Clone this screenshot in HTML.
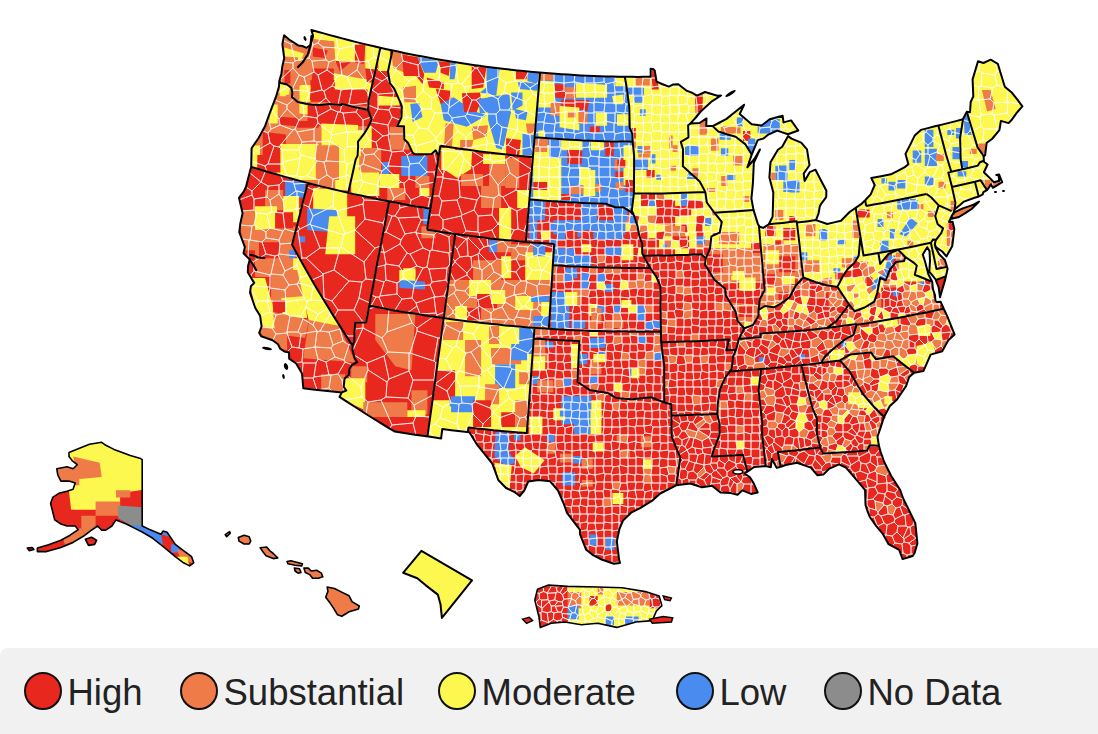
<!DOCTYPE html>
<html><head><meta charset="utf-8"><style>
html,body{margin:0;padding:0;background:#fff;width:1098px;height:734px;overflow:hidden}
svg{position:absolute;left:0;top:0}
.legend{position:absolute;left:0;top:648px;width:1110px;height:100px;background:#f1f1f1;border-radius:8px}
.it{position:absolute;top:24px;height:38px;font-family:"Liberation Sans",sans-serif;font-size:36.5px;color:#222;line-height:38px;white-space:nowrap}
.tx{position:relative;top:2px}
.dot{display:inline-block;width:34px;height:34px;border:2px solid #111;border-radius:50%;vertical-align:top;margin-right:5.5px}
</style></head><body>
<svg width="1098" height="734" viewBox="0 0 1098 734">
<defs><clipPath id="land"><path d="M284.1 35.3L282.4 44.3L284.2 58.2L282.3 66.5L281.4 73.9L279.3 81.1L279.0 86.5L276.0 96.7L269.2 114.6L264.9 126.6L258.6 138.0L251.6 148.3L251.2 166.9L249.8 172.0L246.1 186.5L243.9 191.3L239.0 197.8L242.6 213.2L240.3 223.6L239.3 232.1L244.9 247.1L243.5 253.3L249.8 259.6L248.1 265.7L247.8 272.2L251.5 278.6L254.2 282.9L250.9 286.3L250.0 292.6L255.3 308.0L260.1 315.8L261.6 326.5L259.1 332.8L261.2 336.2L272.6 340.3L278.0 344.3L280.2 348.7L284.4 351.5L289.0 352.4L289.2 358.6L296.2 363.5L302.0 373.5L302.7 381.2L303.3 388.2L312.9 389.4L322.6 390.4L332.2 391.4L341.8 392.4L339.5 396.9L347.2 401.9L355.1 407.0L362.9 412.0L370.8 417.0L378.8 421.9L386.8 426.8L394.9 431.6L404.1 433.1L413.4 434.5L422.6 435.8L431.9 437.1L441.1 438.4L442.3 429.0L451.3 430.2L460.4 431.3L469.4 432.3L476.8 444.3L484.1 453.4L492.3 463.7L498.3 480.0L506.0 488.0L514.1 491.8L519.7 496.0L524.3 490.5L528.3 481.4L538.5 479.9L550.1 481.3L558.0 490.5L564.0 504.3L567.0 512.8L573.5 521.4L580.0 529.9L579.9 534.0L586.2 549.8L593.1 555.1L601.7 559.5L613.8 563.8L620.0 562.9L619.1 559.8L616.8 541.2L619.5 528.8L623.0 520.6L631.6 512.3L640.1 508.2L651.9 500.9L660.2 493.5L676.2 485.3L690.1 483.5L702.0 487.2L712.0 485.8L720.7 492.6L730.8 493.1L737.6 494.8L742.4 490.3L751.1 493.9L757.7 492.4L753.7 483.3L749.9 477.3L744.7 473.5L747.4 471.6L754.2 467.0L765.7 466.1L770.8 467.3L771.8 458.8L776.7 467.9L780.7 466.9L785.6 465.0L797.0 462.8L810.8 467.6L817.5 475.3L823.3 474.6L829.3 468.6L835.7 465.8L838.9 464.3L846.0 467.6L858.0 481.7L865.1 490.2L865.5 504.8L867.0 509.8L869.7 516.7L876.3 526.2L882.6 533.6L888.6 544.2L899.2 549.8L902.6 559.1L912.7 556.0L914.8 552.5L917.4 543.3L915.3 523.2L907.3 506.7L903.4 499.0L900.2 490.0L891.1 475.7L884.2 462.0L880.7 452.0L878.9 445.8L877.5 436.7L880.9 426.6L884.0 417.0L885.5 414.2L889.9 406.0L897.0 399.5L906.0 386.1L909.2 377.0L914.2 372.8L923.4 371.1L930.6 354.6L942.2 351.2L948.3 340.2L954.6 334.5L947.0 315.6L943.7 308.7L940.7 301.8L937.2 302.1L935.4 300.8L935.0 295.4L933.0 289.3L932.2 281.9L930.8 279.0L928.3 274.1L924.8 260.7L922.8 254.6L927.2 247.2L929.5 251.0L930.0 260.7L929.3 271.7L935.4 279.1L938.6 287.1L940.0 297.2L945.3 279.1L947.6 268.8L944.9 260.0L939.2 254.3L935.5 247.6L934.8 244.4L936.2 247.4L942.3 251.5L946.4 256.4L952.3 245.9L954.3 229.1L952.6 221.8L949.0 222.0L951.4 216.6L953.5 212.9L954.7 209.3L960.3 204.7L963.9 201.6L974.6 197.7L978.1 196.8L982.8 194.3L983.4 192.1L987.0 190.1L989.1 187.3L990.8 184.2L992.9 187.8L1002.2 182.1L999.1 174.6L996.3 174.9L998.4 174.8L999.3 180.7L993.9 182.2L990.9 179.1L983.9 172.2L987.6 164.5L984.0 161.8L983.6 156.4L985.1 155.3L986.7 142.7L992.0 139.0L999.4 130.2L1000.9 120.9L1008.6 123.1L1011.3 120.3L1016.7 112.8L1022.4 106.3L1017.8 100.2L1011.4 92.2L1004.8 86.7L1001.3 75.2L997.8 63.8L990.7 59.7L983.4 63.0L978.0 61.3L972.6 79.4L973.3 96.4L970.7 102.0L970.0 112.3L966.8 111.8L962.9 119.2L956.0 121.1L949.0 122.9L942.0 124.6L934.9 126.3L927.9 128.1L920.9 129.9L914.7 135.6L909.9 145.4L905.5 153.9L908.4 164.2L904.8 167.1L897.8 170.8L890.9 174.3L881.1 176.2L871.3 178.0L874.7 185.0L870.7 194.4L865.2 200.3L861.1 204.2L849.6 212.0L841.0 220.8L834.1 222.4L827.2 224.0L816.0 220.1L818.6 213.3L819.8 206.3L821.5 203.3L826.2 197.2L826.4 190.7L820.9 180.3L815.5 169.7L809.7 172.2L804.6 180.9L803.7 173.5L809.5 165.2L807.0 149.4L801.2 142.7L791.6 138.6L788.0 136.2L782.2 146.7L777.9 149.8L770.5 162.3L769.4 177.4L773.3 192.4L773.0 204.5L772.6 216.7L768.8 224.3L763.1 227.9L759.1 226.5L757.7 223.4L753.5 209.9L751.4 198.6L752.9 183.3L753.8 162.9L759.9 149.5L754.7 158.5L747.4 167.3L751.7 154.6L757.7 140.1L763.5 138.5L767.8 134.9L777.2 130.6L787.9 134.3L798.3 130.5L791.1 120.4L783.5 122.4L782.6 115.7L776.1 117.5L769.7 119.3L761.6 125.5L751.7 124.3L739.7 114.0L744.1 104.7L736.3 111.1L726.5 118.9L719.7 122.5L712.7 126.1L706.2 125.9L706.5 118.4L699.6 123.0L690.5 123.4L695.8 117.5L700.7 111.5L712.2 101.1L721.1 95.5L717.3 95.7L710.8 93.8L705.0 92.0L697.0 95.6L691.8 92.6L686.7 90.7L682.8 87.7L678.3 84.3L673.3 84.4L668.9 86.6L662.0 84.0L656.6 81.6L654.7 70.4L653.1 69.0L650.6 68.8L650.7 76.8L644.3 76.8L637.9 76.9L631.6 76.8L625.2 76.8L618.8 76.7L612.5 76.5L606.1 76.4L599.8 76.2L593.4 75.9L587.1 75.7L580.7 75.4L574.3 75.0L568.0 74.6L561.6 74.2L555.3 73.8L548.9 73.3L542.6 72.8L536.3 72.3L529.9 71.7L523.6 71.1L517.3 70.4L510.9 69.7L504.6 69.0L498.3 68.3L492.0 67.5L485.7 66.7L479.4 65.8L473.1 64.9L466.8 64.0L460.5 63.0L454.2 62.0L447.9 61.0L441.6 60.0L435.4 58.9L429.1 57.7L422.8 56.6L416.6 55.4L410.3 54.2L404.1 52.9L397.9 51.6L391.7 50.3L385.4 48.9L379.2 47.5L373.0 46.1L366.8 44.6L360.6 43.1L354.5 41.6L348.3 40.0L342.1 38.4L336.0 36.8L329.8 35.1L323.7 33.4L317.6 31.7L311.4 29.9L313.1 35.9L310.5 45.0L306.5 47.8L302.4 46.0L298.2 45.4L289.1 39.5ZM951.6 218.8L958.9 217.0L965.3 213.1L971.6 209.0L979.1 201.6L973.5 204.6L969.4 206.1L962.7 208.4L954.8 212.1L951.9 215.4Z"/></clipPath><clipPath id="ak"><path d="M69.0 452.5L81.3 447.4L89.5 444.3L101.7 442.3L105.8 445.3L114.0 449.4L122.2 452.5L130.3 455.5L140.6 458.6L142.2 459.6L142.2 526.0L146.7 528.1L150.8 530.1L161.0 534.2L163.0 531.1L167.1 532.2L175.3 544.4L183.5 550.6L191.6 556.7L193.7 562.8L189.6 565.9L183.5 562.8L175.3 556.7L163.0 546.5L152.8 538.3L142.6 532.2L134.4 528.1L126.3 524.0L116.0 519.9L111.9 526.0L105.8 530.1L101.7 530.1L97.6 526.0L91.5 530.1L83.3 536.3L73.1 542.4L60.9 547.5L46.6 551.6L37.4 551.6L37.4 548.1L48.6 544.8L60.9 540.3L70.1 535.2L78.2 529.7L75.2 526.0L67.0 526.0L60.9 524.0L54.7 519.9L52.7 511.7L50.6 503.6L52.7 497.4L58.8 493.3L67.0 491.3L73.1 489.3L75.2 483.1L69.0 481.1L60.9 481.1L57.8 475.0L56.8 468.8L67.0 466.8L73.1 468.8L77.2 464.7L72.1 460.6L69.0 456.6ZM85.4 539.3L91.5 537.3L96.6 540.3L94.6 544.4L88.5 545.4ZM27.2 548.1L32.3 547.5L33.9 549.5L29.2 550.6Z"/></clipPath><clipPath id="pr"><path d="M537.5 589.2L548.5 585.1L567.6 586.4L597.7 587.0L622.2 587.8L646.8 591.9L659.1 596.0L661.9 605.6L656.4 611.0L652.3 620.6L635.9 622.0L616.8 627.4L597.7 623.3L581.3 624.7L564.9 622.0L551.2 623.3L540.3 627.4L538.9 616.5L534.8 600.1Z"/></clipPath></defs>
<path d="M284.1 35.3L282.4 44.3L284.2 58.2L282.3 66.5L281.4 73.9L279.3 81.1L279.0 86.5L276.0 96.7L269.2 114.6L264.9 126.6L258.6 138.0L251.6 148.3L251.2 166.9L249.8 172.0L246.1 186.5L243.9 191.3L239.0 197.8L242.6 213.2L240.3 223.6L239.3 232.1L244.9 247.1L243.5 253.3L249.8 259.6L248.1 265.7L247.8 272.2L251.5 278.6L254.2 282.9L250.9 286.3L250.0 292.6L255.3 308.0L260.1 315.8L261.6 326.5L259.1 332.8L261.2 336.2L272.6 340.3L278.0 344.3L280.2 348.7L284.4 351.5L289.0 352.4L289.2 358.6L296.2 363.5L302.0 373.5L302.7 381.2L303.3 388.2L312.9 389.4L322.6 390.4L332.2 391.4L341.8 392.4L339.5 396.9L347.2 401.9L355.1 407.0L362.9 412.0L370.8 417.0L378.8 421.9L386.8 426.8L394.9 431.6L404.1 433.1L413.4 434.5L422.6 435.8L431.9 437.1L441.1 438.4L442.3 429.0L451.3 430.2L460.4 431.3L469.4 432.3L476.8 444.3L484.1 453.4L492.3 463.7L498.3 480.0L506.0 488.0L514.1 491.8L519.7 496.0L524.3 490.5L528.3 481.4L538.5 479.9L550.1 481.3L558.0 490.5L564.0 504.3L567.0 512.8L573.5 521.4L580.0 529.9L579.9 534.0L586.2 549.8L593.1 555.1L601.7 559.5L613.8 563.8L620.0 562.9L619.1 559.8L616.8 541.2L619.5 528.8L623.0 520.6L631.6 512.3L640.1 508.2L651.9 500.9L660.2 493.5L676.2 485.3L690.1 483.5L702.0 487.2L712.0 485.8L720.7 492.6L730.8 493.1L737.6 494.8L742.4 490.3L751.1 493.9L757.7 492.4L753.7 483.3L749.9 477.3L744.7 473.5L747.4 471.6L754.2 467.0L765.7 466.1L770.8 467.3L771.8 458.8L776.7 467.9L780.7 466.9L785.6 465.0L797.0 462.8L810.8 467.6L817.5 475.3L823.3 474.6L829.3 468.6L835.7 465.8L838.9 464.3L846.0 467.6L858.0 481.7L865.1 490.2L865.5 504.8L867.0 509.8L869.7 516.7L876.3 526.2L882.6 533.6L888.6 544.2L899.2 549.8L902.6 559.1L912.7 556.0L914.8 552.5L917.4 543.3L915.3 523.2L907.3 506.7L903.4 499.0L900.2 490.0L891.1 475.7L884.2 462.0L880.7 452.0L878.9 445.8L877.5 436.7L880.9 426.6L884.0 417.0L885.5 414.2L889.9 406.0L897.0 399.5L906.0 386.1L909.2 377.0L914.2 372.8L923.4 371.1L930.6 354.6L942.2 351.2L948.3 340.2L954.6 334.5L947.0 315.6L943.7 308.7L940.7 301.8L937.2 302.1L935.4 300.8L935.0 295.4L933.0 289.3L932.2 281.9L930.8 279.0L928.3 274.1L924.8 260.7L922.8 254.6L927.2 247.2L929.5 251.0L930.0 260.7L929.3 271.7L935.4 279.1L938.6 287.1L940.0 297.2L945.3 279.1L947.6 268.8L944.9 260.0L939.2 254.3L935.5 247.6L934.8 244.4L936.2 247.4L942.3 251.5L946.4 256.4L952.3 245.9L954.3 229.1L952.6 221.8L949.0 222.0L951.4 216.6L953.5 212.9L954.7 209.3L960.3 204.7L963.9 201.6L974.6 197.7L978.1 196.8L982.8 194.3L983.4 192.1L987.0 190.1L989.1 187.3L990.8 184.2L992.9 187.8L1002.2 182.1L999.1 174.6L996.3 174.9L998.4 174.8L999.3 180.7L993.9 182.2L990.9 179.1L983.9 172.2L987.6 164.5L984.0 161.8L983.6 156.4L985.1 155.3L986.7 142.7L992.0 139.0L999.4 130.2L1000.9 120.9L1008.6 123.1L1011.3 120.3L1016.7 112.8L1022.4 106.3L1017.8 100.2L1011.4 92.2L1004.8 86.7L1001.3 75.2L997.8 63.8L990.7 59.7L983.4 63.0L978.0 61.3L972.6 79.4L973.3 96.4L970.7 102.0L970.0 112.3L966.8 111.8L962.9 119.2L956.0 121.1L949.0 122.9L942.0 124.6L934.9 126.3L927.9 128.1L920.9 129.9L914.7 135.6L909.9 145.4L905.5 153.9L908.4 164.2L904.8 167.1L897.8 170.8L890.9 174.3L881.1 176.2L871.3 178.0L874.7 185.0L870.7 194.4L865.2 200.3L861.1 204.2L849.6 212.0L841.0 220.8L834.1 222.4L827.2 224.0L816.0 220.1L818.6 213.3L819.8 206.3L821.5 203.3L826.2 197.2L826.4 190.7L820.9 180.3L815.5 169.7L809.7 172.2L804.6 180.9L803.7 173.5L809.5 165.2L807.0 149.4L801.2 142.7L791.6 138.6L788.0 136.2L782.2 146.7L777.9 149.8L770.5 162.3L769.4 177.4L773.3 192.4L773.0 204.5L772.6 216.7L768.8 224.3L763.1 227.9L759.1 226.5L757.7 223.4L753.5 209.9L751.4 198.6L752.9 183.3L753.8 162.9L759.9 149.5L754.7 158.5L747.4 167.3L751.7 154.6L757.7 140.1L763.5 138.5L767.8 134.9L777.2 130.6L787.9 134.3L798.3 130.5L791.1 120.4L783.5 122.4L782.6 115.7L776.1 117.5L769.7 119.3L761.6 125.5L751.7 124.3L739.7 114.0L744.1 104.7L736.3 111.1L726.5 118.9L719.7 122.5L712.7 126.1L706.2 125.9L706.5 118.4L699.6 123.0L690.5 123.4L695.8 117.5L700.7 111.5L712.2 101.1L721.1 95.5L717.3 95.7L710.8 93.8L705.0 92.0L697.0 95.6L691.8 92.6L686.7 90.7L682.8 87.7L678.3 84.3L673.3 84.4L668.9 86.6L662.0 84.0L656.6 81.6L654.7 70.4L653.1 69.0L650.6 68.8L650.7 76.8L644.3 76.8L637.9 76.9L631.6 76.8L625.2 76.8L618.8 76.7L612.5 76.5L606.1 76.4L599.8 76.2L593.4 75.9L587.1 75.7L580.7 75.4L574.3 75.0L568.0 74.6L561.6 74.2L555.3 73.8L548.9 73.3L542.6 72.8L536.3 72.3L529.9 71.7L523.6 71.1L517.3 70.4L510.9 69.7L504.6 69.0L498.3 68.3L492.0 67.5L485.7 66.7L479.4 65.8L473.1 64.9L466.8 64.0L460.5 63.0L454.2 62.0L447.9 61.0L441.6 60.0L435.4 58.9L429.1 57.7L422.8 56.6L416.6 55.4L410.3 54.2L404.1 52.9L397.9 51.6L391.7 50.3L385.4 48.9L379.2 47.5L373.0 46.1L366.8 44.6L360.6 43.1L354.5 41.6L348.3 40.0L342.1 38.4L336.0 36.8L329.8 35.1L323.7 33.4L317.6 31.7L311.4 29.9L313.1 35.9L310.5 45.0L306.5 47.8L302.4 46.0L298.2 45.4L289.1 39.5ZM951.6 218.8L958.9 217.0L965.3 213.1L971.6 209.0L979.1 201.6L973.5 204.6L969.4 206.1L962.7 208.4L954.8 212.1L951.9 215.4Z" fill="#e8281e"/>
<g clip-path="url(#land)">
<path d="M379.2 47.5L373.0 46.1L366.8 44.6L360.6 43.1L354.5 41.6L348.3 40.0L342.1 38.4L336.0 36.8L329.8 35.1L323.7 33.4L317.6 31.7L311.4 29.9L313.1 35.9L310.5 45.0L306.5 47.8L302.4 46.0L298.2 45.4L289.1 39.5L284.1 35.3L282.4 44.3L284.2 58.2L282.3 66.5L281.4 73.9L279.3 81.1L280.7 83.0L287.1 84.5L291.5 88.1L292.3 92.7L292.0 97.0L297.8 102.0L304.6 103.4L311.5 104.7L320.9 105.1L329.4 104.0L341.3 104.9L341.7 103.9L348.3 105.5L354.9 107.1L361.5 108.6L368.1 110.1L368.5 101.1L371.5 87.7L374.5 74.4L377.4 61.1L380.4 47.8L380.4 47.8Z" fill="#ef7b49"/><path d="M279.0 86.5L276.0 96.7L269.2 114.6L264.9 126.6L258.6 138.0L251.6 148.3L251.2 166.9L257.9 168.9L264.7 171.0L271.5 173.0L278.3 174.9L285.2 176.9L292.0 178.7L298.8 180.6L305.7 182.4L307.9 183.0L312.5 184.2L319.4 185.9L326.3 187.6L333.2 189.3L340.1 190.9L347.0 192.5L348.2 192.8L350.7 181.7L353.2 170.7L355.6 159.6L357.6 155.7L358.1 147.1L358.0 141.6L363.8 134.2L367.9 127.5L371.7 119.6L368.1 110.1L361.5 108.6L354.9 107.1L348.3 105.5L341.7 103.9L341.3 104.9L329.4 104.0L320.9 105.1L311.5 104.7L304.6 103.4L297.8 102.0L292.0 97.0L292.3 92.7L291.5 88.1L287.1 84.5L280.7 83.0L279.3 81.1Z" fill="#ef7b49"/><path d="M249.8 172.0L246.1 186.5L243.9 191.3L239.0 197.8L242.6 213.2L240.3 223.6L239.3 232.1L244.9 247.1L243.5 253.3L249.8 259.6L248.1 265.7L247.8 272.2L251.5 278.6L254.2 282.9L250.9 286.3L250.0 292.6L255.3 308.0L260.1 315.8L261.6 326.5L259.1 332.8L261.2 336.2L272.6 340.3L278.0 344.3L280.2 348.7L284.4 351.5L289.0 352.4L289.2 358.6L296.2 363.5L302.0 373.5L302.7 381.2L303.3 388.2L312.9 389.4L322.6 390.4L332.2 391.4L341.8 392.4L346.3 390.5L343.7 386.8L344.6 378.4L348.8 374.9L349.6 368.6L351.8 365.2L357.2 362.2L354.5 357.8L352.3 348.8L352.5 345.6L346.0 335.6L339.6 325.6L333.3 315.6L327.1 305.6L321.0 295.5L315.0 285.4L309.1 275.3L303.3 265.1L297.7 255.0L292.1 244.8L294.7 234.5L297.3 224.2L300.0 213.9L302.6 203.6L305.2 193.3L307.9 183.0L307.9 183.0L305.7 182.4L298.8 180.6L292.0 178.7L285.2 176.9L278.3 174.9L271.5 173.0L264.7 171.0L257.9 168.9L251.2 166.9Z" fill="#e8281e"/><path d="M347.0 192.5L340.1 190.9L333.2 189.3L326.3 187.6L319.4 185.9L312.5 184.2L307.9 183.0L307.9 183.0L305.2 193.3L302.6 203.6L300.0 213.9L297.3 224.2L294.7 234.5L292.1 244.8L297.7 255.0L303.3 265.1L309.1 275.3L315.0 285.4L321.0 295.5L327.1 305.6L333.3 315.6L339.6 325.6L346.0 335.6L352.5 345.6L354.2 341.6L354.5 332.0L355.2 322.4L366.1 322.4L368.4 310.3L369.2 305.7L370.7 298.2L373.0 286.2L375.2 274.1L377.5 262.0L379.9 249.9L382.2 237.7L384.5 225.6L386.8 213.5L389.1 201.4L389.1 201.4L388.6 201.3L381.6 199.9L374.7 198.5L367.7 197.1L360.8 195.6L353.9 194.1L348.2 192.8Z" fill="#e8281e"/><path d="M391.7 50.3L385.4 48.9L380.4 47.8L380.4 47.8L377.4 61.1L374.5 74.4L371.5 87.7L368.5 101.1L368.1 110.1L371.7 119.6L367.9 127.5L363.8 134.2L358.0 141.6L358.1 147.1L357.6 155.7L355.6 159.6L353.2 170.7L350.7 181.7L348.2 192.8L353.9 194.1L360.8 195.6L367.7 197.1L374.7 198.5L381.6 199.9L388.6 201.3L389.1 201.4L395.5 202.6L402.5 203.9L409.5 205.2L416.4 206.4L423.4 207.6L430.4 208.7L432.1 198.2L433.7 187.7L435.4 177.2L437.0 166.7L438.7 156.2L435.6 150.3L431.6 153.9L420.6 154.2L415.1 154.3L412.7 152.8L408.3 143.3L404.3 139.3L404.0 126.3L397.3 126.1L401.5 117.2L401.8 106.4L400.5 102.9L394.2 88.6L390.0 83.4L388.0 71.5L390.2 61.0L392.4 50.4L392.4 50.4Z" fill="#e8281e"/><path d="M536.3 72.3L529.9 71.7L523.6 71.1L517.3 70.4L510.9 69.7L504.6 69.0L498.3 68.3L492.0 67.5L485.7 66.7L479.4 65.8L473.1 64.9L466.8 64.0L460.5 63.0L454.2 62.0L447.9 61.0L441.6 60.0L435.4 58.9L429.1 57.7L422.8 56.6L416.6 55.4L410.3 54.2L404.1 52.9L397.9 51.6L392.4 50.4L392.4 50.4L390.2 61.0L388.0 71.5L390.0 83.4L394.2 88.6L400.5 102.9L401.8 106.4L401.5 117.2L397.3 126.1L404.0 126.3L404.3 139.3L408.3 143.3L412.7 152.8L415.1 154.3L420.6 154.2L431.6 153.9L435.6 150.3L438.7 156.2L440.4 145.7L446.9 146.7L453.5 147.7L460.1 148.7L466.7 149.6L473.3 150.5L479.9 151.4L486.5 152.2L493.2 153.0L499.8 153.8L506.4 154.5L513.0 155.2L519.7 155.9L526.3 156.5L532.9 157.1L533.8 146.5L534.6 137.2L534.7 135.9L535.6 125.3L536.5 114.8L537.4 104.2L538.3 93.7L539.1 83.1L540.0 72.6L540.0 72.6Z" fill="#fdf84f"/><path d="M438.7 156.2L437.0 166.7L435.4 177.2L433.7 187.7L432.1 198.2L430.4 208.7L428.7 219.2L427.1 229.7L434.1 230.8L441.1 231.9L448.2 233.0L455.2 233.9L462.2 234.9L469.3 235.8L476.3 236.7L483.4 237.6L490.5 238.4L497.5 239.2L504.6 239.9L511.7 240.6L518.7 241.3L525.8 241.9L526.7 231.3L527.6 220.7L528.5 210.1L529.4 199.5L530.3 188.9L531.2 178.3L532.0 167.7L532.9 157.1L526.3 156.5L519.7 155.9L513.0 155.2L506.4 154.5L499.8 153.8L493.2 153.0L486.5 152.2L479.9 151.4L473.3 150.5L466.7 149.6L460.1 148.7L453.5 147.7L446.9 146.7L440.4 145.7Z" fill="#e8281e"/><path d="M423.4 207.6L416.4 206.4L409.5 205.2L402.5 203.9L395.5 202.6L389.1 201.4L389.1 201.4L386.8 213.5L384.5 225.6L382.2 237.7L379.9 249.9L377.5 262.0L375.2 274.1L373.0 286.2L370.7 298.2L369.2 305.7L376.6 307.1L384.1 308.5L391.5 309.9L398.9 311.2L406.4 312.4L413.8 313.6L421.3 314.8L428.8 316.0L436.2 317.1L443.7 318.1L444.4 313.1L445.9 301.8L447.5 290.5L449.0 279.2L450.6 267.9L452.1 256.6L453.7 245.3L455.2 233.9L448.2 233.0L441.1 231.9L434.1 230.8L427.1 229.7L428.7 219.2L430.4 208.7Z" fill="#e8281e"/><path d="M339.5 396.9L347.2 401.9L355.1 407.0L362.9 412.0L370.8 417.0L378.8 421.9L386.8 426.8L394.9 431.6L404.1 433.1L413.4 434.5L422.6 435.8L427.5 436.5L429.0 425.4L430.6 414.2L432.1 403.0L433.6 391.8L435.2 380.6L436.7 369.4L438.2 358.2L439.8 346.9L441.3 335.6L442.8 324.4L443.7 318.1L436.2 317.1L428.8 316.0L421.3 314.8L413.8 313.6L406.4 312.4L398.9 311.2L391.5 309.9L384.1 308.5L376.6 307.1L369.2 305.7L368.4 310.3L366.1 322.4L355.2 322.4L354.5 332.0L354.2 341.6L352.5 345.6L352.3 348.8L354.5 357.8L357.2 362.2L351.8 365.2L349.6 368.6L348.8 374.9L344.6 378.4L343.7 386.8L346.3 390.5L341.8 392.4Z" fill="#e8281e"/><path d="M453.7 245.3L452.1 256.6L450.6 267.9L449.0 279.2L447.5 290.5L445.9 301.8L444.4 313.1L443.7 318.1L451.4 319.2L459.1 320.2L466.8 321.2L474.6 322.1L482.3 323.0L490.0 323.8L497.8 324.6L505.5 325.4L513.3 326.1L521.0 326.7L528.8 327.4L534.5 327.8L536.5 328.0L544.3 328.5L548.8 328.8L549.5 318.2L550.2 307.6L550.8 297.0L551.5 286.4L552.2 275.8L552.8 265.2L553.5 254.6L554.2 244.0L547.1 243.5L540.0 243.0L532.9 242.5L525.8 241.9L518.7 241.3L511.7 240.6L504.6 239.9L497.5 239.2L490.5 238.4L483.4 237.6L476.3 236.7L469.3 235.8L462.2 234.9L455.2 233.9Z" fill="#e8281e"/><path d="M431.9 437.1L441.1 438.4L442.3 429.0L451.3 430.2L460.4 431.3L467.8 432.1L468.5 427.5L476.8 428.5L485.1 429.3L493.5 430.2L501.8 430.9L510.1 431.7L518.5 432.4L526.8 433.0L527.6 422.5L528.4 412.1L529.1 401.6L529.9 391.1L530.7 380.5L531.4 370.0L532.2 359.5L533.0 348.9L533.7 338.4L534.5 327.8L534.5 327.8L528.8 327.4L521.0 326.7L513.3 326.1L505.5 325.4L497.8 324.6L490.0 323.8L482.3 323.0L474.6 322.1L466.8 321.2L459.1 320.2L451.4 319.2L443.7 318.1L442.8 324.4L441.3 335.6L439.8 346.9L438.2 358.2L436.7 369.4L435.2 380.6L433.6 391.8L432.1 403.0L430.6 414.2L429.0 425.4L427.5 436.5Z" fill="#fdf84f"/><path d="M618.8 76.7L612.5 76.5L606.1 76.4L599.8 76.2L593.4 75.9L587.1 75.7L580.7 75.4L574.3 75.0L568.0 74.6L561.6 74.2L555.3 73.8L548.9 73.3L542.6 72.8L540.0 72.6L540.0 72.6L539.1 83.1L538.3 93.7L537.4 104.2L536.5 114.8L535.6 125.3L534.7 135.9L534.6 137.2L541.6 137.8L548.6 138.3L555.6 138.8L562.6 139.3L569.6 139.7L576.6 140.1L583.6 140.4L590.6 140.7L597.7 141.0L604.7 141.2L611.7 141.4L618.7 141.5L625.7 141.6L632.7 141.7L632.3 134.0L629.7 127.6L629.5 117.0L629.2 106.4L627.8 95.8L626.3 85.2L624.8 76.8L624.8 76.8Z" fill="#4a8bf0"/><path d="M533.8 146.5L532.9 157.1L532.0 167.7L531.2 178.3L530.3 188.9L529.4 199.5L537.0 200.1L544.6 200.7L552.2 201.2L559.9 201.7L567.5 202.2L575.1 202.6L582.8 202.9L590.4 203.2L598.0 203.5L605.7 203.7L615.2 207.2L623.5 207.3L630.4 211.6L633.8 215.0L631.8 210.6L633.9 193.5L634.0 180.8L634.1 168.0L634.1 155.3L632.7 141.7L625.7 141.6L618.7 141.5L611.7 141.4L604.7 141.2L597.7 141.0L590.6 140.7L583.6 140.4L576.6 140.1L569.6 139.7L562.6 139.3L555.6 138.8L548.6 138.3L541.6 137.8L534.6 137.2Z" fill="#4a8bf0"/><path d="M532.9 242.5L540.0 243.0L547.1 243.5L554.2 244.0L553.5 254.6L552.8 265.2L560.9 265.7L569.0 266.2L577.1 266.6L585.3 266.9L593.4 267.2L601.5 267.5L609.6 267.7L617.7 267.8L625.8 268.0L634.0 268.0L642.1 268.0L650.2 268.0L643.4 255.7L642.2 253.1L642.2 243.6L639.4 236.1L637.3 225.5L633.8 215.0L630.4 211.6L623.5 207.3L615.2 207.2L605.7 203.7L598.0 203.5L590.4 203.2L582.8 202.9L575.1 202.6L567.5 202.2L559.9 201.7L552.2 201.2L544.6 200.7L537.0 200.1L529.4 199.5L528.5 210.1L527.6 220.7L526.7 231.3L525.8 241.9Z" fill="#e8281e"/><path d="M533 207L534 215L541 215L541 214L542 208L542 207L534 206ZM542 207L542 201L537 200L534 200L533 200L534 206ZM550 244L554 244L554 248L557 248L557 247L557 240L550 239ZM558 263L557 263L553 263L553 265L558 266ZM550 231L557 231L558 224L550 223ZM566 240L567 239L566 232L558 232L557 240ZM566 216L566 222L574 224L574 216L573 215L566 215ZM573 257L575 255L574 247L574 247L566 248L566 255ZM574 224L582 223L581 216L574 216L574 224ZM574 216L581 216L582 216L581 208L575 208L573 215ZM582 216L589 215L590 208L582 207L581 208ZM582 267L585 267L589 267L590 263L581 263L581 263ZM582 239L590 240L589 232L582 231L582 232ZM599 231L606 232L605 224L598 223L598 223ZM606 255L613 256L614 255L614 247L613 247L606 247L605 248L605 255ZM599 216L598 223L605 224L606 223L607 216L606 216ZM605 207L613 208L614 207L606 204L605 204ZM614 231L615 232L622 231L622 223L622 223L615 223L613 224ZM613 208L614 215L622 215L622 215L623 207L620 207L615 207L614 207ZM613 216L615 223L622 223L622 215L614 215ZM614 255L621 256L622 255L623 248L622 247L614 247ZM615 232L615 239L622 240L623 239L622 232L622 231ZM630 215L634 216L634 215L630 212L630 211ZM631 224L636 224L637 224L634 216L630 215L630 216L629 223ZM636 224L638 231L638 231L637 225L637 224Z" fill="#4a8bf0"/><path d="M541 231L542 240L550 239L550 231L542 231ZM542 208L549 208L550 207L551 201L545 201L542 201L542 207ZM582 223L582 224L590 223L590 216L589 215L582 216L581 216ZM591 208L597 208L598 204L590 203L590 203ZM622 231L622 232L629 231L631 224L629 223L622 223ZM638 256L643 256L643 256L642 253L642 248L639 248L638 256Z" fill="#fdf84f"/><path d="M558 255L557 248L554 248L553 255L553 255ZM566 232L567 239L574 240L574 231L573 230L566 231ZM598 263L605 262L606 255L605 255L597 255ZM622 223L622 223L629 223L630 216L622 215L622 215ZM629 231L630 232L638 231L636 224L631 224Z" fill="#ef7b49"/><path d="M552.2 275.8L551.5 286.4L550.8 297.0L550.2 307.6L549.5 318.2L548.8 328.8L552.1 329.0L559.8 329.5L567.6 329.9L575.4 330.3L583.1 330.6L590.9 330.9L598.7 331.1L606.5 331.3L614.2 331.5L622.0 331.6L629.8 331.7L637.6 331.7L645.4 331.7L653.1 331.7L660.9 331.6L660.9 328.4L660.7 314.6L660.5 300.8L660.3 287.0L660.6 287.0L656.1 276.4L650.2 268.0L642.1 268.0L634.0 268.0L625.8 268.0L617.7 267.8L609.6 267.7L601.5 267.5L593.4 267.2L585.3 266.9L577.1 266.6L569.0 266.2L560.9 265.7L552.8 265.2Z" fill="#e8281e"/><path d="M549 328L550 321L549 321L549 329ZM556 274L556 274L557 266L553 266L552 274ZM556 282L556 282L564 282L564 282L564 274L556 274L556 274ZM573 329L565 328L564 330L568 330L573 330L573 329ZM581 329L573 329L573 330L575 330L581 330ZM574 305L580 306L581 305L581 296L573 297L573 305ZM573 297L573 297L581 296L581 296L581 289L572 289ZM588 330L581 329L581 329L581 330L583 331L588 331ZM581 289L581 296L588 297L590 290L588 289L581 289ZM590 274L597 274L597 274L597 267L593 267L590 267L589 273ZM589 329L597 330L597 330L597 321L589 321ZM604 273L605 274L613 273L612 268L610 268L605 268ZM614 274L620 274L621 273L621 268L618 268L612 268L613 273ZM613 314L613 321L613 321L622 321L620 313L620 313L614 313ZM628 281L628 289L629 289L637 288L636 281L629 281ZM636 281L637 288L638 289L644 288L645 282L644 280L637 280ZM637 273L637 280L644 280L645 274L644 273ZM644 305L646 313L653 313L653 313L653 305L653 305L645 305ZM645 289L653 289L653 282L652 281L645 282L644 288Z" fill="#ef7b49"/><path d="M564 282L573 281L572 274L565 273L564 274ZM581 273L581 281L581 281L588 281L590 274L589 273L581 272ZM581 289L588 289L590 282L588 281L581 281ZM596 305L596 312L598 314L604 313L605 313L605 306L605 306L597 305ZM597 274L597 282L604 282L606 280L605 274L604 273L597 274ZM614 313L620 313L621 306L621 305L613 305ZM644 330L637 330L636 332L638 332L644 332ZM637 313L637 314L645 313L646 313L644 305L637 305ZM637 321L645 321L645 313L637 314L637 321ZM654 328L652 321L645 322L645 329L652 330ZM654 328L660 329L661 325L661 321L653 320L652 321Z" fill="#4a8bf0"/><path d="M597 282L597 289L604 290L606 289L604 282L597 282ZM621 281L620 289L621 290L628 289L628 281L621 280ZM637 305L637 305L629 305L628 306L629 313L637 313ZM653 282L658 282L656 276L654 273L654 273L652 274L652 281Z" fill="#fdf84f"/><path d="M660.9 331.6L653.1 331.7L645.4 331.7L637.6 331.7L629.8 331.7L622.0 331.6L614.2 331.5L606.5 331.3L598.7 331.1L590.9 330.9L583.1 330.6L575.4 330.3L567.6 329.9L559.8 329.5L552.1 329.0L548.8 328.8L544.3 328.5L536.5 328.0L534.5 327.8L534.5 327.8L533.7 338.4L541.3 338.9L548.9 339.4L556.5 339.9L564.1 340.3L571.7 340.7L579.3 341.0L578.7 354.7L578.1 368.4L577.6 382.0L589.8 390.1L598.4 391.4L607.1 392.7L616.4 398.1L624.3 398.8L632.2 399.3L641.7 398.3L651.1 397.2L664.2 402.5L664.2 390.2L664.2 377.8L664.2 365.4L662.6 353.8L661.1 342.2Z" fill="#e8281e"/><path d="M535 336L541 336L541 328L537 328L534 328L534 335ZM541 336L542 336L549 335L549 329L549 329L544 329L541 328ZM582 360L581 352L579 352L579 355L578 360ZM574 341L579 341L579 344L581 343L582 336L581 335L574 336ZM599 384L598 383L590 384L590 390L597 391ZM591 367L598 368L598 368L598 359L597 358L591 360ZM613 343L614 345L622 343L622 336L621 336L614 336ZM621 398L624 399L629 399L629 399L630 392L622 391L621 392ZM621 360L621 360L629 360L630 359L629 353L622 352ZM638 375L645 375L646 368L646 368L638 367L637 368ZM638 336L638 332L638 332L630 332L630 335ZM638 367L646 368L646 360L645 359L638 360ZM646 360L654 360L654 353L653 351L646 352L645 359ZM654 336L654 344L654 345L661 344L661 342L661 336L655 335ZM653 351L654 353L661 352L662 352L662 348L661 344L654 345ZM662 399L661 400L661 401L664 403L664 400ZM661 336L661 332L654 332L655 335ZM662 392L662 399L664 400L664 392Z" fill="#ef7b49"/><path d="M590 384L598 383L598 376L590 376L589 384ZM597 358L598 359L606 360L606 352L599 351L598 353ZM630 377L637 376L638 375L637 368L629 368L630 377ZM638 343L645 344L646 343L646 336L645 336L638 336ZM654 361L662 360L662 360L661 352L654 353L654 360Z" fill="#4a8bf0"/><path d="M590 336L597 336L598 331L591 331L590 331ZM614 383L614 391L621 392L622 391L622 384L621 383L614 383Z" fill="#fdf84f"/><path d="M469.4 432.3L476.8 444.3L484.1 453.4L492.3 463.7L498.3 480.0L506.0 488.0L514.1 491.8L519.7 496.0L524.3 490.5L528.3 481.4L538.5 479.9L550.1 481.3L558.0 490.5L564.0 504.3L567.0 512.8L573.5 521.4L580.0 529.9L579.9 534.0L586.2 549.8L593.1 555.1L601.7 559.5L613.8 563.8L620.0 562.9L619.1 559.8L616.8 541.2L619.5 528.8L623.0 520.6L631.6 512.3L640.1 508.2L651.9 500.9L660.2 493.5L676.2 485.3L678.2 472.3L680.3 457.6L676.0 447.3L671.8 436.9L671.6 426.2L671.4 415.5L671.2 404.3L664.2 402.5L651.1 397.2L641.7 398.3L632.2 399.3L624.3 398.8L616.4 398.1L607.1 392.7L598.4 391.4L589.8 390.1L577.6 382.0L578.1 368.4L578.7 354.7L579.3 341.0L571.7 340.7L564.1 340.3L556.5 339.9L548.9 339.4L541.3 338.9L533.7 338.4L533.0 348.9L532.2 359.5L531.4 370.0L530.7 380.5L529.9 391.1L529.1 401.6L528.4 412.1L527.6 422.5L526.8 433.0L518.5 432.4L510.1 431.7L501.8 430.9L493.5 430.2L485.1 429.3L476.8 428.5L468.5 427.5L467.8 432.1Z" fill="#e8281e"/><path d="M541 361L548 362L548 362L548 354L540 354L540 354ZM555 387L556 388L564 387L563 379L555 379ZM571 354L571 355L579 355L579 355L579 347L579 347L572 347ZM572 379L578 378L578 370L572 370L571 370L572 378ZM605 547L611 547L612 538L604 538L604 546ZM597 401L604 402L605 395L603 393L596 395ZM603 506L604 507L612 506L612 506L611 499L611 498L604 498L603 499ZM611 547L611 547L617 546L617 541L617 539L612 538L612 538ZM612 482L613 489L619 490L621 483L620 482L612 482ZM613 410L619 411L619 410L620 402L620 402L612 403ZM628 402L636 402L637 402L636 399L632 399L628 399ZM644 474L651 475L652 466L652 466L644 466L643 466ZM643 482L644 483L651 483L652 483L651 475L651 475L644 474L644 475ZM669 474L675 474L676 467L668 466L667 467ZM676 459L677 466L679 466L680 458L676 459Z" fill="#ef7b49"/><path d="M695.8 117.5L700.7 111.5L712.2 101.1L721.1 95.5L717.3 95.7L710.8 93.8L705.0 92.0L697.0 95.6L691.8 92.6L686.7 90.7L682.8 87.7L678.3 84.3L673.3 84.4L668.9 86.6L662.0 84.0L656.6 81.6L654.7 70.4L653.1 69.0L650.6 68.8L650.7 76.8L644.3 76.8L637.9 76.9L631.6 76.8L625.2 76.8L624.8 76.8L624.8 76.8L626.3 85.2L627.8 95.8L629.2 106.4L629.5 117.0L629.7 127.6L632.3 134.0L632.7 141.7L634.1 155.3L634.1 168.0L634.0 180.8L633.9 193.5L641.1 193.6L648.2 193.5L655.4 193.5L662.5 193.4L669.7 193.2L676.8 193.0L683.9 192.8L691.1 192.5L698.2 192.2L705.3 191.9L699.7 181.5L689.8 172.4L682.9 166.2L683.0 149.2L680.8 141.9L688.5 137.3L688.1 125.2L690.6 123.3Z" fill="#fdf84f"/><path d="M631.8 210.6L633.8 215.0L637.3 225.5L639.4 236.1L642.2 243.6L642.2 253.1L643.4 255.7L650.6 255.7L657.8 255.6L665.1 255.5L672.3 255.3L679.5 255.1L686.7 254.9L693.9 254.6L701.2 254.3L705.8 258.3L709.9 249.2L711.4 236.3L719.7 232.7L721.8 221.9L714.3 212.7L714.3 212.7L706.8 202.5L705.3 191.9L698.2 192.2L691.1 192.5L683.9 192.8L676.8 193.0L669.7 193.2L662.5 193.4L655.4 193.5L648.2 193.5L641.1 193.6L633.9 193.5Z" fill="#fdf84f"/><path d="M638 224L640 216L634 215L637 224ZM633 208L632 208L632 211L632 212ZM647 247L647 240L641 239L642 244L642 248ZM640 233L640 239L641 239L647 240L648 240L648 232L648 231ZM655 224L656 224L664 224L664 224L663 216L657 216ZM656 232L656 239L663 240L665 232L664 231ZM672 240L679 241L680 239L679 232L672 232L672 233L672 240ZM672 216L680 217L680 216L680 209L672 208ZM681 209L687 208L688 200L687 199L680 200ZM680 232L687 233L688 232L687 224L681 224ZM687 208L688 209L695 209L695 200L688 200ZM696 232L703 232L703 224L696 223L696 223L695 232ZM688 255L694 255L696 255L696 248L689 248ZM695 209L696 209L704 208L703 201L703 201L695 200L695 200ZM696 240L703 240L704 239L704 232L703 232L696 232L696 239ZM696 223L703 224L704 223L705 217L703 215L696 216ZM703 248L704 256L705 256L707 256L710 249L710 247L704 247ZM719 232L712 233L712 236L720 233L720 233ZM720 224L721 224L722 222L720 220Z" fill="#e8281e"/><path d="M639 232L640 233L648 231L647 225L640 225ZM647 217L648 223L655 224L657 216L656 215L648 215ZM656 199L664 200L665 199L664 193L663 193L656 193ZM664 248L671 248L672 240L672 240L664 240L664 248ZM664 207L665 208L672 208L673 200L673 199L665 199L664 200ZM664 224L672 224L671 216L664 216L663 216ZM696 248L703 248L704 247L703 240L696 240ZM704 247L710 247L711 240L704 239L703 240ZM712 216L717 216L714 213L714 213L711 208L711 209L712 216Z" fill="#ef7b49"/><path d="M650.2 268.0L656.1 276.4L660.6 287.0L660.3 287.0L660.5 300.8L660.7 314.6L660.9 328.4L660.9 331.6L661.1 342.2L669.6 342.0L678.1 341.8L686.6 341.6L695.1 341.3L703.5 340.9L712.0 340.5L720.5 340.1L729.0 339.6L726.3 350.3L736.1 349.7L738.9 338.9L744.2 328.3L737.6 320.9L735.5 311.5L725.6 295.1L725.2 288.8L714.4 279.8L704.9 264.4L705.8 258.3L701.2 254.3L693.9 254.6L686.7 254.9L679.5 255.1L672.3 255.3L665.1 255.5L657.8 255.6L650.6 255.7L643.4 255.7Z" fill="#e8281e"/><path d="M667 333L667 326L667 326L661 325L661 328L661 332L661 334ZM667 319L667 312L661 311L661 315L661 318ZM667 326L676 327L676 319L668 319L667 326ZM676 278L684 278L683 271L682 270L676 271ZM684 295L692 294L692 294L691 287L684 287L683 294ZM684 311L692 310L692 309L691 303L684 302L683 310ZM676 293L683 294L684 287L683 286L676 286ZM683 318L684 319L691 318L692 318L692 310L684 311ZM691 341L695 341L699 341L699 334L699 334L692 334L691 335ZM716 311L722 311L723 310L723 303L715 302L715 310ZM723 310L731 311L732 310L731 303L730 303L723 302L723 303ZM732 310L735 310L731 303Z" fill="#ef7b49"/><path d="M726.3 350.3L729.0 339.6L720.5 340.1L712.0 340.5L703.5 340.9L695.1 341.3L686.6 341.6L678.1 341.8L669.6 342.0L661.1 342.2L662.6 353.8L664.2 365.4L664.2 377.8L664.2 390.2L664.2 402.5L671.2 404.3L671.4 415.5L682.9 415.2L694.3 414.8L705.8 414.4L717.1 413.8L717.2 413.8L717.2 413.8L717.8 403.7L720.2 388.8L725.1 377.9L730.0 371.3L731.6 369.1L733.1 356.3L736.1 349.7Z" fill="#e8281e"/><path d="M668 387L669 380L664 380L664 388ZM669 363L669 364L676 363L677 356L670 355L668 356ZM677 347L678 347L685 347L685 342L678 342L677 342ZM684 356L686 363L692 363L693 356L693 355L685 355ZM708 411L702 412L702 412L701 415L706 414L709 414ZM694 405L701 404L701 404L701 396L693 395L692 396L693 404ZM701 364L701 364L708 363L709 355L709 355L700 356ZM717 380L716 387L718 388L721 388L725 379ZM725 363L725 370L730 371L732 369L732 363L725 363Z" fill="#ef7b49"/><path d="M690.1 483.5L702.0 487.2L712.0 485.8L720.7 492.6L730.8 493.1L737.6 494.8L742.4 490.3L751.1 493.9L757.7 492.4L753.7 483.3L749.9 477.3L744.7 473.5L747.4 471.6L742.9 454.7L732.6 455.4L722.2 456.0L711.8 456.5L712.9 452.3L719.4 435.2L719.7 424.6L717.2 414.2L717.1 413.8L705.8 414.4L694.3 414.8L682.9 415.2L671.4 415.5L671.6 426.2L671.8 436.9L676.0 447.3L680.3 457.6L678.2 472.3L676.2 485.3Z" fill="#e8281e"/><path d="M690 437L694 438L695 438L697 432L687 429L685 431L689 437ZM697 432L695 438L702 441L709 437L709 437L698 430ZM698 477L699 478L706 472L704 467L697 474ZM695 425L698 429L698 429L706 422L704 419ZM703 417L704 419L706 422L710 424L713 422L709 414L704 415ZM737 484L737 493L739 493L742 490L742 490L744 484L741 482L741 482Z" fill="#ef7b49"/><path d="M706.2 125.9L706.5 118.4L699.6 123.0L690.5 123.4L690.6 123.3L688.1 125.2L688.5 137.3L680.8 141.9L683.0 149.2L682.9 166.2L689.8 172.4L699.7 181.5L705.3 191.9L706.8 202.5L714.3 212.7L714.3 212.7L714.4 212.7L724.3 212.1L734.1 211.5L743.9 210.7L753.5 209.9L751.4 198.6L752.9 183.3L753.8 162.9L759.9 149.5L754.7 158.5L747.4 167.3L751.7 154.6L745.5 144.4L735.7 136.7L726.9 134.2L718.3 131.5L712.7 126.1Z" fill="#fdf84f"/><path d="M757.7 223.4L753.5 209.9L753.5 209.9L743.9 210.7L734.1 211.5L724.3 212.1L714.4 212.7L714.3 212.7L721.8 221.9L719.7 232.7L711.4 236.3L709.9 249.2L705.8 258.3L704.9 264.4L714.4 279.8L725.2 288.8L725.6 295.1L735.5 311.5L737.6 320.9L744.2 328.3L753.0 325.1L758.3 316.2L758.6 309.8L759.9 299.0L764.6 290.1L763.4 276.3L762.3 263.5L761.1 250.8L760.0 238.0L759.0 226.1Z" fill="#fdf84f"/><path d="M818.6 213.3L819.8 206.3L821.5 203.3L826.2 197.2L826.4 190.7L820.9 180.3L815.5 169.7L809.7 172.2L804.6 180.9L803.7 173.5L809.5 165.2L807.0 149.4L801.2 142.7L791.6 138.6L788.0 136.2L782.2 146.7L777.9 149.8L770.5 162.3L769.4 177.4L773.3 192.4L773.0 204.5L772.6 216.7L768.8 224.3L775.8 223.6L782.8 222.9L789.8 222.1L796.7 221.3L796.9 222.6L806.4 221.4L816.0 220.1Z" fill="#fdf84f"/><path d="M757.7 140.1L763.5 138.5L767.8 134.9L777.2 130.6L787.9 134.3L798.3 130.5L791.1 120.4L783.5 122.4L782.6 115.7L776.1 117.5L769.7 119.3L761.6 125.5L751.7 124.3L739.7 114.0L744.1 104.7L736.3 111.1L726.5 118.9L719.7 122.5L712.7 126.1L718.3 131.5L726.9 134.2L735.7 136.7L745.5 144.4L751.7 154.6Z" fill="#fdf84f"/><path d="M763.1 227.9L759.1 226.5L759.0 226.1L760.0 238.0L761.1 250.8L762.3 263.5L763.4 276.3L764.6 290.1L759.9 299.0L758.6 309.8L765.0 306.0L774.1 307.3L781.2 303.4L789.5 297.2L795.7 285.8L803.3 277.5L802.0 266.5L800.7 255.5L799.5 244.5L798.2 233.5L796.9 222.6L796.7 221.3L789.8 222.1L782.8 222.9L775.8 223.6L768.8 224.3Z" fill="#fdf84f"/><path d="M849.6 212.0L841.0 220.8L834.1 222.4L827.2 224.0L816.0 220.1L806.4 221.4L796.9 222.6L798.2 233.5L799.5 244.5L800.7 255.5L802.0 266.5L803.3 277.5L816.0 282.3L826.8 285.2L837.4 286.9L842.7 276.5L847.5 269.3L854.6 262.8L858.7 255.7L860.4 236.3L858.0 222.0L855.7 207.8Z" fill="#fdf84f"/><path d="M738.9 338.9L749.7 338.1L760.5 337.2L760.2 333.4L768.1 333.0L775.9 332.6L783.8 332.1L791.6 331.5L800.4 330.7L809.1 329.9L817.9 329.0L826.6 328.0L836.2 321.4L842.6 313.0L849.0 304.5L837.4 286.9L826.8 285.2L816.0 282.3L803.3 277.5L795.7 285.8L789.5 297.2L781.2 303.4L774.1 307.3L765.0 306.0L758.6 309.8L758.3 316.2L753.0 325.1L744.2 328.3Z" fill="#e8281e"/><path d="M743 334L741 335L739 339L746 338ZM746 330L747 329L747 327L744 328ZM747 329L754 325L754 324L753 325L747 327ZM761 321L759 326L767 327L768 325L767 321L767 320L763 319ZM768 313L768 313L774 312L775 311L774 307L768 306L766 307ZM772 325L774 333L776 333L779 332L780 331L780 329L775 324ZM793 326L789 326L787 332L792 332L795 331ZM789 310L789 318L793 318L795 311L790 309L789 309ZM788 326L789 326L793 326L795 324L795 320L793 318L789 318L788 319ZM790 309L795 311L795 311L798 304L794 301L794 301ZM796 290L801 289L801 286L798 284L796 286L795 288ZM793 293L796 290L795 288L792 292ZM801 286L802 285L802 279L798 284ZM795 320L795 324L802 327L804 321L799 318ZM801 286L801 289L801 289L809 290L809 289L810 285L808 281L802 285ZM802 327L803 328L811 325L811 325L805 320L804 321ZM799 318L804 321L805 320L808 316L808 315L802 312L800 313ZM801 296L809 297L809 290L801 289L801 296ZM809 281L810 280L808 279ZM808 316L816 321L817 320L817 314L814 311L809 314L808 315ZM811 325L811 330L817 329L819 325L816 322L811 325ZM816 321L816 322L819 325L823 326L824 326L826 318L825 318L817 320ZM816 298L825 298L825 292L823 290L816 293ZM823 326L819 325L817 329L818 329L823 328ZM823 290L825 292L831 291L830 286L827 285L827 285L823 287ZM824 326L828 327L832 324L828 318L826 318ZM830 317L834 317L838 313L836 310L830 313ZM836 321L836 321L841 315L841 314L838 313L834 317Z" fill="#ef7b49"/><path d="M760 313L763 319L767 320L768 313L768 313L760 313ZM760 313L768 313L766 307L765 306L760 309ZM779 332L784 332L785 332L780 331ZM780 311L783 314L789 310L789 309L784 305ZM784 305L789 309L790 309L794 301L788 300L784 305ZM795 311L800 313L802 312L804 305L803 305L798 304ZM808 315L809 314L806 305L804 305L802 312ZM804 305L806 305L806 305L809 297L809 297L801 296L803 305ZM836 298L838 299L843 300L843 299L843 296L842 294L838 290L836 292Z" fill="#fdf84f"/><path d="M733.1 356.3L731.6 369.1L730.0 371.3L736.6 370.9L744.5 370.3L752.5 369.7L760.5 369.1L761.1 369.0L768.4 368.4L776.4 367.7L784.4 366.9L792.3 366.1L800.3 365.3L801.4 365.1L808.2 364.4L816.1 363.4L821.1 362.8L825.3 355.9L832.2 349.7L844.8 339.4L853.5 334.9L856.5 324.8L856.8 323.9L849.2 325.0L841.7 326.0L834.2 327.0L826.6 328.0L817.9 329.0L809.1 329.9L800.4 330.7L791.6 331.5L783.8 332.1L775.9 332.6L768.1 333.0L760.2 333.4L760.5 337.2L749.7 338.1L738.9 338.9L736.1 349.7Z" fill="#e8281e"/><path d="M739 342L740 342L739 339L739 339L738 342ZM736 356L737 355L737 351L736 351L733 356L733 356ZM737 351L739 343L739 342L738 342L736 350L736 351ZM746 351L749 348L745 340L740 342L739 342L739 343ZM744 355L745 364L748 366L753 366L755 363L754 358L745 354ZM745 340L752 342L755 338L754 338L750 338L746 338ZM746 338L739 339L740 342L745 340L745 340ZM766 366L763 362L755 363L753 366L754 370L760 369L761 369L765 369ZM763 335L762 339L771 341L772 340L773 335L768 333ZM771 341L768 348L769 350L777 344L772 340ZM783 357L789 353L790 349L788 349L781 348L778 355L779 356ZM811 363L805 365L808 364L811 364ZM809 349L810 358L818 355L819 353L819 352L816 348L811 347ZM818 335L821 330L820 329L818 329L810 330ZM811 340L811 347L816 348L823 341L818 337ZM818 355L820 362L822 362L825 356L819 353ZM828 354L832 350L833 349L833 348L828 349ZM823 341L826 349L828 349L833 348L834 347L833 340L833 340L828 339ZM828 332L831 330L831 327L827 328L824 328L823 330ZM834 347L835 347L842 341L840 339L833 340Z" fill="#ef7b49"/><path d="M754.2 467.0L765.7 466.1L764.5 455.5L763.3 445.0L762.1 434.4L762.2 421.8L761.0 411.3L759.8 400.9L758.6 390.4L759.9 379.7L761.1 369.0L761.1 369.0L760.5 369.1L752.5 369.7L744.5 370.3L736.6 370.9L730.0 371.3L725.1 377.9L720.2 388.8L717.8 403.7L717.2 413.8L717.2 414.2L719.7 424.6L719.4 435.2L712.9 452.3L711.8 456.5L722.2 456.0L732.6 455.4L742.9 454.7L747.4 471.6Z" fill="#e8281e"/><path d="M720 418L720 409L720 408L718 408L717 414L717 414L718 417ZM720 409L728 409L728 409L727 401L720 401L720 408ZM736 434L744 433L744 432L744 426L736 425L736 433ZM744 401L744 401L752 401L752 394L752 393L745 393ZM736 393L737 394L744 393L743 386L743 386L736 386ZM760 424L762 424L762 422L762 417L759 417Z" fill="#ef7b49"/><path d="M737 449L743 449L744 448L744 441L736 441ZM751 385L751 385L759 385L760 380L760 377L760 377L752 377L751 378Z" fill="#fdf84f"/><path d="M770.8 467.3L771.8 458.8L776.7 467.9L780.7 466.9L777.8 452.0L786.3 451.2L794.8 450.4L803.3 449.5L811.8 448.6L820.2 447.6L816.9 433.3L816.9 418.5L812.5 408.4L809.7 397.6L806.9 386.8L804.1 376.0L801.4 365.1L801.4 365.1L800.3 365.3L792.3 366.1L784.4 366.9L776.4 367.7L768.4 368.4L761.1 369.0L761.1 369.0L759.9 379.7L758.6 390.4L759.8 400.9L761.0 411.3L762.2 421.8L762.1 434.4L763.3 445.0L764.5 455.5L765.7 466.1Z" fill="#e8281e"/><path d="M760 391L759 397L760 399L764 399L767 396L764 390ZM764 390L767 396L774 395L775 391L773 389L765 387ZM764 399L767 405L774 406L775 403L776 398L774 395L767 396ZM769 429L775 429L777 427L778 424L775 421L768 421L767 426ZM777 468L781 467L779 460L776 462ZM778 424L781 423L784 414L783 413L776 412L775 421ZM783 452L786 451L791 451L792 445L784 445L782 448L783 451ZM791 451L795 450L799 450L799 450L793 445L792 445ZM799 383L800 390L806 390L806 385L806 382L801 381ZM799 437L804 438L806 438L809 431L804 428L799 432ZM799 413L805 413L808 406L806 404L798 406ZM808 406L812 405L810 398L809 397L808 396L805 398L806 404ZM806 390L806 390L808 390L807 387L806 385ZM812 443L819 444L818 436L817 436L811 440Z" fill="#ef7b49"/><path d="M796 421L796 428L799 432L804 428L804 423L796 420L796 421ZM797 404L798 406L806 404L805 398L799 397ZM799 413L796 420L804 423L808 421L805 414L805 413L799 413ZM814 418L817 419L817 418L814 412L813 413Z" fill="#fdf84f"/><path d="M877.5 436.7L880.9 426.6L884.0 417.0L873.7 406.5L863.9 395.2L857.7 385.5L849.2 370.8L839.9 360.4L832.0 361.4L824.1 362.4L821.1 362.8L816.1 363.4L808.2 364.4L801.4 365.1L801.4 365.1L804.1 376.0L806.9 386.8L809.7 397.6L812.5 408.4L816.9 418.5L816.9 433.3L820.2 447.6L823.2 453.6L832.0 453.1L840.8 452.5L849.5 451.9L858.3 451.2L867.1 450.5L869.7 445.3L878.9 445.7Z" fill="#e8281e"/><path d="M809 393L809 390L808 388L807 388L808 393ZM809 366L809 366L809 364L808 364L801 365L801 365L802 366ZM809 396L810 398L811 401L816 400L816 399L815 398L810 395ZM813 410L820 407L819 402L817 401L813 409L813 410ZM809 383L813 383L818 380L813 375L810 375ZM813 383L819 388L822 380L818 380ZM818 367L821 366L821 363L821 363L816 363L816 363ZM813 410L818 415L822 415L824 410L820 407ZM823 446L828 447L829 445L827 437L823 438L820 443ZM822 392L824 394L831 394L831 391L828 388L822 391ZM822 380L828 382L829 381L830 374L827 372L822 376ZM827 437L829 445L836 443L836 441L832 436L828 436ZM830 374L834 373L834 367L830 366L827 368L827 372ZM828 436L832 436L836 432L834 428L829 427L827 431ZM829 427L834 428L837 423L831 420L827 424ZM833 415L838 415L838 415L839 409L836 406L829 409ZM827 452L828 453L832 453L836 453L836 452L836 451L828 449ZM836 453L841 453L844 452L846 450L836 452ZM829 381L834 382L835 381L837 375L834 373L830 374ZM836 406L839 409L845 409L845 404L842 401L836 404L836 406ZM831 417L831 420L837 423L838 423L838 415L833 415ZM838 415L842 416L848 410L845 409L839 409ZM845 409L848 410L849 411L851 409L854 403L849 401L845 404ZM842 446L845 448L851 443L851 441L845 439ZM845 394L848 396L851 395L854 387L852 385L851 385L844 388ZM849 413L853 416L857 417L858 415L860 410L859 410L851 409L849 411ZM854 403L851 409L859 410L858 405L855 403ZM851 395L856 398L861 396L859 389L856 387L854 387ZM859 423L860 423L864 423L865 416L858 415L857 417ZM859 389L860 388L858 386L857 385L856 387ZM866 431L870 431L872 430L869 422L864 423L866 431ZM864 450L867 450L870 445L872 445L872 445L872 445L864 445ZM870 431L872 437L878 437L877 437L878 435L877 428L872 430ZM877 428L877 428L878 435L880 428ZM877 428L880 428L881 427L882 424L880 421L876 424ZM880 417L882 416L882 415L876 409L875 410L878 416Z" fill="#ef7b49"/><path d="M824 410L827 409L827 402L824 400L819 402L820 407ZM834 367L834 373L837 375L843 374L843 369L842 368L835 367ZM836 452L846 450L846 450L845 448L842 446L838 445L836 451ZM838 415L838 423L843 424L844 423L844 419L842 416L838 415ZM844 419L849 413L849 411L848 410L842 416ZM867 414L869 415L874 409L872 406L870 406L865 411ZM871 439L872 445L872 445L876 446L877 446L878 445L878 443L878 437L872 437ZM878 445L879 445L878 443Z" fill="#fdf84f"/><path d="M785.6 465.0L797.0 462.8L810.8 467.6L817.5 475.3L823.3 474.6L829.3 468.6L835.7 465.8L838.9 464.3L846.0 467.6L858.0 481.7L865.1 490.2L865.5 504.8L867.0 509.8L869.7 516.7L876.3 526.2L882.6 533.6L888.6 544.2L899.2 549.8L902.6 559.1L912.7 556.0L914.8 552.5L917.4 543.3L915.3 523.2L907.3 506.7L903.4 499.0L900.2 490.0L891.1 475.7L884.2 462.0L880.7 452.0L878.9 445.8L878.9 445.7L869.7 445.3L867.1 450.5L858.3 451.2L849.5 451.9L840.8 452.5L832.0 453.1L823.2 453.6L820.2 447.6L811.8 448.6L803.3 449.5L794.8 450.4L786.3 451.2L777.8 452.0L780.7 466.9Z" fill="#e8281e"/><path d="M783 463L787 456L778 453L780 463ZM826 463L830 462L832 457L831 453L821 456ZM831 453L832 457L841 457L843 454L843 452L841 453L832 453L831 453ZM877 473L886 476L889 472L886 465L878 466L877 467L875 471ZM876 510L878 512L884 505L883 503L875 501ZM887 506L888 514L893 515L896 508L892 504ZM903 500L904 500L903 499L903 498L903 499Z" fill="#ef7b49"/><path d="M885.5 414.2L889.9 406.0L897.0 399.5L906.0 386.1L909.2 377.0L914.2 372.8L903.6 364.6L893.1 356.3L884.5 357.8L875.9 359.2L873.0 355.4L871.1 352.5L860.6 353.6L850.1 354.6L839.9 360.4L849.2 370.8L857.7 385.5L863.9 395.2L873.7 406.5L884.0 417.0Z" fill="#e8281e"/><path d="M849 358L848 356L848 356L840 360L842 363ZM842 363L847 369L851 359L849 358ZM856 370L857 370L856 361L855 360L851 359L847 369L849 371L849 371ZM856 370L858 378L863 380L863 379L865 369L857 370ZM855 380L858 386L859 387L863 384L864 382L863 380L858 378L855 380ZM857 370L865 369L865 369L863 361L856 361ZM862 354L860 354L858 354L855 360L856 361L863 361L864 360ZM873 405L874 403L872 399L866 398L873 406ZM863 380L864 382L869 384L874 379L870 376L863 379ZM865 369L863 379L870 376L871 369L865 369ZM864 395L864 396L866 398L872 399L876 392L876 392L871 390L867 392ZM872 399L874 403L880 400L881 399L876 392ZM878 370L880 368L880 360L872 361L872 368ZM876 392L881 399L888 396L888 392L878 390L876 392ZM880 368L886 368L888 360L887 359L881 359L880 360ZM881 399L880 400L884 408L885 408L891 401L888 396ZM889 370L897 367L897 367L896 363L896 362L888 360L886 368ZM888 360L896 362L895 358L893 356L888 357L887 359ZM888 384L889 391L895 390L895 390L899 383L889 383ZM891 377L889 383L899 383L899 383L898 376ZM897 367L899 375L908 369L905 366L897 367ZM908 369L909 370L910 369L905 366L905 366ZM904 377L907 382L909 377L912 375L910 373Z" fill="#ef7b49"/><path d="M849 358L851 359L855 360L858 354L850 355L850 355L848 356ZM862 354L864 353L861 354L860 354ZM871 353L870 358L872 361L880 360L881 359L881 358L876 359L873 355L871 353ZM878 390L888 392L889 391L888 384L880 381L879 383ZM879 409L884 408L880 400L874 403L873 405ZM879 379L880 381L888 384L889 383L891 377L888 374L880 377ZM887 411L887 411L890 406L894 402L891 401L885 408ZM904 385L902 392L906 386L907 384Z" fill="#fdf84f"/><path d="M923.4 371.1L930.6 354.6L942.2 351.2L948.3 340.2L954.6 334.5L947.0 315.6L943.7 308.7L935.1 310.6L926.4 312.4L917.8 314.1L909.1 315.8L900.4 317.4L891.7 319.0L883.0 320.5L874.3 322.0L865.6 323.4L856.9 324.8L856.5 324.8L853.5 334.9L844.8 339.4L832.2 349.7L825.3 355.9L821.1 362.8L824.1 362.4L832.0 361.4L839.9 360.4L850.1 354.6L860.6 353.6L871.1 352.5L873.0 355.4L875.9 359.2L884.5 357.8L893.1 356.3L903.6 364.6L914.2 372.8Z" fill="#e8281e"/><path d="M828 357L824 359L821 363L824 362L830 362ZM830 362L832 361L837 361L840 355L839 355L831 354L830 355L828 357ZM831 354L839 355L839 350L836 347L834 348ZM840 355L843 356L845 354L844 346L839 350L839 355ZM845 342L852 342L854 335L853 335L845 339L844 340L844 341ZM850 355L860 354L861 352L860 350L860 350L856 348L850 352L849 353ZM856 326L853 335L853 335L854 335L860 333L861 328L861 328L859 325L857 325L857 325ZM856 348L860 350L864 341L862 338L853 343ZM860 354L861 354L864 353L861 352ZM864 353L869 353L869 349L868 348L860 350L861 352ZM869 349L875 347L874 343L870 342L868 348ZM872 328L878 326L879 324L877 321L874 322L870 323L870 327ZM882 357L875 355L874 356L876 359L883 358ZM875 355L876 348L875 347L869 349L869 353L871 353L873 355L874 356ZM874 343L875 347L876 348L884 348L885 342L877 340ZM877 340L885 342L887 340L886 335L884 333L880 333L877 336ZM882 357L886 349L884 348L876 348L875 355ZM886 349L890 350L895 347L892 341L887 340L885 342L884 348ZM886 335L895 332L894 328L891 325L887 326L884 333ZM891 325L894 328L900 324L900 318L893 319ZM891 357L893 356L894 357L899 355L899 348L895 347L890 350ZM887 340L892 341L894 339L896 332L895 332L886 335ZM895 347L899 348L901 347L903 341L894 339L892 341ZM903 341L901 347L906 350L909 348L909 340L908 339L904 340ZM904 340L899 333L896 332L894 339L903 341ZM899 348L899 355L903 359L906 358L908 355L906 350L901 347ZM909 367L907 367L909 369ZM899 333L904 340L908 339L909 335L908 331L901 332ZM901 332L908 331L909 326L902 325ZM908 331L909 335L919 334L918 328L915 324L911 324L909 326ZM907 317L911 324L915 324L918 319L916 315L909 316L908 316ZM918 319L925 318L925 313L918 314L916 315ZM919 334L919 334L926 334L924 326L918 328ZM917 354L924 357L928 350L925 345L917 351ZM924 326L926 334L927 334L931 332L931 327L926 324ZM928 350L934 351L936 349L931 342L928 342L925 345L925 345ZM926 324L931 327L934 325L934 320L932 319L926 318ZM926 362L927 362L929 358L926 359ZM932 319L934 320L938 320L941 315L937 310L935 311L935 311ZM936 349L941 346L942 341L942 340L935 339L931 342ZM943 348L944 349L948 340L942 341L941 346ZM938 320L943 326L946 324L948 317L947 316L941 315ZM941 315L947 316L947 316L944 309L943 309L937 310Z" fill="#ef7b49"/><path d="M830 355L831 354L834 348L832 350L828 353ZM844 344L850 352L856 348L853 343L852 342L845 342ZM861 328L861 328L869 335L872 333L872 328L870 327ZM879 324L885 324L885 320L883 321L877 321ZM885 324L887 326L891 325L893 319L893 319L892 319L885 320ZM894 357L901 363L903 359L899 355ZM909 367L911 365L906 358L903 359L901 363L904 365L907 367ZM906 358L911 365L915 364L917 354L908 355ZM935 339L942 340L941 333L941 332L932 333ZM946 324L949 326L951 325L948 317Z" fill="#fdf84f"/><path d="M940.7 301.8L937.2 302.1L935.4 300.8L935.0 295.4L933.0 289.3L932.2 281.9L932.2 281.8L931.6 281.6L923.6 278.3L914.8 274.7L916.8 265.6L914.0 262.9L905.1 256.7L904.2 261.0L896.0 262.1L889.9 269.7L885.8 280.2L880.1 278.0L877.3 292.5L874.3 301.6L864.6 307.5L854.5 311.2L849.0 304.5L842.6 313.0L836.2 321.4L826.6 328.0L834.2 327.0L841.7 326.0L849.2 325.0L856.8 323.9L856.5 324.8L856.9 324.8L865.6 323.4L874.3 322.0L883.0 320.5L891.7 319.0L900.4 317.4L909.1 315.8L917.8 314.1L926.4 312.4L935.1 310.6L943.7 308.7Z" fill="#ef7b49"/><path d="M835 325L838 327L841 326L843 319L842 319L838 319L836 321L834 323ZM841 315L838 319L842 319ZM848 314L849 310L848 308L846 308L843 313L842 313ZM849 310L854 311L849 305L849 305L848 308ZM853 319L854 321L862 316L862 314L861 312L856 312ZM856 312L861 312L861 309L855 311ZM870 309L869 312L871 315L875 316L877 307L876 306L870 308ZM871 322L873 322L875 317L875 316L871 315L868 319ZM876 300L881 298L881 293L878 291L877 292L875 299ZM882 320L884 318L882 310L877 317ZM891 273L893 272L892 268L890 270L889 272ZM884 299L884 308L890 306L890 299L889 298ZM890 319L892 319L892 319L890 318ZM890 313L891 312L893 308L890 306L884 308L883 309ZM890 318L892 319L898 318L899 314L891 312L890 313L890 318ZM891 273L890 278L891 280L896 281L898 280L896 272L893 272ZM896 307L893 308L891 312L899 314L900 313L897 307ZM897 307L904 306L902 300L898 301L897 302L896 307ZM897 262L901 262L902 261L897 262ZM893 272L896 272L898 270L895 264L895 264L892 268ZM900 313L904 313L906 307L904 306L897 307ZM896 291L902 293L905 291L903 285L897 288ZM903 279L904 283L910 286L912 279L909 277L904 279ZM904 313L905 314L910 313L911 311L909 306L906 307ZM910 286L917 284L917 283L916 279L912 279L910 286ZM905 316L909 316L911 315L910 313L905 314ZM909 277L912 279L916 279L918 277L918 276L915 275L916 270L915 270L909 270ZM917 312L917 314L918 314L926 312L927 312L924 309L917 312ZM916 307L917 312L924 309L924 307L923 305L920 304ZM918 277L921 277L918 276ZM925 293L931 290L930 285L925 284L924 285L922 291ZM925 284L930 285L931 284L931 281L924 278ZM939 304L939 304L942 304L941 302L939 302ZM940 310L944 309L942 304L939 304Z" fill="#e8281e"/><path d="M846 319L847 325L849 325L854 324L854 324L854 321L853 319L848 317ZM861 312L862 314L869 312L870 309L866 307L865 307L861 309ZM862 314L862 316L864 319L868 319L871 315L869 312ZM882 284L883 284L883 279L880 278L879 285ZM873 322L873 322L874 322L882 321L882 320L877 317L875 317ZM875 317L877 317L882 310L882 309L877 307L875 316ZM881 293L884 290L882 284L879 285L878 291ZM884 318L890 318L890 313L883 309L882 309L882 310ZM882 321L883 321L890 319L890 318L890 318L884 318L882 320ZM889 285L889 285L896 284L896 281L891 280ZM891 292L889 298L890 299L897 302L898 301L896 291L891 292ZM890 306L893 308L896 307L897 302L890 299ZM896 281L896 284L897 288L903 285L904 283L903 279L898 280ZM895 264L897 262L897 262L896 262L895 264ZM905 314L904 313L900 313L899 314L898 318L900 317L905 316ZM896 272L898 280L903 279L904 279L901 270L898 270ZM901 270L904 279L909 277L909 270L908 269L902 269ZM902 269L908 269L909 262L904 261L902 261L901 262ZM909 262L910 262L910 260L905 257L904 261L904 261ZM911 291L916 292L917 291L917 284L910 286L910 291ZM920 304L923 305L925 297L918 299ZM925 293L926 297L931 300L932 299L933 291L931 290ZM931 284L932 283L932 282L932 282L932 282L931 281Z" fill="#fdf84f"/><path d="M849.0 304.5L854.5 311.2L864.6 307.5L874.3 301.6L877.3 292.5L880.1 278.0L885.8 280.2L889.9 269.7L896.0 262.1L904.2 261.0L905.1 256.7L898.1 249.8L888.5 253.8L880.2 263.9L878.4 253.0L870.9 254.3L863.5 255.6L860.4 236.3L858.7 255.7L854.6 262.8L847.5 269.3L842.7 276.5L837.4 286.9Z" fill="#fdf84f"/><path d="M843 276L845 278L852 277L852 270L847 270L843 276ZM853 269L859 268L861 263L856 260L855 263L852 266ZM852 270L852 277L854 278L863 276L862 271L859 268L853 269ZM885 261L890 261L893 258L892 252L889 254L884 259ZM890 261L893 266L896 262L901 261L901 258L893 258ZM901 257L905 259L905 257L902 254Z" fill="#e8281e"/><path d="M848 303L849 305L853 309L855 306L852 301L849 301ZM847 292L851 292L856 285L855 284L846 286ZM860 248L859 247L859 251ZM859 297L859 293L853 293L854 299ZM859 268L862 271L868 266L866 262L864 262L861 263ZM863 276L865 277L869 276L869 276L868 266L868 266L862 271ZM869 295L877 288L876 284L875 284L867 288L866 290ZM869 276L876 271L874 266L868 266ZM877 272L879 274L886 278L887 276L887 276L883 269ZM887 276L890 270L890 270L884 268L883 269Z" fill="#ef7b49"/><path d="M947.6 268.8L947.0 266.7L936.5 269.1L933.7 255.9L930.9 242.7L923.4 244.3L915.9 245.9L908.4 247.4L900.9 248.9L893.4 250.3L885.9 251.7L878.4 253.0L880.2 263.9L888.5 253.8L898.1 249.8L905.1 256.7L914.0 262.9L916.8 265.6L914.8 274.7L923.6 278.3L931.6 281.6L932.0 281.4L930.8 279.0L928.3 274.1L924.8 260.7L922.8 254.6L927.2 247.2L929.5 251.0L930.0 260.7L929.3 271.7L935.4 279.1L935.8 280.0L946.0 276.1Z" fill="#fdf84f"/><path d="M944.9 260.0L939.2 254.3L935.5 247.6L934.8 244.4L935.5 241.0L936.0 239.8L933.0 239.6L930.9 242.7L933.7 255.9L936.5 269.1L947.0 266.7Z" fill="#fdf84f"/><path d="M861.1 204.2L855.7 207.8L858.0 222.0L860.4 236.3L863.5 255.6L870.9 254.3L878.4 253.0L885.9 251.7L893.4 250.3L900.9 248.9L908.4 247.4L915.9 245.9L923.4 244.3L930.9 242.7L933.0 239.6L936.0 239.8L941.2 233.2L943.1 228.4L937.7 224.2L935.2 216.0L938.7 205.4L931.1 197.3L926.6 194.0L919.1 195.6L911.6 197.2L904.0 198.8L896.5 200.3L888.9 201.8L881.4 203.2L873.8 204.6L866.2 206.0L865.2 200.3Z" fill="#fdf84f"/><path d="M936.2 247.4L942.3 251.5L946.4 256.4L952.3 245.9L954.3 229.1L952.6 221.8L949.0 222.0L951.4 216.6L953.5 212.9L953.8 212.1L951.6 211.1L950.0 210.4L938.7 205.4L935.2 216.0L937.7 224.2L943.1 228.4L941.2 233.2L936.0 239.8L935.5 241.0L934.8 244.4Z" fill="#fdf84f"/><path d="M934.9 126.3L927.9 128.1L920.9 129.9L914.7 135.6L909.9 145.4L905.5 153.9L908.4 164.2L904.8 167.1L897.8 170.8L890.9 174.3L881.1 176.2L871.3 178.0L874.7 185.0L870.7 194.4L865.2 200.3L866.2 206.0L873.8 204.6L881.4 203.2L888.9 201.8L896.5 200.3L904.0 198.8L911.6 197.2L919.1 195.6L926.6 194.0L931.1 197.3L938.7 205.4L950.0 210.4L951.6 211.1L953.8 212.1L954.7 209.3L955.4 202.6L952.0 187.0L948.3 172.6L951.3 171.8L946.0 154.5L942.2 140.1L938.4 125.7L938.4 125.5Z" fill="#fdf84f"/><path d="M960.3 204.7L963.9 201.6L974.6 197.7L978.1 196.8L978.7 196.5L978.6 196.0L974.9 181.8L967.3 183.6L959.6 185.3L952.0 187.0L955.4 202.6L954.7 209.3Z" fill="#fdf84f"/><path d="M982.8 194.3L983.4 192.1L987.0 190.1L980.6 180.3L974.9 181.8L978.6 196.0L978.7 196.5Z" fill="#fdf84f"/><path d="M989.1 187.3L990.8 184.2L992.9 187.8L1002.2 182.1L999.1 174.6L996.3 174.9L998.4 174.8L999.3 180.7L993.9 182.2L990.9 179.1L983.9 172.2L987.6 164.5L984.0 161.8L983.9 160.7L983.8 160.8L979.9 162.3L977.9 165.6L969.1 167.8L962.3 169.3L960.2 169.8L951.3 171.8L948.3 172.6L952.0 187.0L959.6 185.3L967.3 183.6L974.9 181.8L980.6 180.3L987.0 190.1Z" fill="#fdf84f"/><path d="M962.9 119.2L956.0 121.1L949.0 122.9L942.0 124.6L938.4 125.5L938.4 125.7L942.2 140.1L946.0 154.5L951.3 171.8L960.2 169.8L962.3 169.3L960.7 159.6L960.4 148.7L960.1 137.8L963.0 119.5L963.1 119.0Z" fill="#fdf84f"/><path d="M963.1 119.0L963.0 119.5L960.1 137.8L960.4 148.7L960.7 159.6L962.3 169.3L969.1 167.8L977.9 165.6L979.9 162.3L983.8 160.8L983.9 160.7L983.6 156.4L983.9 156.2L977.6 147.4L974.0 135.6L970.4 123.7L966.8 111.8Z" fill="#fdf84f"/><path d="M985.1 155.3L986.7 142.7L992.0 139.0L999.4 130.2L1000.9 120.9L1008.6 123.1L1011.3 120.3L1016.7 112.8L1022.4 106.3L1017.8 100.2L1011.4 92.2L1004.8 86.7L1001.3 75.2L997.8 63.8L990.7 59.7L983.4 63.0L978.0 61.3L972.6 79.4L973.3 96.4L970.7 102.0L970.0 112.3L966.8 111.8L970.4 123.7L974.0 135.6L977.6 147.4L983.9 156.2Z" fill="#fdf84f"/>
<path d="M302.4 46.0L298.2 45.4L289.1 39.5L288.0 38.6L283.9 36.7L283.3 39.3L284.4 47.5L294.9 51.2L304.7 52.7L304.0 46.7Z" fill="#ef7b49"/><path d="M284.4 58.0L300.9 61.0L303.9 53.5L284.4 47.5Z" fill="#fdf84f"/><path d="M284.2 58.2L283.5 61.1L284.4 68.4L297.9 68.4L297.9 57.2L284.0 56.5Z" fill="#ef7b49"/><path d="M329.8 35.1L323.7 33.4L320.5 32.5L312.9 31.0L313.7 39.2L333.9 41.5L335.1 36.5Z" fill="#fdf84f"/><path d="M314.4 46.0L330.9 47.5L333.9 41.5L313.7 39.2Z" fill="#ef7b49"/><path d="M291.9 87.9L315.9 87.9L318.9 69.9L288.9 68.4Z" fill="#ef7b49"/><path d="M326.4 74.4L339.9 72.9L338.4 47.5L323.4 46.0Z" fill="#ef7b49"/><path d="M335.4 62.5L339.9 62.5L351.9 61.7L357.8 62.5L359.3 43.0L333.9 36.2Z" fill="#fdf84f"/><path d="M350.4 77.4L365.3 77.4L365.3 65.4L350.4 65.4Z" fill="#ef7b49"/><path d="M377.4 61.1L378.9 54.2L379.6 48.2L365.3 45.2L365.3 68.4L375.5 69.7Z" fill="#fdf84f"/><path d="M371.5 87.7L373.2 80.3L354.9 77.4L333.9 72.9L333.9 89.4L354.9 95.4L369.5 96.6Z" fill="#fdf84f"/><path d="M300.9 99.9L309.9 99.9L311.4 84.9L300.9 84.9Z" fill="#fdf84f"/><path d="M287.1 84.5L286.3 84.3L279.9 83.4L279.9 93.9L288.9 95.4L290.1 86.9Z" fill="#fdf84f"/><path d="M297.8 102.0L292.0 97.0L292.1 94.4L278.4 95.4L279.9 108.9L300.9 105.9L300.5 102.6Z" fill="#ef7b49"/><path d="M299.4 113.4L311.4 114.9L312.9 105.9L299.4 102.9Z" fill="#fdf84f"/><path d="M391.7 54.0L393.0 67.8L404.5 72.7L407.8 53.9L392.2 51.5Z" fill="#ef7b49"/><path d="M403.7 76.0L416.0 76.0L422.5 84.2L424.2 74.3L417.6 57.1L402.0 54.7Z" fill="#e8281e"/><path d="M424.2 72.7L435.7 72.7L438.9 60.4L417.6 57.1Z" fill="#4a8bf0"/><path d="M440.6 72.7L448.8 76.0L450.4 62.0L438.9 61.2Z" fill="#e8281e"/><path d="M449.6 79.3L454.5 79.3L457.0 62.9L450.4 62.0Z" fill="#4a8bf0"/><path d="M471.7 89.1L483.2 87.5L486.5 67.0L471.7 65.3Z" fill="#e8281e"/><path d="M486.5 87.5L479.9 92.4L496.3 95.7L499.6 68.6L486.5 67.0Z" fill="#4a8bf0"/><path d="M516.0 79.3L526.6 79.3L527.5 71.9L516.0 71.1Z" fill="#e8281e"/><path d="M527.5 80.9L537.3 84.2L538.9 72.7L527.5 71.9Z" fill="#4a8bf0"/><path d="M519.3 89.1L537.3 90.7L538.9 84.2L517.6 80.9Z" fill="#4a8bf0"/><path d="M429.1 87.5L443.9 89.1L443.9 82.5L426.6 77.6Z" fill="#e8281e"/><path d="M440.6 103.9L452.0 103.9L450.4 90.7L435.7 89.1Z" fill="#e8281e"/><path d="M463.5 112.0L476.6 112.0L481.6 100.6L479.9 92.4L461.9 93.2Z" fill="#e8281e"/><path d="M404.5 102.2L416.0 102.2L416.0 85.8L402.9 87.5Z" fill="#ef7b49"/><path d="M412.7 121.9L422.5 117.0L419.3 103.0L410.2 103.9Z" fill="#4a8bf0"/><path d="M443.9 120.2L466.8 126.8L486.5 115.3L476.6 112.0L463.5 112.0L463.5 103.9L453.7 97.3L440.6 103.9Z" fill="#4a8bf0"/><path d="M479.9 113.7L489.8 112.0L489.8 97.3L478.3 98.9Z" fill="#4a8bf0"/><path d="M488.1 120.2L496.3 148.1L502.9 149.8L507.8 126.8L511.1 112.0L509.4 94.0L488.1 97.3Z" fill="#4a8bf0"/><path d="M512.7 110.4L522.5 105.5L522.5 92.4L511.1 92.4Z" fill="#4a8bf0"/><path d="M516.0 118.6L525.8 120.2L527.5 112.0L514.3 108.8Z" fill="#4a8bf0"/><path d="M506.4 154.5L513.0 155.2L514.1 155.3L519.3 155.3L520.9 139.9L506.1 138.3L506.1 154.5Z" fill="#e8281e"/><path d="M522.5 155.3L532.4 155.3L534.0 135.0L522.5 133.4Z" fill="#4a8bf0"/><path d="M527.5 133.4L534.0 133.4L535.7 123.5L525.8 123.5Z" fill="#ef7b49"/><path d="M446.9 146.7L449.1 147.1L452.0 146.5L453.7 123.5L445.5 123.5L444.0 146.3Z" fill="#ef7b49"/><path d="M473.4 139.9L486.5 136.6L488.1 125.2L471.7 126.8Z" fill="#ef7b49"/><path d="M460.2 148.1L471.7 148.1L473.4 139.9L460.2 139.9Z" fill="#ef7b49"/><path d="M388.5 49.6L380.2 48.4L378.3 57.2L378.3 71.1L388.0 71.1L390.2 61.0L389.8 49.8Z" fill="#fdf84f"/><path d="M398.0 97.2L378.3 95.7L378.3 105.5L399.6 105.5L399.6 100.8Z" fill="#fdf84f"/><path d="M408.3 143.3L404.3 139.3L404.0 126.8L389.8 126.8L389.8 149.8L409.4 149.8L409.1 145.1Z" fill="#ef7b49"/><path d="M539.1 83.1L538.3 93.4L538.3 107.6L554.7 107.6L554.7 81.4L539.4 80.6Z" fill="#fdf84f"/><path d="M540.7 80.6L553.0 80.6L553.0 74.0L540.7 73.2Z" fill="#ef7b49"/><path d="M625.0 78.1L615.3 78.1L615.3 86.3L625.2 86.3L625.2 78.9Z" fill="#fdf84f"/><path d="M555.5 97.8L565.3 98.6L565.3 84.7L554.7 83.9Z" fill="#e8281e"/><path d="M565.3 98.6L576.8 98.6L576.8 87.1L565.3 87.1Z" fill="#ef7b49"/><path d="M576.0 97.8L607.1 97.8L607.1 84.7L576.0 83.0Z" fill="#fdf84f"/><path d="M613.7 104.3L623.5 104.3L623.5 94.5L612.0 96.1Z" fill="#fdf84f"/><path d="M561.2 106.0L587.5 110.9L589.1 100.2L561.2 99.4Z" fill="#e8281e"/><path d="M550.6 115.8L560.4 115.8L560.4 101.9L550.6 101.9Z" fill="#ef7b49"/><path d="M559.6 127.3L579.3 130.6L579.3 107.6L559.6 106.0Z" fill="#fdf84f"/><path d="M567.8 117.5L576.0 117.5L576.0 111.7L567.8 111.7Z" fill="#ef7b49"/><path d="M578.4 124.0L587.5 124.0L587.5 111.7L578.4 111.7Z" fill="#ef7b49"/><path d="M595.7 125.7L607.1 125.7L607.1 112.5L595.7 112.5Z" fill="#fdf84f"/><path d="M617.0 125.7L628.4 125.7L628.4 114.2L617.0 114.2Z" fill="#fdf84f"/><path d="M589.9 132.2L599.8 132.2L599.8 126.5L589.9 126.5Z" fill="#e8281e"/><path d="M538.3 137.1L544.8 137.1L544.8 130.6L538.3 130.6Z" fill="#fdf84f"/><path d="M536.6 151.9L548.1 151.9L548.1 138.8L536.6 138.8Z" fill="#ef7b49"/><path d="M535.0 185.3L558.0 185.3L559.6 163.4L549.8 151.9L535.0 151.9Z" fill="#fdf84f"/><path d="M561.2 150.2L582.5 150.2L582.5 140.4L561.2 140.4Z" fill="#fdf84f"/><path d="M569.4 163.4L581.7 163.4L582.5 151.1L567.8 150.2Z" fill="#e8281e"/><path d="M590.7 150.2L603.9 150.2L603.9 141.2L590.7 141.2Z" fill="#fdf84f"/><path d="M605.5 155.2L613.7 155.2L613.7 142.9L605.5 142.9Z" fill="#e8281e"/><path d="M614.5 169.9L620.2 169.9L620.2 159.3L614.5 159.3Z" fill="#ef7b49"/><path d="M621.1 166.6L629.3 166.6L629.3 158.4L621.1 158.4Z" fill="#e8281e"/><path d="M615.3 178.1L623.5 178.1L623.5 171.6L615.3 171.6Z" fill="#e8281e"/><path d="M633.1 145.3L623.5 145.3L623.5 185.3L633.4 185.3L633.4 147.8Z" fill="#fdf84f"/><path d="M579.3 185.3L590.7 185.3L590.7 168.3L579.3 166.6Z" fill="#fdf84f"/><path d="M656.6 81.6L654.7 70.4L653.2 69.1L650.6 69.1L650.6 69.7L651.4 89.6L658.8 89.6L657.9 82.2Z" fill="#e8281e"/><path d="M635.8 85.5L649.8 85.5L649.8 78.1L635.8 78.1Z" fill="#ef7b49"/><path d="M627.6 94.5L644.0 94.5L644.0 87.1L627.6 87.1Z" fill="#4a8bf0"/><path d="M635.0 102.7L642.4 102.7L643.2 94.5L633.4 94.5Z" fill="#4a8bf0"/><path d="M639.9 115.8L645.7 115.8L645.7 109.3L639.9 109.3Z" fill="#4a8bf0"/><path d="M700.7 111.5L702.4 109.9L703.0 94.5L700.1 94.2L697.0 95.6L694.9 94.4L695.7 114.2L698.0 114.8Z" fill="#e8281e"/><path d="M706.3 123.1L706.3 120.7L703.0 120.7L699.6 123.0L698.9 123.1L698.9 134.7L706.3 134.7L706.3 125.9L706.2 125.9Z" fill="#ef7b49"/><path d="M632.3 134.0L632.6 138.8L635.8 138.8L635.8 128.1L631.7 128.1L631.7 132.7Z" fill="#e8281e"/><path d="M632.7 141.7L633.4 148.6L635.8 148.6L635.8 140.4L632.7 140.4Z" fill="#ef7b49"/><path d="M637.5 152.7L643.2 152.7L643.2 146.1L637.5 146.1Z" fill="#4a8bf0"/><path d="M644.0 153.5L650.6 153.5L650.6 146.1L644.0 146.1Z" fill="#ef7b49"/><path d="M638.3 157.6L649.8 157.6L649.8 153.5L638.3 153.5Z" fill="#ef7b49"/><path d="M635.0 169.9L648.1 169.9L648.1 158.4L635.0 158.4Z" fill="#4a8bf0"/><path d="M650.6 163.4L655.5 163.4L655.5 154.3L650.6 154.3Z" fill="#4a8bf0"/><path d="M646.5 178.1L654.7 178.1L654.7 169.9L646.5 169.9Z" fill="#e8281e"/><path d="M656.3 179.8L661.2 179.8L661.2 174.8L656.3 174.8Z" fill="#4a8bf0"/><path d="M669.4 148.6L672.7 148.6L672.7 135.5L669.4 135.5Z" fill="#ef7b49"/><path d="M672.7 151.9L677.6 151.9L677.6 145.3L672.7 145.3Z" fill="#ef7b49"/><path d="M670.2 170.7L676.0 170.7L676.0 165.8L670.2 165.8Z" fill="#ef7b49"/><path d="M685.0 155.2L698.9 155.2L698.9 147.0L685.0 147.0Z" fill="#4a8bf0"/><path d="M711.2 150.2L715.0 150.2L715.0 140.4L711.2 140.4Z" fill="#ef7b49"/><path d="M696.0 178.1L698.9 178.1L698.9 168.3L692.4 168.3L692.4 174.7Z" fill="#ef7b49"/><path d="M690.7 173.2L687.5 173.2L687.5 178.1L694.0 178.1L694.0 176.3Z" fill="#4a8bf0"/><path d="M445.0 170.1L457.1 178.1L471.1 169.1L472.1 151.0L443.0 149.0Z" fill="#fdf84f"/><path d="M483.1 164.0L505.2 164.0L505.2 155.0L483.1 154.0Z" fill="#fdf84f"/><path d="M489.1 186.1L505.2 186.1L505.2 164.0L489.1 164.0Z" fill="#ef7b49"/><path d="M505.2 188.1L519.2 188.1L519.2 158.0L505.2 158.0Z" fill="#ef7b49"/><path d="M461.1 186.1L483.1 186.1L483.1 174.1L461.1 174.1Z" fill="#ef7b49"/><path d="M481.1 208.1L501.2 208.1L501.2 186.1L481.1 186.1Z" fill="#ef7b49"/><path d="M529.2 201.5L529.2 190.1L517.2 190.1L517.2 208.1L528.6 208.1Z" fill="#fdf84f"/><path d="M504.6 239.9L507.7 240.2L511.2 240.2L511.2 208.1L499.1 208.1L499.1 239.3Z" fill="#fdf84f"/><path d="M544.6 200.7L537.2 200.1L529.3 200.1L529.2 201.5L529.2 220.2L545.2 220.2L545.2 200.7Z" fill="#4a8bf0"/><path d="M529.2 240.2L537.2 240.2L537.2 220.2L529.2 220.2Z" fill="#4a8bf0"/><path d="M575.1 202.6L567.5 202.2L566.7 202.1L545.2 202.1L545.2 220.2L581.3 220.2L581.3 202.9Z" fill="#e8281e"/><path d="M597.3 222.2L611.4 222.2L611.4 206.1L597.3 206.1Z" fill="#e8281e"/><path d="M553.3 234.2L609.4 240.2L625.4 234.2L625.4 220.2L553.3 220.2Z" fill="#4a8bf0"/><path d="M581.3 224.2L597.3 224.2L597.3 204.1L581.3 204.1Z" fill="#4a8bf0"/><path d="M553.5 254.6L553.3 258.4L553.3 264.2L565.3 264.2L565.3 248.2L553.9 248.2Z" fill="#4a8bf0"/><path d="M569.0 266.2L570.6 266.3L591.3 266.3L591.3 255.2L565.3 255.2L565.3 266.0Z" fill="#4a8bf0"/><path d="M565.3 248.2L577.3 248.2L577.3 230.2L565.3 230.2Z" fill="#e8281e"/><path d="M581.3 242.2L593.3 242.2L593.3 230.2L581.3 230.2Z" fill="#e8281e"/><path d="M623.5 207.3L615.2 207.2L613.4 206.5L613.4 218.2L627.4 220.2L627.4 209.7Z" fill="#4a8bf0"/><path d="M581.3 252.2L591.3 252.2L591.3 244.2L581.3 244.2Z" fill="#fdf84f"/><path d="M621.4 260.2L633.4 260.2L633.4 244.2L621.4 244.2Z" fill="#fdf84f"/><path d="M533.2 153.7L533.2 199.8L537.0 200.1L537.2 200.1L561.3 200.1L561.3 146.0L534.0 144.1L533.8 146.5Z" fill="#fdf84f"/><path d="M535.2 152.0L547.2 152.0L547.2 140.0L535.2 140.0Z" fill="#ef7b49"/><path d="M549.2 158.0L561.3 158.0L561.3 140.0L549.2 140.0Z" fill="#4a8bf0"/><path d="M533.2 190.1L547.2 190.1L547.2 182.1L533.2 182.1Z" fill="#e8281e"/><path d="M567.3 164.0L581.3 164.0L581.3 150.0L567.3 150.0Z" fill="#e8281e"/><path d="M576.6 140.1L575.6 140.0L561.3 140.0L561.3 148.0L581.3 148.0L581.3 140.3Z" fill="#fdf84f"/><path d="M583.3 196.1L595.3 196.1L595.3 170.1L583.3 170.1Z" fill="#fdf84f"/><path d="M569.3 194.1L583.3 194.1L583.3 186.1L569.3 186.1Z" fill="#ef7b49"/><path d="M561.3 200.1L571.3 200.1L571.3 194.1L561.3 194.1Z" fill="#e8281e"/><path d="M595.3 192.1L601.4 192.1L601.4 184.1L595.3 184.1Z" fill="#ef7b49"/><path d="M605.4 156.0L613.4 156.0L613.4 142.0L605.4 142.0Z" fill="#e8281e"/><path d="M617.4 168.1L625.4 168.1L625.4 160.0L617.4 160.0Z" fill="#e8281e"/><path d="M625.4 192.1L633.4 192.1L633.4 180.1L625.4 180.1Z" fill="#e8281e"/><path d="M615.4 190.1L623.4 190.1L623.4 182.1L615.4 182.1Z" fill="#ef7b49"/><path d="M489.1 252.2L497.1 252.2L497.1 240.2L489.1 240.2Z" fill="#4a8bf0"/><path d="M507.7 240.2L497.1 240.2L497.1 252.2L511.2 252.2L511.2 240.5Z" fill="#ef7b49"/><path d="M511.2 260.2L533.2 260.2L533.2 244.2L511.2 244.2Z" fill="#ef7b49"/><path d="M501.2 278.3L511.2 278.3L511.2 256.2L501.2 256.2Z" fill="#fdf84f"/><path d="M551.5 286.4L552.2 275.8L552.8 265.2L553.3 258.4L553.3 252.2L525.2 252.2L525.2 287.1L551.4 287.1Z" fill="#fdf84f"/><path d="M533.2 256.2L545.2 256.2L545.2 244.2L533.2 244.2Z" fill="#4a8bf0"/><path d="M473.1 287.1L501.2 287.1L501.2 260.2L473.1 260.2Z" fill="#ef7b49"/><path d="M565.3 278.3L577.3 278.3L577.3 268.3L565.3 268.3Z" fill="#4a8bf0"/><path d="M263.1 148.0L325.2 148.0L325.2 130.0L263.1 130.0Z" fill="#ef7b49"/><path d="M251.6 148.3L251.2 166.1L257.0 166.1L257.0 148.0L251.8 148.0Z" fill="#fdf84f"/><path d="M278.3 174.9L285.2 176.9L292.0 178.7L297.0 180.1L319.2 180.1L319.2 144.0L277.1 144.0L277.1 174.6Z" fill="#fdf84f"/><path d="M319.4 185.9L320.1 186.1L339.2 186.1L339.2 146.0L315.2 146.0L315.2 184.9Z" fill="#ef7b49"/><path d="M336.7 190.1L348.8 190.1L350.7 181.7L353.2 170.7L355.6 159.6L357.6 155.7L358.1 147.1L358.0 141.6L362.7 135.5L363.3 130.0L335.2 130.0L335.2 189.8Z" fill="#fdf84f"/><path d="M357.6 155.7L355.6 159.6L353.2 170.7L351.2 179.4L351.2 193.5L353.9 194.1L360.8 195.6L363.3 196.1L379.3 196.1L379.3 154.0L357.7 154.0Z" fill="#fdf84f"/><path d="M359.2 170.1L375.3 170.1L375.3 154.0L359.2 154.0Z" fill="#ef7b49"/><path d="M382.3 174.1L389.3 174.1L389.3 162.1L382.3 162.1Z" fill="#4a8bf0"/><path d="M401.3 176.1L427.4 176.1L427.4 156.1L401.3 156.1Z" fill="#4a8bf0"/><path d="M379.3 188.1L399.3 188.1L399.3 174.1L379.3 174.1Z" fill="#fdf84f"/><path d="M387.3 200.1L405.3 200.1L405.3 188.1L387.3 188.1Z" fill="#ef7b49"/><path d="M408.3 143.3L411.4 150.0L437.4 150.0L437.4 130.0L407.3 130.0L407.3 142.4Z" fill="#fdf84f"/><path d="M415.4 188.1L429.4 188.1L429.4 176.1L415.4 176.1Z" fill="#ef7b49"/><path d="M419.4 196.1L429.4 196.1L429.4 188.1L419.4 188.1Z" fill="#fdf84f"/><path d="M305.1 193.6L305.1 182.3L304.1 182.0L285.1 180.1L285.1 196.1L304.0 198.0Z" fill="#4a8bf0"/><path d="M299.1 217.2L299.1 196.1L283.1 196.1L283.1 222.2L297.9 222.2Z" fill="#fdf84f"/><path d="M265.1 210.2L283.1 210.2L283.1 190.1L265.1 190.1Z" fill="#ef7b49"/><path d="M255.0 230.2L277.1 230.2L277.1 206.2L255.0 206.2Z" fill="#fdf84f"/><path d="M242.6 213.2L240.3 223.3L241.9 239.2L244.9 247.1L244.2 250.2L255.0 250.2L255.0 210.2L241.9 210.2Z" fill="#ef7b49"/><path d="M292.1 244.8L294.7 234.5L295.1 232.9L295.1 226.2L255.0 230.2L255.0 277.1L295.1 277.1L295.1 250.3Z" fill="#ef7b49"/><path d="M275.1 228.2L293.1 228.2L293.1 212.2L275.1 212.2Z" fill="#e8281e"/><path d="M259.0 258.3L279.1 258.3L279.1 242.2L259.0 242.2Z" fill="#e8281e"/><path d="M295.1 250.2L289.1 250.2L289.1 258.3L295.1 258.3L295.1 250.3Z" fill="#4a8bf0"/><path d="M303.3 265.1L299.5 258.3L293.1 258.3L293.1 277.1L307.1 277.1L307.1 271.8Z" fill="#fdf84f"/><path d="M340.1 190.9L333.2 189.3L333.2 189.3L313.2 188.1L313.2 220.2L347.2 220.2L347.2 192.6L347.0 192.5Z" fill="#fdf84f"/><path d="M307.1 230.2L337.2 232.2L337.2 210.2L307.1 208.2Z" fill="#4a8bf0"/><path d="M325.2 254.2L355.2 254.2L355.2 216.2L329.2 216.2Z" fill="#fdf84f"/><path d="M299.1 242.2L305.1 242.2L305.1 236.2L299.1 236.2Z" fill="#4a8bf0"/><path d="M428.7 219.2L429.4 215.1L429.4 208.6L427.0 208.2L423.4 208.2L423.4 224.2L428.0 224.2Z" fill="#4a8bf0"/><path d="M403.3 277.1L415.4 277.1L415.4 268.3L403.3 268.3Z" fill="#fdf84f"/><path d="M434.1 230.8L427.1 229.7L427.6 226.2L421.4 226.2L421.4 238.2L435.4 238.2L435.4 231.0Z" fill="#ef7b49"/><path d="M441.4 170.1L455.0 170.1L455.0 148.0L441.4 148.0Z" fill="#fdf84f"/><path d="M271.1 306.1L303.1 306.1L303.1 270.0L271.1 270.0Z" fill="#ef7b49"/><path d="M251.5 278.6L254.2 282.9L250.9 286.3L250.8 287.3L253.9 303.9L255.3 308.0L260.1 315.8L261.6 326.5L261.0 328.0L261.1 328.1L279.1 330.1L271.1 300.1L265.1 278.0L251.2 278.0Z" fill="#fdf84f"/><path d="M283.1 318.1L307.1 318.1L305.1 296.1L281.1 298.1Z" fill="#fdf84f"/><path d="M327.1 305.6L321.0 295.5L315.0 285.4L309.1 275.3L306.1 270.0L297.1 270.0L303.1 296.1L309.1 322.1L339.2 326.1L332.4 314.3Z" fill="#fdf84f"/><path d="M273.1 312.1L285.1 312.1L285.1 300.1L273.1 300.1Z" fill="#e8281e"/><path d="M275.1 334.1L305.1 338.1L309.1 320.1L273.1 312.1Z" fill="#ef7b49"/><path d="M303.1 358.2L355.2 362.2L339.2 326.1L309.1 320.1Z" fill="#ef7b49"/><path d="M261.6 326.5L260.2 330.0L262.2 336.6L272.6 340.3L278.0 344.3L280.2 348.7L280.5 349.0L287.1 350.2L287.1 330.1L261.6 326.5Z" fill="#ef7b49"/><path d="M351.2 382.2L367.3 382.2L367.3 366.2L351.2 366.2Z" fill="#ef7b49"/><path d="M322.6 390.4L332.2 391.4L340.3 392.2L342.2 392.2L345.2 390.9L345.2 389.0L343.7 386.8L344.6 378.4L345.2 377.9L345.2 374.2L321.2 374.2L321.2 390.3Z" fill="#ef7b49"/><path d="M375.3 340.1L395.3 366.2L411.4 370.2L415.4 314.1L375.3 314.1Z" fill="#ef7b49"/><path d="M347.2 401.9L347.3 402.0L365.3 410.3L365.3 378.2L344.8 378.2L344.6 378.4L343.7 386.8L346.3 390.5L341.8 392.4L339.5 396.9Z" fill="#fdf84f"/><path d="M370.8 417.0L371.0 417.1L407.3 417.1L407.3 402.3L363.3 402.3L363.3 412.2Z" fill="#ef7b49"/><path d="M411.4 414.3L427.4 414.3L427.4 390.2L411.4 390.2Z" fill="#ef7b49"/><path d="M407.3 417.1L425.4 417.1L425.4 410.3L407.3 410.3Z" fill="#fdf84f"/><path d="M399.3 282.0L415.4 282.0L415.4 270.0L399.3 270.0Z" fill="#fdf84f"/><path d="M399.3 288.0L433.4 290.0L433.4 282.0L399.3 280.0Z" fill="#4a8bf0"/><path d="M441.4 370.2L455.0 370.2L455.0 338.1L441.4 338.1Z" fill="#fdf84f"/><path d="M449.4 406.3L455.0 406.3L455.0 394.2L449.4 394.2Z" fill="#4a8bf0"/><path d="M433.4 417.1L449.4 417.1L449.4 398.3L433.4 398.3Z" fill="#fdf84f"/><path d="M469.1 296.0L491.1 296.0L491.1 280.0L469.1 280.0Z" fill="#fdf84f"/><path d="M477.1 308.1L497.1 308.1L497.1 294.0L477.1 294.0Z" fill="#e8281e"/><path d="M491.1 304.0L505.2 304.0L505.2 290.0L491.1 290.0Z" fill="#fdf84f"/><path d="M515.2 310.1L533.2 310.1L533.2 296.0L515.2 296.0Z" fill="#fdf84f"/><path d="M531.2 302.0L549.2 302.0L549.2 296.0L531.2 296.0Z" fill="#4a8bf0"/><path d="M550.2 307.6L550.5 302.0L541.2 302.0L541.2 316.1L549.6 316.1Z" fill="#fdf84f"/><path d="M549.2 322.0L549.2 316.1L533.2 316.1L533.2 326.1L549.0 326.1Z" fill="#4a8bf0"/><path d="M465.1 320.1L481.1 320.1L481.1 308.1L465.1 308.1Z" fill="#e8281e"/><path d="M458.3 320.1L467.1 320.1L467.1 306.1L455.1 306.1L455.1 319.7Z" fill="#fdf84f"/><path d="M447.0 306.1L465.1 308.1L467.1 302.0L447.0 300.0Z" fill="#4a8bf0"/><path d="M428.8 316.0L436.2 317.1L443.4 318.1L443.7 318.1L444.4 313.1L444.5 312.3L447.0 280.0L425.0 280.0L425.0 315.4Z" fill="#e8281e"/><path d="M443.0 323.0L443.0 340.1L463.1 340.1L463.1 322.1L443.2 322.1Z" fill="#ef7b49"/><path d="M435.2 380.6L433.6 391.8L433.5 392.6L433.0 400.2L455.1 400.2L455.1 370.2L436.6 370.2Z" fill="#e8281e"/><path d="M465.1 376.2L481.1 376.2L481.1 340.1L465.1 340.1Z" fill="#ef7b49"/><path d="M489.1 344.1L499.1 344.1L499.1 326.1L489.1 326.1Z" fill="#ef7b49"/><path d="M491.1 364.2L521.2 364.2L521.2 348.1L491.1 348.1Z" fill="#ef7b49"/><path d="M533.0 348.9L533.2 345.6L533.2 328.1L519.2 328.1L519.2 354.1L532.6 354.1Z" fill="#4a8bf0"/><path d="M511.2 360.2L527.2 360.2L527.2 344.1L511.2 344.1Z" fill="#4a8bf0"/><path d="M495.1 388.2L515.2 388.2L515.2 364.2L495.1 364.2Z" fill="#4a8bf0"/><path d="M519.2 384.2L529.2 384.2L529.2 372.2L519.2 372.2Z" fill="#ef7b49"/><path d="M485.1 404.2L499.1 404.2L499.1 384.2L485.1 384.2Z" fill="#ef7b49"/><path d="M451.1 412.3L475.1 412.3L475.1 396.2L451.1 396.2Z" fill="#4a8bf0"/><path d="M473.1 427.1L491.1 427.1L491.1 400.2L473.1 400.2Z" fill="#e8281e"/><path d="M501.2 427.1L515.2 427.1L515.2 412.3L501.2 412.3Z" fill="#e8281e"/><path d="M527.6 422.5L528.4 412.1L529.1 401.6L529.2 400.5L529.2 400.2L515.2 400.2L515.2 427.1L527.3 427.1Z" fill="#ef7b49"/><path d="M533.2 345.6L533.2 356.2L545.2 356.2L545.2 340.1L533.6 340.1Z" fill="#ef7b49"/><path d="M533.2 370.2L545.2 370.2L545.2 356.2L533.2 356.2Z" fill="#fdf84f"/><path d="M531.2 384.2L539.2 384.2L539.2 376.2L531.2 376.2Z" fill="#4a8bf0"/><path d="M545.2 348.1L553.3 348.1L553.3 342.1L545.2 342.1Z" fill="#4a8bf0"/><path d="M578.7 354.7L579.2 344.1L571.3 344.1L571.3 368.2L578.2 368.2Z" fill="#fdf84f"/><path d="M563.3 386.2L571.3 386.2L571.3 378.2L563.3 378.2Z" fill="#4a8bf0"/><path d="M561.3 424.3L591.3 424.3L591.3 396.2L561.3 396.2Z" fill="#4a8bf0"/><path d="M553.3 420.3L565.3 420.3L565.3 408.3L553.3 408.3Z" fill="#fdf84f"/><path d="M591.3 420.3L601.4 420.3L601.4 400.2L591.3 400.2Z" fill="#fdf84f"/><path d="M579.3 364.2L587.3 364.2L587.3 354.1L579.3 354.1Z" fill="#4a8bf0"/><path d="M589.3 348.1L605.4 348.1L605.4 338.1L589.3 338.1Z" fill="#4a8bf0"/><path d="M593.3 362.2L605.4 362.2L605.4 354.1L593.3 354.1Z" fill="#fdf84f"/><path d="M631.4 378.2L639.4 378.2L639.4 368.2L631.4 368.2Z" fill="#fdf84f"/><path d="M589.3 374.2L601.4 374.2L601.4 364.2L589.3 364.2Z" fill="#ef7b49"/><path d="M551.3 328.1L569.3 328.1L569.3 292.0L551.3 292.0Z" fill="#4a8bf0"/><path d="M565.3 306.1L577.3 306.1L577.3 292.0L565.3 292.0Z" fill="#fdf84f"/><path d="M571.3 328.1L585.3 328.1L585.3 320.1L571.3 320.1Z" fill="#4a8bf0"/><path d="M589.3 316.1L597.3 316.1L597.3 304.0L589.3 304.0Z" fill="#fdf84f"/><path d="M605.4 292.0L613.4 292.0L613.4 284.0L605.4 284.0Z" fill="#4a8bf0"/><path d="M621.4 308.1L631.4 308.1L631.4 300.0L621.4 300.0Z" fill="#fdf84f"/><path d="M591.3 324.1L601.4 324.1L601.4 308.1L591.3 308.1Z" fill="#ef7b49"/><path d="M605.4 328.1L623.4 328.1L623.4 320.1L605.4 320.1Z" fill="#ef7b49"/><path d="M537.2 392.2L553.3 392.2L553.3 380.2L537.2 380.2Z" fill="#ef7b49"/><path d="M447.5 290.5L445.9 301.8L445.0 308.3L445.0 318.1L470.6 321.6L474.6 322.1L482.3 323.0L490.0 323.8L497.8 324.6L505.5 325.4L513.3 326.1L521.0 326.7L523.4 326.9L548.9 328.0L549.5 318.2L550.2 307.6L550.8 297.0L551.3 290.2L551.3 280.0L448.9 280.0Z" fill="#ef7b49"/><path d="M469.1 296.0L491.1 296.0L491.1 280.0L469.1 280.0Z" fill="#fdf84f"/><path d="M477.1 308.1L497.1 308.1L497.1 294.0L477.1 294.0Z" fill="#e8281e"/><path d="M491.1 304.0L505.2 304.0L505.2 290.0L491.1 290.0Z" fill="#fdf84f"/><path d="M515.2 310.1L533.2 310.1L533.2 296.0L515.2 296.0Z" fill="#fdf84f"/><path d="M531.2 302.0L549.2 302.0L549.2 296.0L531.2 296.0Z" fill="#4a8bf0"/><path d="M550.2 307.6L550.5 302.0L541.2 302.0L541.2 316.1L549.6 316.1Z" fill="#fdf84f"/><path d="M549.2 322.0L549.2 316.1L533.2 316.1L533.2 326.1L549.0 326.1Z" fill="#4a8bf0"/><path d="M465.1 320.1L481.1 320.1L481.1 308.1L465.1 308.1Z" fill="#e8281e"/><path d="M458.3 320.1L467.1 320.1L467.1 306.1L455.1 306.1L455.1 319.7Z" fill="#fdf84f"/><path d="M494.3 457.0L508.6 451.5L509.6 433.0L495.4 431.9Z" fill="#4a8bf0"/><path d="M505.3 465.7L516.2 462.5L508.6 451.5L494.3 457.0Z" fill="#4a8bf0"/><path d="M498.3 480.0L502.7 484.5L509.6 488.7L511.8 465.7L494.3 462.5L498.2 479.6Z" fill="#fdf84f"/><path d="M520.6 466.8L533.7 473.4L544.6 460.3L524.9 447.2L515.1 455.9Z" fill="#fdf84f"/><path d="M514.0 440.6L520.6 440.6L520.6 434.0L514.0 434.0Z" fill="#4a8bf0"/><path d="M562.1 485.4L575.2 485.4L575.2 472.3L562.1 472.3Z" fill="#4a8bf0"/><path d="M573.0 463.6L581.8 463.6L581.8 455.9L573.0 455.9Z" fill="#4a8bf0"/><path d="M546.8 441.7L554.5 441.7L554.5 434.0L546.8 434.0Z" fill="#4a8bf0"/><path d="M559.9 416.6L594.9 416.6L594.9 410.0L559.9 410.0Z" fill="#4a8bf0"/><path d="M574.1 434.0L590.5 434.0L590.5 416.6L574.1 416.6Z" fill="#4a8bf0"/><path d="M590.5 434.0L601.4 434.0L601.4 410.0L590.5 410.0Z" fill="#fdf84f"/><path d="M529.3 434.0L542.4 434.0L542.4 416.6L529.3 416.6Z" fill="#fdf84f"/><path d="M592.7 451.5L603.6 451.5L603.6 442.8L592.7 442.8Z" fill="#fdf84f"/><path d="M643.0 469.0L651.7 469.0L651.7 459.2L643.0 459.2Z" fill="#fdf84f"/><path d="M612.4 504.0L623.3 504.0L623.3 493.1L612.4 493.1Z" fill="#fdf84f"/><path d="M589.4 545.5L597.1 545.5L597.1 534.6L589.4 534.6Z" fill="#4a8bf0"/><path d="M605.8 549.9L614.6 549.9L614.6 536.8L605.8 536.8Z" fill="#4a8bf0"/><path d="M559.9 462.5L573.0 462.5L573.0 453.7L559.9 453.7Z" fill="#ef7b49"/><path d="M581.8 469.0L592.7 469.0L592.7 458.1L581.8 458.1Z" fill="#ef7b49"/><path d="M546.8 453.7L555.5 453.7L555.5 442.8L546.8 442.8Z" fill="#ef7b49"/><path d="M581.8 486.5L592.7 486.5L592.7 479.9L581.8 479.9Z" fill="#ef7b49"/><path d="M616.7 442.8L627.7 442.8L627.7 434.0L616.7 434.0Z" fill="#ef7b49"/><path d="M640.8 447.2L651.7 447.2L651.7 436.2L640.8 436.2Z" fill="#ef7b49"/><path d="M621.1 458.1L629.9 458.1L629.9 449.3L621.1 449.3Z" fill="#ef7b49"/><path d="M641.0 206.1L655.0 206.1L655.0 194.1L641.0 194.1Z" fill="#e8281e"/><path d="M657.0 224.1L675.1 226.1L675.1 200.1L656.0 200.1Z" fill="#e8281e"/><path d="M675.1 216.1L691.1 216.1L691.1 206.1L675.1 206.1Z" fill="#e8281e"/><path d="M642.2 243.6L642.2 248.2L659.0 248.2L659.0 238.2L640.2 238.2Z" fill="#e8281e"/><path d="M679.1 248.2L689.1 248.2L689.1 236.2L679.1 236.2Z" fill="#e8281e"/><path d="M643.4 255.7L650.6 255.7L657.8 255.6L665.1 255.5L672.3 255.3L675.1 255.2L675.1 249.2L643.0 249.2L643.0 254.9Z" fill="#e8281e"/><path d="M693.9 254.6L701.2 254.3L703.3 256.2L706.8 256.2L709.9 249.2L709.9 249.2L691.1 249.2L691.1 254.7Z" fill="#e8281e"/><path d="M665.1 236.2L685.1 236.2L685.1 226.1L665.1 226.1Z" fill="#ef7b49"/><path d="M649.0 206.1L655.0 206.1L655.0 200.1L649.0 200.1Z" fill="#4a8bf0"/><path d="M681.1 206.1L687.1 206.1L687.1 194.1L681.1 194.1Z" fill="#4a8bf0"/><path d="M705.1 226.1L711.2 226.1L711.2 218.1L705.1 218.1Z" fill="#4a8bf0"/><path d="M697.1 244.2L705.1 244.2L705.1 236.2L697.1 236.2Z" fill="#4a8bf0"/><path d="M663.1 248.2L667.1 248.2L667.1 244.2L663.1 244.2Z" fill="#4a8bf0"/><path d="M719.7 232.7L719.2 232.9L719.2 244.2L739.2 244.2L739.2 232.1L719.8 232.1Z" fill="#ef7b49"/><path d="M761.1 250.8L760.4 242.2L751.2 242.2L751.2 252.2L761.3 252.2L761.3 252.0Z" fill="#e8281e"/><path d="M709.9 249.2L707.1 255.3L707.1 268.0L714.4 279.8L725.2 288.8L725.6 295.1L732.8 307.1L758.9 307.1L759.9 299.0L763.3 292.6L763.3 274.7L762.3 263.5L761.1 250.8L760.9 248.2L710.0 248.2Z" fill="#ef7b49"/><path d="M731.2 280.2L743.2 280.2L743.2 268.2L731.2 268.2Z" fill="#fdf84f"/><path d="M707.1 255.3L707.1 268.0L709.7 272.2L725.2 272.2L725.2 254.2L707.7 254.2Z" fill="#e8281e"/><path d="M725.2 288.8L725.6 295.1L732.8 307.1L758.9 307.1L759.9 299.0L763.3 292.6L763.3 280.2L723.2 284.2L723.2 287.1Z" fill="#e8281e"/><path d="M765.3 226.5L765.3 236.2L775.3 236.2L775.3 226.1L765.9 226.1Z" fill="#e8281e"/><path d="M783.3 240.2L795.3 240.2L795.3 228.1L783.3 228.1Z" fill="#e8281e"/><path d="M775.3 246.2L783.3 246.2L783.3 240.2L775.3 240.2Z" fill="#e8281e"/><path d="M763.4 276.3L764.1 284.2L797.1 284.2L803.3 277.5L802.0 266.5L800.7 255.5L799.5 244.5L799.4 244.2L763.3 244.2L763.3 274.7Z" fill="#ef7b49"/><path d="M765.3 264.2L779.3 264.2L779.3 250.2L765.3 250.2Z" fill="#fdf84f"/><path d="M779.3 272.2L795.3 272.2L795.3 256.2L779.3 256.2Z" fill="#e8281e"/><path d="M819.4 240.2L827.4 240.2L827.4 230.1L819.4 230.1Z" fill="#4a8bf0"/><path d="M837.4 244.2L845.4 244.2L845.4 240.2L837.4 240.2Z" fill="#4a8bf0"/><path d="M801.3 260.2L807.3 260.2L807.3 252.2L801.3 252.2Z" fill="#4a8bf0"/><path d="M833.4 272.2L839.4 272.2L839.4 268.2L833.4 268.2Z" fill="#4a8bf0"/><path d="M805.3 236.2L815.4 236.2L815.4 224.1L805.3 224.1Z" fill="#ef7b49"/><path d="M803.3 272.2L819.4 272.2L819.4 260.2L803.3 260.2Z" fill="#ef7b49"/><path d="M826.8 285.2L827.4 285.3L827.4 280.2L819.4 280.2L819.4 283.2Z" fill="#ef7b49"/><path d="M842.7 276.5L843.4 275.4L843.4 272.2L835.4 272.2L835.4 280.2L840.8 280.2Z" fill="#e8281e"/><path d="M775.3 180.0L787.3 180.0L787.3 166.0L775.3 166.0Z" fill="#4a8bf0"/><path d="M783.3 192.1L799.3 192.1L799.3 180.0L783.3 180.0Z" fill="#4a8bf0"/><path d="M789.3 170.0L795.3 170.0L795.3 160.0L789.3 160.0Z" fill="#4a8bf0"/><path d="M771.3 180.0L775.3 180.0L775.3 172.0L771.3 172.0Z" fill="#ef7b49"/><path d="M789.8 222.1L795.3 221.4L795.3 216.1L789.3 216.1L789.3 222.1L789.5 222.1Z" fill="#e8281e"/><path d="M775.3 220.1L783.3 220.1L783.3 210.1L775.3 210.1Z" fill="#ef7b49"/><path d="M721.2 186.1L727.2 186.1L727.2 176.0L721.2 176.0Z" fill="#ef7b49"/><path d="M727.2 180.0L735.2 180.0L735.2 175.0L727.2 175.0Z" fill="#4a8bf0"/><path d="M743.2 202.1L749.2 202.1L749.2 196.1L743.2 196.1Z" fill="#ef7b49"/><path d="M691.6 174.0L687.1 174.0L687.1 179.0L695.1 179.0L695.1 177.3Z" fill="#4a8bf0"/><path d="M707.1 192.1L715.2 192.1L715.2 188.1L707.1 188.1Z" fill="#ef7b49"/><path d="M987.1 111.6L995.7 109.0L990.5 90.0L981.9 90.0Z" fill="#ef7b49"/><path d="M985.4 153.5L985.4 143.6L978.4 143.6L978.4 148.6L982.4 154.0L985.3 154.0Z" fill="#ef7b49"/><path d="M969.8 154.0L976.7 154.0L976.7 148.8L969.8 148.8Z" fill="#ef7b49"/><path d="M967.3 113.6L965.7 113.9L963.9 117.5L964.6 135.0L971.5 135.0L970.0 122.5Z" fill="#4a8bf0"/><path d="M947.3 135.0L954.2 135.0L954.2 129.8L947.3 129.8Z" fill="#4a8bf0"/><path d="M960.1 137.8L961.1 131.3L961.1 128.1L955.9 128.1L955.9 138.5L960.1 138.5Z" fill="#4a8bf0"/><path d="M960.4 148.7L960.4 147.1L952.5 147.1L952.5 159.2L960.7 159.2Z" fill="#4a8bf0"/><path d="M962.3 169.3L968.0 168.0L968.0 160.9L961.1 160.9L961.1 162.3Z" fill="#4a8bf0"/><path d="M957.7 176.5L966.3 176.5L966.3 171.3L957.7 171.3Z" fill="#4a8bf0"/><path d="M990.5 184.6L990.5 180.0L981.9 180.0L981.9 182.3L986.0 188.6L988.1 188.6L989.1 187.3Z" fill="#ef7b49"/><path d="M992.9 187.8L1002.2 182.1L1000.2 177.2L998.8 177.6L999.3 180.7L993.9 182.2L991.5 179.7L990.5 180.0L991.3 185.0Z" fill="#ef7b49"/><path d="M924.8 147.1L933.4 147.1L933.4 129.8L924.8 129.8Z" fill="#4a8bf0"/><path d="M924.8 166.1L936.9 166.1L936.9 148.8L924.8 148.8Z" fill="#4a8bf0"/><path d="M912.7 162.7L921.3 162.7L921.3 150.6L912.7 150.6Z" fill="#4a8bf0"/><path d="M924.8 185.2L933.4 185.2L933.4 176.5L924.8 176.5Z" fill="#4a8bf0"/><path d="M881.5 183.4L886.7 183.4L886.7 178.3L881.5 178.3Z" fill="#4a8bf0"/><path d="M888.5 190.4L895.4 190.4L895.4 181.7L888.5 181.7Z" fill="#4a8bf0"/><path d="M897.1 188.6L905.8 188.6L905.8 180.0L897.1 180.0Z" fill="#4a8bf0"/><path d="M898.0 200.0L898.0 209.4L916.1 209.4L916.1 199.0L903.0 199.0Z" fill="#4a8bf0"/><path d="M936.0 160.9L943.8 160.9L943.8 154.0L936.0 154.0Z" fill="#ef7b49"/><path d="M938.6 188.6L945.6 188.6L945.6 181.7L938.6 181.7Z" fill="#ef7b49"/><path d="M917.9 209.4L923.1 209.4L923.1 204.2L917.9 204.2Z" fill="#ef7b49"/><path d="M928.3 217.0L933.4 217.0L933.4 211.1L928.3 211.1Z" fill="#ef7b49"/><path d="M859.0 217.0L869.4 217.0L869.4 209.4L859.0 209.4Z" fill="#e8281e"/><path d="M951.6 211.1L953.8 212.1L954.7 209.3L955.4 202.6L955.0 200.7L950.7 200.7L950.7 210.8Z" fill="#ef7b49"/><path d="M897.2 200.2L897.2 208.7L917.6 208.7L917.6 200.0L898.1 200.0Z" fill="#4a8bf0"/><path d="M877.6 227.0L883.4 227.0L883.4 218.9L877.6 218.9Z" fill="#4a8bf0"/><path d="M889.9 238.6L895.0 238.6L895.0 229.1L889.9 229.1Z" fill="#4a8bf0"/><path d="M885.9 251.7L888.5 251.2L888.5 240.8L880.5 240.8L880.5 252.5L881.6 252.5Z" fill="#4a8bf0"/><path d="M899.4 234.2L906.0 236.4L917.6 223.3L910.3 217.5Z" fill="#4a8bf0"/><path d="M857.9 217.5L869.5 217.5L869.5 210.2L857.9 210.2Z" fill="#e8281e"/><path d="M887.0 218.2L892.9 218.2L892.9 211.7L887.0 211.7Z" fill="#ef7b49"/><path d="M919.1 208.7L923.5 208.7L923.5 204.4L919.1 204.4Z" fill="#ef7b49"/><path d="M927.8 216.0L935.1 216.0L935.1 210.9L927.8 210.9Z" fill="#ef7b49"/><path d="M913.3 246.4L913.3 240.8L907.4 240.8L907.4 246.6L912.1 246.6Z" fill="#ef7b49"/><path d="M820.0 240.8L825.8 240.8L825.8 229.1L820.0 229.1Z" fill="#4a8bf0"/><path d="M838.9 243.7L844.8 243.7L844.8 239.3L838.9 239.3Z" fill="#4a8bf0"/><path d="M857.9 257.1L857.9 255.4L853.5 255.4L853.5 261.2L855.6 261.2Z" fill="#4a8bf0"/><path d="M834.6 272.9L840.4 272.9L840.4 268.5L834.6 268.5Z" fill="#4a8bf0"/><path d="M858.0 222.0L857.8 220.4L852.1 220.4L852.1 237.9L859.3 237.9L859.3 230.1Z" fill="#ef7b49"/><path d="M854.6 262.8L857.2 258.3L841.9 258.3L841.9 267.0L848.4 268.5Z" fill="#ef7b49"/><path d="M880.1 278.0L884.9 279.9L895.8 255.4L888.5 255.4L884.1 272.9L871.0 283.1L872.5 290.3L878.6 285.7Z" fill="#4a8bf0"/><path d="M860.8 268.5L868.1 268.5L868.1 261.2L860.8 261.2Z" fill="#ef7b49"/><path d="M863.7 283.1L871.0 283.1L871.0 275.8L863.7 275.8Z" fill="#ef7b49"/><path d="M866.6 286.0L872.5 286.0L872.5 277.2L866.6 277.2Z" fill="#e8281e"/><path d="M824.3 284.5L831.7 284.5L831.7 277.2L822.9 278.7L822.9 284.2Z" fill="#ef7b49"/><path d="M839.7 290.3L828.7 290.3L828.7 307.0L843.3 307.0L843.3 295.9Z" fill="#ef7b49"/><path d="M904.2 261.0L904.5 259.5L904.5 256.2L900.8 252.5L895.8 252.5L895.8 261.2L902.7 261.2Z" fill="#ef7b49"/><path d="M943.2 258.3L938.0 258.3L938.0 268.5L939.1 268.5L946.8 266.8L946.8 266.0L944.9 260.0Z" fill="#ef7b49"/><path d="M952.3 245.9L954.1 231.2L954.1 227.9L953.0 223.3L946.8 223.3L946.8 246.6L951.9 246.6Z" fill="#ef7b49"/><path d="M953.0 223.3L948.2 223.3L948.2 230.6L954.1 230.6L954.1 227.9Z" fill="#e8281e"/><path d="M923.6 278.3L914.8 274.7L916.8 265.6L914.0 262.9L907.3 258.3L904.8 258.3L904.2 261.0L898.7 261.8L898.7 281.6L924.9 281.6L924.6 278.7Z" fill="#fdf84f"/><path d="M881.2 307.0L901.6 307.0L901.6 287.4L881.2 287.4Z" fill="#e8281e"/><path d="M892.9 296.2L898.7 296.2L898.7 290.3L892.9 290.3Z" fill="#4a8bf0"/><path d="M920.5 286.0L924.9 286.0L924.9 281.6L920.5 281.6Z" fill="#4a8bf0"/><path d="M269.5 113.8L269.5 123.6L277.7 123.6L277.7 104.5L273.0 104.5Z" fill="#fdf84f"/><path d="M285.2 84.1L279.7 84.1L279.7 96.3L285.9 96.3L285.9 84.2Z" fill="#fdf84f"/><path d="M279.0 126.3L298.1 127.7L298.1 118.1L279.0 116.8Z" fill="#e8281e"/><path d="M298.1 129.0L318.5 129.0L318.5 120.9L298.1 120.9Z" fill="#e8281e"/><path d="M370.3 122.6L370.3 115.9L368.1 110.1L361.5 108.6L354.9 107.1L352.4 106.5L320.9 105.1L320.9 105.1L311.5 104.7L311.1 104.7L307.6 104.5L307.6 126.3L368.5 126.3Z" fill="#e8281e"/><path d="M358.0 141.6L358.0 141.5L358.0 124.9L321.3 123.6L321.3 145.4L358.0 145.4L358.0 143.2Z" fill="#fdf84f"/><path d="M265.4 125.1L265.4 142.6L296.7 144.0L296.7 126.3L266.0 123.6Z" fill="#ef7b49"/><path d="M289.9 148.1L321.3 148.1L321.3 127.7L289.9 127.7Z" fill="#ef7b49"/><path d="M262.7 156.3L285.9 156.3L285.9 134.5L262.7 131.7Z" fill="#e8281e"/><path d="M251.6 148.3L251.2 166.9L252.1 167.2L260.0 167.2L260.0 145.4L253.6 145.4Z" fill="#fdf84f"/><path d="M257.9 168.9L264.7 171.0L270.3 172.6L281.8 172.6L281.8 154.9L257.3 154.9L257.3 168.7Z" fill="#e8281e"/><path d="M285.2 176.9L292.0 178.7L296.5 180.0L318.5 180.0L318.5 144.0L280.4 144.0L280.4 175.5Z" fill="#fdf84f"/><path d="M315.8 180.0L340.3 180.0L340.3 145.4L315.8 145.4Z" fill="#ef7b49"/><path d="M353.2 170.7L355.6 159.6L357.6 155.7L358.0 148.9L358.0 143.2L358.0 141.6L358.0 141.5L358.0 139.9L339.0 139.9L339.0 180.0L351.1 180.0Z" fill="#fdf84f"/><path d="M310.4 101.8L337.6 101.8L337.6 80.0L310.4 80.0Z" fill="#e8281e"/><path d="M299.5 101.8L310.4 101.8L310.4 85.4L299.5 85.4Z" fill="#fdf84f"/><path d="M334.9 89.5L367.6 89.5L367.6 80.0L334.9 80.0Z" fill="#fdf84f"/><path d="M341.7 103.9L344.4 104.5L367.6 104.5L367.6 89.5L337.6 89.5L337.6 104.5L341.5 104.5Z" fill="#e8281e"/><path d="M371.7 119.6L371.7 119.7L371.7 148.1L385.0 148.1L385.0 107.2L371.7 107.2L371.7 119.5Z" fill="#e8281e"/><path d="M367.9 127.5L363.8 134.2L358.0 141.5L358.0 143.2L358.1 147.1L358.0 148.9L358.0 156.3L371.7 156.3L371.7 126.3L368.5 126.3Z" fill="#fdf84f"/><path d="M360.8 172.6L381.2 172.6L381.2 148.1L360.8 148.1Z" fill="#ef7b49"/><path d="M312.9 56.5L324.9 58.0L327.9 50.5L312.9 47.5Z" fill="#e8281e"/><path d="M339.9 71.4L351.9 61.0L335.4 61.0Z" fill="#e8281e"/><path d="M354.9 62.5L363.8 64.0L365.3 45.2L354.9 44.5Z" fill="#e8281e"/><path d="M374.5 74.4L375.5 69.6L365.3 68.4L366.8 81.9L372.6 82.8Z" fill="#e8281e"/><path d="M309.9 99.9L332.4 102.9L333.9 68.4L312.9 68.4Z" fill="#e8281e"/><path d="M338.7 104.7L341.4 104.8L341.7 103.9L346.4 105.0L366.8 105.9L366.8 95.4L332.4 89.4L332.4 104.2Z" fill="#e8281e"/><path d="M284.4 83.4L290.4 83.4L290.4 69.9L284.4 69.9Z" fill="#e8281e"/><path d="M930.6 354.6L935.5 353.2L932.4 342.1L916.4 346.1L916.4 364.2L924.9 367.6Z" fill="#fdf84f"/><path d="M937.4 358.2L937.4 363.2L943.4 363.2L943.4 358.2Z" fill="#4a8bf0"/><path d="M759.0 362.2L765.1 362.2L765.1 357.2L759.0 357.2Z" fill="#4a8bf0"/><path d="M799.1 359.2L805.1 359.2L805.1 354.1L799.1 354.1Z" fill="#4a8bf0"/><path d="M841.2 342.3L841.2 347.1L846.2 347.1L846.2 342.1L841.5 342.1Z" fill="#4a8bf0"/><path d="M891.7 319.0L883.0 320.5L881.8 320.7L884.3 328.1L898.3 326.1L897.0 318.0Z" fill="#fdf84f"/><path d="M918.4 336.1L930.4 336.1L930.4 324.1L916.4 326.1Z" fill="#fdf84f"/><path d="M864.0 395.3L856.2 396.2L858.2 408.3L872.3 408.3L872.3 404.8Z" fill="#fdf84f"/><path d="M892.3 403.8L892.3 396.2L884.3 396.2L884.3 404.2L891.8 404.2Z" fill="#fdf84f"/><path d="M830.2 351.5L830.2 360.2L840.3 360.2L844.2 357.9L844.2 350.1L831.7 350.1Z" fill="#fdf84f"/><path d="M848.2 404.2L860.2 404.2L860.2 392.2L848.2 392.2Z" fill="#fdf84f"/><path d="M706.4 121.3L702.2 121.3L699.6 123.0L698.9 123.1L698.9 133.6L707.5 133.6L707.5 125.9L706.2 125.9Z" fill="#ef7b49"/><path d="M736.9 126.2L743.0 126.2L743.0 117.6L736.9 117.6Z" fill="#4a8bf0"/><path d="M725.0 133.6L740.6 133.6L740.6 127.5L720.9 126.2L720.9 132.4Z" fill="#ef7b49"/><path d="M743.0 140.9L750.4 140.9L750.4 131.1L743.0 131.1Z" fill="#e8281e"/><path d="M726.9 134.2L725.0 133.6L719.7 133.6L719.7 139.7L730.8 139.7L730.8 135.3Z" fill="#4a8bf0"/><path d="M777.2 130.6L779.8 131.5L779.8 118.9L771.2 118.9L769.7 119.3L761.6 125.5L757.7 125.0L757.7 133.6L770.6 133.6Z" fill="#4a8bf0"/><path d="M750.9 153.2L752.3 153.2L755.3 145.9L755.3 138.5L747.9 138.5L747.9 148.4Z" fill="#4a8bf0"/><path d="M711.1 150.8L718.5 150.8L718.5 138.5L711.1 138.5Z" fill="#ef7b49"/><path d="M686.6 155.7L698.9 155.7L698.9 145.8L686.6 145.8Z" fill="#4a8bf0"/><path d="M720.9 155.7L728.3 155.7L728.3 148.3L720.9 148.3Z" fill="#4a8bf0"/><path d="M733.2 165.5L743.0 165.5L743.0 155.7L733.2 155.7Z" fill="#ef7b49"/><path d="M777.4 177.7L787.2 177.7L787.2 165.5L777.4 165.5Z" fill="#4a8bf0"/><path d="M789.6 192.5L799.4 192.5L799.4 182.6L789.6 182.6Z" fill="#4a8bf0"/><path d="M763.4 276.3L764.6 290.1L760.2 298.4L758.9 308.7L761.9 307.8L765.0 306.0L767.2 306.3L781.8 302.1L792.8 291.1L795.7 285.8L803.3 277.5L803.1 275.7L762.9 271.1Z" fill="#ef7b49"/><path d="M764.1 284.1L775.2 284.1L775.2 274.3L763.8 274.3L763.8 280.5Z" fill="#e8281e"/><path d="M788.4 298.0L788.4 292.3L778.5 292.3L778.5 300.5L785.1 300.5Z" fill="#e8281e"/><path d="M798.2 283.1L798.2 279.2L788.4 279.2L788.4 285.7L795.8 285.7Z" fill="#e8281e"/><path d="M781.8 284.1L794.9 284.1L794.9 275.9L781.8 275.9Z" fill="#fdf84f"/><path d="M767.0 295.6L775.2 295.6L775.2 287.4L767.0 287.4Z" fill="#fdf84f"/><path d="M739.2 290.7L755.6 290.7L755.6 277.5L739.2 277.5Z" fill="#fdf84f"/><path d="M761.1 250.8L761.0 249.7L722.8 251.3L722.8 275.9L762.1 275.9L762.1 262.0Z" fill="#ef7b49"/><path d="M732.6 279.2L744.1 279.2L744.1 271.0L732.6 271.0Z" fill="#fdf84f"/><path d="M760.5 243.1L752.3 243.1L752.3 253.0L760.5 253.0L760.5 243.4Z" fill="#e8281e"/><path d="M735.5 311.5L736.7 316.6L741.5 325.2L744.2 328.3L752.6 325.3L753.1 325.0L758.3 316.2L758.6 309.8L759.1 305.1L729.9 302.3Z" fill="#ef7b49"/><path d="M739.2 316.9L752.3 316.9L752.3 307.0L739.2 307.0Z" fill="#e8281e"/><path d="M744.2 328.3L750.7 326.0L750.7 321.8L744.1 321.8L744.1 328.2Z" fill="#fdf84f"/>
<path d="M951.6 218.8L958.9 217.0L965.3 213.1L971.6 209.0L979.1 201.6L973.5 204.6L969.4 206.1L962.7 208.4L954.8 212.1L951.9 215.4Z" fill="#ef7b49"/>
<path d="M280 80L280 80L279 81L281 83L282 83ZM282 83L287 85L292 88L292 90L292 90L299 75L293 68L280 80ZM292 95L292 97L295 100ZM284 41L284 38L283 42ZM283 42L282 44L284 58L283 62L293 63L295 61L291 44L284 41ZM280 80L293 68L293 63L283 62L282 66L281 74L280 80ZM293 63L293 68L299 75L304 77L314 72L312 61L309 58L295 61ZM284 41L291 44L294 43L289 40L284 35L284 38ZM295 100L298 102L305 103L306 104L309 93L308 91L292 90L292 90L292 93L292 95ZM309 93L322 90L318 75L314 72L304 77L308 91ZM292 90L308 91L304 77L299 75ZM295 61L309 58L313 45L311 45L311 45L306 48L302 46L298 45L294 43L291 44ZM309 93L306 104L311 105L317 105L326 98L324 91L322 90ZM313 45L313 45L312 41L311 45ZM309 58L312 61L326 60L323 47L318 43L313 45L313 45ZM313 45L318 43L323 33L318 32L311 30L313 36L312 41ZM322 90L324 91L332 86L337 77L327 70L318 75ZM326 98L317 105L321 105L329 104L331 104ZM314 72L318 75L327 70L329 62L326 60L312 61ZM329 62L337 59L339 49L338 48L323 47L326 60ZM323 47L338 48L336 37L330 35L324 33L323 33L318 43ZM331 104L336 104L338 105L341 90L332 86L324 91L326 98ZM329 62L327 70L337 77L342 75L340 62L337 59ZM338 48L339 49L353 46L354 44L354 41L348 40L342 38L336 37L336 37ZM352 105L349 104L347 105L348 105L352 106ZM349 104L352 89L352 88L341 90L338 105L339 105L341 105L342 104L347 105ZM332 86L341 90L352 88L347 77L342 75L337 77ZM340 62L359 61L353 46L339 49L337 59ZM352 89L364 88L367 83L357 70L347 77L352 88ZM354 44L361 43L361 43L354 42L354 41ZM342 75L347 77L357 70L359 62L359 61L340 62ZM359 62L368 61L374 57L373 46L373 46L367 45L361 43L354 44L353 46L359 61ZM352 106L355 107L362 109L367 110L368 104L368 103L352 105ZM349 104L352 105L368 103L369 101L369 100L368 93L364 88L352 89ZM357 70L367 83L373 78L368 61L359 62ZM367 110L368 110L368 104ZM368 93L370 93L371 88L374 78L373 78L367 83L364 88ZM373 78L374 78L374 74L377 61L378 58L374 57L368 61ZM368 93L369 100L370 93ZM378 58L380 48L380 48L379 48L373 46L374 57ZM270 143L268 133L263 131L259 138L252 148L251 154ZM251 161L265 166L268 164L274 146L270 143L251 154L251 161ZM265 166L251 161L251 167L258 169L265 171L267 172ZM288 176L287 175L282 176L285 177L288 178ZM268 133L271 129L268 118L265 127L263 131ZM279 119L287 109L287 105L275 100L271 109ZM271 129L280 125L279 119L271 109L269 115L268 118ZM265 166L267 172L272 173L278 175L282 176L287 175L283 164L268 164ZM268 133L270 143L274 146L279 147L293 130L280 125L271 129ZM289 86L287 85L281 83L279 81L279 87L277 93ZM282 150L279 147L274 146L268 164L283 164L283 162ZM283 162L300 158L301 155L299 150L282 150ZM283 164L287 175L288 176L297 176L300 158L283 162ZM280 125L293 130L295 129L299 120L287 109L279 119ZM287 105L294 99L292 97L292 93L292 88L289 86L277 93L276 97L275 100ZM282 150L299 150L302 142L297 132L295 129L293 130L279 147ZM300 177L297 176L288 176L288 178L292 179L299 181L301 181ZM287 109L299 120L304 116L303 103L298 102L294 99L287 105ZM295 129L297 132L314 129L318 123L317 118L304 116L299 120ZM300 158L297 176L300 177L307 176L317 161L315 159L301 155ZM301 155L315 159L317 142L314 141L302 142L299 150ZM300 177L301 181L306 182L308 183L313 184L318 186L319 180L307 176ZM317 118L318 116L315 105L311 105L305 103L303 103L304 116ZM302 142L314 141L314 129L297 132ZM317 142L330 141L332 135L331 133L318 123L314 129L314 141ZM318 116L331 109L329 104L321 105L315 105ZM317 161L324 162L326 161L330 141L330 141L317 142L315 159ZM307 176L319 180L327 175L324 162L317 161ZM318 186L319 186L326 188L332 189L333 179L327 175L319 180ZM332 189L333 189L340 191L347 193L348 193L346 176L333 179ZM317 118L318 123L331 133L338 112L331 109L318 116ZM327 175L333 179L346 176L346 175L347 164L345 162L326 161L324 162ZM331 109L338 112L340 112L342 104L342 104L341 105L329 104L329 104ZM330 141L344 150L347 147L348 132L347 132L332 135L330 141ZM332 135L347 132L343 113L340 112L338 112L331 133ZM344 150L345 162L347 164L355 161L356 160L358 156L358 147L358 146L347 147ZM326 161L345 162L344 150L330 141ZM343 113L356 112L358 108L355 107L348 105L342 104L340 112ZM346 176L348 193L348 193L351 182L352 177L346 175ZM348 132L363 132L363 120L356 112L343 113L347 132ZM363 132L363 133L365 133L368 127L372 120L371 117L363 120ZM347 147L358 146L358 142L364 134L363 133L363 132L348 132ZM347 164L346 175L352 177L353 171L355 161ZM356 112L363 120L371 117L368 110L362 109L358 108ZM364 134L364 134L365 133L363 133ZM243 239L240 234L242 240ZM252 191L261 182L261 182L250 173L246 186L246 187ZM252 195L252 191L246 187L244 191L239 198L239 200ZM251 275L254 271L253 262L248 257L250 260L248 266L248 272L250 275ZM243 239L249 240L250 240L252 226L240 225L239 232L240 234ZM249 240L243 239L242 240L245 247L244 253L248 257ZM254 210L254 199L252 195L239 200L242 211ZM251 289L252 286L252 285L251 286L250 290ZM251 275L250 275L251 279L251 279ZM248 257L248 257L253 262L266 254L262 242L250 240L249 240ZM256 304L258 301L251 289L250 290L250 293L254 304ZM251 279L254 283L252 285L252 286L270 287L270 275L254 271L251 275ZM256 304L254 304L255 308ZM252 195L254 199L267 197L268 186L261 182L252 191ZM252 226L254 225L257 213L254 210L242 211L243 213L240 224L240 225ZM251 289L258 301L267 301L267 301L270 288L270 287L252 286ZM252 226L250 240L262 242L266 238L266 232L254 225ZM256 304L255 308L255 308L260 316L260 316L270 312L267 301L258 301ZM276 334L272 328L261 327L259 333L261 336L273 340L273 340ZM257 213L267 214L272 212L270 200L267 197L254 199L254 210ZM261 182L265 172L265 171L265 171L258 169L251 167L250 172L250 173ZM254 225L266 232L270 228L267 214L257 213ZM270 312L276 315L286 313L286 302L286 301L267 301L267 301ZM254 271L270 275L271 274L275 256L266 254L253 262ZM272 328L276 315L270 312L260 316L262 327L261 327ZM267 301L286 301L285 290L270 288ZM266 254L275 256L278 255L279 254L280 244L279 240L266 238L262 242ZM268 186L279 185L283 181L281 176L278 175L272 173L266 171L265 172L261 182L261 182ZM267 197L270 200L279 194L279 185L268 186ZM292 347L287 333L276 334L273 340L278 344L280 349L284 352L287 352ZM266 238L279 240L283 231L270 228L266 232ZM270 228L283 231L285 229L283 213L272 212L267 214ZM270 288L285 290L289 285L283 275L271 274L270 275L270 287ZM279 194L283 200L296 191L294 184L293 182L283 181L279 185ZM272 328L276 334L287 333L287 332L290 316L286 313L276 315ZM272 212L283 213L285 211L283 200L279 194L270 200ZM302 362L303 349L299 348L292 347L287 352L289 352L289 359L295 363ZM271 274L283 275L285 271L278 255L275 256ZM278 255L285 271L297 265L298 259L297 256L279 254ZM289 285L297 284L298 283L301 277L297 265L285 271L283 275ZM303 363L302 362L295 363L296 363L302 373L302 377ZM286 301L286 302L305 299L297 284L289 285L285 290ZM283 181L293 182L294 179L292 179L285 177L281 176ZM280 244L293 243L295 234L295 232L285 229L283 231L279 240ZM285 211L296 209L297 209L297 191L296 191L283 200ZM290 316L301 316L306 307L307 301L305 299L286 302L286 313ZM297 256L297 254L292 245L293 243L280 244L279 254ZM287 333L292 347L299 348L301 334L298 332L287 332ZM285 229L295 232L297 224L299 217L296 209L285 211L283 213ZM297 265L301 277L309 275L303 265L300 259L298 259ZM297 191L305 193L308 183L294 184L296 191ZM303 363L316 363L318 359L315 347L303 349L302 362ZM298 259L300 259L298 255L297 254L297 256ZM294 184L308 183L308 183L308 183L306 182L299 181L294 179L293 182ZM299 217L300 214L301 208L297 209L296 209ZM299 348L303 349L315 347L315 347L317 332L317 331L301 334ZM287 332L298 332L303 319L301 316L290 316ZM298 332L301 334L317 331L313 325L303 319ZM303 319L313 325L318 314L306 307L301 316ZM305 299L307 301L311 300L313 287L298 283L297 284ZM317 390L313 378L302 378L303 381L303 388L313 389L317 390ZM297 209L301 208L303 204L305 193L305 193L297 191ZM314 377L316 363L303 363L302 377L302 378L313 378ZM313 378L317 390L329 388L331 375L329 375L314 377ZM317 331L317 332L320 331L330 314L329 309L329 308L318 314L313 325ZM298 283L313 287L315 286L315 285L309 275L309 275L301 277ZM306 307L318 314L329 308L327 306L324 301L311 300L307 301ZM329 388L317 390L317 390L323 390L332 391L333 392ZM316 363L314 377L329 375L326 362L318 359ZM318 359L326 362L335 357L331 348L315 347L315 347ZM311 300L324 301L321 296L315 286L313 287ZM330 314L337 321L333 316L329 309ZM315 347L331 348L333 345L329 332L320 331L317 332ZM320 331L329 332L340 329L341 327L340 326L337 321L330 314ZM329 375L331 375L338 374L345 362L344 360L335 357L326 362ZM331 348L335 357L344 360L349 345L343 341L333 345ZM333 392L342 392L344 392L342 380L338 374L331 375L329 388ZM333 345L343 341L340 329L329 332ZM345 362L353 365L357 362L355 358L352 349L352 346L351 344L351 344L349 345L344 360ZM338 374L342 380L344 379L345 378L349 375L350 369L352 365L353 365L345 362ZM340 329L343 341L349 345L351 344L351 344L346 336L341 327ZM344 392L346 391L344 387L344 379L342 380ZM298 231L300 229L297 225L295 232ZM323 275L323 274L306 258L302 258L300 259L303 265L309 275L312 280ZM295 232L295 234L292 245L298 255L300 259L302 258L298 231ZM309 207L314 190L307 187L305 193L303 204L302 204ZM302 258L306 258L320 248L311 225L310 224L300 229L298 231ZM324 298L323 275L312 280L315 285L321 296L323 298ZM300 229L310 224L313 216L309 207L302 204L300 214L297 224L297 225ZM313 216L333 206L334 190L333 189L326 188L322 186L314 190L309 207ZM314 190L322 186L319 186L313 184L308 183L308 183L307 187ZM311 225L344 235L345 234L337 211L333 206L313 216L310 224ZM306 258L323 274L334 270L340 248L320 248ZM338 310L332 301L324 298L323 298L327 306L333 316L334 317ZM323 275L324 298L332 301L349 281L334 270L323 274ZM348 336L343 332L346 336L347 337ZM349 281L362 282L366 279L364 262L341 247L340 248L334 270ZM320 248L340 248L341 247L344 235L311 225ZM348 336L347 337L352 346L354 342L354 336ZM333 206L337 211L363 204L364 200L362 196L361 196L354 194L348 193L347 193L340 191L334 190ZM344 235L341 247L364 262L375 248L355 230L345 234ZM338 310L354 310L359 298L362 282L349 281L332 301ZM334 317L340 326L343 332L348 336L354 336L355 332L355 322L363 322L354 310L338 310ZM359 298L370 303L371 298L373 286L374 280L366 279L362 282ZM363 322L366 322L368 310L369 306L370 303L359 298L354 310ZM363 204L365 219L383 223L386 216L387 214L389 202L387 201L386 201L364 200ZM345 234L355 230L365 219L363 204L337 211ZM355 230L375 248L381 246L382 238L384 226L383 223L365 219ZM366 279L374 280L375 274L378 262L380 250L381 246L375 248L364 262ZM383 223L384 226L384 226L386 216ZM364 200L386 201L382 200L375 199L368 197L362 196ZM389 202L389 201L389 201L389 201L387 201ZM362 180L360 166L354 166L353 171L351 182L351 182ZM349 193L354 194L357 195L363 182L362 180L351 182L348 192ZM360 166L363 164L365 155L362 151L358 149L358 156L356 160L354 166ZM381 51L385 49L380 48L380 48L380 50ZM362 180L363 182L377 185L382 171L363 164L360 166ZM372 90L382 81L374 77L371 88L371 90ZM362 151L369 140L365 131L364 134L358 142L358 147L358 149ZM371 122L378 109L378 109L368 105L368 110L372 120L370 123ZM378 109L378 94L372 90L371 90L369 101L368 105ZM380 57L381 51L380 50L378 58ZM365 155L374 154L378 149L376 142L369 140L362 151ZM357 195L361 196L364 196L376 194L378 186L377 185L363 182ZM369 140L376 142L383 136L369 125L368 127L365 131ZM376 194L364 196L368 197L375 199L378 199ZM377 185L378 186L390 188L401 182L386 168L382 171ZM382 171L386 168L386 168L374 154L365 155L363 164ZM376 194L378 199L382 200L389 201L389 201L392 202L394 198L390 188L378 186ZM370 123L369 125L383 136L388 135L389 134L388 125L371 122ZM382 81L387 78L387 78L376 67L374 74L374 77ZM371 122L388 125L392 117L389 110L378 109ZM374 154L386 168L388 166L392 152L391 151L378 149ZM378 149L391 151L388 135L383 136L376 142ZM372 90L378 94L394 93L394 92L387 78L382 81ZM378 109L389 110L391 107L394 93L378 94L378 109ZM378 58L377 61L376 67L387 78L389 76L388 72L390 63L380 57ZM387 78L394 92L396 92L394 89L390 83L389 76L387 78ZM386 168L401 182L404 183L409 179L409 167L388 166L386 168ZM389 134L404 134L404 126L397 126L400 120L392 117L388 125ZM391 151L392 152L403 151L406 141L404 139L404 134L389 134L388 135ZM380 57L390 63L390 61L392 50L392 50L392 50L385 49L385 49L381 51ZM394 198L405 192L404 183L401 182L390 188ZM394 93L391 107L402 108L402 106L401 103L396 92L394 92ZM405 192L411 200L422 195L420 185L415 181L409 179L404 183ZM392 202L396 203L402 204L409 205L410 205L411 200L405 192L394 198ZM392 117L400 120L401 117L402 108L391 107L389 110ZM392 152L388 166L409 167L410 164L407 155L403 151ZM403 151L407 155L412 152L408 143L406 141ZM410 164L419 163L426 154L421 154L415 154L413 153L412 152L407 155ZM411 200L410 205L416 206L423 208L428 208L430 198L422 195ZM409 167L409 179L415 181L427 172L419 163L410 164ZM427 172L434 172L437 170L437 167L437 166L434 153L433 153L432 154L426 154L419 163ZM434 153L434 153L434 151L433 153ZM420 185L435 182L435 180L434 172L427 172L415 181ZM422 195L430 198L432 197L434 188L435 182L420 185ZM430 198L428 208L430 209L432 198L432 197ZM434 172L435 180L435 177L437 170ZM437 166L439 156L437 152L434 153L434 153ZM434 153L437 152L436 150L434 151ZM396 70L396 68L389 65L388 72L389 80ZM402 99L403 98L402 91L390 81L390 83L394 89L399 100ZM407 118L401 117L397 126L402 126ZM396 68L403 61L401 52L398 52L392 50L392 50L390 61L389 65ZM407 118L407 117L402 99L399 100L401 103L402 106L401 117L401 117ZM389 80L390 81L402 91L409 81L396 70ZM415 144L413 135L404 135L404 139L408 143L409 145ZM413 135L419 128L414 119L407 117L407 118L402 126L404 126L404 135ZM409 81L419 76L418 65L403 61L396 68L396 70ZM402 99L407 117L414 119L422 109L415 99L403 98ZM415 144L416 146L436 140L436 138L428 129L419 128L413 135ZM416 146L415 144L409 145L413 153L415 154L417 154ZM403 98L415 99L423 91L424 81L419 76L409 81L402 91ZM403 61L418 65L421 62L421 56L417 55L410 54L404 53L401 52ZM418 65L419 76L424 81L439 80L440 68L437 61L421 62ZM419 128L428 129L435 113L431 109L422 109L414 119ZM415 99L422 109L431 109L432 98L423 91ZM417 154L421 154L432 154L434 152L438 143L436 140L416 146ZM435 113L448 113L449 108L449 106L438 95L432 98L431 109ZM432 98L438 95L442 83L439 80L424 81L423 91ZM436 138L452 120L452 118L448 113L435 113L428 129ZM421 62L437 61L437 59L435 59L429 58L423 57L421 56ZM438 95L449 106L452 84L442 83ZM437 61L440 68L456 65L457 62L454 62L448 61L442 60L437 59ZM445 145L438 143L434 152L436 150L439 156L440 146L446 147ZM449 108L467 95L464 87L462 84L458 83L452 84L449 106ZM436 140L438 143L445 145L458 131L452 120L436 138ZM442 83L452 84L458 83L456 65L440 68L439 80ZM448 113L452 118L465 116L467 114L472 100L467 95L449 108ZM452 120L458 131L466 137L474 130L465 116L452 118ZM446 147L447 147L454 148L460 149L461 149L466 147L466 137L458 131L445 145ZM458 83L462 84L475 68L471 65L467 64L460 63L457 62L456 65ZM461 149L467 150L468 150L467 148L466 147ZM466 137L466 147L467 148L487 144L488 143L485 135L477 130L474 130ZM475 68L477 68L480 66L479 66L473 65L471 65ZM464 87L486 83L486 82L477 68L475 68L462 84ZM467 95L472 100L476 100L487 93L486 83L464 87ZM465 116L474 130L477 130L482 117L467 114ZM482 117L487 114L476 100L472 100L467 114ZM467 148L468 150L473 151L480 151L486 152L487 144ZM485 135L497 123L496 114L487 114L482 117L477 130ZM486 83L487 93L498 99L504 92L506 83L498 77L486 82ZM477 68L486 82L498 77L498 68L492 67L486 67L480 66ZM486 152L487 152L493 153L500 154L502 154L503 147L499 145L488 143L487 144ZM488 143L499 145L502 127L497 123L485 135ZM487 114L496 114L500 110L498 99L487 93L476 100ZM502 127L517 130L518 115L509 110L500 110L496 114L497 123ZM503 147L508 145L517 131L517 130L502 127L499 145ZM498 77L506 83L515 81L513 70L513 70L511 70L505 69L498 68L498 68ZM503 147L502 154L506 155L513 155L516 156L517 150L508 145ZM504 92L516 98L517 98L521 82L515 81L506 83ZM500 110L509 110L516 98L504 92L498 99ZM508 145L517 150L531 147L530 135L517 131ZM509 110L518 115L526 111L526 102L517 98L516 98ZM528 73L529 72L530 72L527 71ZM521 82L523 82L528 73L527 71L524 71L517 70L513 70L513 70L515 81ZM518 115L517 130L517 131L530 135L534 132L536 123L536 116L526 111ZM517 98L526 102L533 94L530 88L523 82L521 82ZM516 156L520 156L526 156L533 157L533 153L532 149L531 147L517 150ZM532 149L534 149L534 146L535 137L535 136L535 132L534 132L530 135L531 147ZM526 102L526 111L536 116L536 115L537 104L538 96L533 94ZM534 132L535 132L536 125L536 123ZM528 73L523 82L530 88L539 82L540 73L540 73L537 72L529 72ZM533 94L538 96L538 94L539 83L539 82L530 88ZM529 72L537 72L536 72L530 72L530 72ZM532 149L533 153L534 149ZM443 177L443 175L437 166L437 167L435 177ZM432 215L430 213L429 217ZM432 215L439 215L442 201L439 196L432 196L432 198L430 209L430 213ZM439 196L443 178L443 177L435 177L435 177L434 188L432 196ZM443 228L443 220L439 215L432 215L429 217L429 219L427 230L434 231L440 232ZM440 232L441 232L448 233L455 234L455 234L443 228ZM443 177L443 178L458 180L464 159L461 152L461 152L444 172L443 175ZM443 175L444 172L443 151L440 150L439 156L437 166ZM439 215L443 220L461 216L462 215L457 200L442 201ZM443 151L461 152L461 152L463 149L460 149L454 148L447 147L440 146L440 150ZM439 196L442 201L457 200L460 197L459 181L458 180L443 178ZM444 172L461 152L443 151ZM479 233L478 232L466 231L462 235L462 235L469 236L476 237L480 237ZM455 234L462 235L466 231L461 216L443 220L443 228ZM457 200L462 215L474 210L477 200L460 197ZM461 152L464 159L473 167L485 159L470 150L467 150L463 149ZM462 215L461 216L466 231L478 232L478 216L474 210ZM459 181L475 180L475 180L473 167L464 159L458 180ZM475 180L490 174L493 162L491 160L485 159L473 167ZM460 197L477 200L480 196L475 180L459 181ZM474 210L478 216L492 215L494 198L480 196L477 200ZM475 180L480 196L494 198L499 195L498 185L490 174L475 180ZM485 159L491 160L490 153L487 152L480 151L473 151L470 150ZM479 233L492 230L498 224L492 215L478 216L478 232ZM491 160L493 162L506 160L511 156L511 155L506 155L500 154L493 153L490 153ZM492 230L479 233L480 237L483 238L490 238L496 239ZM492 215L498 224L498 224L509 207L503 197L499 195L494 198ZM496 239L498 239L505 240L509 240L514 230L498 224L498 224L492 230ZM506 160L510 173L517 178L529 173L531 171L531 169L511 156ZM490 174L498 185L510 173L506 160L493 162ZM498 185L499 195L503 197L516 190L517 178L510 173ZM498 224L514 230L518 229L517 211L509 207ZM509 240L512 241L519 241L526 242L527 233L524 231L518 229L514 230ZM517 211L529 205L529 202L529 199L530 197L527 195L516 190L503 197L509 207ZM517 211L518 229L524 231L527 223L528 221L528 210L529 205L529 205ZM527 195L529 173L517 178L516 190ZM511 156L531 169L532 169L532 168L532 165L532 157L526 156L520 156L513 155L511 155ZM527 195L530 197L530 189L531 178L532 172L531 171L529 173ZM527 233L527 231L527 223L524 231ZM531 169L531 171L532 172L532 169ZM532 165L533 157L532 157ZM379 297L376 297L371 306L377 307L384 309ZM384 252L381 242L380 250L379 252ZM376 297L379 297L380 296L384 282L374 279L373 286L371 295ZM385 265L386 264L384 253L384 252L379 252L378 262L377 267ZM376 297L371 295L371 298L369 306L371 306ZM384 282L386 280L385 265L377 267L375 274L374 279ZM386 232L392 216L387 214L384 226L383 233ZM380 296L397 294L397 283L386 280L384 282ZM384 253L400 244L401 240L386 232L383 233L382 238L381 242L384 252ZM379 297L384 309L384 309L392 310L393 310L395 310L402 299L397 294L380 296ZM392 216L395 216L400 208L399 203L396 203L389 201L389 201L387 214L387 214ZM385 265L386 280L397 283L404 278L403 272L399 266L386 264ZM386 264L399 266L407 253L400 244L384 253ZM386 232L401 240L405 234L398 218L395 216L392 216ZM397 294L402 299L412 298L414 286L414 285L404 278L397 283ZM420 314L417 306L407 313L414 314L420 315ZM396 311L399 311L406 312L407 313L417 306L416 303L412 298L402 299L395 310ZM395 216L398 218L419 217L417 206L416 206L410 205L400 208ZM400 244L407 253L410 254L423 248L416 233L416 232L405 234L401 240ZM400 208L410 205L409 205L402 204L399 203ZM403 272L417 266L410 254L407 253L399 266ZM405 234L416 232L421 220L419 217L398 218ZM414 285L423 268L417 266L403 272L404 278ZM423 248L430 251L432 250L434 235L416 233ZM416 233L434 235L437 232L437 231L434 231L427 230L429 220L421 220L416 232ZM412 298L416 303L434 297L435 297L430 285L414 286ZM437 315L436 313L420 314L420 315L421 315L429 316L436 317L437 317ZM417 306L420 314L436 313L434 297L416 303ZM421 220L429 220L429 219L430 209L423 208L417 206L419 217ZM414 285L414 286L430 285L432 282L429 269L427 267L423 268ZM417 266L423 268L427 267L430 251L423 248L410 254ZM429 269L447 268L450 264L449 253L432 250L430 251L427 267ZM432 282L446 280L447 268L429 269ZM434 235L432 250L449 253L450 252L449 237L437 232ZM435 297L444 296L448 286L448 283L446 280L432 282L430 285ZM437 315L437 317L444 318L444 313L445 312ZM448 283L449 279L451 268L451 264L450 264L447 268L446 280ZM434 297L436 313L437 315L445 312L446 302L446 298L444 296L435 297ZM449 237L452 234L448 233L441 232L437 231L437 232ZM450 252L449 253L450 264L451 264L452 257L453 251ZM446 298L447 291L448 286L444 296ZM450 252L453 251L454 245L455 234L452 234L449 237ZM368 402L362 397L344 400L347 402L355 407L363 412L366 414ZM362 397L361 387L348 376L345 378L344 387L346 391L342 392L339 397L344 400ZM363 328L363 328L363 322L355 322L355 329ZM363 328L355 329L355 332L354 342L352 346L352 349L353 350ZM375 307L369 306L369 309ZM353 350L354 355L367 363L384 356L388 352L382 338L363 328L363 328ZM361 387L368 370L367 363L354 355L355 358L357 362L352 365L350 369L349 375L348 376ZM368 402L381 400L386 397L387 382L368 370L361 387L362 397ZM392 425L381 400L368 402L366 414L371 417L379 422L387 427L390 428ZM368 370L387 382L389 379L384 356L367 363ZM363 328L382 338L387 332L389 309L384 309L377 307L375 307L369 309L368 310L366 322L363 322ZM413 423L392 425L390 428L395 432L404 433L413 434L416 435ZM392 425L413 423L416 416L414 405L408 398L386 397L381 400ZM389 379L409 371L409 353L388 352L384 356ZM387 382L386 397L408 398L413 380L409 371L389 379ZM382 338L388 352L409 353L410 353L417 331L417 328L412 323L387 332ZM412 323L408 313L406 312L399 311L392 310L389 309L387 332ZM412 323L417 328L433 317L429 316L421 315L414 314L408 313ZM414 405L433 395L434 392L435 382L434 380L413 380L408 398ZM413 380L434 380L436 363L434 361L410 353L409 353L409 371ZM416 435L423 436L428 437L429 425L430 417L416 416L413 423ZM436 363L434 380L435 382L435 381L437 369L438 362ZM434 361L438 338L417 331L410 353ZM416 416L430 417L431 414L432 403L433 395L414 405ZM417 331L438 338L441 338L441 336L443 324L444 318L436 317L433 317L417 328ZM434 361L436 363L438 362L438 358L440 347L441 338L438 338ZM454 285L455 281L450 272L449 279L448 285ZM455 247L454 242L454 245L453 247ZM454 293L456 290L454 285L448 285L447 291L446 298ZM455 262L455 261L452 258L451 267ZM453 313L453 311L446 302L446 302L444 313L444 318L446 318ZM451 267L451 268L450 272L455 281L467 275L467 273L455 262ZM446 298L446 302L453 311L461 305L454 293ZM455 261L460 257L457 249L455 247L453 247L452 257L452 258ZM460 319L453 313L446 318L451 319L459 320L460 320ZM455 247L457 249L466 239L455 235L454 242ZM453 311L453 313L460 319L466 319L469 315L469 313L462 305L461 305ZM456 290L465 291L473 282L467 275L455 281L454 285ZM454 293L461 305L462 305L470 297L465 291L456 290ZM455 262L467 273L472 267L471 257L468 256L460 257L455 261ZM457 249L460 257L468 256L467 239L466 239ZM466 319L460 319L460 320L467 321L467 321ZM467 321L475 322L479 323L480 321L469 315L466 319ZM466 239L467 239L468 238L469 236L469 236L462 235L455 234L455 235ZM469 313L478 307L479 306L478 300L476 298L470 297L462 305ZM467 239L468 256L471 257L478 254L479 253L480 250L468 238ZM473 282L478 283L482 281L482 270L480 269L472 267L467 273L467 275ZM469 315L480 321L480 321L478 307L469 313ZM470 297L476 298L478 283L473 282L465 291ZM472 267L480 269L478 254L471 257ZM468 238L480 250L484 247L478 237L476 237L470 236L469 236ZM478 307L480 321L491 319L491 313L479 306ZM478 283L476 298L478 300L490 295L492 292L489 286L484 282L482 281ZM480 321L479 323L482 323L490 324L492 324L491 319L491 319L480 321ZM484 247L488 246L487 238L483 238L478 237ZM479 253L490 264L491 264L497 259L490 246L488 246L484 247L480 250ZM482 270L490 264L479 253L478 254L480 269ZM479 306L491 313L494 310L490 295L478 300ZM482 281L484 282L494 272L491 264L490 264L482 270ZM491 319L507 320L509 319L502 307L494 310L491 313L491 319ZM494 310L502 307L505 302L506 298L500 293L492 292L490 295ZM494 272L502 276L503 276L508 271L505 261L504 260L497 259L491 264ZM489 286L502 276L494 272L484 282ZM488 246L490 246L503 241L503 240L498 239L490 238L487 238ZM503 241L508 247L515 248L518 246L519 241L512 241L505 240L503 240ZM489 286L492 292L500 293L505 282L503 276L502 276ZM492 324L498 325L503 325L507 320L491 319ZM506 298L514 295L515 286L505 282L500 293ZM502 307L509 319L514 320L516 317L519 310L505 302ZM497 259L504 260L508 247L503 241L490 246ZM505 282L515 286L521 281L516 272L508 271L503 276ZM503 325L506 325L513 326L516 326L514 320L509 319L507 320ZM506 298L505 302L519 310L522 307L515 295L514 295ZM505 261L516 259L519 254L515 248L508 247L504 260ZM514 320L516 326L521 327L524 327L528 327L531 322L530 319L516 317ZM516 317L530 319L531 310L525 306L522 307L519 310ZM505 261L508 271L516 272L520 267L516 259ZM522 307L525 306L530 298L525 293L515 295ZM514 295L515 295L525 293L527 282L526 281L521 281L515 286ZM519 254L526 256L528 247L518 246L515 248ZM516 272L521 281L526 281L532 270L528 265L520 267ZM516 259L520 267L528 265L528 258L526 256L519 254ZM528 258L537 255L538 254L538 248L531 244L528 247L526 256ZM518 246L528 247L531 244L530 242L526 242L519 241L519 241ZM528 265L532 270L541 270L537 255L528 258ZM525 293L530 298L538 296L538 296L537 286L527 282ZM531 322L541 322L544 317L537 309L531 310L530 319ZM531 310L537 309L539 305L538 296L530 298L525 306ZM537 286L539 284L542 270L541 270L532 270L526 281L527 282ZM538 296L539 305L550 305L551 297L551 295L538 296ZM528 327L528 327L529 327L535 328L537 328L541 328L542 325L541 322L531 322ZM531 244L538 248L542 245L542 243L540 243L533 242L530 242ZM542 325L541 328L544 329L549 329L549 328ZM541 270L542 270L543 270L551 258L551 257L538 254L537 255ZM537 286L538 296L551 295L551 287L551 287L550 285L539 284ZM542 325L549 328L549 318L550 316L549 315L544 317L541 322ZM537 309L544 317L549 315L550 314L550 308L550 305L539 305ZM542 245L553 248L553 248L553 244L547 244L542 243ZM538 254L551 257L553 248L542 245L538 248ZM553 248L553 248L551 257L551 258L553 259L553 255L554 248ZM539 284L550 285L551 274L543 270L542 270ZM551 287L551 287L551 286L552 276L552 273L551 274L550 285ZM543 270L551 274L552 273L553 265L553 259L551 258ZM553 248L554 248L554 244L553 244ZM430 432L430 427L429 426L428 435ZM446 359L453 348L441 341L440 347L438 358ZM435 384L452 371L452 371L437 370L435 381L435 384ZM446 325L444 320L443 320L443 324L441 336L441 340ZM430 432L435 438L441 438L442 429L444 429L435 424L430 427ZM452 371L446 359L438 358L438 358L437 369L437 370ZM430 427L435 424L440 418L443 407L432 401L432 403L431 414L429 425L429 426ZM443 407L451 403L447 391L435 384L435 384L434 392L432 401ZM428 435L428 437L432 437L435 438L430 432ZM435 424L444 429L451 430L457 431L459 429L457 424L440 418ZM435 384L447 391L456 379L457 373L452 371ZM452 371L457 373L459 371L466 353L456 346L453 348L446 359L452 371ZM441 340L441 341L453 348L456 346L460 332L446 325ZM464 431L459 429L457 431L460 431L464 432ZM451 403L459 404L462 403L460 386L456 379L447 391ZM440 418L457 424L459 404L451 403L443 407ZM460 332L462 331L466 321L459 320L451 319L445 318L444 320L446 325ZM457 424L459 429L464 431L466 430L473 414L472 404L462 403L459 404ZM460 386L479 386L479 376L459 371L457 373L456 379ZM462 331L473 334L481 323L475 322L467 321L466 321ZM456 346L466 353L471 352L479 346L473 334L462 331L460 332ZM464 431L464 432L468 432L468 430L466 430ZM466 430L468 430L468 428L477 428L482 429L483 424L473 414ZM479 387L498 390L503 388L487 370L483 372L479 376L479 386ZM479 386L460 386L462 403L472 404L475 402L479 387ZM479 376L483 372L471 352L466 353L459 371ZM471 352L483 372L487 370L492 366L491 359L480 346L479 346ZM479 346L480 346L493 337L490 326L484 323L482 323L481 323L473 334ZM473 414L483 424L494 413L493 412L490 408L475 402L472 404ZM490 408L498 390L479 387L475 402ZM502 430L499 418L494 413L483 424L482 429L485 429L493 430L501 431ZM501 431L502 431L507 431L502 430ZM480 346L491 359L502 345L497 338L493 337ZM499 418L513 413L514 402L509 398L493 412L494 413ZM493 412L509 398L507 391L504 388L503 388L498 390L490 408ZM491 359L492 366L510 367L511 349L502 345ZM490 326L493 324L490 324L484 323ZM497 338L513 326L506 325L498 325L493 324L490 326L493 337ZM487 370L503 388L504 388L512 369L510 367L492 366ZM512 369L528 372L528 371L528 353L514 347L511 349L510 367ZM511 349L514 347L518 341L513 326L513 326L497 338L502 345ZM507 391L525 387L529 378L528 372L512 369L504 388ZM499 418L502 430L507 431L510 432L510 432L516 430L520 418L513 413ZM510 432L518 432L519 432L516 430ZM514 402L526 400L525 387L507 391L509 398ZM525 417L520 418L516 430L519 432L527 433L528 423L528 422ZM513 413L520 418L525 417L528 414L527 400L526 400L514 402ZM518 341L534 338L534 334L531 328L529 327L521 327L513 326L513 326ZM525 387L526 400L527 400L529 400L530 391L531 381L531 380L529 378ZM525 417L528 422L528 414L528 414ZM528 353L532 348L533 345L534 338L534 338L518 341L514 347ZM528 371L528 372L529 378L531 380L531 370ZM528 371L531 370L531 370L532 359L533 349L533 349L532 348L528 353ZM527 400L528 414L528 414L528 412L529 402L529 400ZM534 334L535 328L535 328L531 328ZM545 133L543 132L535 133L535 137L542 138L544 138ZM535 133L543 132L544 123L544 122L536 122L536 125L535 132ZM535 133L535 132L535 136L535 137L535 137ZM544 112L545 104L545 104L537 103L537 104L537 113ZM544 82L544 73L540 73L539 82ZM545 104L544 93L543 92L538 93L538 94L537 103ZM543 92L545 83L544 82L539 82L539 83L538 93ZM537 113L536 115L536 122L544 122L546 113L544 112ZM544 82L545 83L553 83L554 82L554 74L549 73L544 73L544 73ZM544 73L544 73L543 73L540 73L540 73L540 73ZM544 123L555 124L556 123L554 114L546 113L544 122ZM544 93L554 93L555 92L553 83L545 83L543 92ZM545 133L554 133L554 132L555 124L544 123L543 132ZM546 113L554 114L556 113L554 102L545 104L544 112ZM554 133L545 133L544 138L549 138L554 139ZM553 83L555 92L564 91L564 83L564 83L554 82ZM545 104L554 102L555 102L554 93L544 93L545 104ZM554 93L555 102L564 103L566 93L564 91L555 92ZM554 133L554 139L556 139L563 139L564 139L563 133L554 132ZM555 124L554 132L563 133L565 132L565 123L565 122L556 123ZM554 114L556 123L565 122L565 112L565 112L556 113ZM556 113L565 112L564 103L564 103L555 102L554 102ZM564 83L564 74L562 74L555 74L554 74L554 82ZM565 123L574 123L575 122L575 112L565 112L565 122ZM564 83L574 82L575 75L574 75L568 75L564 74L564 83ZM563 133L564 139L570 140L574 140L575 134L574 133L565 132ZM565 112L575 112L575 112L575 103L564 103L565 112ZM575 82L584 84L585 83L585 76L581 75L575 75L574 82ZM574 82L564 83L564 91L566 93L574 93L575 82ZM575 134L584 132L584 123L575 122L574 123L574 133ZM575 112L584 111L585 102L585 102L575 102L575 103ZM565 132L574 133L574 123L565 123ZM564 103L575 103L575 102L574 93L574 93L566 93L564 103ZM575 102L585 102L585 93L584 92L574 93ZM574 93L574 93L584 92L584 84L575 82ZM584 132L584 132L575 134L574 140L577 140L584 140L585 140ZM584 123L584 123L585 113L584 111L575 112L575 112L575 122ZM584 84L584 92L585 93L595 92L595 83L594 83L585 83ZM585 113L594 113L594 112L594 103L585 102L584 111ZM585 140L591 141L594 141L594 133L584 132ZM584 132L594 133L595 133L595 123L594 123L584 123L584 123L584 132ZM584 123L594 123L594 113L585 113ZM594 133L594 141L598 141L605 141L603 133L595 133ZM594 113L594 123L595 123L604 122L605 121L605 113L604 112L594 112ZM585 83L594 83L594 76L593 76L587 76L585 76ZM595 83L604 82L604 76L600 76L594 76L594 83ZM585 102L594 103L594 102L596 92L595 92L585 93L585 102ZM594 112L604 112L605 103L594 102L594 103ZM596 92L604 93L605 93L606 84L604 82L595 83L595 92ZM595 133L603 133L605 132L604 122L595 123ZM605 103L605 103L604 93L596 92L594 102ZM604 82L606 84L614 82L615 81L615 77L612 77L606 76L604 76ZM605 113L615 113L616 112L616 103L615 103L605 103L605 103L604 112ZM605 141L605 141L612 141L614 141L615 134L614 132L605 132L603 133ZM605 132L614 132L614 123L605 121L604 122ZM604 93L605 103L615 103L615 93L605 93ZM605 93L615 93L615 92L614 82L606 84ZM614 132L615 134L624 132L624 123L615 123L614 123ZM605 121L614 123L615 123L615 113L605 113ZM615 81L624 83L625 83L625 79L625 77L625 77L619 77L615 77ZM614 82L615 92L624 92L624 83L615 81ZM615 123L624 123L625 122L624 113L616 112L615 113ZM615 93L615 103L616 103L624 102L625 93L624 92L615 92ZM625 93L627 93L626 85L626 83L625 83L624 83L624 92ZM624 132L615 134L614 141L619 141L625 142L624 132ZM624 132L632 133L630 128L630 122L625 122L624 123L624 132ZM624 113L625 112L626 104L624 102L616 103L616 112ZM625 122L630 122L629 117L629 113L625 112L624 113ZM626 104L629 104L628 96L627 93L625 93L624 102ZM624 132L625 142L626 142L633 142L632 134L632 133ZM625 112L629 113L629 106L629 104L626 104ZM625 83L626 83L625 79ZM539 166L539 166L540 158L533 156L533 157L532 167ZM539 177L539 166L532 167L532 168L531 177ZM538 188L539 177L539 177L531 177L531 178L530 187ZM538 146L539 138L535 137L534 146L534 147ZM529 199L537 200L539 200L540 197L539 197L530 198L529 199ZM539 197L539 189L538 188L530 187L530 189L530 198ZM540 158L540 158L540 147L538 146L534 147L533 156ZM539 189L548 188L549 187L549 177L539 177L538 188ZM540 197L548 198L550 196L548 188L539 189L539 197ZM539 177L539 177L549 177L549 177L549 168L549 168L539 166L539 166ZM548 198L540 197L539 200L545 201L548 201ZM540 158L539 166L549 168L550 157L540 158ZM540 147L550 147L550 147L550 138L549 138L542 138L539 138L538 146ZM540 158L550 157L550 157L550 147L540 147ZM548 188L550 196L559 197L559 188L549 187ZM549 187L559 188L560 187L559 177L549 177L549 177ZM548 201L552 201L559 202L559 197L559 197L550 196L548 198ZM550 157L549 168L549 168L559 167L560 166L558 158L550 157ZM559 197L570 196L570 187L570 187L560 187L559 188L559 197ZM550 147L550 157L558 158L559 157L561 148L560 147L550 147ZM549 168L549 177L559 177L559 177L559 167ZM550 147L560 147L560 139L556 139L550 138ZM559 177L560 187L570 187L568 177L559 177ZM559 177L568 177L568 177L570 168L569 167L560 166L559 167ZM561 148L568 148L570 147L569 140L563 139L560 139L560 147ZM559 157L570 157L568 148L561 148ZM569 167L570 157L570 157L559 157L558 158L560 166ZM559 202L560 202L567 202L570 202L571 197L570 196L559 197ZM570 202L575 203L580 203L579 198L571 197ZM570 187L579 186L580 178L580 177L568 177L568 177L570 187ZM568 148L570 157L570 157L579 157L579 157L580 148L580 147L570 147ZM570 168L579 168L579 157L570 157L569 167ZM571 197L579 198L580 197L580 187L579 186L570 187L570 196ZM580 147L580 140L577 140L570 140L569 140L570 147ZM579 168L570 168L568 177L580 177L580 168ZM580 168L588 168L589 166L588 158L579 157L579 157L579 168ZM580 148L589 147L589 147L590 141L584 140L580 140L580 147ZM579 198L580 203L583 203L589 203L590 197L589 196L580 197ZM580 178L590 178L590 177L588 168L580 168L580 177ZM580 187L590 188L590 178L580 178L579 186ZM599 198L590 197L589 203L590 203L598 204L599 204ZM580 197L589 196L590 188L590 188L580 187ZM579 157L588 158L591 156L589 147L580 148ZM590 178L590 188L590 188L599 187L600 186L599 177L590 177ZM589 166L599 166L599 157L599 157L591 156L588 158ZM589 147L599 147L599 141L598 141L591 141L590 141ZM588 168L590 177L599 177L599 177L599 167L599 166L589 166ZM599 157L600 149L599 147L589 147L589 147L591 156ZM590 197L599 198L600 197L599 187L590 188L589 196ZM599 147L600 149L610 147L609 141L605 141L599 141ZM599 166L599 167L610 167L610 167L610 158L599 157ZM609 198L608 197L600 197L599 198L599 204L606 204L609 205ZM599 187L600 197L608 197L610 188L609 187L600 186ZM600 186L609 187L611 177L610 177L599 177L599 177ZM609 198L618 198L619 197L618 189L610 188L608 197ZM599 157L610 158L610 157L611 148L610 147L600 149L599 157ZM599 177L610 177L610 167L599 167ZM610 188L618 189L620 187L619 178L619 178L611 177L609 187ZM611 177L619 178L619 167L610 167L610 167L610 177ZM609 205L615 207L620 207L618 198L609 198ZM611 148L619 148L619 142L619 141L612 141L609 141L610 147ZM619 197L629 196L629 188L620 187L618 189ZM610 167L619 167L619 167L620 158L610 157L610 158ZM618 198L620 207L620 207L629 208L629 207L629 197L629 196L619 197ZM619 178L628 177L629 168L629 167L619 167L619 167L619 178ZM620 158L621 157L620 148L619 148L611 148L610 157ZM619 148L620 148L629 146L629 142L626 142L619 142ZM619 167L629 167L629 158L621 157L620 158ZM620 148L621 157L629 158L630 157L629 147L629 146ZM619 178L620 187L629 188L630 187L628 178L628 177ZM620 207L624 207L629 211L629 208L620 207ZM629 207L629 208L629 211L630 212L634 215L632 211L632 207ZM630 157L629 158L629 167L629 168L634 168L634 157ZM629 168L628 177L628 178L634 178L634 168L634 168ZM630 187L629 188L629 196L629 197L634 197L634 194L634 187ZM629 197L629 207L632 207L634 197ZM629 146L629 147L633 147L633 142L629 142ZM629 147L630 157L634 157L634 155L633 147ZM628 178L630 187L634 187L634 181L634 178ZM533 207L534 206L533 200L529 200L529 208ZM533 223L534 223L533 215L528 215L528 221L527 224ZM533 240L527 239L526 240L526 242L533 242L533 242ZM526 240L527 239L526 235L526 240ZM533 215L534 215L533 207L529 208L528 210L528 215ZM533 207L534 215L541 215L541 214L542 208L542 207L534 206ZM534 232L535 231L533 223L527 224L527 231L527 232ZM533 240L534 239L534 232L527 232L526 235L527 239ZM533 223L535 231L541 231L542 231L542 223L541 223L534 223ZM534 239L542 240L542 240L541 231L535 231L534 232ZM533 242L540 243L542 243L542 240L534 239L533 240ZM533 215L534 223L541 223L541 215L534 215ZM533 200L534 200L529 199L529 200ZM542 243L547 244L550 244L550 239L550 239L542 240L542 240ZM542 207L542 201L537 200L534 200L533 200L534 206ZM541 223L542 223L549 222L550 216L550 216L541 214L541 215ZM541 231L542 240L550 239L550 231L542 231ZM541 214L550 216L549 208L542 208ZM542 208L549 208L550 207L551 201L545 201L542 201L542 207ZM542 231L550 231L550 231L550 223L549 222L542 223ZM550 239L557 240L557 240L558 232L557 231L550 231L550 231L550 239ZM549 208L550 216L550 216L557 215L558 208L550 207ZM550 223L558 224L558 224L558 215L557 215L550 216L549 222ZM558 255L557 248L554 248L553 255L553 255ZM557 263L559 256L558 255L553 255L553 263ZM550 244L554 244L554 248L557 248L557 247L557 240L550 239ZM558 232L566 232L566 231L565 224L558 224L558 224L557 231ZM558 263L557 263L553 263L553 265L558 266ZM558 208L559 207L557 202L552 201L551 201L550 207ZM557 240L557 247L566 247L566 240L557 240ZM550 231L557 231L558 224L550 223ZM559 207L566 207L566 202L560 202L557 202ZM558 224L565 224L566 222L566 216L558 215ZM558 255L559 256L566 255L566 255L566 248L566 247L557 247L557 248ZM558 208L557 215L558 215L566 216L566 215L566 207L566 207L559 207ZM559 256L557 263L558 263L565 264L566 255ZM566 240L567 239L566 232L558 232L557 240ZM566 248L574 247L574 240L574 240L567 239L566 240L566 247ZM558 266L561 266L566 266L566 264L565 264L558 263ZM566 264L574 263L573 257L566 255L566 255L565 264ZM566 207L574 207L575 203L567 202L566 202L566 207ZM566 216L566 222L574 224L574 216L573 215L566 215ZM575 264L574 263L566 264L566 266L569 266L575 266ZM565 224L566 231L573 230L574 224L574 224L566 222ZM573 257L575 255L574 247L574 247L566 248L566 255ZM566 232L567 239L574 240L574 231L573 230L566 231ZM566 215L573 215L575 208L574 207L566 207ZM573 257L574 263L575 264L581 263L581 263L582 255L575 255ZM574 224L582 223L581 216L574 216L574 224ZM574 216L581 216L582 216L581 208L575 208L573 215ZM575 208L581 208L582 207L582 203L575 203L575 203L574 207ZM574 247L582 247L581 239L574 240L574 247ZM574 240L581 239L582 239L582 232L574 231L574 240ZM574 231L582 232L582 231L582 224L582 223L574 224L573 230ZM582 216L589 215L590 208L582 207L581 208ZM574 247L575 255L582 255L582 255L582 247L582 247ZM582 223L582 224L590 223L590 216L589 215L582 216L581 216ZM581 239L582 247L582 247L590 246L590 240L590 240L582 239ZM575 264L575 266L577 267L582 267L581 263ZM582 267L585 267L589 267L590 263L581 263L581 263ZM581 263L590 263L590 263L590 256L589 255L582 255L582 255ZM590 263L589 267L593 267L598 267L597 264L590 263ZM582 239L590 240L589 232L582 231L582 232ZM590 208L591 208L590 203L583 203L582 203L582 207ZM582 255L589 255L590 247L590 246L582 247ZM589 255L590 256L597 255L597 248L590 247ZM582 224L582 231L589 232L590 231L591 224L590 223ZM590 208L589 215L590 216L598 215L598 208L597 208L591 208ZM590 240L597 239L598 232L590 231L589 232L590 240ZM590 223L591 224L598 223L598 223L599 216L598 215L590 216ZM590 231L598 232L599 231L598 223L591 224ZM590 247L597 248L597 248L598 240L597 239L590 240L590 246ZM590 256L590 263L597 264L598 263L597 255L597 255ZM598 208L605 207L605 207L605 204L598 204L598 204L597 208ZM591 208L597 208L598 204L590 203L590 203ZM597 264L598 267L601 267L606 268L606 264L605 262L598 263ZM598 263L605 262L606 255L605 255L597 255ZM598 240L605 240L606 239L606 232L606 232L599 231L598 232L597 239ZM597 255L597 255L605 255L605 248L597 248L597 248ZM599 231L606 232L605 224L598 223L598 223ZM597 248L605 248L606 247L605 240L598 240ZM598 215L599 216L606 216L605 207L598 208ZM605 262L606 264L613 264L613 256L606 255ZM605 207L606 216L607 216L613 216L614 215L613 208L605 207ZM606 255L613 256L614 255L614 247L613 247L606 247L605 248L605 255ZM606 232L614 231L613 224L606 223L605 224L606 232ZM599 216L598 223L605 224L606 223L607 216L606 216ZM606 247L613 247L614 240L606 239L605 240ZM614 264L613 264L606 264L606 268L610 268L613 268ZM606 239L614 240L615 239L615 232L614 231L606 232ZM606 223L613 224L615 223L613 216L607 216ZM605 207L613 208L614 207L606 204L605 204ZM613 264L614 264L621 263L621 256L614 255L613 256ZM621 264L621 263L614 264L613 268L618 268L622 268ZM614 231L615 232L622 231L622 223L622 223L615 223L613 224ZM614 247L622 247L622 240L615 239L614 240L613 247ZM613 208L614 215L622 215L622 215L623 207L620 207L615 207L614 207ZM613 216L615 223L622 223L622 215L614 215ZM614 255L621 256L622 255L623 248L622 247L614 247ZM621 264L629 263L630 263L629 256L622 255L621 256L621 263ZM615 232L615 239L622 240L623 239L622 232L622 231ZM622 223L622 223L629 223L630 216L622 215L622 215ZM623 248L630 247L630 240L623 239L622 240L622 247ZM629 263L621 264L622 268L626 268L629 268ZM622 255L629 256L631 255L630 248L630 247L623 248ZM622 231L622 232L629 231L631 224L629 223L622 223ZM623 207L622 215L630 216L630 215L630 211L624 207L623 207ZM629 263L629 268L634 268L637 268L637 263L630 263ZM630 240L631 239L630 232L629 231L622 232L623 239ZM630 215L634 216L634 215L630 212L630 211ZM631 224L636 224L637 224L634 216L630 215L630 216L629 223ZM630 248L637 247L637 240L631 239L630 240L630 247ZM629 231L630 232L638 231L636 224L631 224ZM630 263L637 263L638 262L638 256L638 256L631 255L629 256ZM636 224L638 231L638 231L637 225L637 224ZM631 239L637 240L638 239L639 232L638 231L638 231L630 232ZM630 248L631 255L638 256L639 248L637 247ZM638 262L646 264L646 261L643 256L638 256ZM637 247L639 248L642 248L642 244L641 239L638 239L637 240ZM637 268L642 268L645 268L646 264L646 264L638 262L637 263ZM638 239L641 239L639 236L639 232ZM645 268L650 268L648 264L646 264ZM638 256L643 256L643 256L642 253L642 248L639 248L638 256ZM646 264L646 264L648 264L646 261ZM556 282L556 274L552 274L552 276L552 282ZM550 321L556 321L557 313L557 313L550 313L549 318L549 321ZM556 297L557 290L556 289L551 289L551 297L551 298ZM556 289L556 282L556 282L552 282L551 286L551 289ZM549 328L550 321L549 321L549 329ZM556 274L556 274L557 266L553 266L552 274ZM556 282L556 282L564 282L564 282L564 274L556 274L556 274ZM557 266L558 266L553 265L553 266ZM557 322L556 321L550 321L549 328L552 329L557 329ZM557 313L557 306L557 306L550 306L550 308L550 313ZM557 306L565 305L565 305L565 298L556 298L557 306ZM557 322L564 321L564 321L564 314L557 313L556 321ZM557 306L556 298L556 297L551 298L550 306ZM557 290L564 290L565 289L564 282L556 282L556 289ZM557 266L556 274L564 274L565 273L564 266L561 266L558 266ZM556 298L565 298L565 297L564 290L557 290L556 297ZM573 329L565 328L564 330L568 330L573 330L573 329ZM573 329L581 329L581 329L581 321L581 321L573 321L573 329ZM564 282L573 281L572 274L565 273L564 274ZM557 313L564 314L566 312L565 305L557 306L557 313ZM557 329L560 329L564 330L565 328L564 321L557 322ZM565 298L565 305L573 305L573 297L573 297L565 297ZM564 290L565 297L573 297L572 289L572 289L565 289ZM564 282L565 289L572 289L573 281L573 281L564 282ZM564 321L573 320L573 314L572 313L566 312L564 314ZM565 305L566 312L572 313L574 305L573 305L565 305ZM564 321L565 328L573 329L573 321L573 320L564 321ZM581 329L573 329L573 330L575 330L581 330ZM565 273L572 274L572 273L572 266L569 266L564 266ZM572 274L573 281L573 281L581 281L581 273L572 273ZM574 305L580 306L581 305L581 296L573 297L573 305ZM572 289L581 289L581 289L581 281L581 281L573 281L572 289ZM572 313L573 314L581 313L581 312L580 306L574 305ZM581 273L581 281L581 281L588 281L590 274L589 273L581 272ZM581 272L581 267L577 267L572 266L572 273L581 273ZM573 297L573 297L581 296L581 296L581 289L572 289ZM580 306L581 312L589 313L589 305L581 305ZM573 320L573 321L581 321L581 313L573 314ZM581 321L581 321L589 321L589 313L589 313L581 312L581 313ZM581 305L589 305L589 304L589 298L588 297L581 296L581 296ZM588 330L581 329L581 329L581 330L583 331L588 331ZM621 330L621 329L613 330L613 331L614 331L621 332ZM588 331L591 331L597 331L597 330L589 329L588 330ZM581 329L588 330L589 329L589 321L589 321L581 321ZM581 289L588 289L590 282L588 281L581 281ZM581 272L589 273L590 267L585 267L581 267ZM581 289L581 296L588 297L590 290L588 289L581 289ZM589 298L597 297L596 290L590 290L588 297ZM589 313L596 312L596 305L589 304L589 305L589 313ZM588 281L590 282L597 282L597 282L597 274L590 274ZM590 290L596 290L597 289L597 282L590 282L588 289ZM589 313L589 321L589 321L597 321L597 321L598 314L596 312ZM590 274L597 274L597 274L597 267L593 267L590 267L589 273ZM596 290L597 297L597 298L605 297L605 297L604 290L597 289ZM596 305L596 312L598 314L604 313L605 313L605 306L605 306L597 305ZM597 305L597 298L597 297L589 298L589 304L596 305ZM604 329L597 330L597 330L597 331L599 331L604 331ZM597 321L597 330L604 329L604 329L604 322L597 321ZM589 329L597 330L597 330L597 321L589 321ZM597 282L597 289L604 290L606 289L604 282L597 282ZM598 314L597 321L604 322L605 321L604 313ZM613 330L613 329L604 329L604 329L604 331L606 331L613 331ZM605 306L605 297L597 298L597 305ZM597 274L597 282L604 282L606 280L605 274L604 273L597 274ZM604 273L605 268L601 267L597 267L597 274ZM605 297L605 306L605 306L612 305L613 297L613 297L605 297ZM605 321L613 321L613 314L605 313L604 313ZM604 322L604 329L613 329L613 321L613 321L605 321ZM604 282L606 289L612 289L612 288L612 281L612 281L606 280ZM604 273L605 274L613 273L612 268L610 268L605 268ZM604 290L605 297L613 297L612 289L606 289ZM613 314L614 313L613 305L612 305L605 306L605 313ZM606 280L612 281L614 274L613 273L605 274ZM613 297L620 297L621 290L620 289L612 288L612 289L613 297ZM613 330L621 329L622 321L622 321L613 321L613 329ZM612 305L613 305L621 305L620 297L620 297L613 297ZM614 313L620 313L621 306L621 305L613 305ZM612 281L621 281L621 280L620 274L614 274L612 281ZM614 274L620 274L621 273L621 268L618 268L612 268L613 273ZM620 297L629 298L630 297L629 289L628 289L621 290L620 297ZM613 314L613 321L613 321L622 321L620 313L620 313L614 313ZM621 281L620 289L621 290L628 289L628 281L621 280ZM612 288L620 289L621 281L612 281ZM620 313L620 313L629 313L629 313L628 306L621 306ZM622 321L628 321L628 321L629 313L620 313L622 321ZM621 330L629 329L628 321L622 321L621 329ZM621 273L629 273L629 268L626 268L621 268ZM629 313L628 321L637 321L637 314L637 313L629 313ZM621 306L628 306L629 305L629 298L620 297L621 305ZM629 329L629 329L636 329L637 321L637 321L628 321L628 321ZM620 274L621 280L628 281L629 281L629 273L629 273L621 273ZM621 332L622 332L629 332L629 329L629 329L621 330ZM629 298L629 305L637 305L636 297L630 297ZM629 273L637 273L637 268L634 268L629 268L629 273ZM628 281L628 289L629 289L637 288L636 281L629 281ZM637 330L636 329L629 329L629 332L630 332L636 332ZM644 330L637 330L636 332L638 332L644 332ZM637 305L637 305L629 305L628 306L629 313L637 313ZM637 313L637 314L645 313L646 313L644 305L637 305ZM629 281L636 281L637 280L637 273L637 273L629 273ZM630 297L636 297L637 296L638 289L637 288L629 289ZM637 330L644 330L645 329L645 322L645 321L637 321L636 329ZM636 281L637 288L638 289L644 288L645 282L644 280L637 280ZM637 305L644 305L645 305L645 298L645 297L637 296L636 297L637 305ZM637 321L645 321L645 313L637 314L637 321ZM637 273L644 273L644 268L642 268L637 268L637 273ZM645 313L645 321L645 322L652 321L653 320L653 313L646 313ZM637 273L637 280L644 280L645 274L644 273ZM645 297L645 289L644 288L638 289L637 296ZM644 280L645 282L652 281L652 274L645 274ZM645 274L652 274L654 273L653 273L650 268L644 268L644 273ZM644 330L644 332L645 332L652 332L652 330L645 329ZM645 298L652 297L653 290L653 289L645 289L645 297ZM644 305L646 313L653 313L653 313L653 305L653 305L645 305ZM645 289L653 289L653 282L652 281L645 282L644 288ZM660 329L654 328L652 330L652 332L653 332L661 332L661 329ZM654 328L652 321L645 322L645 329L652 330ZM645 305L653 305L653 298L652 297L645 298ZM653 298L660 298L660 290L653 290L652 297ZM653 282L658 282L656 276L654 273L654 273L652 274L652 281ZM653 305L653 305L661 305L660 301L660 298L660 298L653 298ZM654 328L660 329L661 325L661 321L653 320L652 321ZM653 290L660 290L660 290L660 287L661 287L658 282L653 282L653 289ZM653 313L653 320L661 321L661 315L661 313L653 313ZM653 313L661 313L661 305L653 305ZM660 298L660 290L660 290L660 298ZM535 336L534 335L534 338L535 338ZM535 336L541 336L541 328L537 328L534 328L534 335ZM542 336L541 336L535 336L535 338L541 339L542 339ZM541 336L542 336L549 335L549 329L549 329L544 329L541 328ZM542 339L549 339L550 340L550 336L549 335L542 336ZM549 335L550 336L557 335L558 329L552 329L549 329ZM550 340L557 340L559 340L558 336L557 335L550 336ZM567 336L565 335L558 336L559 340L564 340L566 340ZM557 335L558 336L565 335L566 330L560 329L558 329ZM565 335L567 336L573 336L573 330L568 330L566 330ZM574 336L573 336L567 336L566 340L572 341L574 341ZM582 376L582 376L581 369L578 368L578 368L578 376ZM582 384L582 384L582 376L578 376L578 382L581 384ZM582 360L581 352L579 352L579 355L578 360ZM574 341L579 341L579 344L581 343L582 336L581 335L574 336ZM581 352L582 351L582 344L581 343L579 344L579 352ZM573 336L574 336L581 335L581 331L575 330L573 330ZM582 344L590 344L589 337L582 336L581 343ZM582 336L589 337L590 336L590 331L583 331L581 331L581 335ZM581 369L583 367L582 360L582 360L578 360L578 368ZM582 384L582 385L590 390L590 390L590 384L589 384L582 384ZM582 360L582 360L589 359L589 352L582 351L581 352ZM582 376L590 376L590 368L583 367L581 369ZM582 376L582 384L589 384L590 376L590 376L582 376ZM589 352L590 351L590 344L590 344L582 344L582 351ZM589 352L589 359L591 360L597 358L598 353L590 351ZM583 367L590 368L591 367L591 360L589 359L582 360ZM590 344L590 344L598 344L598 336L597 336L590 336L589 337ZM590 376L598 376L598 376L598 368L591 367L590 368L590 376ZM599 384L598 383L590 384L590 390L597 391ZM590 384L598 383L598 376L590 376L589 384ZM591 367L598 368L598 368L598 359L597 358L591 360ZM590 336L597 336L598 331L591 331L590 331ZM598 353L599 351L598 344L598 344L590 344L590 351ZM597 358L598 359L606 360L606 352L599 351L598 353ZM597 336L598 336L605 336L606 335L605 331L599 331L598 331ZM599 384L605 384L606 383L606 376L598 376L598 376L598 383ZM606 392L605 384L599 384L597 391L598 391L603 392ZM598 344L605 343L605 336L598 336L598 344ZM605 336L605 343L607 344L613 343L614 336L613 335L606 335ZM605 384L606 392L606 392L613 392L614 391L614 383L606 383ZM599 351L606 352L606 351L607 344L605 343L598 344ZM598 368L598 376L606 376L607 375L606 368L605 367L598 368ZM598 368L605 367L606 360L606 360L598 359ZM605 367L606 368L613 367L613 361L606 360ZM606 360L613 361L614 360L613 352L606 351L606 352L606 360ZM606 335L613 335L613 331L606 331L605 331ZM606 376L606 383L614 383L614 383L614 375L607 375ZM607 344L606 351L613 352L615 351L614 345L613 343ZM614 336L621 336L621 332L614 331L613 331L613 335ZM614 397L616 398L621 398L621 392L614 391L613 392ZM613 392L606 392L606 393L607 393L614 397ZM614 368L613 367L606 368L607 375L614 375L614 375ZM614 375L622 375L623 369L622 368L614 368ZM614 375L614 383L621 383L622 375L622 375L614 375ZM614 368L622 368L621 360L621 360L614 360L613 361L613 367ZM614 383L614 391L621 392L622 391L622 384L621 383L614 383ZM613 352L614 360L621 360L622 352L622 352L615 351ZM613 343L614 345L622 343L622 336L621 336L614 336ZM621 398L624 399L629 399L629 399L630 392L622 391L621 392ZM622 375L630 377L629 368L629 368L623 369L622 375ZM622 384L630 383L630 377L630 377L622 375L621 383ZM621 336L622 336L630 336L630 335L630 332L630 332L622 332L621 332ZM622 352L623 344L622 343L614 345L615 351ZM623 369L629 368L629 360L621 360L622 368ZM621 360L621 360L629 360L630 359L629 353L622 352ZM629 399L629 399L632 399L638 399L638 393L637 392L630 392L630 392ZM629 368L629 368L637 368L638 367L638 360L637 360L630 359L629 360ZM622 391L630 392L630 392L631 384L630 383L622 384ZM622 352L629 353L630 352L630 344L623 344L622 352ZM623 344L630 344L631 344L630 336L622 336L622 343ZM630 344L630 352L637 352L638 351L637 344L631 344ZM630 377L637 376L638 375L637 368L629 368L630 377ZM630 392L637 392L638 384L631 384ZM631 384L638 384L639 384L637 376L630 377L630 383ZM629 353L630 359L637 360L637 352L630 352ZM631 344L637 344L638 343L638 336L638 336L630 335L630 336ZM638 375L645 375L646 368L646 368L638 367L637 368ZM638 336L638 332L638 332L630 332L630 335ZM637 352L637 360L638 360L645 359L646 352L645 351L638 351ZM638 351L645 351L645 344L638 343L637 344ZM646 392L638 393L638 399L642 398L646 398ZM639 384L645 384L646 383L646 376L645 375L638 375L637 376ZM637 392L638 393L646 392L646 392L645 384L639 384L638 384ZM638 336L645 336L646 332L645 332L638 332L638 336ZM638 343L645 344L646 343L646 336L645 336L638 336ZM638 367L646 368L646 360L645 359L638 360ZM646 392L646 398L651 397L653 398L654 392L653 392L646 392ZM645 384L646 392L653 392L653 384L646 383ZM646 360L654 360L654 353L653 351L646 352L645 359ZM645 344L645 351L646 352L653 351L654 345L654 344L646 343ZM646 368L646 368L653 368L654 367L654 361L654 360L646 360ZM646 376L654 375L653 368L646 368L645 375ZM661 400L658 400L661 401ZM653 384L654 384L654 375L654 375L646 376L646 383ZM646 336L654 336L655 335L654 332L653 332L646 332L645 336ZM654 384L661 384L661 376L654 375ZM654 336L654 344L654 345L661 344L661 342L661 336L655 335ZM646 343L654 344L654 336L646 336ZM653 351L654 353L661 352L662 352L662 348L661 344L654 345ZM654 361L662 360L662 360L661 352L654 353L654 360ZM653 392L654 392L661 392L662 384L661 384L654 384L653 384ZM654 375L661 376L662 375L662 368L662 368L654 367L653 368L654 375ZM654 392L653 398L658 400L661 400L662 399L662 392L661 392ZM662 399L661 400L661 401L664 403L664 400ZM661 336L661 332L654 332L655 335ZM662 368L664 368L664 365L663 360L662 360L662 360L662 368ZM662 384L664 384L664 378L664 375L662 375L661 376L661 384ZM662 384L661 392L662 392L664 392L664 390L664 384ZM662 360L654 361L654 367L662 368ZM662 360L663 360L663 354L662 352L662 352L661 352ZM662 368L662 375L664 375L664 368ZM662 392L662 399L664 400L664 392ZM476 442L474 435L471 434L475 442ZM469 432L469 432L471 434L474 435L476 433L476 428L468 428L468 430ZM476 442L483 442L484 435L476 433L474 435L476 442ZM483 451L484 450L484 443L483 442L476 442L476 443L477 444L482 451ZM476 433L484 435L484 434L485 429L477 428L476 428ZM483 442L484 443L491 442L491 436L484 434L484 435ZM484 450L492 450L493 443L491 442L484 443ZM484 434L491 436L492 435L492 430L485 429L485 429ZM492 459L491 458L488 458L492 464L492 464ZM483 452L484 453L488 458L491 458L492 450L492 450L484 450L483 451ZM493 443L499 442L500 435L492 435L491 436L491 442ZM492 450L500 451L501 451L500 443L499 442L493 443L492 450ZM492 464L493 466L500 466L500 466L501 458L500 458L492 459ZM491 458L492 459L500 458L500 451L492 450ZM501 474L501 474L500 466L493 466L496 474ZM492 435L500 435L500 434L500 431L493 430L492 430ZM499 442L500 443L508 443L509 442L508 435L500 434L500 435ZM501 474L496 474L498 480L500 482ZM501 458L508 458L509 458L508 451L507 450L501 451L500 451L500 458ZM501 451L507 450L508 443L500 443ZM500 466L508 466L508 465L508 458L501 458ZM500 434L508 435L508 435L508 431L502 431L500 431ZM509 483L501 483L506 488L509 489ZM500 482L501 483L509 483L509 482L508 475L508 474L501 474L501 474ZM507 450L508 451L516 450L515 443L509 442L508 443ZM500 466L501 474L508 474L508 466L500 466ZM517 491L516 490L510 490L514 492L516 494ZM508 475L514 474L515 467L515 466L508 465L508 466L508 474ZM508 458L508 465L515 466L516 458L516 458L509 458ZM509 483L509 489L510 490L516 490L516 482L509 482ZM509 482L516 482L516 482L516 475L514 474L508 475ZM508 435L509 442L515 443L516 443L517 435L516 434L508 435ZM508 435L516 434L516 432L510 432L508 431ZM509 458L516 458L516 450L516 450L508 451ZM516 458L516 458L523 458L524 451L516 450ZM514 474L516 475L524 474L523 467L515 467ZM515 467L523 467L524 465L523 459L523 458L516 458L515 466ZM516 490L517 491L523 490L523 483L523 483L516 482L516 482ZM516 434L517 435L523 434L523 433L518 432L516 432ZM516 482L523 483L524 474L524 474L516 475ZM516 450L524 451L525 450L524 443L524 443L516 443L515 443L516 450ZM523 483L523 483L528 483L528 481L532 481L532 475L532 475L524 474ZM524 443L532 442L532 442L531 434L524 435L524 443ZM524 491L523 490L517 491L516 494L520 496L524 491ZM532 410L533 403L532 402L529 403L529 410ZM523 458L523 459L532 458L531 451L525 450L524 451ZM517 435L516 443L524 443L524 435L523 434ZM531 426L532 418L528 418L528 423L527 426ZM524 474L532 475L532 466L531 466L524 465L523 467L524 474ZM523 490L524 491L524 490L528 483L523 483ZM523 434L524 435L531 434L532 434L532 427L531 426L527 426L527 433L523 433ZM532 402L531 395L530 395L529 402L529 403ZM532 387L532 386L532 379L532 378L531 378L531 381L530 387ZM532 378L531 373L531 378ZM532 370L532 366L531 370L531 371ZM531 395L532 394L532 387L530 387L530 391L530 395ZM524 465L531 466L532 458L532 458L523 459ZM531 426L532 427L540 426L539 418L532 418L532 418ZM532 394L540 395L541 394L540 387L532 386L532 387ZM532 418L532 418L532 410L532 410L529 410L528 412L528 418ZM525 450L531 451L533 449L532 442L524 443ZM532 378L532 379L539 378L540 370L540 370L532 370L531 371L531 373ZM532 370L540 370L539 362L532 362L532 366ZM532 458L532 458L539 458L539 450L533 449L531 451ZM531 434L532 442L540 442L540 442L541 435L540 434L532 434ZM532 442L533 449L539 450L539 450L540 442L532 442ZM532 475L539 474L540 467L540 466L532 466L532 475ZM532 466L540 466L540 458L539 458L532 458L531 466ZM533 403L540 402L540 402L540 395L532 394L531 395L532 402ZM532 410L540 410L540 410L540 402L533 403L532 410ZM541 475L539 474L532 475L532 481L538 480L540 480ZM540 346L540 339L535 338L534 339L533 346ZM539 362L541 361L540 354L533 354L533 354L532 359L532 362ZM532 434L540 434L541 427L540 426L532 427ZM532 418L539 418L539 418L540 410L532 410ZM532 379L532 386L540 387L541 386L541 380L539 378ZM540 354L540 354L541 346L540 346L533 346L533 349L533 353L533 354ZM540 458L547 458L547 450L539 450L539 450L539 458ZM540 426L541 427L548 426L548 426L548 419L547 418L539 418L539 418ZM540 410L539 418L547 418L547 411L547 411L540 410ZM540 466L540 467L548 466L548 466L548 459L547 458L540 458ZM540 410L547 411L548 403L548 403L540 402L540 402ZM540 370L546 370L548 369L548 362L541 361L539 362L540 370ZM541 435L548 435L549 434L548 426L541 427L540 434ZM540 442L539 450L547 450L547 450L548 444L548 443L540 442ZM541 380L548 378L546 370L540 370L539 378ZM540 395L540 402L548 403L548 394L547 394L541 394ZM541 361L548 362L548 362L548 354L540 354L540 354ZM546 370L548 378L548 378L555 378L556 370L548 369ZM540 387L541 394L547 394L548 387L548 387L541 386ZM540 346L541 346L548 346L548 339L541 339L540 339ZM548 443L548 435L541 435L540 442ZM539 474L541 475L548 475L549 474L548 466L540 467ZM548 426L549 434L556 435L556 435L557 427L556 426L548 426ZM548 419L556 418L556 417L555 411L547 411L547 418ZM555 483L551 482L555 488ZM548 444L556 442L556 435L549 434L548 435L548 443ZM541 386L548 387L548 378L548 378L541 380ZM548 475L541 475L540 480L549 481ZM547 458L548 459L556 457L555 451L547 450L547 450ZM548 354L549 353L548 346L548 346L541 346L540 354ZM549 481L550 481L551 482L555 483L556 482L556 474L549 474L548 475ZM548 362L548 369L556 370L556 370L557 362L556 361L548 362ZM548 403L555 403L555 395L548 394L548 403ZM548 466L549 474L556 474L557 474L557 467L556 466L548 466ZM548 394L555 395L556 394L556 388L555 387L548 387L547 394ZM547 411L555 411L556 410L555 403L555 403L548 403L547 411ZM548 387L555 387L555 379L555 378L548 378L548 387ZM547 450L555 451L557 450L556 443L556 442L548 444ZM548 362L556 361L556 354L556 354L549 353L548 354ZM555 403L563 402L563 395L556 394L555 395L555 403ZM548 426L556 426L556 418L548 419ZM556 354L556 346L548 346L549 353ZM548 346L556 346L557 345L556 340L549 339L548 339L548 346ZM564 490L564 490L564 482L556 482L555 483L555 488L558 490ZM555 411L556 417L564 419L564 418L564 410L563 410L556 410ZM548 466L556 466L557 459L556 457L548 459ZM555 387L556 388L564 387L563 379L555 379ZM556 354L564 354L563 346L563 346L557 345L556 346L556 354ZM556 435L556 442L556 443L564 442L564 435L556 435ZM556 426L557 427L563 426L564 419L556 417L556 418ZM564 499L563 499L561 498L564 504ZM563 499L564 490L558 490L558 490L561 498ZM556 361L557 362L563 362L565 354L564 354L556 354ZM557 459L564 458L564 458L564 451L557 450L555 451L556 457ZM556 482L564 482L564 482L564 474L557 474L556 474ZM555 379L563 379L564 378L563 371L556 370L556 370L555 378ZM555 403L556 410L563 410L564 402L563 402ZM556 394L563 395L564 394L564 387L564 387L556 388ZM563 346L564 340L557 340L556 340L557 345ZM556 466L557 467L564 466L564 466L564 458L557 459ZM564 451L565 450L565 443L564 442L556 443L557 450ZM556 435L564 435L565 434L565 428L563 426L557 427ZM564 387L571 386L572 385L572 379L572 378L564 378L563 379L564 387ZM563 410L564 410L571 410L571 402L564 402ZM564 402L571 402L572 402L572 396L564 394L563 395L563 402ZM556 370L563 371L565 370L564 363L563 362L557 362ZM564 474L564 474L564 466L557 467L557 474ZM564 490L563 499L564 499L571 498L571 491L564 490ZM565 354L571 354L572 347L571 346L563 346L564 354ZM563 346L563 346L571 346L571 341L564 340L564 340ZM564 458L564 466L572 466L572 458L564 458ZM564 458L572 458L572 458L572 451L572 451L565 450L564 451ZM564 418L570 418L571 418L572 411L571 410L564 410ZM564 419L563 426L565 428L572 426L570 418L564 418ZM564 482L564 490L571 491L572 490L572 482L572 481L564 482ZM563 362L564 363L572 362L571 355L571 354L565 354ZM571 507L572 506L573 499L571 498L564 499L564 504L564 504L565 506ZM564 466L564 474L571 474L572 467L572 466L564 466ZM572 514L571 507L565 506L567 513L568 514ZM572 396L573 395L571 386L564 387L564 394ZM564 474L564 482L572 481L572 475L571 474L564 474ZM564 378L572 378L571 370L565 370L563 371ZM564 435L564 442L565 443L572 442L572 435L565 434ZM571 402L571 410L572 411L579 410L580 403L572 402ZM573 514L572 514L568 514L572 519ZM572 426L573 427L579 426L580 419L579 419L571 418L570 418ZM571 354L571 355L579 355L579 355L579 347L579 347L572 347ZM572 347L579 347L579 341L572 341L571 341L571 346ZM572 435L572 435L573 427L572 426L565 428L565 434ZM565 370L571 370L572 370L572 362L572 362L564 363ZM572 379L578 378L578 370L572 370L571 370L572 378ZM565 450L572 451L572 442L572 442L565 443ZM572 396L572 402L580 403L581 402L580 395L580 394L573 395ZM572 467L579 467L580 459L572 458L572 458L572 466ZM572 362L572 362L578 362L579 355L571 355ZM580 523L579 522L574 522L580 530ZM573 499L581 498L579 491L579 491L572 490L571 491L571 498ZM572 442L580 443L580 443L580 435L572 435L572 435L572 442ZM571 474L572 475L580 474L580 467L579 467L572 467ZM572 451L580 450L580 443L572 442L572 451ZM572 482L579 482L580 474L580 474L572 475L572 481ZM572 514L573 514L580 514L579 506L572 506L571 507ZM571 386L573 395L580 394L580 387L580 387L572 385ZM579 419L580 411L579 410L572 411L571 418ZM572 458L580 459L581 458L581 450L580 450L572 451ZM572 435L580 435L580 434L580 426L579 426L573 427ZM572 385L580 387L580 384L578 382L578 378L572 379ZM579 522L580 514L580 514L573 514L572 519L573 521L574 522ZM572 370L578 370L578 368L578 362L572 362ZM572 490L579 491L581 484L579 482L572 482ZM588 538L588 531L587 530L580 531L580 531L580 534L582 539ZM580 514L587 514L587 507L580 505L579 506L580 514ZM580 474L587 475L589 474L587 467L580 467L580 474ZM580 523L587 522L588 514L587 514L580 514L579 522ZM572 506L579 506L580 505L581 498L581 498L573 499ZM580 530L580 530L580 531L580 531L587 530L588 523L587 522L580 523ZM581 498L588 498L589 491L588 490L579 491L581 498ZM579 410L580 411L588 411L588 410L587 403L581 402L580 403ZM580 434L587 434L588 427L580 426ZM580 467L587 467L588 466L587 459L581 458L580 459L579 467ZM580 435L580 443L587 442L588 435L587 434L580 434ZM579 491L579 491L588 490L587 483L581 484ZM580 419L588 419L588 411L580 411L579 419ZM580 450L581 450L588 450L588 450L588 443L587 442L580 443L580 443ZM580 395L588 395L588 389L584 386L580 387L580 394ZM581 484L587 483L587 483L587 475L580 474L579 482ZM588 546L585 546L586 550L588 551ZM580 387L580 387L584 386L580 384ZM580 426L588 427L589 426L588 419L588 419L580 419L579 426ZM588 443L596 442L596 442L595 435L588 435L587 442ZM580 505L587 507L588 506L588 499L588 498L581 498ZM581 402L587 403L588 402L588 395L588 395L580 395ZM587 403L588 410L595 410L596 409L596 402L588 402ZM582 539L585 546L588 546L589 545L589 539L588 538ZM588 506L596 506L595 499L588 499ZM587 507L587 514L588 514L595 514L596 507L596 506L588 506ZM587 467L589 474L595 475L595 466L588 466ZM588 395L588 395L596 394L595 391L590 390L588 389ZM581 458L587 459L588 458L588 450L581 450ZM588 411L588 419L588 419L596 418L595 410L588 410ZM588 546L588 551L592 554L595 555L596 554L596 547L589 545ZM588 499L595 499L596 499L595 491L595 490L589 491L588 498ZM587 459L588 466L595 466L595 466L595 458L588 458ZM588 523L595 523L595 523L596 514L595 514L588 514L587 522ZM595 555L592 554L593 555L595 556ZM589 491L595 490L596 483L587 483L587 483L588 490ZM587 483L596 483L596 482L595 475L595 475L589 474L587 475ZM588 458L595 458L596 458L595 451L588 450L588 450ZM595 475L604 473L603 466L595 466L595 466L595 475ZM595 556L602 559L604 560L604 556L603 555L596 554L595 555ZM588 427L587 434L588 435L595 435L596 435L595 427L589 426ZM588 395L588 402L596 402L597 401L596 395L596 394ZM588 450L595 451L596 450L596 442L588 443ZM596 458L603 458L604 450L604 450L596 450L595 451ZM588 538L589 539L597 538L597 538L596 531L596 530L588 531ZM588 531L596 530L595 523L588 523L587 530ZM596 506L596 507L603 506L603 499L596 499L595 499ZM595 427L596 435L603 434L604 427L597 426ZM597 426L597 419L596 418L588 419L589 426L595 427ZM596 554L603 555L605 547L604 546L597 546L596 547ZM596 530L596 531L603 530L604 523L595 523L595 523ZM589 545L596 547L597 546L597 538L589 539ZM596 514L604 515L604 515L604 507L603 506L596 507L595 514ZM595 458L595 466L603 466L604 466L604 459L603 458L596 458ZM596 442L596 450L604 450L604 442L596 442ZM596 394L596 395L603 393L603 392L598 391L595 391ZM595 410L596 418L597 419L603 417L604 410L604 410L596 409ZM595 523L604 523L604 522L604 515L596 514ZM596 402L596 409L604 410L605 402L604 402L597 401ZM597 546L604 546L604 538L604 538L597 538L597 538ZM595 435L596 442L604 442L604 442L604 435L603 434L596 435ZM595 490L595 491L603 491L604 489L604 482L596 482L596 483ZM597 426L604 427L604 427L604 418L603 417L597 419ZM596 499L603 499L604 498L603 491L595 491ZM605 547L611 547L612 538L604 538L604 546ZM596 531L597 538L604 538L604 530L603 530ZM597 401L604 402L605 395L603 393L596 395ZM603 466L604 473L605 474L611 474L613 467L612 466L604 466ZM596 482L604 482L604 482L605 474L604 473L595 475ZM603 458L604 459L612 458L612 457L612 451L604 450ZM604 498L611 498L611 490L604 489L603 491ZM604 450L612 451L612 451L611 442L604 442L604 442L604 450ZM603 506L604 507L612 506L612 506L611 499L611 498L604 498L603 499ZM604 418L611 418L612 411L604 410L603 417ZM604 515L604 522L612 523L612 514L604 515ZM603 393L605 395L609 394L607 393L603 392ZM603 555L604 556L612 554L611 547L611 547L605 547ZM604 530L612 530L612 523L612 523L604 522L604 523L603 530ZM604 515L612 514L612 513L612 506L604 507ZM604 427L603 434L604 435L611 434L612 427L604 427ZM604 427L612 427L612 427L612 419L611 418L604 418ZM604 482L604 489L611 490L613 489L612 482L604 482ZM604 538L612 538L612 538L612 531L612 530L604 530L604 538ZM604 410L604 410L612 411L613 410L612 403L611 403L605 402ZM612 506L612 513L619 515L620 514L620 506L612 506ZM604 442L611 442L612 441L613 435L611 434L604 435ZM604 402L605 402L611 403L612 396L609 394L605 395ZM612 554L612 555L618 555L617 546L611 547ZM612 427L611 434L613 435L620 434L620 427L612 427ZM604 556L604 560L611 563L612 563L612 555L612 554ZM612 514L612 523L612 523L619 522L619 515L612 513ZM604 466L612 466L612 458L604 459ZM611 547L611 547L617 546L617 541L617 539L612 538L612 538ZM611 474L612 475L620 474L619 466L613 467ZM604 482L612 482L612 482L612 475L611 474L605 474ZM612 451L612 457L620 459L620 458L620 451L619 449L612 451ZM611 490L611 498L611 499L619 497L620 491L619 490L613 489ZM612 419L619 418L620 418L619 411L613 410L612 411L611 418ZM612 530L612 531L619 530L619 529L619 523L619 522L612 523ZM612 466L613 467L619 466L620 465L620 459L612 457L612 458ZM612 403L620 402L620 398L616 398L612 396L611 403ZM611 442L612 451L619 449L620 442L612 441ZM612 563L619 562L619 560L619 560L618 555L612 555ZM612 538L617 539L619 530L612 531ZM612 482L613 489L619 490L621 483L620 482L612 482ZM620 427L620 427L619 418L612 419L612 427ZM613 410L619 411L619 410L620 402L620 402L612 403ZM619 562L612 563L611 563L614 564L620 563L620 563ZM612 441L620 442L620 442L620 435L620 434L613 435ZM612 506L620 506L620 505L621 499L619 497L611 499ZM612 482L620 482L620 475L620 474L612 475ZM619 449L620 451L628 450L628 450L628 443L627 443L620 442L620 442ZM619 466L620 474L620 475L627 474L628 474L628 467L620 465ZM620 402L620 402L627 403L628 402L628 399L624 399L620 398ZM620 427L628 426L628 426L628 419L627 418L620 418L619 418ZM619 410L628 410L628 410L627 403L620 402ZM619 411L620 418L627 418L628 410L619 410ZM621 483L627 483L627 482L627 474L620 475L620 482ZM619 522L619 523L622 523L623 521L628 516L628 515L627 514L620 514L619 515ZM620 514L627 514L628 507L628 507L620 505L620 506ZM620 427L620 434L620 435L628 435L628 435L628 426L620 427ZM619 523L619 529L620 529L622 523ZM620 491L628 491L627 483L621 483L619 490ZM620 459L620 465L628 467L628 466L628 458L627 458L620 458ZM619 497L621 499L627 498L628 491L628 491L620 491ZM620 458L627 458L628 450L620 451ZM620 442L627 443L628 435L620 435ZM628 507L628 498L627 498L621 499L620 505ZM628 507L628 507L635 506L636 499L628 498ZM628 498L636 499L637 499L635 490L635 490L628 491L627 498ZM627 474L627 482L635 482L635 475L628 474ZM627 483L628 491L628 491L635 490L636 482L635 482L627 482ZM628 410L627 418L628 419L636 418L636 411L635 410L628 410ZM627 458L628 458L636 458L636 457L635 451L628 450L628 450ZM628 426L628 435L636 435L635 427L628 426ZM627 443L628 443L636 441L636 435L636 435L628 435L628 435ZM628 410L635 410L636 402L628 402L627 403ZM628 450L635 451L635 450L636 442L636 441L628 443ZM627 514L628 515L629 515L632 512L636 510L635 507L635 506L628 507ZM628 467L628 474L635 475L636 474L636 466L636 466L628 466ZM628 466L636 466L636 458L628 458ZM635 490L643 490L644 483L643 482L636 482L635 490ZM635 482L636 482L643 482L644 475L636 474L635 475ZM636 442L643 443L645 442L643 435L636 435L636 441ZM628 426L635 427L636 426L637 418L636 418L628 419ZM636 499L635 506L635 507L643 507L644 506L644 506L644 499L644 499L637 499ZM628 402L636 402L637 402L636 399L632 399L628 399ZM636 411L643 410L643 402L643 402L637 402L636 402L635 410ZM635 450L643 450L643 443L636 442ZM636 466L636 466L643 466L644 466L644 458L644 458L636 457L636 458ZM637 402L643 402L644 398L642 398L636 399ZM636 510L640 508L643 507L635 507ZM636 435L643 435L645 433L644 426L636 426L635 427L636 435ZM636 418L637 418L644 418L645 411L643 410L636 411ZM635 451L636 457L644 458L644 451L643 450L635 450ZM636 466L636 474L644 475L644 474L643 466ZM644 474L651 475L652 466L652 466L644 466L643 466ZM635 490L637 499L644 499L645 492L643 490ZM643 482L644 483L651 483L652 483L651 475L651 475L644 474L644 475ZM643 450L644 451L652 450L652 450L652 443L651 442L645 442L643 443ZM645 492L652 490L651 483L644 483L643 490ZM644 499L652 499L653 491L652 490L645 492L644 499ZM643 410L645 411L652 411L651 403L643 402ZM636 426L644 426L644 426L644 418L644 418L637 418ZM643 402L651 403L652 402L651 397L651 397L644 398L643 402ZM644 418L652 419L652 419L652 411L652 411L645 411L644 418ZM644 458L651 458L652 450L644 451L644 458ZM644 426L645 433L652 434L653 427L651 425L644 426ZM645 442L651 442L652 435L652 434L645 433L643 435ZM644 506L644 506L652 501L652 501L652 499L652 499L644 499ZM644 466L652 466L652 459L651 458L644 458ZM644 426L651 425L652 419L644 418ZM651 475L660 475L660 474L660 468L659 466L652 466L651 475ZM651 403L652 411L652 411L659 410L660 402L659 402L652 402ZM652 419L651 425L653 427L660 427L659 419L652 419ZM652 466L659 466L660 458L660 458L652 459L652 466ZM652 450L651 458L652 459L660 458L659 451L652 450ZM652 443L660 442L660 435L652 435L651 442ZM652 402L659 402L659 400L651 397ZM652 435L660 435L660 434L660 427L660 427L653 427L652 434ZM652 501L654 499L652 499ZM652 499L652 499L654 499L660 494L660 491L659 491L653 491ZM652 490L653 491L659 491L660 483L660 483L652 483L651 483ZM652 483L660 483L660 475L651 475ZM652 419L659 419L660 419L660 410L659 410L652 411ZM652 450L659 451L660 451L661 443L660 442L652 443ZM660 402L663 402L659 400L659 402ZM660 442L661 443L668 443L668 442L668 435L668 435L660 434L660 435ZM659 451L660 458L660 458L668 459L669 451L668 450L660 451ZM659 491L660 491L666 490L667 490L667 483L660 483ZM660 419L667 419L668 418L667 411L660 410ZM660 427L668 426L667 419L660 419L659 419L660 427ZM660 410L667 411L668 410L668 403L664 403L663 402L660 402L659 410ZM668 418L671 418L671 415L671 410L668 410L667 411ZM660 483L667 483L668 482L667 476L660 474L660 475L660 483ZM668 435L668 427L668 426L660 427L660 434ZM660 494L660 494L666 490L660 491ZM660 468L667 467L668 466L668 459L668 459L660 458L659 466ZM660 474L667 476L669 474L667 467L660 468ZM660 451L668 450L668 443L661 443ZM668 450L669 451L675 451L677 450L676 448L676 447L674 443L668 442L668 443ZM667 419L668 426L668 427L672 426L672 426L671 418L668 418ZM668 435L672 435L672 426L668 427L668 435ZM667 483L667 490L676 486L676 483L675 483L668 482ZM668 459L668 459L676 459L676 459L675 451L669 451ZM668 410L671 410L671 404L668 403ZM667 476L668 482L675 483L676 475L675 474L669 474ZM669 474L675 474L676 467L668 466L667 467ZM675 483L676 483L677 483L678 475L676 475ZM668 466L676 467L677 466L676 459L668 459ZM676 486L676 485L677 483L676 483ZM675 474L676 475L678 475L678 472L679 466L677 466L676 467ZM676 459L677 466L679 466L680 458L676 459ZM674 443L672 437L672 435L668 435L668 442ZM675 451L676 459L680 458L680 458L677 450L677 450ZM633 141L634 141L633 132L631 132L632 134L633 141ZM633 132L633 132L634 123L634 122L630 122L630 128L631 132ZM634 149L633 141L633 141L633 142L633 149ZM633 95L633 87L626 87L628 96L628 96ZM634 122L635 114L633 112L629 113L629 117L630 122ZM633 112L634 106L633 104L629 104L629 106L629 113ZM625 79L626 78L626 77L625 77L625 77L625 77L625 79ZM643 186L634 185L634 194L641 194L642 194ZM625 79L625 79L626 85L626 87L633 87L634 87L634 78L634 77L626 78ZM633 149L634 155L634 159L642 159L643 151L643 150L634 149ZM642 176L642 168L634 168L634 177ZM633 104L634 96L633 95L628 96L629 104ZM626 78L634 77L634 77L632 77L626 77ZM634 77L634 78L642 77L642 77L638 77L634 77ZM642 168L643 168L642 159L642 159L634 159L634 168L634 168ZM634 149L643 150L643 142L642 141L634 141L633 141ZM633 104L634 106L643 105L643 104L643 97L642 96L634 96ZM634 96L642 96L642 87L634 87L633 87L633 95ZM633 132L634 141L642 141L644 132L644 132L633 132ZM643 186L643 186L643 177L642 176L634 177L634 181L634 185ZM643 78L651 78L651 70L651 70L651 77L644 77L642 77L642 77ZM642 77L634 78L634 87L642 87L642 87L643 78ZM635 114L642 114L643 114L643 105L634 106L633 112ZM643 168L652 168L652 167L651 159L642 159ZM634 123L643 123L644 123L642 114L635 114L634 122ZM643 151L651 150L651 142L643 142L643 150ZM652 186L643 186L643 186L642 194L648 194L652 193ZM642 87L642 96L643 97L652 94L651 88L642 87ZM643 123L644 132L644 132L651 133L653 131L652 123L651 122L644 123ZM643 142L651 142L652 141L651 133L644 132L642 141ZM643 114L652 113L652 105L643 104L643 105ZM633 132L644 132L643 123L634 123ZM642 114L644 123L651 122L652 114L652 113L643 114ZM651 88L652 87L651 78L651 78L643 78L642 87ZM652 114L661 115L661 114L662 106L661 105L652 105L652 105L652 113ZM642 159L651 159L651 159L652 151L651 150L643 151L642 159ZM643 104L652 105L652 105L653 95L652 94L643 97ZM652 87L660 86L661 84L657 82L656 78L651 78ZM651 78L651 78L656 78L655 70L653 69L652 69L651 70ZM642 168L642 176L643 177L651 177L652 168L643 168ZM652 151L660 150L661 149L660 141L652 141L651 142L651 150ZM652 168L651 177L652 178L661 177L661 169L660 168L652 167ZM643 177L643 186L652 186L652 186L652 178L651 177ZM652 186L652 193L655 193L661 193L661 186L661 186L652 186ZM651 159L661 159L661 159L660 150L652 151ZM652 141L660 141L661 141L662 132L661 131L653 131L651 133ZM651 88L652 94L653 95L661 95L661 87L660 86L652 87ZM652 123L660 122L661 115L652 114L651 122ZM651 159L652 167L660 168L661 159L651 159ZM661 149L669 150L671 149L670 141L661 141L660 141ZM661 131L661 123L660 122L652 123L653 131ZM661 159L669 159L670 159L669 150L661 149L660 150ZM661 169L670 168L670 167L669 159L661 159L661 159L660 168ZM652 186L661 186L662 178L661 177L652 178ZM661 193L663 193L670 193L670 193L670 187L661 186ZM662 106L670 105L670 105L669 96L662 96L661 105ZM662 178L670 177L670 168L661 169L661 177ZM662 132L669 132L670 123L661 123L661 131ZM661 123L670 123L670 123L669 115L661 114L661 115L660 122ZM652 105L661 105L662 96L661 95L653 95ZM661 87L670 87L670 86L669 87L662 84L661 84L660 86ZM670 168L670 177L670 177L678 177L679 168L670 167ZM661 95L662 96L669 96L670 95L670 87L670 87L661 87ZM661 141L670 141L671 140L669 132L669 132L662 132ZM670 141L671 149L679 150L680 141L678 140L671 140ZM662 106L661 114L669 115L670 114L670 105ZM669 96L670 105L678 105L678 96L670 95ZM662 178L661 186L661 186L670 187L670 186L670 177L670 177ZM670 186L678 187L678 178L678 177L670 177ZM670 187L670 193L677 193L678 193L679 187L678 187L670 186ZM670 123L677 123L679 114L670 114L669 115ZM669 132L669 132L679 132L678 123L677 123L670 123L670 123ZM670 87L670 87L679 87L679 85L678 84L673 84L670 86ZM670 105L670 114L679 114L679 113L679 105L678 105L670 105ZM671 140L678 140L679 132L679 132L669 132ZM679 132L679 132L687 132L688 123L678 123ZM669 150L670 159L679 158L680 150L679 150L671 149ZM678 96L679 95L679 87L679 87L670 87L670 95ZM677 123L678 123L688 123L688 123L686 114L679 113L679 114ZM678 187L679 187L687 186L687 186L686 178L678 178ZM669 159L670 167L679 168L679 168L680 159L679 158L670 159ZM678 178L686 178L688 176L687 170L686 169L679 168L679 168L678 177ZM679 87L682 87L679 85L679 87ZM678 105L679 105L687 104L688 96L687 96L679 95L678 96ZM680 159L683 159L683 150L680 150L679 158ZM687 186L696 185L696 178L695 177L688 176L686 178ZM678 193L684 193L688 193L687 186L679 187ZM679 95L687 96L688 91L687 91L683 88L682 87L679 87ZM679 150L680 150L683 150L683 149L681 142L682 141L680 141ZM679 132L678 140L680 141L682 141L688 137L688 133L687 132ZM679 105L679 113L686 114L688 113L689 106L687 104ZM687 186L688 193L691 193L696 192L696 186L696 185L687 186ZM688 123L687 132L688 133L688 133L688 125L691 123L691 123L688 123ZM688 123L691 123L696 117L697 116L697 114L688 113L686 114ZM679 168L686 169L683 166L683 159L680 159ZM688 96L696 97L697 96L697 96L697 96L692 93L688 91L687 96ZM688 176L695 177L690 172L687 170ZM689 106L697 105L697 105L696 97L688 96L687 104ZM688 113L697 114L697 113L697 105L689 106ZM696 186L702 186L700 182L696 178L696 185ZM696 192L698 192L705 192L705 192L702 186L696 186ZM697 105L705 104L706 104L707 96L706 96L697 96L696 97ZM697 116L699 113L697 113L697 114ZM697 96L706 96L706 92L705 92L697 96ZM697 105L697 113L699 113L701 112L706 107L705 104L697 105ZM706 96L707 96L715 95L715 95L711 94L706 92ZM706 107L709 104L706 104L705 104ZM707 96L706 104L709 104L712 101L715 99L715 96L715 95ZM715 99L720 96L715 96ZM715 96L720 96L721 95L717 96L715 95L715 95ZM638 224L640 216L634 215L637 224ZM633 208L632 208L632 211L632 212ZM633 208L640 207L640 200L640 200L633 200L632 208ZM639 232L640 225L638 224L637 224L637 225L639 232ZM640 216L641 216L640 207L640 207L633 208L632 212L634 215L634 215ZM640 200L639 194L634 194L633 200ZM639 232L639 236L640 239L640 233L639 232ZM643 256L647 256L648 248L647 247L642 248L642 253L643 256ZM647 247L647 240L641 239L642 244L642 248ZM639 232L640 233L648 231L647 225L640 225ZM640 207L648 208L648 207L649 200L648 199L640 200L640 207ZM640 200L640 200L648 199L648 194L641 194L639 194ZM640 225L647 225L648 223L647 217L641 216L640 216L638 224ZM647 256L651 256L656 256L656 248L648 248ZM640 233L640 239L641 239L647 240L648 240L648 232L648 231ZM648 231L648 232L655 232L656 224L655 224L648 223L647 225ZM641 216L647 217L648 215L648 208L640 207ZM648 215L656 215L656 208L648 207L648 208ZM647 217L648 223L655 224L657 216L656 215L648 215ZM648 248L656 248L656 248L656 240L648 240L647 240L647 247ZM648 199L649 200L655 200L656 199L656 193L655 193L648 194L648 194ZM648 232L648 240L656 240L656 239L656 232L655 232ZM664 255L664 248L664 248L656 248L656 248L656 256L658 256L664 255ZM656 232L664 231L664 224L656 224L655 232ZM656 240L656 248L664 248L664 240L663 240L656 239ZM655 224L656 224L664 224L664 224L663 216L657 216ZM655 200L656 208L664 207L664 200L656 199ZM648 207L656 208L656 208L655 200L649 200ZM657 216L663 216L664 216L665 208L664 207L656 208L656 208L656 215ZM656 232L656 239L663 240L665 232L664 231ZM656 199L664 200L665 199L664 193L663 193L656 193ZM664 231L665 232L672 233L672 232L672 224L672 224L664 224L664 224ZM664 248L671 248L672 240L672 240L664 240L664 248ZM664 216L671 216L672 216L672 208L672 208L665 208ZM664 207L665 208L672 208L673 200L673 199L665 199L664 200ZM663 240L664 240L672 240L672 233L665 232ZM672 240L679 241L680 239L679 232L672 232L672 233L672 240ZM664 255L668 255L672 255L672 249L671 248L664 248ZM680 248L672 249L672 255L672 255L679 255L681 255ZM671 248L672 249L680 248L680 248L679 241L672 240ZM664 224L672 224L671 216L664 216L663 216ZM672 224L672 224L680 223L680 217L672 216L671 216ZM672 216L680 217L680 216L680 209L672 208ZM672 208L680 209L681 209L680 200L680 200L673 200L672 208ZM665 199L673 199L672 193L670 193L664 193ZM673 200L680 200L680 193L677 193L672 193L673 199ZM672 232L679 232L680 232L681 224L680 223L672 224ZM705 256L705 257L706 258L707 256ZM681 209L687 208L688 200L687 199L680 200ZM679 241L680 248L687 246L688 241L687 239L680 239ZM680 200L687 199L688 193L684 193L680 193L680 200ZM680 232L687 233L688 232L687 224L681 224ZM681 224L687 224L688 223L688 216L688 216L680 216L680 217L680 223ZM679 232L680 239L687 239L687 233L680 232ZM688 241L696 239L696 232L695 232L688 232L687 233L687 239ZM680 248L681 255L687 255L688 255L689 248L687 246L680 248ZM687 208L688 209L695 209L695 200L688 200ZM687 246L689 248L696 248L696 248L696 240L696 239L688 241ZM680 209L680 216L688 216L688 209L687 208L681 209ZM688 232L695 232L696 223L688 223L687 224ZM688 200L695 200L695 200L695 192L691 193L688 193L687 199ZM688 216L688 223L696 223L696 223L696 216L696 215ZM696 215L696 209L695 209L688 209L688 216L688 216ZM696 232L703 232L703 224L696 223L696 223L695 232ZM688 255L694 255L696 255L696 248L689 248ZM695 209L696 209L704 208L703 201L703 201L695 200L695 200ZM696 248L703 248L704 247L703 240L696 240ZM696 240L703 240L704 239L704 232L703 232L696 232L696 239ZM696 215L696 216L703 215L704 208L704 208L696 209ZM705 256L704 256L703 256L705 257ZM695 200L703 201L703 192L698 192L695 192ZM704 208L711 209L711 208L707 202L706 200L703 201L704 208ZM696 248L696 255L701 254L703 256L704 256L703 248L696 248ZM696 223L703 224L704 223L705 217L703 215L696 216ZM703 232L704 232L711 231L711 225L704 223L703 224ZM703 215L705 217L712 216L711 209L704 208ZM703 201L706 200L705 192L703 192L703 201ZM704 247L710 247L711 240L704 239L703 240ZM703 248L704 256L705 256L707 256L710 249L710 247L704 247ZM705 217L704 223L711 225L713 224L712 216L712 216ZM704 239L711 240L711 236L712 236L712 233L711 231L704 232ZM712 216L717 216L714 213L714 213L711 208L711 209L712 216ZM712 233L719 232L719 224L713 224L711 225L711 231ZM719 232L712 233L712 236L720 233L720 233ZM713 224L719 224L720 224L720 220L717 216L712 216ZM720 224L721 224L722 222L720 220ZM720 233L721 224L720 224L719 224L719 232ZM652 264L651 263L647 263L650 268L652 270ZM651 263L652 256L651 256L644 256L644 256L647 263ZM660 278L660 278L659 271L652 271L656 276L657 279ZM652 264L659 262L658 256L658 256L652 256L651 263ZM659 271L660 270L660 263L659 262L652 264L652 270L652 271ZM662 342L668 342L668 334L667 333L661 334L661 342ZM661 286L660 278L657 279L660 286ZM667 333L667 326L667 326L661 325L661 328L661 332L661 334ZM667 293L667 287L661 286L660 286L661 287L660 287L660 295ZM660 270L668 270L668 263L666 262L660 263ZM660 278L668 278L668 277L668 270L668 270L660 270L659 271ZM659 262L660 263L666 262L667 255L665 255L658 256L658 256ZM661 303L661 311L667 312L668 311L668 303L667 302L661 302ZM667 319L667 312L661 311L661 315L661 318ZM667 326L676 327L676 319L668 319L667 326ZM667 326L668 319L667 319L661 318L661 325ZM661 302L667 302L668 294L667 293L660 295L660 300ZM660 278L661 286L667 287L667 287L668 278L660 278ZM667 319L668 319L676 319L676 318L674 311L668 311L667 312ZM667 333L668 334L675 334L676 327L676 327L667 326ZM668 270L676 270L675 262L668 263L668 270ZM666 262L668 263L675 262L676 261L675 255L675 255L672 255L667 255ZM667 287L667 293L668 294L675 295L676 293L676 286L675 285L667 287ZM668 303L675 302L675 295L668 294L667 302ZM668 278L667 287L675 285L675 279L668 277ZM675 279L676 278L676 271L676 270L668 270L668 277ZM668 303L668 311L674 311L676 309L675 302L675 302ZM676 271L682 270L683 263L683 262L676 261L675 262L676 270ZM668 342L670 342L670 342L675 342L676 335L675 334L668 334ZM675 295L675 302L675 302L683 302L684 295L683 294L676 293ZM675 279L675 285L676 286L683 286L684 278L684 278L676 278ZM675 342L678 342L683 342L683 342L683 335L676 335L675 342ZM675 334L676 335L683 335L683 335L684 327L676 327ZM674 311L676 318L683 318L684 311L683 310L676 309ZM676 278L684 278L683 271L682 270L676 271ZM676 261L683 262L684 255L679 255L675 255L675 255ZM683 310L684 302L683 302L675 302L676 309ZM676 319L676 327L676 327L684 327L684 327L684 319L683 318L676 318ZM683 342L687 342L691 341L691 335L683 335L683 335L683 342ZM684 295L692 294L692 294L691 287L684 287L683 294ZM684 302L691 303L693 302L692 294L684 295L683 302ZM684 311L692 310L692 309L691 303L684 302L683 310ZM676 293L683 294L684 287L683 286L676 286ZM682 270L683 271L691 270L690 263L683 263ZM684 287L691 287L691 287L691 279L691 278L684 278L683 286ZM684 278L691 278L692 271L691 270L683 271L684 278ZM683 263L690 263L692 262L691 255L687 255L684 255L683 262ZM683 335L691 335L692 334L691 327L684 327L684 327ZM683 318L684 319L691 318L692 318L692 310L684 311ZM692 271L699 271L700 270L699 262L692 262L690 263L691 270ZM691 279L700 279L700 278L699 271L692 271L691 278ZM692 334L699 334L700 327L699 326L692 325L691 327ZM691 341L695 341L699 341L699 334L699 334L692 334L691 335ZM692 325L691 318L684 319L684 327L691 327ZM691 287L692 294L699 294L700 293L700 287L699 286L691 287ZM691 318L692 325L699 326L700 319L699 318L692 318ZM692 318L699 318L700 311L699 310L692 309L692 310ZM691 287L699 286L700 279L691 279ZM691 303L692 309L699 310L700 302L693 302ZM699 326L700 327L707 327L708 326L707 319L700 319ZM692 294L693 302L700 302L700 302L699 294L692 294ZM700 278L707 278L707 278L707 270L707 270L700 270L699 271ZM692 262L699 262L699 262L700 255L700 254L694 255L691 255ZM699 334L707 334L708 334L707 327L700 327L699 334ZM699 262L700 270L707 270L707 268L705 264L705 262L699 262ZM699 286L700 287L707 287L708 286L707 278L700 278L700 279ZM700 302L707 302L707 295L700 293L699 294ZM700 311L707 310L707 302L707 302L700 302L700 302L699 310ZM700 319L707 319L708 319L708 311L707 310L700 311L699 318ZM700 255L702 255L701 254L700 254ZM699 341L704 341L707 341L707 334L699 334ZM707 295L707 302L707 302L715 302L715 295L714 293L708 294ZM708 294L707 287L700 287L700 293L707 295ZM699 262L705 262L706 258L702 255L700 255ZM708 326L715 326L716 326L716 319L716 319L708 319L707 319ZM707 341L712 341L715 340L715 334L715 334L708 334L707 334ZM707 278L708 286L715 286L715 281L714 280L713 278L707 278ZM707 278L713 278L708 270L707 270ZM707 287L708 294L714 293L715 287L715 286L708 286ZM708 334L715 334L715 326L708 326L707 327ZM707 310L708 311L715 310L715 302L715 302L707 302ZM714 293L715 295L723 294L723 287L715 287ZM716 319L723 318L722 311L716 311L716 319ZM708 319L716 319L716 311L715 310L708 311ZM715 326L715 334L715 334L723 334L724 327L723 326L716 326ZM715 302L723 303L723 302L724 294L723 294L715 295L715 302ZM715 286L715 287L723 287L723 287L715 281ZM716 311L722 311L723 310L723 303L715 302L715 310ZM715 340L721 340L724 340L724 335L723 334L715 334ZM723 318L724 319L731 318L731 318L731 311L723 310L722 311ZM716 326L723 326L724 319L723 318L716 319ZM723 294L724 294L725 294L725 289L723 287L723 287ZM724 340L729 340L728 343L731 342L732 341L731 335L724 335ZM724 335L731 335L732 334L730 327L724 327L723 334ZM724 327L730 327L731 326L731 318L724 319L723 326ZM723 310L731 311L732 310L731 303L730 303L723 302L723 303ZM730 303L726 295L725 294L724 294L723 302ZM731 318L731 326L739 326L739 322L738 321L737 319L731 318ZM727 350L732 350L731 342L728 343L726 350ZM731 335L732 341L738 342L739 339L739 338L739 333L732 334ZM731 311L731 318L737 319L736 312L735 310L732 310ZM730 327L732 334L739 333L739 333L739 327L739 326L731 326ZM732 310L735 310L731 303ZM731 342L732 350L736 350L738 342L732 341ZM739 326L739 327L742 326L739 322ZM739 333L739 338L741 334L739 333ZM739 333L741 334L744 328L742 326L739 327ZM670 395L668 388L668 387L664 388L664 390L664 396ZM669 363L668 356L663 355L664 363ZM669 372L669 364L669 363L664 363L664 365L664 372ZM668 387L669 380L664 380L664 388ZM668 403L669 403L670 395L670 395L664 396L664 403L667 403ZM669 348L669 348L669 342L662 342L661 344L662 348ZM668 356L670 355L669 348L662 348L663 354L663 355ZM669 380L670 379L670 373L669 372L664 372L664 378L664 380ZM678 412L677 411L671 412L671 415L678 415ZM669 363L669 364L676 363L677 356L670 355L668 356ZM668 387L668 388L677 387L677 381L670 379L669 380ZM670 395L670 395L677 395L678 387L677 387L668 388ZM668 403L668 404L671 404L671 412L677 411L677 404L677 404L669 403ZM669 348L677 347L677 342L670 342L669 342ZM669 372L670 373L677 372L678 371L678 365L676 363L669 364ZM669 348L670 355L677 356L678 355L678 347L677 347L669 348ZM677 404L685 404L685 396L677 396L677 404ZM677 347L678 347L685 347L685 342L678 342L677 342ZM678 387L685 387L685 387L685 380L685 379L677 380L677 381L677 387ZM669 403L677 404L677 396L677 395L670 395ZM670 379L677 381L677 380L677 372L670 373ZM677 356L676 363L678 365L686 364L686 363L684 356L678 355ZM678 412L684 412L686 411L685 404L685 404L677 404L677 411ZM677 396L685 396L686 395L685 387L678 387L677 395ZM677 372L677 380L685 379L685 373L678 371ZM684 356L685 355L686 348L685 347L678 347L678 355ZM685 373L686 372L686 364L678 365L678 371ZM685 387L693 387L693 380L685 380ZM684 412L685 415L693 415L693 412L686 411ZM684 412L678 412L678 415L683 415L685 415ZM686 348L693 348L693 347L693 341L687 342L685 342L685 347ZM685 404L685 404L693 404L692 396L686 395L685 396ZM685 387L686 395L692 396L693 395L694 387L693 387L685 387ZM685 380L693 380L694 380L693 372L686 372L685 373L685 379ZM684 356L686 363L692 363L693 356L693 355L685 355ZM708 411L702 412L702 412L701 415L706 414L709 414ZM693 415L694 415L701 415L702 412L693 411L693 412ZM685 404L686 411L693 412L693 411L694 405L693 404ZM686 372L693 372L693 372L693 364L692 363L686 363L686 364ZM693 348L693 355L693 356L700 356L701 348L693 347ZM693 380L693 387L694 387L701 387L702 387L701 380L700 379L694 380ZM694 405L701 404L701 404L701 396L693 395L692 396L693 404ZM685 355L693 355L693 348L686 348ZM693 372L694 380L700 379L701 372L693 372ZM693 364L701 364L700 356L700 356L693 356L692 363ZM693 372L701 372L702 371L701 364L701 364L693 364ZM700 356L709 355L708 348L702 347L701 348L700 356ZM693 347L701 348L702 347L701 341L695 341L693 341ZM693 395L701 396L702 396L701 387L694 387ZM693 411L702 412L702 412L701 404L694 405ZM701 372L700 379L701 380L709 378L709 373L702 371ZM701 364L701 364L708 363L709 355L709 355L700 356ZM701 404L710 403L708 396L702 396L701 396ZM701 387L702 396L708 396L710 395L710 388L709 387L702 387ZM701 404L702 412L708 411L709 411L710 403L710 403L701 404ZM702 371L709 373L709 372L709 364L708 363L701 364ZM702 347L708 348L709 347L709 341L704 341L701 341ZM702 387L709 387L709 379L709 378L701 380ZM709 387L710 388L716 387L717 380L717 379L709 379ZM709 347L716 347L718 340L712 341L709 341ZM708 348L709 355L709 355L716 355L717 347L716 347L709 347ZM709 373L709 378L709 379L717 379L717 371L709 372ZM708 396L710 403L710 403L717 403L717 396L717 396L710 395ZM709 364L716 364L717 363L716 356L716 355L709 355L708 363ZM716 355L716 356L725 355L725 349L717 347ZM709 364L709 372L717 371L717 371L716 364ZM710 395L717 396L718 388L716 387L710 388ZM708 411L709 414L717 414L717 414L717 414L717 412L717 412L709 411ZM717 412L718 404L718 403L717 403L717 412ZM716 364L717 371L724 372L725 370L725 363L717 363ZM717 371L717 379L717 380L725 379L725 379L724 372L717 371ZM709 411L717 412L717 403L717 403L710 403ZM717 403L718 403L719 396L717 396L717 403ZM717 396L719 396L720 389L721 388L718 388L717 396ZM717 380L716 387L718 388L721 388L725 379ZM717 347L725 349L726 347L725 340L719 340L718 340L716 347ZM724 372L725 379L725 378L730 371L730 371L725 370ZM725 340L725 340L721 340L719 340ZM717 363L725 363L725 363L726 355L725 355L716 356ZM725 355L726 355L733 355L734 350L726 350L727 347L726 347L725 349ZM725 363L732 363L733 356L734 355L733 355L726 355ZM725 340L726 347L727 347L729 340L725 340ZM725 363L725 370L730 371L732 369L732 363L725 363ZM733 355L734 355L736 350L734 350ZM679 478L680 470L679 470L678 472L677 478ZM680 470L681 469L680 464L679 464L679 470ZM674 438L672 437L673 441ZM672 419L672 419L674 415L671 415L671 419ZM680 464L683 460L679 456L680 458L679 464ZM674 438L675 437L672 429L672 429L672 437L672 437ZM672 429L679 426L680 424L672 419L672 419L671 420L672 426L672 429ZM674 438L673 441L675 445L680 446L682 445L682 440L678 437L675 437ZM680 446L675 445L676 447L678 452ZM672 419L680 424L681 422L679 415L674 415ZM680 470L679 478L682 480L687 478L688 472L685 469L681 469ZM682 480L679 478L677 478L676 485L682 485ZM675 437L678 437L682 431L679 426L672 429ZM681 422L688 421L687 415L683 415L679 415ZM679 426L682 431L685 431L687 429L690 422L688 421L681 422L680 424ZM680 446L678 452L679 455L687 450L687 450L685 447L682 445ZM682 440L689 437L685 431L682 431L678 437ZM681 469L685 469L689 461L689 460L683 460L680 464ZM687 429L697 432L698 430L698 429L695 425L693 422L690 422ZM682 480L682 485L689 484L689 480L687 478ZM682 445L685 447L690 437L689 437L682 440ZM683 460L689 460L689 454L687 450L679 455L679 456ZM688 472L693 471L695 463L689 461L685 469ZM690 437L694 438L695 438L697 432L687 429L685 431L689 437ZM689 461L695 463L696 463L698 455L696 454L689 454L689 460ZM687 450L692 447L694 438L690 437L685 447ZM687 450L689 454L696 454L695 448L692 447L687 450ZM696 483L696 480L689 480L689 484L690 483L695 485ZM687 478L689 480L696 480L698 477L697 474L693 471L688 472ZM690 422L693 422L697 415L697 415L694 415L687 415L688 421ZM697 474L704 467L704 465L704 465L696 463L695 463L693 471ZM695 448L702 449L703 448L702 441L695 438L694 438L692 447ZM696 483L695 485L702 487ZM697 415L703 417L704 415L704 414L697 415ZM698 455L703 453L702 449L695 448L696 454ZM696 463L704 465L705 454L703 453L698 455ZM696 483L702 487L702 487L705 487L707 486L704 480L699 478L698 477L696 480ZM697 432L695 438L702 441L709 437L709 437L698 430ZM698 477L699 478L706 472L704 467L697 474ZM704 419L703 417L697 415L693 422L695 425ZM695 425L698 429L698 429L706 422L704 419ZM704 415L709 414L709 414L706 414L704 414ZM698 429L710 429L710 424L706 422ZM702 449L703 453L705 454L712 455L712 454L712 447L703 448ZM703 417L704 419L706 422L710 424L713 422L709 414L704 415ZM704 465L710 464L711 463L712 455L705 454L704 465ZM709 486L707 486L705 487L709 486ZM704 467L706 472L710 474L711 474L714 471L710 464L704 465ZM703 448L712 447L713 446L709 438L709 437L702 441ZM698 430L709 437L711 432L710 429L698 429L698 429ZM710 429L711 432L719 432L720 425L717 421L713 422L710 424ZM704 480L710 474L706 472L699 478ZM707 486L709 486L711 484L712 477L711 474L710 474L704 480ZM711 484L720 483L721 480L712 477ZM712 477L721 480L723 478L716 470L714 471L711 474ZM709 438L718 439L719 435L719 432L711 432L709 437L709 437ZM711 463L717 463L719 460L719 456L718 456L712 457L712 454L712 454L712 455ZM714 471L716 470L718 468L717 463L711 463L710 464ZM709 414L713 422L717 421L718 420L717 414L717 414L709 414ZM709 486L709 486L712 486L720 492L720 491L721 486L720 483L711 484ZM712 447L712 454L712 454L713 452L716 445L713 446ZM713 446L716 445L718 439L709 438ZM716 470L723 478L727 476L727 472L724 468L718 468ZM720 491L720 492L721 493L724 493ZM721 486L728 485L730 478L727 476L723 478L721 480L720 483ZM720 425L720 425L719 420L718 420L717 421ZM718 420L719 420L717 414L717 414ZM717 463L718 468L724 468L725 464L719 460ZM725 464L729 460L728 456L722 456L719 456L719 456L719 460ZM724 468L727 472L736 466L736 464L735 463L729 460L725 464ZM735 494L730 492L729 493L731 493L735 494ZM727 476L730 478L730 478L736 476L739 472L736 466L727 472ZM720 491L724 493L729 493L730 492L730 489L728 485L721 486ZM730 489L734 482L730 478L730 478L728 485ZM729 460L735 463L736 455L733 455L728 456ZM737 493L735 494L735 494L738 495L739 493ZM730 492L735 494L737 493L737 484L734 482L730 489ZM736 466L739 472L741 472L747 470L747 469L743 464L740 463L736 464ZM734 482L737 484L741 482L736 476L730 478ZM736 464L740 463L743 456L743 455L736 455L735 463ZM741 482L741 482L743 477L741 472L739 472L736 476ZM737 484L737 493L739 493L742 490L742 490L744 484L741 482L741 482ZM741 482L744 484L751 484L752 484L752 481L750 477L749 476L743 477ZM740 463L743 464L745 463L743 456ZM741 472L743 477L749 476L745 473L747 472L747 470ZM742 490L750 493L751 493L751 484L744 484ZM747 469L745 463L743 464ZM751 493L752 494L752 494L758 492L754 485L752 484L751 484ZM752 484L754 485L754 483L752 481ZM689 145L690 137L690 137L688 137L688 137L681 142L682 146ZM689 163L689 156L683 155L683 164ZM689 156L690 155L690 145L689 145L682 146L683 149L683 155ZM690 137L690 128L690 128L688 128L688 137ZM690 172L690 164L689 163L683 164L683 166L690 172ZM690 128L690 124L688 125L688 128ZM689 156L689 163L690 164L699 163L699 155L690 155ZM690 145L699 146L699 146L699 137L690 137L689 145ZM690 128L699 128L699 128L699 123L691 123L691 123L690 124L690 128ZM690 137L699 137L699 137L699 128L690 128L690 137ZM699 172L707 173L708 172L708 164L708 163L699 163ZM699 163L699 163L690 164L690 172L690 172L699 172L699 172ZM690 155L699 155L699 154L699 146L690 145ZM708 191L709 190L707 182L700 183L705 191ZM690 172L698 180L699 172L690 172ZM699 146L699 154L708 154L709 153L708 146L707 145L699 146ZM698 180L700 182L700 183L707 182L708 182L707 173L699 172L699 172ZM699 146L707 145L708 137L708 137L699 137L699 137ZM699 128L699 137L708 137L708 128L707 128L699 128ZM699 128L707 128L707 126L706 126L706 119L706 119L700 123L699 123ZM708 199L708 191L705 191L705 192L706 199ZM708 128L714 128L713 126L707 126L707 128ZM708 146L717 145L716 137L708 137L707 145ZM707 173L708 182L716 180L717 173L708 172ZM699 163L708 163L708 154L699 154L699 155L699 163ZM706 199L707 202L709 205L709 200L708 199ZM707 182L709 190L716 190L717 190L718 182L716 180L708 182ZM708 154L708 163L708 164L715 163L717 155L717 155L709 153ZM708 137L716 137L718 136L717 130L714 128L708 128L708 137ZM718 209L717 208L711 208L714 213L714 213L714 213L717 213ZM708 199L709 200L717 200L717 199L716 190L709 190L708 191ZM709 153L717 155L717 145L717 145L708 146ZM708 172L717 173L718 173L716 164L715 163L708 164ZM717 145L717 145L726 146L726 146L726 137L726 137L718 136L716 137ZM717 208L717 200L709 200L709 205L711 208ZM726 210L725 208L718 209L717 213L724 212L726 212ZM718 209L725 208L726 199L717 199L717 200L717 208ZM716 190L717 199L726 199L726 199L726 192L717 190ZM717 155L725 155L726 154L726 146L717 145L717 155ZM716 164L726 163L725 155L717 155L715 163ZM716 180L718 182L726 182L726 182L726 173L725 172L718 173L717 173ZM726 199L725 208L726 210L735 209L735 209L734 200L726 199ZM718 173L725 172L726 163L726 163L716 164ZM726 163L734 163L734 163L735 155L734 154L726 154L725 155L726 163ZM718 136L726 137L726 134L718 132L717 130ZM717 190L726 192L727 190L726 182L718 182ZM726 173L734 174L735 173L734 163L726 163L725 172ZM735 209L726 210L726 212L734 211L735 211ZM726 182L727 190L735 190L734 182L734 182L726 182ZM726 137L735 137L735 136L727 134L726 134L726 137ZM726 199L734 200L735 199L736 191L735 190L727 190L726 192ZM726 182L734 182L734 174L726 173ZM726 146L735 145L735 137L726 137ZM735 145L743 146L743 145L744 143L736 137L735 136L735 137L735 145ZM735 145L726 146L726 146L726 154L734 154L735 145ZM744 209L743 208L735 209L735 209L735 211L744 211L744 211ZM734 174L734 182L734 182L743 182L744 181L742 173L735 173ZM734 163L735 173L742 173L743 172L743 164L734 163ZM735 190L736 191L743 190L743 182L734 182ZM734 200L735 209L743 208L744 199L735 199ZM735 155L743 155L744 154L743 146L735 145L734 154ZM742 173L744 181L753 181L753 172L743 172ZM734 163L743 164L743 163L743 155L735 155ZM736 191L735 199L744 199L744 199L744 190L743 190ZM743 164L743 172L753 172L753 172L753 163L753 163L751 163L747 167L749 163L743 163ZM743 190L744 190L752 189L753 186L753 181L753 181L744 181L743 182ZM743 145L746 146L746 144L744 143ZM743 155L743 163L749 163L752 155L752 154L744 154ZM753 163L753 161L751 163ZM743 146L744 154L752 154L746 146L743 145ZM744 211L753 210L753 208L744 209ZM758 154L760 150L757 154ZM744 199L743 208L744 209L753 208L752 199L744 199ZM744 190L744 199L752 199L751 199L752 189ZM753 163L754 163L754 163L758 154L757 154L755 159L753 161L753 163ZM753 181L753 181L753 172L753 172L753 172L753 181ZM753 163L753 172L753 172L754 163ZM705 261L705 264L706 265ZM712 257L713 250L710 250L706 257ZM713 275L712 274L711 274L713 278ZM712 274L713 267L712 266L706 266L711 274ZM713 250L714 249L713 243L713 242L711 242L710 249L710 250ZM713 242L713 236L711 236L711 242ZM706 265L706 266L712 266L714 258L712 257L706 257L706 258L705 261ZM714 258L720 258L721 258L721 250L714 249L713 250L712 257ZM722 283L721 281L717 282L722 286ZM713 267L720 267L720 258L714 258L712 266ZM713 275L721 274L721 267L720 267L713 267L712 274ZM721 218L720 212L714 213L714 213L718 218ZM720 235L721 234L722 226L721 225L720 233L717 234ZM713 243L721 241L721 241L720 235L717 234L713 236L713 242ZM722 218L721 218L718 218L721 221ZM721 274L729 274L729 274L729 266L721 267L721 274ZM721 274L713 275L713 278L714 280L717 282L721 281L721 274ZM720 267L721 267L729 266L730 265L728 258L721 258L720 258ZM714 249L721 250L721 250L721 241L713 243ZM721 218L722 218L729 218L729 212L724 212L720 212ZM721 250L721 258L728 258L729 258L729 250L728 249L721 250ZM722 226L729 227L729 226L729 218L729 218L722 218L721 221L722 222L721 225ZM721 241L721 250L728 249L729 242L721 241ZM722 283L729 282L729 282L729 274L721 274L721 281ZM728 297L728 291L725 290L726 295L727 298ZM728 291L729 290L729 282L722 283L722 286L725 289L725 290ZM729 298L728 297L727 298L729 301ZM721 241L729 242L730 241L729 234L721 234L720 235ZM721 234L729 234L729 234L729 227L722 226ZM729 266L729 274L737 274L737 267L736 266L730 265ZM737 313L737 313L736 306L736 306L732 306L736 312L736 313ZM728 258L730 265L736 266L737 258L736 257L729 258ZM729 234L730 241L736 242L737 242L738 234L737 233L729 234ZM728 249L729 250L736 250L737 248L736 242L730 241L729 242ZM729 282L729 290L736 290L737 289L737 283L729 282ZM729 298L736 297L736 290L729 290L728 291L728 297ZM729 258L736 257L736 250L729 250ZM729 234L737 233L737 226L729 226L729 227ZM729 218L736 218L738 217L737 211L734 211L729 212L729 218ZM736 313L737 318L737 313ZM729 298L729 301L732 306L736 306L737 298L736 297ZM729 274L729 282L737 283L737 282L738 274L737 274L729 274ZM737 226L737 226L736 218L729 218L729 226ZM736 297L737 298L745 298L744 290L737 289L736 290ZM737 226L737 233L738 234L745 235L746 227L744 225L737 226ZM736 306L745 305L745 298L745 298L737 298L736 306ZM736 257L737 258L744 258L745 250L744 250L737 248L736 250ZM736 242L737 248L744 250L746 242L745 241L737 242ZM746 322L745 321L738 322L744 328L745 328ZM737 283L737 289L744 290L744 290L745 282L745 282L737 282ZM737 226L744 225L745 218L744 217L738 217L736 218ZM737 267L744 266L744 258L744 258L737 258L736 266ZM737 274L738 274L744 274L745 274L745 266L744 266L737 267ZM744 258L744 258L752 258L753 257L752 251L745 250ZM737 313L737 318L738 321L738 322L745 321L745 314L737 313ZM736 306L737 313L745 314L746 314L746 305L745 305ZM737 282L745 282L744 274L738 274ZM737 242L745 241L745 235L745 235L738 234ZM738 217L744 217L745 211L744 211L737 211ZM745 298L753 297L753 290L753 290L744 290L744 290L745 298ZM744 217L745 218L752 218L753 210L752 210L745 211ZM745 250L752 251L753 250L753 243L753 243L746 242L744 250ZM744 290L753 290L752 282L745 282ZM744 266L745 266L752 266L753 265L752 258L744 258ZM745 282L745 282L752 282L752 282L752 274L745 274L744 274ZM745 328L753 325L753 325L753 323L753 323L746 322ZM745 235L753 234L753 234L753 227L746 227L745 235ZM752 218L752 218L756 218L753 210L753 210L753 210L753 210ZM744 225L746 227L753 227L753 226L752 218L752 218L745 218ZM746 242L753 243L753 234L745 235L745 241ZM752 274L753 273L752 266L745 266L745 274ZM746 322L753 323L753 314L753 314L746 314L745 314L745 321ZM746 305L753 305L754 305L753 297L753 297L745 298L745 305ZM752 251L753 257L761 257L761 254L761 251L761 250L753 250ZM753 265L761 266L761 258L761 257L753 257L752 258ZM753 297L760 297L761 290L760 289L753 290L753 297ZM753 234L760 235L759 226L753 226L753 227ZM753 243L760 242L760 240L760 238L760 235L753 234L753 234L753 243ZM746 314L753 314L753 305L746 305ZM752 282L753 290L753 290L760 289L761 282L761 282L752 282ZM753 323L754 323L758 316L758 314L753 314L753 323ZM752 266L753 273L760 273L761 266L761 266L753 265ZM753 314L753 314L758 314L759 310L759 306L754 305L753 305ZM752 274L752 282L761 282L761 274L760 273L753 273ZM752 218L753 226L759 226L759 226L758 223L756 218ZM753 243L753 250L761 250L760 242L760 242ZM754 305L759 306L760 299L761 298L760 297L753 297ZM761 282L760 289L761 290L764 290L765 290L764 282ZM761 274L761 282L761 282L764 282L763 276L763 274ZM761 298L764 290L761 290L760 297ZM761 266L760 273L761 274L763 274L762 266ZM761 257L761 258L762 258L761 254ZM761 266L762 266L762 264L762 258L761 258L761 266ZM777 218L777 209L773 209L773 217L772 218ZM777 163L777 154L775 154L771 162L770 163ZM777 189L777 181L770 181L773 190ZM778 172L779 171L778 164L777 163L770 163L770 172ZM777 209L778 208L777 200L773 199L773 205L773 209ZM777 181L778 181L778 172L770 172L769 177L770 181ZM772 218L769 224L776 224L778 223L778 218L777 218ZM777 200L779 198L778 190L777 189L773 190L773 192L773 199ZM778 190L787 189L786 181L786 181L778 181L777 181L777 189ZM777 154L777 154L778 150L778 150L775 154ZM778 181L786 181L786 172L779 171L778 172ZM778 218L786 217L786 208L778 208L777 209L777 218ZM786 145L787 137L783 145ZM778 208L786 208L786 208L786 199L786 199L779 198L777 200ZM777 163L778 164L786 162L786 155L777 154L777 154ZM786 208L786 217L787 218L795 217L796 208L796 208L786 208ZM777 154L786 155L786 154L787 146L786 145L783 145L782 147L778 150ZM786 199L787 189L787 189L778 190L779 198ZM779 171L786 172L787 172L787 162L786 162L778 164ZM786 181L796 180L796 173L795 172L787 172L786 172L786 181ZM778 223L783 223L787 222L787 218L786 217L778 218ZM787 146L795 146L796 146L796 140L792 139L789 137L788 137L787 137L786 145ZM786 199L795 199L796 190L787 189L786 199ZM786 162L787 162L796 162L796 154L786 154L786 155ZM787 189L796 190L796 190L797 181L796 180L786 181L787 189ZM786 208L796 208L796 200L795 199L786 199ZM787 162L787 172L795 172L796 163L796 162ZM786 154L796 154L796 153L795 146L787 146ZM796 208L805 209L805 208L806 200L805 199L796 200L796 208ZM796 163L804 163L804 163L805 154L805 154L796 153L796 154L796 162ZM796 173L805 172L806 171L804 163L796 163L795 172ZM787 222L790 222L796 221L796 217L795 217L787 218ZM796 217L804 218L806 216L805 209L796 208L795 217ZM796 200L805 199L804 190L796 190L796 190L795 199ZM797 181L805 181L804 173L805 172L796 173L796 180ZM805 181L805 180L805 181ZM804 218L796 217L796 221L797 221L797 223L804 222ZM804 222L806 221L814 220L814 218L806 216L804 218ZM795 146L796 153L805 154L805 147L803 145L796 146ZM796 146L803 145L801 143L796 140ZM796 190L804 190L805 190L806 182L805 181L805 181L805 181L805 181L797 181ZM805 154L808 154L807 149L805 147L805 154ZM805 199L806 200L814 199L814 192L805 190L804 190ZM804 163L809 163L808 154L805 154ZM806 216L814 218L814 218L815 209L814 208L805 208L805 209ZM806 182L814 182L814 173L814 172L810 172L810 172L805 180L805 181ZM805 190L814 192L815 191L814 182L814 182L806 182ZM805 208L814 208L815 199L814 199L806 200ZM804 163L806 171L809 165L809 163L804 163ZM814 172L814 170L810 172ZM814 173L817 172L816 170L814 170L814 172ZM815 191L824 190L823 185L822 182L814 182ZM814 192L814 199L815 199L823 199L824 191L824 190L815 191ZM814 208L815 209L819 209L820 206L821 203L823 201L823 200L823 199L815 199ZM814 218L814 218L814 220L816 220L817 218ZM814 182L822 182L821 180L817 172L814 173L814 182ZM814 218L817 218L819 213L819 209L815 209ZM824 190L824 191L826 191L823 185ZM823 200L823 201L824 200ZM824 191L823 199L823 200L824 200L826 197L826 191L826 191ZM724 128L722 126L714 127L714 127L718 132L726 134ZM714 127L722 126L723 121L720 123L713 126ZM722 126L724 128L736 124L732 115L732 115L727 119L723 121ZM736 136L737 125L736 124L724 128L726 134L727 134L734 136ZM738 137L736 136L734 136L736 137L738 138ZM737 125L742 123L744 119L744 117L743 117L732 115L736 124ZM736 136L738 137L742 136L746 133L746 132L742 123L737 125ZM732 115L743 117L740 114L744 105L744 105L736 111L732 115ZM746 132L754 125L752 124L745 119L744 119L742 123ZM748 145L746 146L752 155L756 145ZM738 138L746 144L746 146L748 145L742 136L738 137ZM748 145L756 145L756 145L757 139L746 133L742 136ZM757 139L758 138L760 128L758 125L754 125L746 132L746 133ZM758 138L757 139L756 145L758 140L763 138L764 138ZM760 128L770 127L772 121L770 119L770 119L762 125L758 125ZM772 121L775 119L776 118L770 119ZM758 138L764 138L768 135L771 133L771 129L770 127L760 128ZM770 127L771 129L784 129L786 128L785 126L775 119L772 121ZM784 129L771 129L771 133L777 131L782 132ZM785 126L787 122L783 122L783 116L776 118L776 118L775 119ZM784 129L782 132L788 134L791 133L790 130L786 128ZM786 128L790 130L795 126L791 120L787 122L785 126ZM791 133L798 130L795 126L790 130ZM766 261L767 260L767 254L761 253L762 261ZM767 254L767 253L767 246L766 246L761 245L761 251L761 253ZM766 268L766 261L762 261L762 264L763 268ZM766 237L767 237L766 230L760 229L759 230L760 238ZM766 277L767 270L766 268L763 268L763 276L763 277ZM767 285L766 277L766 277L763 277L764 286ZM766 302L767 301L767 294L763 294L760 299L760 302ZM767 294L767 294L767 285L767 285L764 286L765 290L763 294ZM766 277L766 277L776 277L776 277L775 269L774 269L767 270ZM766 246L766 237L760 238L760 238L761 245ZM766 261L766 268L767 270L774 269L774 262L767 260ZM767 260L774 262L774 261L775 253L767 253L767 254ZM759 309L765 306L766 306L766 302L760 302L759 309ZM766 306L774 307L774 307L775 302L767 301L766 302ZM767 246L774 244L774 238L774 237L767 237L766 237L766 246ZM760 229L766 230L766 229L767 226L763 228L759 227ZM767 294L774 294L775 293L775 287L774 286L767 285ZM767 237L774 237L775 230L774 230L766 229L766 230ZM767 253L775 253L775 253L775 246L774 244L767 246ZM767 301L775 302L775 301L774 294L767 294L767 294ZM767 285L774 286L776 277L766 277L767 285ZM766 229L774 230L774 224L769 224L767 226ZM775 302L774 307L781 303L783 302L783 302L782 301L775 301ZM775 287L782 286L783 285L782 278L776 277L776 277L774 286ZM774 262L774 269L775 269L782 268L782 262L782 261L774 261ZM774 238L782 238L782 230L782 229L775 230L774 237ZM775 230L782 229L782 223L776 224L774 224L774 230ZM774 261L782 261L783 254L775 253L775 253ZM782 230L790 230L791 230L790 222L790 222L783 223L782 223L782 229ZM774 244L775 246L782 245L782 238L782 238L774 238ZM775 269L776 277L782 278L783 277L783 269L782 268ZM774 294L775 301L782 301L783 294L775 293ZM775 293L783 294L784 294L782 286L775 287ZM783 254L783 253L783 245L782 245L775 246L775 253ZM783 302L783 302L789 297L791 295L791 294L790 293L784 294L783 294L782 301ZM782 262L791 262L792 261L790 253L783 253L783 254L782 261ZM782 286L784 294L790 293L790 285L790 285L783 285ZM782 238L790 238L790 237L790 230L782 230L782 238ZM782 268L783 269L791 269L791 262L782 262ZM783 245L790 244L790 238L782 238L782 245ZM782 278L783 285L790 285L791 277L790 277L783 277ZM783 245L783 253L790 253L791 253L791 246L790 244ZM790 277L792 270L791 269L783 269L783 277ZM791 277L799 278L800 277L798 270L792 270L790 277ZM790 244L791 246L799 245L798 238L790 237L790 238ZM790 293L791 294L791 294L796 286L796 286L790 285ZM790 285L790 285L796 286L799 282L799 278L791 277ZM797 222L797 221L793 222ZM790 230L790 237L798 238L799 238L798 234L798 229L791 230ZM792 270L798 270L799 269L799 261L792 261L791 262L791 269ZM791 253L799 253L799 245L799 245L791 246ZM790 253L792 261L799 261L799 261L799 253L799 253L791 253ZM791 230L798 229L797 223L797 222L793 222L790 222ZM799 278L799 282L803 277L803 277L800 277ZM800 277L803 277L802 269L799 269L798 270ZM798 238L799 245L799 245L800 245L799 245L799 238ZM799 261L799 269L802 269L802 266L801 261L799 261ZM799 261L801 261L801 256L800 253L799 253ZM799 253L800 253L800 245L799 245L799 253ZM804 240L805 240L805 232L805 232L798 232L798 234L799 240ZM805 247L804 240L799 240L799 245L800 248ZM805 273L804 272L803 272L803 277L804 278ZM804 272L804 264L802 264L802 266L803 272ZM805 256L805 248L805 247L800 248L801 256L801 256ZM805 232L806 224L805 223L798 224L797 224L798 232ZM805 273L812 272L813 265L805 264L804 264L804 272ZM804 264L805 264L805 257L805 256L801 256L802 264ZM813 280L813 272L812 272L805 273L804 278L810 280ZM798 224L805 223L805 222L797 222ZM805 232L813 233L814 232L812 224L806 224L805 232ZM805 240L813 240L813 233L805 232ZM805 248L812 248L813 240L813 240L805 240L804 240L805 247ZM805 256L805 257L812 256L813 255L812 248L812 248L805 248ZM814 281L813 280L810 280L814 281ZM805 257L805 264L813 265L813 264L812 256ZM806 224L812 224L813 223L813 221L806 221L805 222L805 223ZM813 272L821 273L821 272L821 264L820 264L813 264L813 265L812 272ZM812 256L813 264L820 264L821 256L820 256L813 255ZM813 240L813 240L820 240L821 240L820 232L814 232L813 233ZM812 248L820 248L820 240L813 240L812 248ZM812 224L814 232L820 232L821 231L821 224L821 223L813 223ZM813 255L820 256L821 249L820 248L812 248ZM814 281L821 280L822 280L821 273L813 272L813 280ZM820 240L820 248L821 249L828 248L829 247L828 240L821 240ZM813 223L821 223L821 222L816 220L813 221ZM821 264L828 264L829 263L829 257L821 256L820 264ZM821 256L829 257L830 257L828 248L821 249L820 256ZM821 224L826 224L821 222L821 223ZM821 273L822 280L828 280L829 279L830 272L829 272L821 272ZM814 281L816 282L821 284L821 280L814 281ZM821 240L828 240L828 240L828 232L821 231L820 232ZM821 284L827 285L829 286L828 280L822 280L821 280ZM828 232L829 231L829 224L829 224L827 224L826 224L821 224L821 231ZM829 286L836 287L836 280L829 279L828 280ZM821 272L829 272L828 264L821 264ZM828 264L829 272L830 272L837 271L837 265L829 263ZM828 240L829 247L836 248L837 247L837 240L836 239L828 240ZM828 248L830 257L837 256L836 248L829 247ZM828 232L828 240L836 239L837 232L829 231ZM829 231L837 232L837 232L837 224L837 224L829 224ZM829 224L837 224L837 222L834 222L829 224ZM829 279L836 280L837 280L837 272L837 271L830 272ZM829 257L829 263L837 265L838 263L837 256L837 256L830 257ZM837 271L837 272L845 272L846 264L845 264L838 263L837 265ZM836 287L837 287L841 280L837 280L836 280ZM837 256L837 256L844 255L845 248L844 247L837 247L836 248ZM836 239L837 240L845 239L845 239L845 233L844 233L837 232L837 232ZM837 224L837 224L845 224L845 224L844 218L841 221L837 222ZM837 280L841 280L843 276L845 273L845 272L845 272L837 272ZM837 240L837 247L844 247L845 239ZM845 224L844 233L845 233L853 231L852 224L852 224L845 224ZM838 263L845 264L845 256L844 255L837 256ZM837 232L844 233L845 224L837 224ZM845 224L852 224L853 216L852 215L847 215L844 218ZM845 264L846 264L852 263L853 256L853 256L845 256ZM845 239L844 247L845 248L852 248L852 247L853 241L853 240L845 239ZM844 255L845 256L853 256L852 248L845 248ZM853 240L853 231L853 231L845 233L845 239ZM853 240L853 241L860 240L860 236L860 232L853 231ZM852 215L853 210L850 212L847 215ZM853 231L860 232L858 224L852 224L853 231ZM846 264L845 272L845 272L846 272L848 269L853 264L853 264L852 263ZM853 256L858 256L859 256L859 249L852 247L852 248L853 256ZM852 263L853 264L853 264L855 263L858 256L853 256ZM852 224L858 224L858 222L857 216L853 216L852 224ZM852 247L859 249L860 240L853 241ZM853 216L857 216L856 208L855 208L853 210L852 215ZM743 334L746 331L746 330L744 328L744 328L741 335ZM743 334L741 335L739 339L746 338ZM746 330L747 329L747 327L744 328ZM746 338L750 338L752 338L753 335L752 334L746 331L743 334ZM746 330L746 331L752 334L754 325L754 325L747 329ZM747 329L754 325L754 324L753 325L747 327ZM753 335L759 334L758 326L754 325L752 334ZM754 325L758 326L759 326L761 321L756 319L754 324L754 325ZM760 313L760 313L760 309L759 310L758 314ZM752 338L760 337L760 334L759 334L753 335ZM761 321L763 319L760 313L758 314L758 316L756 319ZM759 334L760 334L760 334L760 333L766 333L767 332L767 327L759 326L758 326ZM760 313L763 319L767 320L768 313L768 313L760 313ZM761 321L759 326L767 327L768 325L767 321L767 320L763 319ZM760 313L768 313L766 307L765 306L760 309ZM760 334L760 337L761 337L760 334ZM767 327L767 332L768 333L774 333L772 325L768 325ZM767 321L775 317L774 312L768 313L767 320ZM768 313L768 313L774 312L775 311L774 307L768 306L766 307ZM774 312L775 317L777 320L781 320L783 318L783 314L780 311L775 311ZM772 325L774 333L776 333L779 332L780 331L780 329L775 324ZM775 324L777 320L775 317L767 321L768 325L772 325ZM775 311L780 311L784 305L784 305L782 303L781 303L774 307L774 307ZM775 324L780 329L783 325L781 320L777 320ZM779 332L784 332L785 332L780 331ZM784 305L788 300L788 299L782 303ZM780 311L783 314L789 310L789 309L784 305ZM783 325L788 326L788 319L783 318L781 320ZM780 331L785 332L787 332L789 326L788 326L783 325L780 329ZM783 314L783 318L788 319L789 318L789 310ZM784 305L789 309L790 309L794 301L788 300L784 305ZM793 326L789 326L787 332L792 332L795 331ZM789 310L789 318L793 318L795 311L790 309L789 309ZM788 300L794 301L794 301L795 298L793 293L792 292L789 297L788 299ZM788 326L789 326L793 326L795 324L795 320L793 318L789 318L788 319ZM795 331L800 331L802 331L803 330L803 328L802 327L795 324L793 326ZM790 309L795 311L795 311L798 304L794 301L794 301ZM796 290L801 289L801 286L798 284L796 286L795 288ZM793 293L796 290L795 288L792 292ZM795 320L799 318L800 313L795 311L795 311L793 318ZM801 286L802 285L802 279L798 284ZM794 301L798 304L803 305L801 296L801 296L795 298ZM793 293L795 298L801 296L801 289L801 289L796 290ZM795 311L800 313L802 312L804 305L803 305L798 304ZM795 320L795 324L802 327L804 321L799 318ZM801 286L801 289L801 289L809 290L809 289L810 285L808 281L802 285ZM802 327L803 328L811 325L811 325L805 320L804 321ZM799 318L804 321L805 320L808 316L808 315L802 312L800 313ZM802 285L808 281L809 281L808 279L803 277L802 279ZM808 315L809 314L806 305L804 305L802 312ZM804 305L806 305L806 305L809 297L809 297L801 296L803 305ZM801 296L809 297L809 290L801 289L801 296ZM806 305L809 314L814 311L815 306L806 305ZM811 325L816 322L816 321L808 316L805 320ZM809 297L816 298L816 298L816 293L815 290L809 289L809 290L809 297ZM809 281L810 280L808 279ZM808 316L816 321L817 320L817 314L814 311L809 314L808 315ZM803 330L804 330L809 330L811 330L811 325L803 328ZM814 311L817 314L823 312L823 311L822 307L816 305L815 306ZM811 325L811 330L817 329L819 325L816 322L811 325ZM806 305L815 306L816 305L816 298L809 297ZM808 281L810 285L818 285L818 284L818 283L816 282L810 280L809 281ZM809 289L815 290L818 285L810 285ZM816 321L816 322L819 325L823 326L824 326L826 318L825 318L817 320ZM816 293L823 290L823 287L819 285L818 284L818 285L815 290ZM816 298L825 298L825 292L823 290L816 293ZM823 326L819 325L817 329L818 329L823 328ZM817 320L825 318L823 312L817 314ZM816 305L822 307L824 306L826 299L825 298L816 298L816 298ZM818 284L819 285L820 283L818 283ZM823 290L825 292L831 291L830 286L827 285L827 285L823 287ZM826 318L828 318L830 317L830 313L829 311L823 311L823 312L825 318ZM822 307L823 311L829 311L831 307L824 306ZM823 287L827 285L820 283L819 285ZM826 299L828 299L830 297L833 292L831 291L825 292L825 298ZM823 328L827 328L828 327L824 326L823 326ZM824 326L828 327L832 324L828 318L826 318ZM829 311L830 313L836 310L836 308L834 306L831 307ZM831 307L834 306L833 305L828 299L826 299L824 306ZM832 324L836 321L834 317L830 317L828 318ZM833 292L836 292L838 290L838 288L837 287L830 286L831 291ZM833 305L838 299L836 298L830 297L828 299ZM830 317L834 317L838 313L836 310L830 313ZM836 321L836 321L841 315L841 314L838 313L834 317ZM836 298L838 299L843 300L843 299L843 296L842 294L838 290L836 292ZM836 292L833 292L830 297L836 298ZM834 306L836 308L841 305L843 300L838 299L833 305ZM836 310L838 313L841 314L842 314L843 313L845 309L846 308L841 305L836 308ZM843 300L841 305L846 308L846 308L849 305L846 300L843 299ZM838 290L842 294L838 288ZM846 300L843 296L843 299ZM739 342L740 342L739 339L739 339L738 342ZM737 365L736 356L733 356L732 366ZM736 356L737 355L737 351L736 351L733 356L733 356ZM736 356L737 365L738 367L745 364L744 355L737 355ZM737 351L739 343L739 342L738 342L736 350L736 351ZM730 371L736 371L737 370L738 368L738 367L737 365L732 366L732 369L730 371ZM737 370L737 371L741 371L738 368ZM737 355L744 355L745 354L746 351L739 343L737 351ZM753 366L748 366L746 370L753 370L754 370ZM746 351L749 348L745 340L740 342L739 342L739 343ZM738 368L741 371L745 370L746 370L748 366L745 364L738 367ZM744 355L745 364L748 366L753 366L755 363L754 358L745 354ZM745 340L752 342L755 338L754 338L750 338L746 338ZM746 338L739 339L740 342L745 340L745 340ZM745 354L754 358L754 358L756 348L752 347L749 348L746 351ZM749 348L752 347L752 342L745 340L745 340ZM766 366L763 362L755 363L753 366L754 370L760 369L761 369L765 369ZM754 358L762 353L758 348L756 348ZM755 338L761 339L762 339L763 335L762 333L760 333L761 337L754 338ZM752 347L756 348L758 348L761 344L761 339L755 338L752 342ZM754 358L755 363L763 362L765 355L762 353L754 358ZM761 344L768 348L771 341L762 339L761 339ZM758 348L762 353L765 355L768 354L769 352L769 350L768 348L761 344ZM766 366L767 366L771 362L768 354L765 355L763 362ZM763 335L768 333L768 333L768 333L762 333ZM767 366L766 366L765 369L768 368L770 368ZM763 335L762 339L771 341L772 340L773 335L768 333ZM771 341L768 348L769 350L777 344L772 340ZM768 354L771 362L777 362L779 356L778 355L769 352ZM768 333L773 335L776 334L776 333L776 333L776 333L768 333ZM778 363L784 365L787 362L783 357L779 356L777 362ZM777 362L771 362L767 366L770 368L776 368L776 368L778 363ZM769 350L769 352L778 355L781 348L779 344L777 344ZM772 340L777 344L779 344L782 339L776 334L773 335ZM782 339L784 339L785 338L786 332L784 332L780 332L776 333L776 334ZM776 368L784 367L784 365L778 363ZM784 367L784 367L792 366L794 366L791 362L787 362L784 365ZM781 348L788 349L784 339L782 339L779 344ZM783 357L789 353L790 349L788 349L781 348L778 355L779 356ZM787 362L791 362L792 359L789 353L783 357ZM784 339L788 349L790 349L791 349L793 341L793 341L785 338ZM789 353L792 359L798 356L793 349L791 349L790 349ZM793 341L795 332L794 331L792 332L786 332L785 338ZM791 362L794 366L794 366L801 360L801 358L800 356L798 356L792 359ZM793 341L800 342L802 332L795 332L793 341ZM795 332L802 332L802 332L802 331L800 331L794 331ZM801 360L794 366L800 365L801 365L803 365ZM791 349L793 349L801 347L800 342L800 342L793 341ZM793 349L798 356L800 356L803 349L801 347ZM802 332L800 342L800 342L810 340L806 333L802 332ZM801 360L803 365L805 365L811 363L811 363L810 358L801 358ZM801 347L803 349L809 349L811 347L811 340L810 340L800 342ZM802 332L806 333L809 330L809 330L802 331ZM801 358L810 358L810 358L809 349L803 349L800 356ZM811 363L805 365L808 364L811 364ZM810 358L811 363L818 363L820 362L818 355L810 358ZM809 349L810 358L818 355L819 353L819 352L816 348L811 347ZM811 340L818 337L818 335L810 330L809 330L806 333L810 340ZM818 335L821 330L820 329L818 329L810 330ZM811 340L811 347L816 348L823 341L818 337ZM811 363L811 364L816 363L818 363L818 363L811 363ZM818 355L820 362L822 362L825 356L819 353ZM818 337L823 341L823 341L828 339L828 332L823 330L821 330L818 335ZM818 363L818 363L821 363L822 362L820 362ZM819 352L826 349L823 341L823 341L816 348ZM819 353L825 356L825 356L828 354L828 349L826 349L819 352ZM821 330L823 330L824 328L820 329ZM828 354L832 350L833 349L833 348L828 349ZM823 341L826 349L828 349L833 348L834 347L833 340L833 340L828 339ZM833 340L835 333L831 330L828 332L828 339ZM828 332L831 330L831 327L827 328L824 328L823 330ZM833 340L840 339L842 333L841 331L835 333L833 340ZM835 333L841 331L841 327L841 326L834 327L831 327L831 330ZM841 327L846 326L842 326L841 326ZM842 333L851 336L852 334L850 326L849 325L846 326L841 327L841 331ZM834 347L835 347L842 341L840 339L833 340ZM840 339L842 341L845 339L851 336L851 336L842 333ZM850 326L856 325L856 324L849 325L849 325ZM851 336L851 336L853 335L854 334L852 334ZM852 334L854 334L856 325L856 325L850 326ZM719 449L715 448L713 452L712 454L713 456L719 456ZM720 440L720 434L719 433L719 435L718 440ZM720 393L720 393L720 390L719 393ZM720 408L720 401L719 400L718 400L718 404L718 408ZM720 425L720 418L720 418L718 417L720 425L720 425ZM719 400L720 393L719 393L718 400ZM720 401L727 401L729 400L728 394L727 393L720 393L720 393L719 400ZM727 384L728 377L726 377L725 378L722 385ZM720 418L720 409L720 408L718 408L717 414L717 414L718 417ZM719 449L720 448L721 441L720 440L718 440L715 448ZM720 434L728 433L727 426L720 425L720 429L719 433ZM721 441L728 441L728 433L728 433L720 434L720 440ZM719 456L722 456L728 456L727 449L720 448L719 449ZM720 409L728 409L728 409L727 401L720 401L720 408ZM720 448L727 449L728 449L728 441L728 441L721 441ZM720 393L727 393L729 386L727 384L722 385L720 389L720 390ZM720 425L727 426L729 425L728 417L720 418L720 425ZM728 377L728 377L728 374L726 377ZM720 418L728 417L728 416L728 409L720 409L720 418ZM728 441L736 441L736 434L736 433L728 433L728 441ZM727 426L728 433L728 433L736 433L736 425L736 425L729 425ZM737 449L728 449L727 449L728 456L733 455L735 455ZM729 386L735 386L736 377L728 377L728 377L727 384ZM728 409L735 408L735 401L729 400L727 401ZM727 393L728 394L736 393L736 386L735 386L729 386ZM728 409L728 416L735 417L736 408L735 408L728 409ZM728 417L729 425L736 425L736 418L735 417L728 416ZM729 400L735 401L737 400L737 394L736 393L728 394ZM728 377L736 377L736 377L736 371L730 371L728 374ZM737 449L736 441L736 441L728 441L728 449L737 449ZM737 449L735 455L743 455L744 457L744 457L743 449L737 449ZM735 417L736 418L743 417L744 409L744 409L736 408ZM736 441L736 441L744 441L744 441L744 433L736 434ZM736 425L744 426L744 425L744 418L743 417L736 418L736 425ZM736 434L744 433L744 432L744 426L736 425L736 433ZM735 408L736 408L744 409L744 401L744 401L737 400L735 401ZM736 377L735 386L736 386L743 386L743 377L736 377ZM736 377L743 377L743 377L744 370L737 371L736 371ZM745 393L744 393L737 394L737 400L744 401ZM744 401L744 401L752 401L752 394L752 393L745 393ZM736 393L737 394L744 393L743 386L743 386L736 386ZM737 449L743 449L744 448L744 441L736 441ZM743 386L751 385L751 378L743 377L743 377L743 386ZM744 409L751 409L751 409L752 401L752 401L744 401L744 409ZM743 417L744 418L752 418L753 417L751 409L744 409ZM744 457L744 457L751 456L751 449L751 449L744 448L743 449ZM752 466L752 465L745 464L747 472L752 469ZM744 441L751 441L751 441L751 434L744 432L744 433ZM744 441L744 448L751 449L751 441L744 441ZM745 393L752 393L751 385L751 385L743 386L744 393ZM744 460L745 464L752 465L753 458L751 456L744 457ZM751 449L759 449L760 441L751 441L751 441L751 449ZM760 466L752 466L752 469L754 467L760 467ZM751 378L752 377L751 370L745 370L744 370L743 377ZM744 426L744 432L751 434L752 433L752 425L752 425L744 425ZM744 425L752 425L752 418L744 418ZM752 466L760 466L760 465L760 458L753 458L752 465ZM751 385L751 385L759 385L760 380L760 377L760 377L752 377L751 378ZM752 418L752 425L752 425L759 425L760 424L759 417L759 417L753 417ZM752 394L759 393L759 390L759 385L751 385L752 393ZM752 401L759 402L760 401L760 401L759 393L752 394L752 401ZM751 434L751 441L760 441L760 441L759 433L752 433ZM753 458L760 458L760 457L760 450L759 449L751 449L751 456ZM760 441L763 441L762 434L762 433L760 433L759 433ZM751 409L753 417L759 417L760 409L760 409L751 409ZM752 377L760 377L760 369L760 369L753 370L751 370ZM759 433L760 433L759 425L752 425L752 433ZM760 409L759 402L752 401L751 409ZM759 402L760 409L760 409L761 409L760 401ZM759 417L759 417L762 417L761 411L761 409L760 409ZM760 457L765 457L765 456L764 450L760 450ZM760 441L759 449L760 450L764 450L763 445L763 441L760 441ZM760 433L762 433L762 424L760 424L759 425ZM760 424L762 424L762 422L762 417L759 417ZM760 466L760 467L766 466L766 465L760 465ZM760 377L760 377L760 377L761 369L760 369ZM760 465L766 465L765 457L760 457L760 458ZM765 450L767 449L767 448L763 445L764 451ZM767 462L765 461L766 466L767 466ZM766 418L766 415L763 412L761 412L762 420ZM767 426L768 421L766 418L762 420L762 422L762 427ZM760 391L759 390L759 397ZM760 391L764 390L765 387L765 385L760 383L759 390L759 390ZM766 406L767 405L764 399L760 399L760 401L760 405ZM765 374L765 369L761 369L761 369L760 377ZM771 461L772 454L767 449L765 450L768 462ZM768 462L767 462L767 466L771 467L772 461L771 461ZM776 462L773 461L777 468L777 468ZM760 391L759 397L760 399L764 399L767 396L764 390ZM765 385L768 380L766 375L765 374L760 377L760 380L760 383ZM764 437L768 435L769 429L767 426L762 427L762 434L762 437ZM763 412L766 406L760 405L761 411L761 412ZM767 462L768 462L765 450L764 451L765 456L765 461ZM764 390L767 396L774 395L775 391L773 389L765 387ZM766 415L775 411L774 406L767 405L766 406L763 412ZM766 418L768 421L775 421L776 412L775 411L766 415ZM767 448L769 446L764 437L762 437L763 445L763 445ZM765 385L765 387L773 389L773 381L768 380ZM766 375L776 373L777 372L775 368L768 368L765 369L765 374ZM764 399L767 405L774 406L775 403L776 398L774 395L767 396ZM764 437L769 446L772 444L774 442L774 439L768 435ZM767 448L767 449L772 454L775 452L772 444L769 446ZM769 429L775 429L777 427L778 424L775 421L768 421L767 426ZM772 454L771 461L772 461L772 459L773 461L776 462L779 460L778 452L783 452L783 451L775 452ZM775 391L783 386L782 384L775 380L773 381L773 389ZM768 435L774 439L776 437L775 429L769 429ZM776 412L783 413L787 407L786 406L775 403L774 406L775 411ZM773 381L775 380L776 373L766 375L768 380ZM775 429L776 437L782 436L782 431L777 427ZM774 395L776 398L782 398L786 395L784 387L783 386L775 391ZM774 439L774 442L782 448L784 445L785 438L782 436L776 437ZM775 452L783 451L782 448L774 442L772 444ZM777 468L781 467L779 460L776 462ZM778 424L781 423L784 414L783 413L776 412L775 421ZM776 373L775 380L782 384L784 382L781 372L777 372ZM782 431L786 427L785 424L781 423L778 424L777 427ZM783 452L786 451L791 451L792 445L784 445L782 448L783 451ZM777 372L781 372L784 371L784 367L776 368L775 368ZM782 436L785 438L789 436L789 430L788 428L786 427L782 431ZM786 406L782 398L776 398L775 403ZM783 386L784 387L792 388L792 388L794 383L791 378L784 382L782 384ZM782 398L786 406L787 407L789 406L791 404L789 396L786 395ZM784 382L791 378L792 374L791 372L784 371L781 372ZM781 423L785 424L791 419L789 416L784 414ZM784 414L789 416L792 411L789 406L787 407L783 413ZM788 428L796 421L796 421L791 419L785 424L786 427ZM786 395L789 396L791 395L792 388L784 387ZM791 372L792 366L784 367L784 367L784 371ZM791 372L792 374L799 374L799 365L792 366L792 366ZM791 395L799 396L800 391L792 388L792 388ZM789 430L796 428L796 421L788 428ZM784 445L792 445L793 445L794 438L789 436L785 438ZM789 406L792 411L799 413L799 413L798 406L797 404L791 404ZM791 451L795 450L799 450L799 450L793 445L792 445ZM794 438L798 437L799 437L799 432L796 428L789 430L789 436ZM791 419L796 421L796 420L799 413L792 411L789 416ZM791 404L797 404L799 397L799 396L791 395L789 396ZM796 421L796 428L799 432L804 428L804 423L796 420L796 421ZM797 404L798 406L806 404L805 398L799 397ZM794 438L793 445L799 450L800 449L798 437ZM800 391L800 390L799 383L794 383L792 388ZM799 397L805 398L808 396L806 390L806 390L800 390L800 391L799 396ZM791 378L794 383L799 383L801 381L801 374L799 374L792 374ZM799 374L801 374L803 373L801 365L801 365L800 365L799 365ZM799 450L799 450L803 450L807 449L807 447L805 447L800 449ZM799 413L796 420L804 423L808 421L805 414L805 413L799 413ZM799 383L800 390L806 390L806 385L806 382L801 381ZM798 437L800 449L805 447L804 438L799 437ZM799 437L804 438L806 438L809 431L804 428L799 432ZM801 374L801 381L806 382L804 376L803 373ZM804 428L809 431L814 430L814 428L811 422L808 421L804 423ZM799 413L805 413L808 406L806 404L798 406ZM805 414L813 413L814 412L812 408L812 405L808 406L805 413ZM808 406L812 405L810 398L809 397L808 396L805 398L806 404ZM807 447L811 446L812 443L811 440L806 438L804 438L805 447ZM806 390L806 390L808 390L807 387L806 385ZM806 438L811 440L817 436L814 430L809 431ZM807 449L812 449L813 448L811 446L807 447ZM811 422L814 418L813 413L805 414L808 421ZM806 390L808 396L809 397L808 390ZM814 430L817 436L818 436L817 433L817 427L814 428ZM814 428L817 427L817 419L814 418L811 422ZM814 418L817 419L817 418L814 412L813 413ZM811 446L813 448L820 448L819 444L812 443ZM812 443L819 444L818 436L817 436L811 440ZM809 383L809 383L810 375L810 375L804 374L804 376L806 382ZM809 393L809 390L808 388L807 388L808 393ZM810 395L809 393L808 393L809 396ZM809 366L809 366L809 364L808 364L801 365L801 365L802 366ZM808 388L809 383L806 382L807 387L807 388ZM810 375L809 366L802 366L804 374ZM817 401L816 400L811 401L812 408L813 409ZM818 415L813 410L813 410L816 416ZM809 393L810 395L815 398L814 391L809 390ZM809 366L810 375L810 375L813 375L816 372L817 368L809 366ZM809 396L810 398L811 401L816 400L816 399L815 398L810 395ZM809 390L814 391L819 389L819 388L813 383L809 383L809 383L808 388ZM823 446L820 443L819 443L820 448L821 450ZM817 368L818 367L816 363L809 364L809 366ZM816 399L822 392L822 391L819 389L814 391L815 398ZM817 425L819 423L817 422L817 425ZM816 400L817 401L819 402L824 400L824 394L822 392L816 399ZM817 425L817 430L821 430L821 423L819 423L817 425ZM820 443L823 438L821 436L817 435L819 443ZM813 410L820 407L819 402L817 401L813 409L813 410ZM809 383L813 383L818 380L813 375L810 375ZM813 383L819 388L822 380L818 380ZM818 367L821 366L821 363L821 363L816 363L816 363ZM813 375L818 380L822 380L822 380L822 376L822 376L816 372ZM819 423L821 423L822 422L822 416L822 415L818 415L816 416L817 418L817 422ZM813 410L818 415L822 415L824 410L820 407ZM817 368L816 372L822 376L822 367L821 366L818 367ZM822 376L827 372L827 368L822 367L822 376ZM819 389L822 391L828 388L828 382L822 380L822 380L819 388ZM821 436L821 430L821 430L817 430L817 433L817 435ZM824 410L827 409L827 402L824 400L819 402L820 407ZM822 416L831 417L833 415L829 409L827 409L824 410L822 415ZM823 446L828 447L829 445L827 437L823 438L820 443ZM821 430L821 430L827 431L829 427L827 424L822 422L821 423ZM823 438L827 437L828 436L827 431L821 430L821 436ZM822 367L827 368L830 366L829 362L824 362L821 363L821 366ZM827 452L823 454L823 454L828 453ZM822 422L827 424L831 420L831 417L822 416ZM821 450L823 454L827 452L828 449L828 447L823 446ZM822 392L824 394L831 394L831 391L828 388L822 391ZM824 400L827 402L828 401L833 396L831 394L824 394ZM822 380L828 382L829 381L830 374L827 372L822 376ZM828 449L836 451L838 445L836 443L829 445L828 447ZM827 437L829 445L836 443L836 441L832 436L828 436ZM830 366L834 367L835 367L836 362L836 361L832 361L829 362ZM830 374L834 373L834 367L830 366L827 368L827 372ZM828 382L828 388L831 391L836 386L834 382L829 381ZM827 402L827 409L829 409L836 406L836 406L828 401ZM828 436L832 436L836 432L834 428L829 427L827 431ZM829 427L834 428L837 423L831 420L827 424ZM833 415L838 415L838 415L839 409L836 406L829 409ZM833 396L833 396L836 395L838 388L836 386L831 391L831 394ZM827 452L828 453L832 453L836 453L836 452L836 451L828 449ZM834 367L834 373L837 375L843 374L843 369L842 368L835 367ZM836 453L841 453L844 452L846 450L836 452ZM836 452L846 450L846 450L845 448L842 446L838 445L836 451ZM836 441L843 436L843 432L843 432L836 432L832 436ZM828 401L836 406L836 404L833 396L833 396ZM829 381L834 382L835 381L837 375L834 373L830 374ZM836 406L839 409L845 409L845 404L842 401L836 404L836 406ZM831 417L831 420L837 423L838 423L838 415L833 415ZM836 432L843 432L843 424L838 423L837 423L834 428ZM836 362L840 360L840 360L836 361ZM838 415L838 423L843 424L844 423L844 419L842 416L838 415ZM834 382L836 386L838 388L843 388L843 381L835 381ZM836 404L842 401L842 397L836 395L833 396ZM843 432L847 432L852 428L852 425L849 423L844 423L843 424L843 432ZM836 443L838 445L842 446L845 439L843 436L836 441ZM842 397L845 394L844 388L843 388L838 388L836 395ZM835 381L843 381L843 380L843 375L843 374L837 375ZM835 367L842 368L842 362L840 360L836 362ZM842 368L843 369L847 368L842 362ZM842 401L845 404L849 401L848 396L845 394L842 397ZM844 388L851 385L849 381L843 380L843 381L843 388ZM844 423L849 423L853 416L849 413L844 419ZM846 450L846 450L844 452L849 452ZM838 415L842 416L848 410L845 409L839 409ZM845 409L848 410L849 411L851 409L854 403L849 401L845 404ZM844 419L849 413L849 411L848 410L842 416ZM842 446L845 448L851 443L851 441L845 439ZM843 380L849 381L851 375L843 375ZM843 436L845 439L851 441L855 438L855 436L847 432L843 432ZM843 375L851 375L852 375L849 371L847 368L843 369L843 374ZM857 447L853 446L850 452L858 451L859 451ZM845 394L848 396L851 395L854 387L852 385L851 385L844 388ZM846 450L849 452L850 452L850 452L853 446L851 443L845 448ZM851 375L849 381L851 385L852 385L854 380L852 375ZM849 413L853 416L857 417L858 415L860 410L859 410L851 409L849 411ZM847 432L855 436L857 435L857 434L852 428ZM848 396L849 401L854 403L855 403L856 398L851 395ZM852 425L859 423L857 417L853 416L849 423ZM855 438L859 444L863 443L864 439L863 438L857 435L855 436ZM851 443L853 446L857 447L859 444L855 438L851 441ZM854 403L851 409L859 410L858 405L855 403ZM851 395L856 398L861 396L859 389L856 387L854 387ZM852 428L857 434L859 431L860 423L859 423L852 425ZM859 423L860 423L864 423L865 416L858 415L857 417ZM857 447L859 451L862 451L864 450L864 445L863 443L859 444ZM859 410L860 410L863 410L865 404L864 403L858 405ZM854 387L856 387L857 385L854 380L852 385ZM859 389L860 388L858 386L857 385L856 387ZM855 403L858 405L864 403L862 396L861 396L856 398ZM859 431L866 431L864 423L864 423L860 423ZM857 435L863 438L866 431L866 431L859 431L857 434ZM862 396L864 396L864 395L864 395L860 388L859 389L861 396ZM862 451L867 451L867 450L864 450ZM858 415L865 416L867 414L865 411L863 410L860 410ZM865 404L869 404L869 401L864 396L864 396L862 396L864 403ZM864 423L864 423L869 422L871 420L871 419L869 415L867 414L865 416ZM865 411L870 406L869 404L865 404L863 410ZM863 443L864 445L872 445L871 439L864 439ZM866 431L870 431L872 430L869 422L864 423L866 431ZM864 439L871 439L872 437L870 431L866 431L863 438ZM867 414L869 415L874 409L872 406L870 406L865 411ZM872 445L872 445L876 446ZM871 439L872 445L872 445L876 446L877 446L878 445L878 443L878 437L872 437ZM864 450L867 450L870 445L872 445L872 445L872 445L864 445ZM872 430L877 428L877 428L876 424L871 420L869 422ZM871 419L878 416L875 410L874 409L869 415ZM870 406L872 406L873 406L869 401L869 404ZM870 431L872 437L878 437L877 437L878 435L877 428L872 430ZM877 428L877 428L878 435L880 428ZM874 409L875 410L876 409L874 406L873 406L872 406ZM871 420L876 424L880 421L880 417L878 416L871 419ZM877 428L880 428L881 427L882 424L880 421L876 424ZM880 417L882 416L882 415L876 409L875 410L878 416ZM880 421L882 424L884 417L884 417L882 416L880 417ZM878 445L879 445L878 443ZM884 417L884 417L884 417L882 415L882 416ZM783 463L780 463L781 467L784 465ZM783 463L787 456L778 453L780 463ZM783 463L784 465L786 465L791 464L795 457L789 455L787 456ZM789 455L788 451L786 451L778 452L778 452L778 453L787 456ZM789 455L795 457L796 457L799 453L797 450L795 450L788 451ZM791 464L795 463L796 458L796 457L795 457ZM799 453L804 451L804 449L803 450L797 450ZM804 464L796 458L795 463L797 463L804 465ZM796 457L796 458L804 464L809 455L804 451L799 453ZM815 470L812 465L806 466L811 468L814 472ZM804 465L806 466L812 465L815 459L815 456L809 455L804 464ZM804 451L809 455L815 456L816 455L814 448L812 449L804 449ZM816 455L817 454L821 449L820 448L814 448ZM823 472L821 470L815 470L814 472L818 475L823 475ZM815 456L815 459L822 467L826 463L821 456L817 454L816 455ZM815 470L821 470L822 467L815 459L812 465ZM817 454L821 456L831 453L831 453L823 454L821 449ZM821 470L823 472L826 471L829 469L832 467L831 463L830 462L826 463L822 467ZM826 463L830 462L832 457L831 453L821 456ZM823 475L823 475L826 471L823 472ZM831 463L839 464L839 464L839 464L840 465L841 462L841 457L832 457L830 462ZM831 453L832 457L841 457L843 454L843 452L841 453L832 453L831 453ZM832 467L836 466L839 464L831 463ZM840 465L839 464L840 465ZM841 462L850 466L851 465L847 456L846 455L843 454L841 457ZM853 472L850 468L847 469L851 474ZM840 465L846 468L847 469L850 468L850 466L841 462L840 465ZM855 473L853 472L851 474L857 480ZM847 456L858 456L857 451L850 452L848 452L846 455ZM843 454L846 455L848 452L843 452ZM850 466L850 468L853 472L855 473L860 471L861 463L859 460L851 465ZM851 465L859 460L859 457L858 456L847 456ZM858 456L859 457L869 452L868 448L867 451L858 451L857 451ZM866 500L867 500L867 500L868 489L864 488L865 490L865 499ZM868 489L868 488L866 480L858 482L858 482L864 488ZM857 480L858 482L866 480L867 478L868 474L860 471L855 473ZM865 500L865 505L866 506L867 505L867 500L866 500ZM859 460L861 463L866 464L870 462L871 455L869 452L859 457ZM860 471L868 474L870 473L866 464L861 463ZM869 516L869 508L867 505L866 506L867 510L869 516ZM868 489L867 500L873 499L878 493L875 487L868 488ZM869 508L876 510L875 501L873 499L867 500L867 500L867 505ZM870 473L875 471L877 467L870 462L866 464ZM867 478L877 482L877 473L875 471L870 473L868 474ZM868 488L875 487L877 484L877 482L867 478L866 480ZM872 517L869 516L869 516L870 517L871 519ZM877 525L874 517L872 517L871 519L876 526ZM870 462L877 467L878 466L877 457L875 455L871 455ZM869 452L871 455L875 455L880 449L879 446L879 446L876 446L869 446L868 448ZM877 473L886 476L889 472L886 465L878 466L877 467L875 471ZM872 517L874 517L878 514L878 512L876 510L869 508L869 516ZM878 526L877 525L876 526L876 526L879 529ZM874 517L877 525L878 526L884 523L881 516L878 514ZM876 510L878 512L884 505L883 503L875 501ZM885 535L883 535L885 538ZM877 484L887 483L886 476L877 473L877 482ZM875 501L883 503L885 496L885 494L878 493L873 499ZM876 446L870 445L869 446ZM875 455L877 457L882 457L881 452L880 449ZM875 487L878 493L885 494L887 491L887 483L887 483L877 484ZM885 538L889 544L892 546L895 543L892 536L886 535L885 535ZM881 516L888 514L887 506L884 505L878 512L878 514ZM879 529L883 534L883 535L885 535L886 535L887 525L884 523L878 526ZM878 466L886 465L884 462L882 457L877 457ZM884 505L887 506L892 504L892 501L885 496L883 503ZM887 483L889 483L895 481L891 476L889 472L886 476L887 483ZM887 525L894 522L895 519L893 515L888 514L881 516L884 523ZM885 496L892 501L897 497L895 493L887 491L885 494ZM886 535L892 536L897 532L898 526L894 522L887 525ZM887 506L888 514L893 515L896 508L892 504ZM892 536L895 543L902 544L904 542L904 539L903 538L897 532ZM892 504L896 508L900 507L902 505L903 500L903 499L897 497L892 501ZM903 553L902 544L895 543L892 546L899 550L901 554ZM895 519L903 515L900 507L896 508L893 515ZM887 491L895 493L898 489L889 483L887 483ZM897 497L903 499L903 498L900 490L899 488L898 489L895 493ZM889 483L898 489L899 488L895 481ZM904 539L911 534L910 527L908 527L903 538ZM907 555L903 553L901 554L903 559L907 558ZM894 522L898 526L906 526L905 515L903 515L895 519ZM900 507L903 515L905 515L910 513L908 509L902 505ZM897 532L903 538L908 527L906 526L898 526ZM908 527L910 527L913 525L914 521L910 513L905 515L906 526ZM902 505L908 509L907 507L904 500L903 500ZM902 544L903 553L907 555L911 554L911 546L909 543L904 542ZM903 500L904 500L903 499L903 498L903 499ZM911 534L916 538L917 538L916 526L913 525L910 527ZM904 539L904 542L909 543L916 538L911 534ZM907 555L907 558L913 556L913 555L913 554L911 554ZM909 543L911 546L917 545L917 543L917 538L916 538ZM913 554L914 554L915 552L917 545L911 546L911 554ZM916 526L915 523L914 521L913 525ZM849 358L848 356L848 356L840 360L842 363ZM842 363L847 369L851 359L849 358ZM856 370L857 370L856 361L855 360L851 359L847 369L849 371L849 371ZM855 380L858 378L856 370L849 371L854 379ZM849 358L851 359L855 360L858 354L850 355L850 355L848 356ZM856 370L858 378L863 380L863 379L865 369L857 370ZM855 380L858 386L859 387L863 384L864 382L863 380L858 378L855 380ZM862 354L864 353L861 354L860 354ZM864 395L867 392L863 384L859 387L864 395L864 395ZM857 370L865 369L865 369L863 361L856 361ZM862 354L860 354L858 354L855 360L856 361L863 361L864 360ZM864 360L870 358L871 353L870 353L864 353L862 354ZM863 361L865 369L871 369L872 368L872 361L870 358L864 360ZM873 405L874 403L872 399L866 398L873 406ZM863 380L864 382L869 384L874 379L870 376L863 379ZM863 384L867 392L871 390L871 386L869 384L864 382ZM865 369L863 379L870 376L871 369L865 369ZM871 353L870 358L872 361L880 360L881 359L881 358L876 359L873 355L871 353ZM874 379L879 379L880 377L878 370L872 368L871 369L870 376ZM864 395L864 396L866 398L872 399L876 392L876 392L871 390L867 392ZM872 399L874 403L880 400L881 399L876 392ZM873 406L874 406L878 411L879 409L873 405ZM869 384L871 386L879 383L880 381L879 379L874 379ZM876 392L878 390L879 383L871 386L871 390ZM878 390L888 392L889 391L888 384L880 381L879 383ZM878 370L880 368L880 360L872 361L872 368ZM879 409L884 408L880 400L874 403L873 405ZM876 392L881 399L888 396L888 392L878 390L876 392ZM880 368L886 368L888 360L887 359L881 359L880 360ZM878 370L880 377L888 374L889 370L886 368L880 368ZM879 409L878 411L884 417L886 414L886 413L887 411L885 408L884 408ZM881 399L880 400L884 408L885 408L891 401L888 396ZM879 379L880 381L888 384L889 383L891 377L888 374L880 377ZM888 392L888 396L891 401L894 402L897 399L897 399L895 390L889 391ZM889 370L897 367L897 367L896 363L896 362L888 360L886 368ZM881 359L887 359L888 357L885 358L881 358ZM887 411L887 411L890 406L894 402L891 401L885 408ZM888 374L891 377L898 376L899 375L899 375L897 367L889 370ZM888 360L896 362L895 358L893 356L888 357L887 359ZM888 384L889 391L895 390L895 390L899 383L889 383ZM897 367L905 366L905 366L904 365L899 361L896 363ZM891 377L889 383L899 383L899 383L898 376ZM896 363L899 361L895 358L896 362ZM898 376L899 383L904 385L907 384L907 382L904 377L899 375ZM897 399L902 393L895 390L895 390ZM895 390L902 393L902 392L904 385L899 383L899 383ZM897 367L899 375L908 369L905 366L897 367ZM904 385L902 392L906 386L907 384ZM908 369L909 370L910 369L905 366L905 366ZM904 377L910 373L909 370L908 369L899 375L899 375ZM904 377L907 382L909 377L912 375L910 373ZM910 373L912 375L914 373L910 369L909 370ZM828 357L824 359L821 363L824 362L830 362ZM828 357L830 355L828 353L825 356L824 359ZM830 362L832 361L837 361L840 355L839 355L831 354L830 355L828 357ZM830 355L831 354L834 348L832 350L828 353ZM831 354L839 355L839 350L836 347L834 348ZM839 350L844 346L844 344L845 342L844 341L843 341L836 347ZM840 355L843 356L845 354L844 346L839 350L839 355ZM837 361L840 360L844 358L843 356L840 355ZM844 346L845 354L849 353L850 352L844 344ZM845 342L852 342L854 335L853 335L845 339L844 340L844 341ZM844 344L850 352L856 348L853 343L852 342L845 342ZM843 356L844 358L850 355L850 355L849 353L845 354ZM850 355L860 354L861 352L860 350L860 350L856 348L850 352L849 353ZM856 326L853 335L853 335L854 335L860 333L861 328L861 328L859 325L857 325L857 325ZM852 342L853 343L862 338L860 333L854 335ZM857 325L859 325L860 324L857 325ZM861 328L870 327L870 323L866 323L860 324L859 325ZM856 348L860 350L864 341L862 338L853 343ZM860 350L868 348L870 342L867 340L864 341L860 350ZM862 338L864 341L867 340L869 335L861 328L860 333ZM860 354L861 354L864 353L861 352ZM864 353L869 353L869 349L868 348L860 350L861 352ZM861 328L861 328L869 335L872 333L872 328L870 327ZM869 349L875 347L874 343L870 342L868 348ZM870 342L874 343L877 340L877 336L872 333L869 335L867 340ZM872 328L878 326L879 324L877 321L874 322L870 323L870 327ZM882 357L875 355L874 356L876 359L883 358ZM875 355L876 348L875 347L869 349L869 353L871 353L873 355L874 356ZM874 343L875 347L876 348L884 348L885 342L877 340ZM877 336L880 333L878 326L872 328L872 333ZM878 326L880 333L884 333L887 326L885 324L879 324ZM877 340L885 342L887 340L886 335L884 333L880 333L877 336ZM879 324L885 324L885 320L883 321L877 321ZM882 357L886 349L884 348L876 348L875 355ZM886 349L890 350L895 347L892 341L887 340L885 342L884 348ZM885 324L887 326L891 325L893 319L893 319L892 319L885 320ZM883 358L885 358L891 357L890 350L886 349L882 357ZM886 335L895 332L894 328L891 325L887 326L884 333ZM891 325L894 328L900 324L900 318L893 319ZM891 357L893 356L894 357L899 355L899 348L895 347L890 350ZM893 319L900 318L900 317L893 319ZM887 340L892 341L894 339L896 332L895 332L886 335ZM895 347L899 348L901 347L903 341L894 339L892 341ZM900 324L894 328L895 332L896 332L899 333L901 332L902 325ZM902 325L909 326L911 324L907 317L906 316L900 317L900 317L900 318L900 324ZM894 357L901 363L903 359L899 355ZM903 341L901 347L906 350L909 348L909 340L908 339L904 340ZM904 340L899 333L896 332L894 339L903 341ZM899 348L899 355L903 359L906 358L908 355L906 350L901 347ZM909 367L907 367L909 369ZM899 333L904 340L908 339L909 335L908 331L901 332ZM909 367L911 365L906 358L903 359L901 363L904 365L907 367ZM901 332L908 331L909 326L902 325ZM909 340L915 343L919 339L919 334L919 334L909 335L908 339ZM908 331L909 335L919 334L918 328L915 324L911 324L909 326ZM909 367L909 369L914 373L917 372L918 366L915 364L911 365ZM908 355L917 354L917 354L917 351L915 348L909 348L906 350ZM907 317L911 324L915 324L918 319L916 315L909 316L908 316ZM917 372L923 371L925 368L923 366L918 366ZM909 348L915 348L915 343L909 340ZM918 319L925 318L925 313L918 314L916 315ZM906 358L911 365L915 364L917 354L908 355ZM915 348L917 351L925 345L925 345L919 339L915 343ZM915 324L918 328L924 326L926 324L926 318L925 318L918 319ZM917 354L915 364L918 366L923 366L926 362L926 359L924 357L917 354ZM919 334L919 334L926 334L924 326L918 328ZM925 368L927 362L926 362L923 366ZM917 354L924 357L928 350L925 345L917 351ZM925 345L928 342L927 334L926 334L919 334L919 339ZM924 326L926 334L927 334L931 332L931 327L926 324ZM926 318L932 319L935 311L926 312L925 313L925 318ZM928 350L934 351L936 349L931 342L928 342L925 345L925 345ZM926 359L929 358L931 355L935 353L934 351L928 350L924 357ZM926 324L931 327L934 325L934 320L932 319L926 318ZM926 362L927 362L929 358L926 359ZM931 332L932 333L941 332L941 329L934 325L931 327ZM928 342L931 342L935 339L932 333L931 332L927 334ZM934 351L935 353L942 351L942 351L943 348L941 346L936 349ZM932 319L934 320L938 320L941 315L937 310L935 311L935 311ZM936 349L941 346L942 341L942 340L935 339L931 342ZM934 325L941 329L943 326L938 320L934 320ZM935 339L942 340L941 333L941 332L932 333ZM941 332L941 333L951 332L952 332L949 326L946 324L943 326L941 329ZM943 348L944 349L948 340L942 341L941 346ZM938 320L943 326L946 324L948 317L947 316L941 315ZM941 315L947 316L947 316L944 309L943 309L937 310ZM942 341L948 340L948 340L949 339L951 332L941 333L942 340ZM953 332L952 332L951 332L949 339L955 334L954 333ZM952 332L953 332L953 332L951 325L949 326ZM946 324L949 326L951 325L948 317ZM835 325L834 323L827 328L833 327ZM835 325L833 327L834 327L838 327ZM835 325L838 327L841 326L843 319L842 319L838 319L836 321L834 323ZM842 319L843 319L846 319L848 317L848 314L842 313L841 315ZM841 315L838 319L842 319ZM848 308L849 305L846 308ZM848 314L849 310L848 308L846 308L843 313L842 313ZM841 326L842 326L847 325L846 319L843 319ZM849 310L854 311L849 305L849 305L848 308ZM846 319L847 325L849 325L854 324L854 324L854 321L853 319L848 317ZM848 317L853 319L856 312L855 311L855 311L854 311L849 310L848 314ZM853 319L854 321L862 316L862 314L861 312L856 312ZM856 312L861 312L861 309L855 311ZM854 324L854 324L857 324L856 325L857 325L863 324L864 319L862 316L854 321ZM861 312L862 314L869 312L870 309L866 307L865 307L861 309ZM862 314L862 316L864 319L868 319L871 315L869 312ZM870 309L870 308L869 305L866 307ZM870 309L869 312L871 315L875 316L877 307L876 306L870 308ZM863 324L866 323L871 323L871 322L868 319L864 319ZM871 322L873 322L875 317L875 316L871 315L868 319ZM870 308L876 306L876 300L875 299L874 302L869 305ZM882 284L883 284L883 279L880 278L879 285ZM876 300L881 298L881 293L878 291L877 292L875 299ZM873 322L873 322L874 322L882 321L882 320L877 317L875 317ZM875 317L877 317L882 310L882 309L877 307L875 316ZM881 293L884 290L882 284L879 285L878 291ZM877 307L882 309L883 309L884 308L884 299L881 298L876 300L876 306ZM882 320L884 318L882 310L877 317ZM881 298L884 299L889 298L891 292L884 290L881 293ZM882 284L884 290L891 292L891 292L889 285L889 285L883 284ZM884 318L890 318L890 313L883 309L882 309L882 310ZM882 321L883 321L890 319L890 318L890 318L884 318L882 320ZM890 278L891 273L889 272L886 279ZM891 273L893 272L892 268L890 270L889 272ZM884 299L884 308L890 306L890 299L889 298ZM890 319L892 319L892 319L890 318ZM890 313L891 312L893 308L890 306L884 308L883 309ZM889 285L891 280L890 278L886 279L886 280L883 279L883 284ZM889 285L889 285L896 284L896 281L891 280ZM890 318L892 319L898 318L899 314L891 312L890 313L890 318ZM891 292L889 298L890 299L897 302L898 301L896 291L891 292ZM891 273L890 278L891 280L896 281L898 280L896 272L893 272ZM890 306L893 308L896 307L897 302L890 299ZM896 307L893 308L891 312L899 314L900 313L897 307ZM897 307L904 306L902 300L898 301L897 302L896 307ZM896 281L896 284L897 288L903 285L904 283L903 279L898 280ZM891 292L896 291L896 291L897 288L896 284L889 285ZM896 291L898 301L902 300L903 299L902 293L896 291ZM895 264L897 262L897 262L896 262L895 264ZM897 262L901 262L902 261L897 262ZM893 272L896 272L898 270L895 264L895 264L892 268ZM905 314L904 313L900 313L899 314L898 318L900 317L905 316ZM895 264L898 270L901 270L902 269L901 262L897 262ZM896 272L898 280L903 279L904 279L901 270L898 270ZM900 313L904 313L906 307L904 306L897 307ZM901 270L904 279L909 277L909 270L908 269L902 269ZM896 291L902 293L905 291L903 285L897 288ZM902 269L908 269L909 262L904 261L902 261L901 262ZM902 293L903 299L908 299L911 291L910 291L905 291ZM905 291L910 291L910 286L910 286L904 283L903 285ZM903 279L904 283L910 286L912 279L909 277L904 279ZM904 313L905 314L910 313L911 311L909 306L906 307ZM902 300L904 306L906 307L909 306L911 304L911 302L908 299L903 299ZM909 270L915 270L915 264L914 263L910 262L909 262L908 269ZM909 262L910 262L910 260L905 257L904 261L904 261ZM911 302L917 299L916 292L911 291L908 299ZM911 291L916 292L917 291L917 284L910 286L910 291ZM910 262L914 263L914 263L910 260ZM910 286L917 284L917 283L916 279L912 279L910 286ZM905 316L909 316L911 315L910 313L905 314ZM910 313L911 315L917 314L917 312L911 311ZM909 306L911 311L917 312L917 312L916 307L911 304ZM915 270L916 270L917 266L915 264ZM909 277L912 279L916 279L918 277L918 276L915 275L916 270L915 270L909 270ZM911 304L916 307L920 304L918 299L917 299L911 302ZM917 312L917 314L918 314L926 312L927 312L924 309L917 312ZM917 283L924 285L925 284L924 278L924 278L921 277L918 277L916 279ZM917 284L917 291L922 291L924 285L917 283ZM916 307L917 312L924 309L924 307L923 305L920 304ZM916 292L917 299L918 299L925 297L926 297L925 293L922 291L917 291ZM920 304L923 305L925 297L918 299ZM918 277L921 277L918 276ZM925 297L923 305L924 307L932 303L931 300L926 297ZM925 293L931 290L930 285L925 284L924 285L922 291ZM925 293L926 297L931 300L932 299L933 291L931 290ZM924 309L927 312L933 311L933 304L932 303L924 307ZM925 284L930 285L931 284L931 281L924 278ZM930 285L931 290L933 291L934 291L933 289L932 283L931 284ZM931 284L932 283L932 282L932 282L932 282L931 281ZM932 303L933 304L939 304L939 302L937 302L935 301L935 298L932 299L931 300ZM932 299L935 298L935 295L934 291L933 291ZM939 304L939 304L933 304L933 311L935 311L940 310ZM939 304L939 304L942 304L941 302L939 302ZM940 310L944 309L942 304L939 304ZM838 287L842 294L847 293L847 292L846 286L844 284L838 286ZM838 286L844 284L845 278L843 276L843 276L843 276L838 286ZM852 270L853 269L852 266L848 269L847 270ZM843 276L845 278L852 277L852 270L847 270L843 276ZM848 300L847 293L842 294L846 300ZM849 301L848 300L846 300L848 303ZM848 303L849 305L853 309L855 306L852 301L849 301ZM849 301L852 301L854 299L853 293L851 292L847 292L847 293L848 300ZM844 284L846 286L855 284L854 278L852 277L845 278ZM847 292L851 292L856 285L855 284L846 286ZM861 241L860 236L860 242ZM853 269L859 268L861 263L856 260L855 263L852 266ZM855 306L859 306L862 300L859 297L854 299L852 301ZM852 270L852 277L854 278L863 276L862 271L859 268L853 269ZM851 292L853 293L859 293L860 290L857 286L856 285ZM860 248L859 247L859 251ZM856 285L857 286L864 282L865 277L863 276L854 278L855 284ZM861 263L864 262L864 256L864 256L863 256L863 255L859 253L859 256L856 260ZM859 297L859 293L853 293L854 299ZM853 309L855 311L861 309L861 309L859 306L855 306ZM859 293L859 297L862 300L869 299L869 295L866 290L860 290ZM861 309L861 309L865 307L870 304L870 299L869 299L862 300L859 306ZM859 268L862 271L868 266L866 262L864 262L861 263ZM860 248L862 247L861 241L860 242L859 247ZM863 276L865 277L869 276L869 276L868 266L868 266L862 271ZM860 290L866 290L867 288L864 282L857 286ZM859 251L859 253L863 255L862 247L860 248ZM864 256L865 255L864 256ZM864 282L867 288L875 284L869 276L865 277ZM864 256L864 262L866 262L871 260L870 254L870 254L865 255ZM870 299L875 299L877 292L878 289L877 288L869 295L869 299ZM869 295L877 288L876 284L875 284L867 288L866 290ZM870 254L876 254L877 253L871 254L870 254ZM868 266L868 266L874 266L876 263L871 260L866 262ZM875 284L876 284L878 283L879 274L877 272L876 271L869 276L869 276ZM876 263L877 262L876 254L870 254L871 260ZM869 276L876 271L874 266L868 266ZM876 263L874 266L876 271L877 272L883 269L884 268L885 261L882 261L880 264L880 261L877 262ZM870 299L870 304L874 302L875 299ZM876 254L877 262L880 261L878 253L877 253ZM885 261L885 261L884 259L882 261ZM876 284L877 288L878 289L879 282L878 283ZM877 272L879 274L886 278L887 276L887 276L883 269ZM878 283L879 282L880 278L885 280L886 278L879 274ZM885 261L884 268L890 270L893 266L890 261L885 261ZM886 278L885 280L886 280L887 276ZM887 276L890 270L890 270L884 268L883 269ZM885 261L890 261L893 258L892 252L889 254L884 259ZM893 258L901 258L901 257L902 254L898 250L892 252ZM890 261L893 266L896 262L901 261L901 258L893 258ZM901 258L901 261L904 261L905 259L901 257ZM901 257L905 259L905 257L902 254ZM880 257L880 253L878 253L879 257ZM880 257L879 257L880 264L884 259ZM884 259L887 255L887 251L886 252L880 253L880 257ZM893 250L887 251L887 255L889 254L894 251ZM894 251L898 250L899 251L900 251L902 249L901 249L893 250L893 250ZM900 251L900 252L905 257L907 258L909 258L909 252L904 248L902 249ZM911 260L909 258L907 258L911 261ZM909 252L914 248L913 246L908 247L904 248ZM911 260L915 259L917 258L919 254L916 249L914 248L909 252L909 258ZM915 272L915 275L919 276ZM917 269L916 269L915 272ZM914 248L916 249L921 245L916 246L913 246ZM917 269L921 267L915 259L911 260L911 261L914 263L917 266L916 269ZM919 254L924 253L927 248L926 244L924 244L923 244L921 245L916 249ZM915 259L921 267L925 268L924 260L917 258ZM915 272L915 272L919 276L921 277L925 274L927 269L927 269L925 268L921 267L917 269ZM927 269L927 269L925 261L924 260L924 260L925 268ZM932 266L931 258L930 257L930 261L930 268ZM919 254L917 258L924 260L924 260L923 255L924 253ZM921 277L924 278L929 280L925 274ZM931 258L934 257L934 256L932 249L928 249L929 251L930 257ZM927 269L927 270L927 269L927 269ZM936 275L933 266L932 266L930 268L929 272L935 278ZM925 274L929 280L932 282L932 281L931 279L928 274L927 270L927 269ZM926 244L927 248L927 247L928 249L932 249L931 243L926 244ZM933 266L936 275L943 273L940 268L936 269L936 266ZM936 266L934 257L931 258L932 266L933 266ZM943 273L943 273L936 275L935 278L935 279L936 280L943 277ZM943 273L943 273L947 272L948 269L947 267L940 268ZM943 273L943 277L946 276L947 272ZM941 265L939 260L935 260L936 268ZM939 260L939 259L938 252L937 251L932 248L934 256L935 260ZM943 266L941 265L936 268L936 269L943 268ZM939 259L942 258L939 254L938 252ZM937 251L935 248L935 244L936 241L936 241L931 242L931 243L932 248ZM936 241L936 240L933 240L931 242ZM939 260L941 265L943 266L945 267L946 266L947 265L945 260L942 258L939 259ZM945 267L943 266L943 268L945 267ZM946 266L945 267L945 267L947 267L947 266ZM864 245L864 242L863 240L861 240L862 246ZM859 221L857 216L858 222L858 222ZM858 210L858 207L856 208L856 212ZM856 212L857 216L859 221L863 222L868 212L866 211L858 210ZM863 240L865 232L865 231L859 231L860 236L861 240ZM865 231L865 225L863 222L859 221L858 222L859 231ZM865 246L872 248L875 240L874 239L864 242L864 245ZM864 245L862 246L863 254L865 246ZM865 225L874 222L874 214L872 212L868 212L863 222ZM864 242L874 239L873 233L865 232L863 240ZM858 210L866 211L865 201L861 204L858 207ZM865 201L865 201L866 211L868 212L872 212L874 207L873 205L866 206L865 200ZM865 225L865 231L865 232L873 233L875 231L875 222L874 222ZM874 207L880 204L880 203L874 205L873 205ZM863 254L863 256L864 256L871 254L871 254L873 250L872 248L865 246ZM878 250L873 250L871 254L878 253L880 253ZM874 214L882 214L884 213L884 206L880 204L874 207L872 212ZM875 231L884 232L886 231L879 223L875 222ZM873 250L878 250L882 244L881 242L875 240L872 248ZM875 240L881 242L884 238L884 232L875 231L873 233L874 239ZM878 250L880 253L886 252L891 251L892 249L882 244ZM884 232L884 238L894 240L895 239L894 233L887 230L886 231ZM882 244L892 249L893 247L894 240L884 238L881 242ZM875 222L879 223L883 221L882 214L874 214L874 222ZM883 221L890 221L892 220L891 216L884 213L882 214ZM879 223L886 231L887 230L890 221L883 221ZM880 204L884 206L892 205L893 204L892 201L889 202L881 203L880 203ZM891 216L891 214L892 205L884 206L884 213ZM887 230L894 233L898 229L899 222L898 222L892 220L890 221ZM894 233L895 239L902 239L904 233L898 229ZM893 204L901 204L901 203L901 199L896 200L892 201ZM891 216L892 220L898 222L902 211L891 214ZM894 240L893 247L903 248L905 246L902 240L902 239L895 239ZM891 251L893 250L901 249L904 248L903 248L893 247L892 249ZM892 205L891 214L902 211L903 210L901 204L893 204ZM901 204L903 210L907 212L910 210L911 201L910 201L901 203ZM902 211L898 222L899 222L906 223L909 219L907 212L903 210ZM902 239L902 240L910 238L910 231L904 233ZM898 229L904 233L910 231L910 230L906 223L899 222ZM905 246L908 246L912 241L910 238L902 240ZM906 223L910 230L915 230L919 226L919 222L916 218L909 219ZM901 203L910 201L909 198L904 199L901 199ZM910 201L911 201L916 201L917 196L912 197L909 198ZM909 219L916 218L918 210L910 210L907 212ZM903 248L904 248L908 247L909 247L908 246L905 246ZM912 241L919 242L921 239L915 230L910 230L910 231L910 238ZM908 246L909 247L916 246L919 245L919 242L912 241ZM919 222L924 219L926 213L920 209L918 210L916 218ZM910 210L918 210L920 209L920 204L916 201L911 201ZM919 242L919 245L923 244L929 243L927 238L921 239ZM920 204L925 201L926 194L919 196L917 196L916 201ZM921 239L927 238L928 236L929 232L927 229L919 226L915 230ZM926 213L933 212L933 212L926 202L925 201L920 204L920 209ZM927 229L928 222L924 219L919 222L919 226ZM928 222L936 220L934 213L933 212L926 213L924 219ZM929 232L937 229L937 222L937 221L936 220L928 222L927 229ZM926 202L934 200L931 197L927 194L926 194L925 201ZM927 238L929 243L931 243L933 240L936 240L937 238L928 236ZM933 212L938 205L937 204L934 200L926 202ZM928 236L937 238L940 235L940 231L937 229L929 232ZM933 212L934 213L936 213L939 205L938 205L938 205L933 212ZM936 220L937 221L935 216L936 213L934 213ZM937 229L940 231L942 231L943 228L938 224L937 222ZM940 231L940 235L941 233L942 231ZM941 235L940 234L938 237ZM937 219L936 218L937 221ZM937 219L941 219L945 213L944 211L937 211L935 216L936 218ZM936 246L936 247L942 251L945 255L947 254L938 246L936 246ZM947 254L945 255L946 256L948 254ZM941 244L943 238L941 235L938 237L936 240L936 241L935 244L936 246L938 246ZM938 246L947 254L948 254L950 251L949 247L941 244ZM937 221L938 224L941 227L943 221L941 219L937 219ZM944 211L945 208L939 205L937 211ZM941 235L943 238L950 237L951 231L948 229L943 229L941 233L940 234ZM943 221L948 222L949 221L950 219L950 215L945 213L941 219ZM943 238L941 244L949 247L950 247L951 238L950 237ZM941 227L943 228L943 229L948 229L948 222L943 221ZM945 213L950 215L951 214L952 211L952 211L950 210L945 208L944 211ZM951 231L954 230L954 229L953 222L949 222L949 221L948 222L948 229ZM951 231L950 237L951 238L953 238L954 230ZM950 247L949 247L950 251L952 246ZM951 214L953 214L953 213L954 212L952 211ZM950 247L952 246L952 246L953 238L951 238ZM950 219L951 217L953 214L951 214L950 215ZM866 205L868 206L872 205L874 198L870 195L865 200L866 205ZM873 178L871 178L873 182ZM882 200L877 196L874 198L872 205L874 205L881 203L883 203ZM874 198L877 196L879 186L874 183L875 185L871 194L870 195ZM873 182L874 183L879 186L880 186L885 184L886 175L881 176L873 178ZM886 195L880 186L879 186L877 196L882 200ZM882 200L883 203L889 202L894 201L897 195L896 194L886 195ZM886 195L896 194L894 186L885 184L880 186ZM885 184L894 186L897 183L897 176L895 173L894 173L891 174L886 175ZM903 197L897 195L894 201L896 200L904 199L904 199ZM897 195L903 197L906 194L906 182L906 182L897 183L894 186L896 194ZM895 173L897 176L905 172L906 168L905 167L905 167L898 171L895 172ZM916 160L920 154L915 146L913 146L910 146L906 154L906 155ZM897 183L906 182L907 177L905 172L897 176ZM906 168L912 167L916 164L916 160L906 155L908 164L905 167ZM906 182L917 185L918 178L914 175L907 177L906 182ZM906 194L916 192L917 185L917 185L906 182ZM903 197L904 199L912 197L919 196L916 192L906 194ZM905 172L907 177L914 175L912 167L906 168ZM913 146L915 135L915 136L910 145L910 146ZM912 167L914 175L918 178L925 172L925 170L916 164ZM915 146L923 141L923 134L918 133L915 135L913 146ZM916 192L919 196L919 196L927 194L929 196L929 195L928 188L926 185L917 185ZM920 154L928 154L928 145L923 141L915 146ZM916 164L925 170L927 168L930 156L929 155L928 154L920 154L916 160ZM923 134L926 132L928 128L928 128L921 130L918 133ZM926 132L933 138L937 135L939 126L938 126L938 126L935 126L928 128ZM928 145L933 141L933 138L926 132L923 134L923 141ZM917 185L926 185L930 177L925 172L918 178L917 185ZM925 172L930 177L933 177L938 167L927 168L925 170ZM929 196L931 197L935 202L934 197L934 197L929 195ZM928 188L934 185L935 179L933 177L930 177L926 185ZM929 195L934 197L938 189L934 185L928 188ZM929 155L937 152L940 145L933 141L928 145L928 154ZM927 168L938 167L940 165L930 156ZM935 202L939 205L942 207L947 207L947 206L948 197L934 197ZM930 156L940 165L942 165L946 161L947 159L946 157L937 152L929 155ZM938 167L933 177L935 179L942 178L944 172L942 165L940 165ZM934 197L934 197L948 197L948 196L943 187L938 189ZM937 135L942 138L939 126ZM933 141L940 145L943 144L942 140L942 138L937 135L933 138ZM934 185L938 189L943 187L945 183L942 178L935 179ZM946 157L947 156L946 154L943 144L940 145L937 152ZM945 183L951 183L948 173L944 172L942 178ZM944 172L948 173L948 173L951 172L949 163L946 161L942 165ZM947 207L942 207L947 209ZM947 207L947 209L950 210L952 211L954 212L955 209L955 206L947 206ZM943 187L948 196L951 195L953 191L952 187L951 183L945 183ZM947 159L948 159L947 156L946 157ZM948 197L947 206L955 206L955 203L954 196L951 195L948 196ZM946 161L949 163L948 159L947 159ZM951 195L954 196L953 191ZM960 197L958 194L953 192L955 201ZM954 187L952 187L953 192ZM953 192L953 192L958 194L961 189L960 185L960 185L954 187ZM955 209L955 209L960 205L962 203L964 199L960 197L955 201L955 203L955 208ZM961 189L971 190L970 183L967 184L960 185ZM964 199L971 199L974 192L971 190L961 189L958 194L960 197ZM971 199L964 199L962 203L964 202L971 199ZM971 199L975 198L978 197L979 196L979 196L977 191L974 192L971 199ZM971 190L974 192L977 191L975 182L970 183ZM981 190L976 187L979 196L979 196L980 196ZM977 182L981 181L981 180L976 182ZM976 182L975 182L976 186L977 182ZM976 186L976 187L981 190L985 188L985 187L981 181L977 182ZM980 196L983 194L983 192L987 190L985 188L985 188L981 190ZM953 176L955 171L951 172L948 173L949 177ZM954 186L958 180L953 176L949 177L952 187ZM953 176L958 180L965 180L965 179L962 169L962 169L960 170L955 171ZM954 187L960 185L966 184L965 180L958 180L954 186ZM965 179L970 177L974 170L970 168L969 168L962 169ZM966 184L967 184L975 182L976 182L976 180L970 177L965 179L965 180ZM974 170L978 168L978 166L970 168ZM970 177L976 180L984 178L984 178L983 173L979 169L978 168L974 170ZM976 180L976 182L981 180L984 185L984 178ZM978 168L979 169L986 163L984 162L984 161L984 161L980 162L978 166L978 166ZM986 189L987 190L988 189ZM984 178L990 178L984 172L984 172L983 173ZM984 178L984 185L986 189L988 189L989 187L991 184L992 187L993 182L991 179L990 178L984 178ZM983 173L984 172L988 165L986 163L979 169ZM992 187L992 187L994 187L1001 183L1000 180L999 179L999 181L994 182L993 182ZM1000 180L1001 180L1000 177L999 178L999 179ZM1000 177L999 175L996 175L998 175L999 178ZM1000 180L1001 183L1002 182L1001 180ZM949 150L951 144L949 141L942 138L942 140L945 150ZM950 129L951 122L949 123L942 125L938 126L938 126L940 132ZM949 161L949 151L949 150L945 150L946 154L948 161ZM949 151L961 153L960 151L959 142L951 144L949 150ZM949 141L952 132L950 129L940 132L942 138ZM948 161L951 172L960 170L961 163L949 161ZM952 132L961 134L962 129L955 121L951 122L950 129ZM949 141L951 144L959 142L960 142L960 138L961 134L952 132ZM949 161L961 163L961 162L961 160L961 153L949 151ZM961 163L960 170L960 170L962 169L961 162ZM959 142L960 151L960 149L960 142ZM962 129L963 120L962 119L956 121L955 121ZM964 149L960 144L960 149L961 154ZM961 136L963 134L961 131L960 136ZM964 168L962 167L962 169L963 169ZM961 136L960 138L960 144L964 149L970 148L973 145L967 134L963 134ZM963 134L967 134L970 131L971 127L970 124L970 122L963 120L961 131ZM964 168L968 168L969 168L972 167L975 159L973 157L961 158L961 160L962 167ZM961 154L961 158L973 157L970 148L964 149ZM970 122L967 112L967 112L963 119L963 119L963 120ZM967 134L973 145L977 145L974 136L973 132L970 131ZM964 168L963 169L968 168ZM970 148L973 157L975 159L983 157L982 154L978 147L977 145L973 145ZM970 131L973 132L971 127ZM972 167L978 166L980 162L984 161L984 161L984 157L983 157L975 159ZM983 157L984 157L984 156L984 156L982 154ZM968 115L968 115L980 117L981 115L979 100L978 100L971 100L971 102L970 112L967 112ZM981 126L980 117L968 115L970 124L973 131ZM979 71L979 65L977 64L975 73ZM983 140L984 129L981 126L973 131L974 136L977 144ZM979 65L981 62L978 61L977 64ZM975 73L973 79L973 85L979 87L981 86L982 73L979 71ZM978 100L979 87L973 85L973 96L971 100ZM978 100L979 100L990 99L993 88L981 86L979 87ZM983 154L984 156L985 155L985 154ZM979 71L982 73L995 75L997 71L996 65L991 60L991 60L983 63L981 62L979 65ZM980 117L981 126L984 129L997 129L994 115L992 114L981 115ZM977 144L978 147L983 154L985 154L987 143L989 141L983 140ZM979 100L981 115L992 114L994 103L990 99ZM981 86L993 88L997 85L995 75L982 73ZM983 140L989 141L992 139L996 134L997 129L997 129L984 129ZM993 88L990 99L994 103L1007 102L1008 89L1007 88L997 85ZM996 65L998 64L991 60ZM997 129L997 129L1000 129L1001 121L1009 123L1011 120L1011 120L1011 118L1007 113L994 115ZM997 71L1000 71L998 64L998 64L996 65ZM996 134L999 130L1000 129L997 129ZM992 114L994 115L1007 113L1008 102L1007 102L994 103ZM997 85L1007 88L1005 87L1001 75L1000 71L997 71L995 75ZM1008 102L1021 104L1018 100L1011 92L1008 89L1007 102ZM1007 113L1011 118L1014 116L1017 113L1022 106L1021 104L1008 102ZM1011 118L1011 120L1014 116Z" fill="none" stroke="#fff" stroke-width="0.7" stroke-opacity="0.9"/>
</g>
<path d="M279.3 81.1L280.7 83.0L287.1 84.5L291.5 88.1L292.3 92.7L292.0 97.0L297.8 102.0L304.6 103.4L311.5 104.7L320.9 105.1L329.4 104.0L341.3 104.9L341.7 103.9L348.3 105.5L354.9 107.1L361.5 108.6L368.1 110.1M368.1 110.1L368.5 101.1L368.5 101.1L371.5 87.7L374.5 74.4L377.4 61.1L380.4 47.8M368.1 110.1L371.7 119.6L367.9 127.5L363.8 134.2L358.0 141.6L358.1 147.1L357.6 155.7L355.6 159.6L355.6 159.6L353.2 170.7L350.7 181.7L348.2 192.8M251.2 166.9L257.9 168.9L264.7 171.0L271.5 173.0L278.3 174.9L285.2 176.9L292.0 178.7L298.8 180.6L305.7 182.4L312.5 184.2L319.4 185.9L326.3 187.6L333.2 189.3L340.1 190.9L347.0 192.5L353.9 194.1L360.8 195.6L367.7 197.1L374.7 198.5L381.6 199.9L388.6 201.3L395.5 202.6L402.5 203.9L409.5 205.2L416.4 206.4L423.4 207.6L430.4 208.7M307.9 183.0L305.2 193.3L302.6 203.6L300.0 213.9L297.3 224.2L294.7 234.5L292.1 244.8L297.7 255.0L303.3 265.1L309.1 275.3L315.0 285.4L321.0 295.5L327.1 305.6L333.3 315.6L339.6 325.6L346.0 335.6L352.5 345.6M352.5 345.6L352.3 348.8L354.5 357.8L357.2 362.2L351.8 365.2L349.6 368.6L348.8 374.9L344.6 378.4L343.7 386.8L346.3 390.5L341.8 392.4M352.5 345.6L354.2 341.6L354.5 332.0L355.2 322.4L366.1 322.4L366.1 322.4L368.4 310.3L370.7 298.2L373.0 286.2L375.2 274.1L377.5 262.0L379.9 249.9L382.2 237.7L384.5 225.6L386.8 213.5L389.1 201.4M392.4 50.4L390.2 61.0L388.0 71.5L390.0 83.4L394.2 88.6L400.5 102.9L401.8 106.4L401.5 117.2L397.3 126.1L404.0 126.3L404.3 139.3L408.3 143.3L412.7 152.8L415.1 154.3L420.6 154.2L431.6 153.9L435.6 150.3L438.7 156.2M440.4 145.7L438.7 156.2L437.0 166.7L435.4 177.2L433.7 187.7L432.1 198.2L430.4 208.7L428.7 219.2L427.1 229.7M440.4 145.7L446.9 146.7L453.5 147.7L460.1 148.7L466.7 149.6L473.3 150.5L479.9 151.4L486.5 152.2L493.2 153.0L499.8 153.8L506.4 154.5L513.0 155.2L519.7 155.9L526.3 156.5L532.9 157.1M427.1 229.7L434.1 230.8L441.1 231.9L448.2 233.0L455.2 233.9L453.7 245.3L452.1 256.6L450.6 267.9L449.0 279.2L447.5 290.5L445.9 301.8L444.4 313.1L442.8 324.4L441.3 335.6L439.8 346.9L438.2 358.2L436.7 369.4L435.2 380.6L433.6 391.8L432.1 403.0L430.6 414.2L429.0 425.4L427.5 436.5M455.2 233.9L462.2 234.9L469.3 235.8L476.3 236.7L483.4 237.6L490.5 238.4L497.5 239.2L504.6 239.9L511.7 240.6L518.7 241.3L525.8 241.9L532.9 242.5L540.0 243.0L547.1 243.5L554.2 244.0M540.0 72.6L539.1 83.1L538.3 93.7L537.4 104.2L536.5 114.8L535.6 125.3L534.7 135.9L533.8 146.5L532.9 157.1L532.0 167.7L531.2 178.3L530.3 188.9L529.4 199.5L528.5 210.1L527.6 220.7L526.7 231.3L525.8 241.9M534.6 137.2L541.6 137.8L548.6 138.3L555.6 138.8L562.6 139.3L569.6 139.7L576.6 140.1L583.6 140.4L590.6 140.7L597.7 141.0L604.7 141.2L611.7 141.4L618.7 141.5L625.7 141.6L632.7 141.7M624.8 76.8L626.3 85.2L627.8 95.8L629.2 106.4L629.5 117.0L629.7 127.6L632.3 134.0L632.7 141.7L634.1 155.3L634.1 155.3L634.1 168.0L634.0 180.8L633.9 193.5M529.4 199.5L537.0 200.1L544.6 200.7L552.2 201.2L559.9 201.7L567.5 202.2L575.1 202.6L582.8 202.9L590.4 203.2L598.0 203.5L605.7 203.7L615.2 207.2L623.5 207.3L630.4 211.6L633.8 215.0M633.9 193.5L631.8 210.6L633.8 215.0M633.9 193.5L641.1 193.6L648.2 193.5L655.4 193.5L662.5 193.4L669.7 193.2L676.8 193.0L683.9 192.8L691.1 192.5L698.2 192.2L705.3 191.9M705.3 191.9L699.7 181.5L689.8 172.4L682.9 166.2L683.0 149.2L680.8 141.9L688.5 137.3L688.1 125.2L690.8 123.2M554.2 244.0L553.5 254.6L552.8 265.2L552.2 275.8L551.5 286.4L550.8 297.0L550.2 307.6L549.5 318.2L548.8 328.8M552.8 265.2L560.9 265.7L569.0 266.2L577.1 266.6L585.3 266.9L593.4 267.2L601.5 267.5L609.6 267.7L617.7 267.8L625.8 268.0L634.0 268.0L642.1 268.0L650.2 268.0M633.8 215.0L637.3 225.5L639.4 236.1L642.2 243.6L642.2 253.1L643.4 255.7L650.2 268.0L656.1 276.4L660.6 287.0L660.3 287.0L660.5 300.8L660.7 314.6L660.9 328.4L661.1 342.2M643.4 255.7L650.6 255.7L657.8 255.6L665.1 255.5L672.3 255.3L679.5 255.1L686.7 254.9L693.9 254.6L701.2 254.3L705.8 258.3M705.8 258.3L709.9 249.2L711.4 236.3L719.7 232.7L721.8 221.9L714.3 212.7L706.8 202.5L705.3 191.9M705.8 258.3L704.9 264.4L714.4 279.8L725.2 288.8L725.6 295.1L735.5 311.5L737.6 320.9L744.2 328.3M443.7 318.1L451.4 319.2L459.1 320.2L466.8 321.2L474.6 322.1L482.3 323.0L490.0 323.8L497.8 324.6L505.5 325.4L513.3 326.1L521.0 326.7L528.8 327.4L536.5 328.0L544.3 328.5L552.1 329.0L559.8 329.5L567.6 329.9L575.4 330.3L583.1 330.6L590.9 330.9L598.7 331.1L606.5 331.3L614.2 331.5L622.0 331.6L629.8 331.7L637.6 331.7L645.4 331.7L653.1 331.7L660.9 331.6M534.5 327.8L533.7 338.4L533.0 348.9L532.2 359.5L531.4 370.0L530.7 380.5L529.9 391.1L529.1 401.6L528.4 412.1L527.6 422.5L526.8 433.0L518.5 432.4L510.1 431.7L501.8 430.9L493.5 430.2L485.1 429.3L476.8 428.5L468.5 427.5L467.8 432.1M533.7 338.4L541.3 338.9L548.9 339.4L556.5 339.9L564.1 340.3L571.7 340.7L579.3 341.0L578.7 354.7L578.1 368.4L577.6 382.0L589.8 390.1L598.4 391.4L607.1 392.7L616.4 398.1L624.3 398.8L632.2 399.3L641.7 398.3L651.1 397.2L664.2 402.5M369.2 305.7L376.6 307.1L384.1 308.5L391.5 309.9L398.9 311.2L406.4 312.4L413.8 313.6L421.3 314.8L428.8 316.0L436.2 317.1L443.7 318.1M661.1 342.2L669.6 342.0L678.1 341.8L686.6 341.6L695.1 341.3L703.5 340.9L712.0 340.5L720.5 340.1L729.0 339.6L726.3 350.3L736.1 349.7M661.1 342.2L662.6 353.8L664.2 365.4L664.2 377.8L664.2 390.2L664.2 402.5L671.2 404.3L671.4 415.5M671.4 415.5L682.9 415.2L694.3 414.8L705.8 414.4L717.2 413.8M671.4 415.5L671.6 426.2L671.8 436.9L676.0 447.3L680.3 457.6L678.2 472.3L676.2 485.3M717.2 414.2L717.8 403.7L720.2 388.8L725.1 377.9L731.6 369.1L733.1 356.3L736.1 349.7L738.9 338.9L744.2 328.3M717.2 414.2L719.7 424.6L719.4 435.2L712.9 452.3L711.8 456.5L722.2 456.0L732.6 455.4L742.9 454.7L747.4 471.6M738.9 338.9L749.7 338.1L760.5 337.2L760.2 333.4L768.1 333.0L775.9 332.6L783.8 332.1L791.6 331.5L800.4 330.7L809.1 329.9L817.9 329.0L826.6 328.0L834.2 327.0L841.7 326.0L849.2 325.0L856.8 323.9M826.6 328.0L836.2 321.4L842.6 313.0L849.0 304.5L837.4 286.9M856.8 323.9L853.5 334.9L844.8 339.4L832.2 349.7L825.3 355.9L821.1 362.8M728.6 371.4L736.6 370.9L744.5 370.3L752.5 369.7L760.5 369.1L768.4 368.4L776.4 367.7L784.4 366.9L792.3 366.1L800.3 365.3L808.2 364.4L816.1 363.4L824.1 362.4L832.0 361.4L839.9 360.4M744.2 328.3L753.0 325.1L758.3 316.2L758.6 309.8L765.0 306.0L774.1 307.3L781.2 303.4L789.5 297.2L795.7 285.8L803.3 277.5L816.0 282.3L826.8 285.2L837.4 286.9L842.7 276.5L847.5 269.3L854.6 262.8L858.7 255.7L860.4 236.3M849.0 304.5L854.5 311.2L864.6 307.5L874.3 301.6L877.3 292.5L880.1 278.0L885.8 280.2L889.9 269.7L896.0 262.1L904.2 261.0L905.1 256.7M905.1 256.7L898.1 249.8L888.5 253.8L880.2 263.9L878.4 253.0M878.4 253.0L870.9 254.3L863.5 255.6L860.4 236.3L858.0 222.0L855.7 207.7M878.4 253.0L885.9 251.7L893.4 250.3L900.9 248.9L908.4 247.4L915.9 245.9L923.4 244.3L930.9 242.7L933.7 255.9L936.5 269.1L947.2 266.7M930.9 242.7L933.0 239.6L936.0 239.8M936.0 239.8L941.2 233.2L943.1 228.4L937.7 224.2L935.2 216.0L938.7 205.4L931.1 197.3L926.6 194.0M866.2 206.0L873.8 204.6L881.4 203.2L888.9 201.8L896.5 200.3L904.0 198.8L911.6 197.2L919.1 195.6L926.6 194.0M866.2 206.0L865.2 200.3M938.7 205.4L950.0 210.4L951.6 211.1M954.7 209.3L955.4 202.6L952.0 187.0L948.3 172.6L951.3 171.8L946.0 154.5L942.2 140.1L938.4 125.7M962.3 169.5L960.7 159.6L960.4 148.7L960.1 137.8L963.0 119.5M951.3 171.8L960.2 169.8L969.1 167.8L977.9 165.6L979.9 162.3L983.8 160.8M952.0 187.0L959.6 185.3L967.3 183.6L974.9 181.8L980.6 180.3L987.0 190.1M974.9 181.8L978.6 196.0M984.0 156.3L977.6 147.4L974.0 135.6L970.4 123.7L966.8 111.8M803.3 277.5L802.0 266.5L800.7 255.5L799.5 244.5L798.2 233.5L796.9 222.6L806.4 221.4L816.0 220.1M796.9 222.6L796.7 221.3L789.8 222.1L782.8 222.9L775.8 223.6L768.8 224.3M758.6 309.8L759.9 299.0L764.6 290.1L763.4 276.3L762.3 263.5L761.1 250.8L760.0 238.0L758.9 225.2M753.8 209.9L743.9 210.7L734.1 211.5L724.3 212.1L714.4 212.7M751.7 154.6L745.5 144.4L735.7 136.7L726.9 134.2L718.3 131.5L712.7 126.1M761.1 369.0L759.9 379.7L758.6 390.4L759.8 400.9L761.0 411.3L762.2 421.8L762.1 434.4L763.3 445.0L764.5 455.5L765.7 466.1M801.4 365.1L804.1 376.0L806.9 386.8L809.7 397.6L812.5 408.4L816.9 418.5L816.9 433.3L820.2 447.6M820.2 447.6L811.8 448.6L803.3 449.5L794.8 450.4L786.3 451.2L777.8 452.0L780.7 466.9M820.2 447.6L823.2 453.6L832.0 453.1L840.8 452.5L849.5 451.9L858.3 451.2L867.1 450.5L869.7 445.3L879.4 445.7L880.0 445.6M839.9 360.4L849.2 370.8L857.7 385.5L863.9 395.2L873.7 406.5L884.0 417.0L885.0 417.9M839.9 360.4L850.1 354.6L860.6 353.6L871.1 352.5L873.0 355.4L875.9 359.2L884.5 357.8L893.1 356.3L903.6 364.6L914.2 372.8M856.9 324.8L865.6 323.4L874.3 322.0L883.0 320.5L891.7 319.0L900.4 317.4L909.1 315.8L917.8 314.1L926.4 312.4L935.1 310.6L943.7 308.7M905.1 256.7L914.0 262.9L916.8 265.6L914.8 274.7L923.6 278.3L932.4 281.9M935.4 280.2L946.2 276.1M934.8 244.4L935.5 241.0L936.0 239.8" fill="none" stroke="#000" stroke-width="2" stroke-linejoin="round"/>
<path d="M284.1 35.3L282.4 44.3L284.2 58.2L282.3 66.5L281.4 73.9L279.3 81.1L279.0 86.5L276.0 96.7L269.2 114.6L264.9 126.6L258.6 138.0L251.6 148.3L251.2 166.9L249.8 172.0L246.1 186.5L243.9 191.3L239.0 197.8L242.6 213.2L240.3 223.6L239.3 232.1L244.9 247.1L243.5 253.3L249.8 259.6L248.1 265.7L247.8 272.2L251.5 278.6L254.2 282.9L250.9 286.3L250.0 292.6L255.3 308.0L260.1 315.8L261.6 326.5L259.1 332.8L261.2 336.2L272.6 340.3L278.0 344.3L280.2 348.7L284.4 351.5L289.0 352.4L289.2 358.6L296.2 363.5L302.0 373.5L302.7 381.2L303.3 388.2L312.9 389.4L322.6 390.4L332.2 391.4L341.8 392.4L339.5 396.9L347.2 401.9L355.1 407.0L362.9 412.0L370.8 417.0L378.8 421.9L386.8 426.8L394.9 431.6L404.1 433.1L413.4 434.5L422.6 435.8L431.9 437.1L441.1 438.4L442.3 429.0L451.3 430.2L460.4 431.3L469.4 432.3L476.8 444.3L484.1 453.4L492.3 463.7L498.3 480.0L506.0 488.0L514.1 491.8L519.7 496.0L524.3 490.5L528.3 481.4L538.5 479.9L550.1 481.3L558.0 490.5L564.0 504.3L567.0 512.8L573.5 521.4L580.0 529.9L579.9 534.0L586.2 549.8L593.1 555.1L601.7 559.5L613.8 563.8L620.0 562.9L619.1 559.8L616.8 541.2L619.5 528.8L623.0 520.6L631.6 512.3L640.1 508.2L651.9 500.9L660.2 493.5L676.2 485.3L690.1 483.5L702.0 487.2L712.0 485.8L720.7 492.6L730.8 493.1L737.6 494.8L742.4 490.3L751.1 493.9L757.7 492.4L753.7 483.3L749.9 477.3L744.7 473.5L747.4 471.6L754.2 467.0L765.7 466.1L770.8 467.3L771.8 458.8L776.7 467.9L780.7 466.9L785.6 465.0L797.0 462.8L810.8 467.6L817.5 475.3L823.3 474.6L829.3 468.6L835.7 465.8L838.9 464.3L846.0 467.6L858.0 481.7L865.1 490.2L865.5 504.8L867.0 509.8L869.7 516.7L876.3 526.2L882.6 533.6L888.6 544.2L899.2 549.8L902.6 559.1L912.7 556.0L914.8 552.5L917.4 543.3L915.3 523.2L907.3 506.7L903.4 499.0L900.2 490.0L891.1 475.7L884.2 462.0L880.7 452.0L878.9 445.8L877.5 436.7L880.9 426.6L884.0 417.0L885.5 414.2L889.9 406.0L897.0 399.5L906.0 386.1L909.2 377.0L914.2 372.8L923.4 371.1L930.6 354.6L942.2 351.2L948.3 340.2L954.6 334.5L947.0 315.6L943.7 308.7L940.7 301.8L937.2 302.1L935.4 300.8L935.0 295.4L933.0 289.3L932.2 281.9L930.8 279.0L928.3 274.1L924.8 260.7L922.8 254.6L927.2 247.2L929.5 251.0L930.0 260.7L929.3 271.7L935.4 279.1L938.6 287.1L940.0 297.2L945.3 279.1L947.6 268.8L944.9 260.0L939.2 254.3L935.5 247.6L934.8 244.4L936.2 247.4L942.3 251.5L946.4 256.4L952.3 245.9L954.3 229.1L952.6 221.8L949.0 222.0L951.4 216.6L953.5 212.9L954.7 209.3L960.3 204.7L963.9 201.6L974.6 197.7L978.1 196.8L982.8 194.3L983.4 192.1L987.0 190.1L989.1 187.3L990.8 184.2L992.9 187.8L1002.2 182.1L999.1 174.6L996.3 174.9L998.4 174.8L999.3 180.7L993.9 182.2L990.9 179.1L983.9 172.2L987.6 164.5L984.0 161.8L983.6 156.4L985.1 155.3L986.7 142.7L992.0 139.0L999.4 130.2L1000.9 120.9L1008.6 123.1L1011.3 120.3L1016.7 112.8L1022.4 106.3L1017.8 100.2L1011.4 92.2L1004.8 86.7L1001.3 75.2L997.8 63.8L990.7 59.7L983.4 63.0L978.0 61.3L972.6 79.4L973.3 96.4L970.7 102.0L970.0 112.3L966.8 111.8L962.9 119.2L956.0 121.1L949.0 122.9L942.0 124.6L934.9 126.3L927.9 128.1L920.9 129.9L914.7 135.6L909.9 145.4L905.5 153.9L908.4 164.2L904.8 167.1L897.8 170.8L890.9 174.3L881.1 176.2L871.3 178.0L874.7 185.0L870.7 194.4L865.2 200.3L861.1 204.2L849.6 212.0L841.0 220.8L834.1 222.4L827.2 224.0L816.0 220.1L818.6 213.3L819.8 206.3L821.5 203.3L826.2 197.2L826.4 190.7L820.9 180.3L815.5 169.7L809.7 172.2L804.6 180.9L803.7 173.5L809.5 165.2L807.0 149.4L801.2 142.7L791.6 138.6L788.0 136.2L782.2 146.7L777.9 149.8L770.5 162.3L769.4 177.4L773.3 192.4L773.0 204.5L772.6 216.7L768.8 224.3L763.1 227.9L759.1 226.5L757.7 223.4L753.5 209.9L751.4 198.6L752.9 183.3L753.8 162.9L759.9 149.5L754.7 158.5L747.4 167.3L751.7 154.6L757.7 140.1L763.5 138.5L767.8 134.9L777.2 130.6L787.9 134.3L798.3 130.5L791.1 120.4L783.5 122.4L782.6 115.7L776.1 117.5L769.7 119.3L761.6 125.5L751.7 124.3L739.7 114.0L744.1 104.7L736.3 111.1L726.5 118.9L719.7 122.5L712.7 126.1L706.2 125.9L706.5 118.4L699.6 123.0L690.5 123.4L695.8 117.5L700.7 111.5L712.2 101.1L721.1 95.5L717.3 95.7L710.8 93.8L705.0 92.0L697.0 95.6L691.8 92.6L686.7 90.7L682.8 87.7L678.3 84.3L673.3 84.4L668.9 86.6L662.0 84.0L656.6 81.6L654.7 70.4L653.1 69.0L650.6 68.8L650.7 76.8L644.3 76.8L637.9 76.9L631.6 76.8L625.2 76.8L618.8 76.7L612.5 76.5L606.1 76.4L599.8 76.2L593.4 75.9L587.1 75.7L580.7 75.4L574.3 75.0L568.0 74.6L561.6 74.2L555.3 73.8L548.9 73.3L542.6 72.8L536.3 72.3L529.9 71.7L523.6 71.1L517.3 70.4L510.9 69.7L504.6 69.0L498.3 68.3L492.0 67.5L485.7 66.7L479.4 65.8L473.1 64.9L466.8 64.0L460.5 63.0L454.2 62.0L447.9 61.0L441.6 60.0L435.4 58.9L429.1 57.7L422.8 56.6L416.6 55.4L410.3 54.2L404.1 52.9L397.9 51.6L391.7 50.3L385.4 48.9L379.2 47.5L373.0 46.1L366.8 44.6L360.6 43.1L354.5 41.6L348.3 40.0L342.1 38.4L336.0 36.8L329.8 35.1L323.7 33.4L317.6 31.7L311.4 29.9L313.1 35.9L310.5 45.0L306.5 47.8L302.4 46.0L298.2 45.4L289.1 39.5ZM951.6 218.8L958.9 217.0L965.3 213.1L971.6 209.0L979.1 201.6L973.5 204.6L969.4 206.1L962.7 208.4L954.8 212.1L951.9 215.4Z" fill="none" stroke="#000" stroke-width="2" stroke-linejoin="round"/>
<path d="M742.9 471.8L742.4 472.8L741.0 473.5L739.0 474.0L736.8 474.0L734.8 473.5L733.4 472.8L732.9 471.8L733.4 470.9L734.8 470.1L736.8 469.7L739.0 469.7L741.0 470.1L742.4 470.9Z" fill="#fff" stroke="#000" stroke-width="1.5"/>
<path d="M311.5 36.0L310.5 45.0L308.0 54.0L303.0 62.0L298.0 67.0M250.3 254.8L255.0 256.0L258.0 257.5L264.4 258.0M249.7 259.2L252.0 263.0L256.2 270.0" fill="none" stroke="#000" stroke-width="2.2" stroke-linecap="round" stroke-linejoin="round"/>
<path d="M271.9 349.4L271.3 349.9L269.9 350.2L267.8 350.1L265.7 349.7L263.7 349.1L262.5 348.4L262.1 347.6L262.7 347.1L264.1 346.8L266.2 346.9L268.3 347.3L270.3 347.9L271.5 348.6ZM287.9 365.8L288.2 367.3L288.1 368.6L287.6 369.6L286.7 369.9L285.8 369.5L284.8 368.5L284.1 367.2L283.8 365.7L283.9 364.4L284.4 363.4L285.3 363.1L286.2 363.5L287.2 364.5ZM284.7 376.3L284.8 377.4L284.6 378.3L284.2 378.9L283.7 378.9L283.1 378.6L282.6 377.8L282.3 376.7L282.2 375.6L282.4 374.7L282.8 374.1L283.3 374.1L283.9 374.4L284.4 375.2ZM735.6 90.3L735.5 91.2L734.3 92.6L732.5 94.1L730.2 95.5L728.0 96.5L726.3 97.0L725.4 96.7L725.5 95.8L726.7 94.4L728.5 92.9L730.8 91.5L733.0 90.5L734.7 90.0ZM306.2 38.1L306.5 39.1L306.4 40.1L306.1 40.7L305.6 40.9L304.9 40.6L304.3 39.9L303.8 38.9L303.5 37.9L303.6 36.9L303.9 36.3L304.4 36.1L305.1 36.4L305.7 37.1ZM997.1 192.0L996.9 192.4L996.5 192.8L995.9 193.0L995.1 193.0L994.5 192.8L994.1 192.4L993.9 192.0L994.1 191.6L994.5 191.2L995.1 191.0L995.9 191.0L996.5 191.2L996.9 191.6ZM1005.1 191.0L1004.9 191.4L1004.5 191.8L1003.9 192.0L1003.1 192.0L1002.5 191.8L1002.1 191.4L1001.9 191.0L1002.1 190.6L1002.5 190.2L1003.1 190.0L1003.9 190.0L1004.5 190.2L1004.9 190.6Z" fill="#000"/>
<path d="M69.0 452.5L81.3 447.4L89.5 444.3L101.7 442.3L105.8 445.3L114.0 449.4L122.2 452.5L130.3 455.5L140.6 458.6L142.2 459.6L142.2 526.0L146.7 528.1L150.8 530.1L161.0 534.2L163.0 531.1L167.1 532.2L175.3 544.4L183.5 550.6L191.6 556.7L193.7 562.8L189.6 565.9L183.5 562.8L175.3 556.7L163.0 546.5L152.8 538.3L142.6 532.2L134.4 528.1L126.3 524.0L116.0 519.9L111.9 526.0L105.8 530.1L101.7 530.1L97.6 526.0L91.5 530.1L83.3 536.3L73.1 542.4L60.9 547.5L46.6 551.6L37.4 551.6L37.4 548.1L48.6 544.8L60.9 540.3L70.1 535.2L78.2 529.7L75.2 526.0L67.0 526.0L60.9 524.0L54.7 519.9L52.7 511.7L50.6 503.6L52.7 497.4L58.8 493.3L67.0 491.3L73.1 489.3L75.2 483.1L69.0 481.1L60.9 481.1L57.8 475.0L56.8 468.8L67.0 466.8L73.1 468.8L77.2 464.7L72.1 460.6L69.0 456.6ZM85.4 539.3L91.5 537.3L96.6 540.3L94.6 544.4L88.5 545.4ZM27.2 548.1L32.3 547.5L33.9 549.5L29.2 550.6Z" fill="#e8281e"/>
<g clip-path="url(#ak)"><path d="M60.9 438.2L146.7 438.2L146.7 497.4L118.1 509.7L69.0 509.7L69.0 487.2Z" fill="#fdf84f"/><path d="M73.1 456.6L99.7 462.7L101.7 477.0L79.3 479.0Z" fill="#ef7b49"/><path d="M50.6 464.7L79.3 466.8L79.3 485.2L50.6 485.2Z" fill="#ef7b49"/><path d="M46.6 491.3L69.0 491.3L71.1 509.7L97.6 511.7L97.6 526.0L71.1 528.1L46.6 524.0Z" fill="#e8281e"/><path d="M81.3 515.8L95.6 515.8L95.6 536.3L81.3 536.3Z" fill="#ef7b49"/><path d="M97.6 515.8L116.0 515.8L116.0 532.2L97.6 532.2Z" fill="#e8281e"/><path d="M95.6 501.5L120.1 501.5L120.1 515.8L95.6 515.8Z" fill="#ef7b49"/><path d="M120.1 493.3L146.7 489.3L146.7 515.8L120.1 515.8Z" fill="#e8281e"/><path d="M116.0 490.3L130.3 490.3L130.3 497.4L116.0 497.4Z" fill="#ef7b49"/><path d="M118.1 505.6L146.7 507.6L146.7 526.0L134.4 528.1L118.1 517.9Z" fill="#8c8c8c"/><path d="M130.3 525.0L167.1 528.1L171.2 544.4L161.0 544.4Z" fill="#4a8bf0"/><path d="M161.0 534.2L175.3 538.3L175.3 548.5L163.0 544.4Z" fill="#e8281e"/><path d="M171.2 544.4L179.4 544.4L179.4 552.6L171.2 552.6Z" fill="#4a8bf0"/><path d="M177.3 549.5L195.7 552.6L195.7 564.9L179.4 556.7Z" fill="#ef7b49"/><path d="M175.3 556.7L187.6 556.7L189.6 568.9L175.3 564.9Z" fill="#fdf84f"/><path d="M32.3 542.4L81.3 528.1L85.4 536.3L32.3 554.6Z" fill="#e8281e"/><path d="M60.9 532.2L81.3 528.1L85.4 536.3L65.0 544.4Z" fill="#ef7b49"/></g>
<path d="M69.0 452.5L81.3 447.4L89.5 444.3L101.7 442.3L105.8 445.3L114.0 449.4L122.2 452.5L130.3 455.5L140.6 458.6L142.2 459.6L142.2 526.0L146.7 528.1L150.8 530.1L161.0 534.2L163.0 531.1L167.1 532.2L175.3 544.4L183.5 550.6L191.6 556.7L193.7 562.8L189.6 565.9L183.5 562.8L175.3 556.7L163.0 546.5L152.8 538.3L142.6 532.2L134.4 528.1L126.3 524.0L116.0 519.9L111.9 526.0L105.8 530.1L101.7 530.1L97.6 526.0L91.5 530.1L83.3 536.3L73.1 542.4L60.9 547.5L46.6 551.6L37.4 551.6L37.4 548.1L48.6 544.8L60.9 540.3L70.1 535.2L78.2 529.7L75.2 526.0L67.0 526.0L60.9 524.0L54.7 519.9L52.7 511.7L50.6 503.6L52.7 497.4L58.8 493.3L67.0 491.3L73.1 489.3L75.2 483.1L69.0 481.1L60.9 481.1L57.8 475.0L56.8 468.8L67.0 466.8L73.1 468.8L77.2 464.7L72.1 460.6L69.0 456.6ZM85.4 539.3L91.5 537.3L96.6 540.3L94.6 544.4L88.5 545.4ZM27.2 548.1L32.3 547.5L33.9 549.5L29.2 550.6Z" fill="none" stroke="#000" stroke-width="1.6" stroke-linejoin="round"/>
<path d="M225.2 534.6L229.6 531.7L230.3 533.1L226.7 536.8ZM238.3 537.5L244.1 535.3L249.2 536.8L250.7 541.1L249.2 544.0L244.1 544.0L239.0 541.1ZM260.2 547.7L266.7 547.0L269.6 550.6L273.3 553.5L277.7 557.9L273.3 558.6L266.0 555.7L263.1 552.1ZM287.1 561.5L290.8 560.8L296.6 562.3L302.4 563.7L301.7 565.9L295.1 565.2L287.9 563.7ZM294.4 568.1L299.5 568.8L301.0 572.5L298.1 573.2L295.1 571.0ZM303.9 568.1L308.3 568.1L311.2 571.0L317.0 570.3L321.4 573.2L322.8 576.8L318.5 578.3L312.6 578.3L309.7 574.6L305.3 572.5ZM327.2 587.0L334.5 588.5L343.2 592.9L349.1 595.8L352.0 601.6L359.3 606.0L358.5 608.9L349.1 611.8L341.8 616.2L337.4 614.7L333.0 607.4L330.1 603.1L325.7 597.2L327.9 591.4Z" fill="#ef7b49" stroke="#000" stroke-width="1.6" stroke-linejoin="round"/>
<path d="M537.5 589.2L548.5 585.1L567.6 586.4L597.7 587.0L622.2 587.8L646.8 591.9L659.1 596.0L661.9 605.6L656.4 611.0L652.3 620.6L635.9 622.0L616.8 627.4L597.7 623.3L581.3 624.7L564.9 622.0L551.2 623.3L540.3 627.4L538.9 616.5L534.8 600.1Z" fill="#e8281e"/>
<g clip-path="url(#pr)"><path d="M567.6 581.0L663.2 581.0L663.2 630.2L567.6 630.2Z" fill="#fdf84f"/><path d="M553.9 591.9L581.3 591.9L581.3 608.3L553.9 608.3Z" fill="#ef7b49"/><path d="M567.6 605.6L578.5 605.6L578.5 619.2L567.6 619.2Z" fill="#4a8bf0"/><path d="M605.8 616.5L614.0 616.5L614.0 627.4L605.8 627.4Z" fill="#4a8bf0"/><path d="M625.0 616.5L638.6 616.5L638.6 624.7L625.0 624.7Z" fill="#4a8bf0"/><path d="M589.5 596.0L597.7 596.0L597.7 605.6L589.5 605.6Z" fill="#e8281e"/><path d="M605.8 604.2L611.3 604.2L611.3 611.0L605.8 611.0Z" fill="#e8281e"/><path d="M597.7 587.8L603.1 587.8L603.1 594.6L597.7 594.6Z" fill="#ef7b49"/><path d="M616.8 591.9L649.6 591.9L649.6 605.6L616.8 605.6Z" fill="#ef7b49"/><path d="M649.6 593.3L663.2 593.3L663.2 608.3L649.6 608.3Z" fill="#e8281e"/><path d="M532.1 581.0L567.6 581.0L567.6 630.2L532.1 630.2Z" fill="#e8281e"/><path d="M540.8 612.7L542.0 611.5L541.9 608.4L541.4 607.6L537.0 604.7L536.1 605.4L538.0 612.9ZM536.1 601.8L539.5 598.9L539.1 593.4L536.7 592.7L534.8 600.1L535.2 601.5ZM537.0 604.7L536.1 601.8L535.2 601.5L536.1 605.4ZM539.1 593.4L543.7 591.4L543.2 587.1L537.5 589.2L536.7 592.7ZM536.1 601.8L537.0 604.7L541.4 607.6L541.6 600.1L539.5 598.9ZM541.4 620.1L540.8 612.7L538.0 612.9L538.9 616.5L539.6 621.7ZM541.9 608.4L549.0 602.0L549.0 601.2L548.1 599.7L541.6 600.1L541.4 607.6ZM539.6 621.7L539.7 623.1L540.6 627.3L548.6 624.3L548.4 622.7L541.4 620.1ZM541.6 600.1L548.1 599.7L547.3 593.3L547.2 593.1L543.7 591.4L539.1 593.4L539.5 598.9ZM540.8 612.7L541.4 620.1L548.4 622.7L548.5 622.6L547.2 612.7L542.0 611.5ZM541.9 608.4L542.0 611.5L547.2 612.7L551.3 611.6L551.3 606.0L549.0 602.0ZM549.0 601.2L554.7 599.8L556.0 592.7L547.3 593.3L548.1 599.7ZM543.7 591.4L547.2 593.1L551.4 586.0L550.6 585.2L548.5 585.1L543.2 587.1ZM548.4 622.7L548.6 624.3L551.2 623.3L556.8 622.8L557.3 620.9L553.3 619.3L548.5 622.6ZM548.5 622.6L553.3 619.3L553.9 613.0L551.3 611.6L547.2 612.7ZM551.4 586.0L555.2 586.0L555.4 585.6L550.6 585.2ZM547.3 593.3L556.0 592.7L557.3 591.8L556.1 587.2L555.2 586.0L551.4 586.0L547.2 593.1ZM551.3 611.6L553.9 613.0L557.7 612.1L555.4 606.3L554.6 605.8L551.3 606.0ZM554.7 599.8L549.0 601.2L549.0 602.0L551.3 606.0L554.6 605.8L557.9 601.4ZM557.9 601.4L562.3 602.0L563.8 599.2L562.5 594.7L560.0 592.6L557.3 591.8L556.0 592.7L554.7 599.8ZM560.9 620.1L557.3 620.9L556.8 622.8L561.6 622.3ZM557.7 612.1L561.4 612.0L563.4 607.1L562.9 605.5L555.4 606.3ZM553.3 619.3L557.3 620.9L560.9 620.1L562.6 617.3L562.1 613.5L561.4 612.0L557.7 612.1L553.9 613.0ZM563.8 599.2L571.3 598.3L571.8 594.4L567.6 590.6L562.5 594.7ZM555.4 606.3L562.9 605.5L562.3 602.0L557.9 601.4L554.6 605.8ZM560.9 620.1L561.6 622.3L564.9 622.0L570.5 622.9L570.7 622.2L569.4 620.3L562.6 617.3ZM562.5 594.7L567.6 590.6L568.1 586.5L567.6 586.4L563.9 586.2L560.0 592.6ZM562.3 602.0L562.9 605.5L563.4 607.1L567.8 607.4L568.3 607.1L571.6 598.5L571.3 598.3L563.8 599.2ZM556.1 587.2L560.0 585.9L555.4 585.6L555.2 586.0ZM560.0 592.6L563.9 586.2L560.0 585.9L556.1 587.2L557.3 591.8ZM562.6 617.3L569.4 620.3L571.1 614.1L562.1 613.5ZM577.3 621.1L576.3 620.1L570.7 622.2L570.5 622.9L578.0 624.2ZM570.7 622.2L576.3 620.1L577.6 615.1L575.0 612.7L572.3 613.0L571.1 614.1L569.4 620.3ZM571.8 594.4L574.3 591.9L574.6 587.7L569.4 586.5L568.1 586.5L567.6 590.6ZM562.1 613.5L571.1 614.1L572.3 613.0L567.8 607.4L563.4 607.1L561.4 612.0ZM567.8 607.4L572.3 613.0L575.0 612.7L576.8 604.7L568.3 607.1ZM571.6 598.5L575.4 600.8L579.3 596.4L578.9 593.9L574.3 591.9L571.8 594.4L571.3 598.3ZM571.6 598.5L568.3 607.1L576.8 604.7L576.9 604.6L575.4 600.8ZM574.6 587.7L576.1 586.6L569.4 586.5ZM575.0 612.7L577.6 615.1L583.4 614.3L582.2 605.4L576.9 604.6L576.8 604.7ZM576.9 604.6L582.2 605.4L583.9 604.4L584.0 597.5L579.3 596.4L575.4 600.8ZM577.3 621.1L585.1 621.7L585.4 621.1L584.2 614.8L583.4 614.3L577.6 615.1L576.3 620.1ZM574.3 591.9L578.9 593.9L583.1 588.1L582.8 586.7L576.1 586.6L574.6 587.7ZM578.9 593.9L579.3 596.4L584.0 597.5L584.5 597.1L584.3 589.7L583.1 588.1ZM585.1 621.7L577.3 621.1L578.0 624.2L581.3 624.7L584.6 624.4ZM584.6 624.4L591.1 623.9L589.6 621.3L585.4 621.1L585.1 621.7ZM582.2 605.4L583.4 614.3L584.2 614.8L589.0 613.0L590.8 610.2L590.6 608.0L587.2 604.7L583.9 604.4ZM583.1 588.1L584.3 589.7L589.0 591.8L592.7 589.9L593.3 586.9L582.8 586.7ZM584.0 597.5L583.9 604.4L587.2 604.7L591.8 598.6L589.4 596.8L584.5 597.1ZM585.4 621.1L589.6 621.3L593.4 618.3L589.0 613.0L584.2 614.8ZM584.5 597.1L589.4 596.8L589.0 591.8L584.3 589.7ZM587.2 604.7L590.6 608.0L597.4 603.2L597.0 601.0L594.5 598.5L591.8 598.6ZM589.4 596.8L591.8 598.6L594.5 598.5L595.7 594.1L592.7 589.9L589.0 591.8ZM593.4 618.3L596.3 618.4L597.6 617.1L597.9 614.7L596.0 611.7L590.8 610.2L589.0 613.0ZM595.7 594.1L600.8 591.4L598.5 587.0L597.7 587.0L593.3 586.9L592.7 589.9ZM590.8 610.2L596.0 611.7L599.3 605.3L597.4 603.2L590.6 608.0ZM589.6 621.3L591.1 623.9L597.2 623.4L596.3 618.4L593.4 618.3ZM597.9 614.7L604.8 610.1L603.6 607.1L599.3 605.3L596.0 611.7ZM596.3 618.4L597.2 623.4L597.7 623.3L604.2 624.7L604.4 618.8L597.6 617.1ZM597.4 603.2L599.3 605.3L603.6 607.1L604.9 605.5L604.2 596.8L597.0 601.0ZM594.5 598.5L597.0 601.0L604.2 596.8L604.3 596.7L603.2 592.3L600.8 591.4L595.7 594.1ZM603.2 592.3L604.9 590.6L604.2 587.2L598.5 587.0L600.8 591.4ZM604.2 624.7L609.5 625.9L611.7 624.6L612.2 620.9L605.3 618.1L604.4 618.8ZM597.6 617.1L604.4 618.8L605.3 618.1L607.2 612.2L604.8 610.1L597.9 614.7ZM604.9 590.6L608.9 589.3L609.8 587.4L604.2 587.2ZM603.6 607.1L604.8 610.1L607.2 612.2L609.6 612.1L613.6 607.3L609.9 603.0L604.9 605.5ZM604.9 605.5L609.9 603.0L610.9 598.2L604.3 596.7L604.2 596.8ZM603.2 592.3L604.3 596.7L610.9 598.2L612.1 597.5L613.0 594.5L608.9 589.3L604.9 590.6ZM605.3 618.1L612.2 620.9L614.4 618.1L613.3 615.5L609.6 612.1L607.2 612.2ZM611.7 624.6L617.1 627.3L619.3 626.7L618.3 618.6L614.4 618.1L612.2 620.9ZM613.0 594.5L618.1 591.1L618.5 588.8L617.6 587.7L609.8 587.4L608.9 589.3ZM609.6 612.1L613.3 615.5L618.8 610.4L618.6 608.8L616.6 606.9L613.6 607.3ZM609.9 603.0L613.6 607.3L616.6 606.9L618.2 601.1L612.1 597.5L610.9 598.2ZM609.5 625.9L616.8 627.4L617.1 627.3L611.7 624.6ZM613.0 594.5L612.1 597.5L618.2 601.1L621.6 599.7L621.8 599.4L618.3 591.2L618.1 591.1ZM618.6 608.8L626.2 606.4L621.6 599.7L618.2 601.1L616.6 606.9ZM613.3 615.5L614.4 618.1L618.3 618.6L618.6 618.4L620.4 612.9L618.8 610.4ZM619.3 626.7L624.6 625.2L624.6 619.2L618.6 618.4L618.3 618.6ZM618.8 610.4L620.4 612.9L625.2 613.4L627.7 610.4L626.6 606.6L626.2 606.4L618.6 608.8ZM618.5 588.8L621.5 587.8L617.6 587.7ZM618.3 591.2L626.8 593.9L628.2 592.9L625.3 588.3L622.2 587.8L621.5 587.8L618.5 588.8L618.1 591.1ZM621.8 599.4L624.9 597.5L626.8 593.9L618.3 591.2ZM625.5 618.4L625.2 613.4L620.4 612.9L618.6 618.4L624.6 619.2ZM624.6 619.2L624.6 625.2L633.2 622.7L633.5 620.0L632.9 619.0L625.5 618.4ZM621.6 599.7L626.2 606.4L626.6 606.6L631.7 602.6L631.7 602.3L624.9 597.5L621.8 599.4ZM625.5 618.4L632.9 619.0L633.6 613.2L627.7 610.4L625.2 613.4ZM628.2 592.9L631.1 592.8L633.0 591.0L633.3 589.7L625.3 588.3ZM627.7 610.4L633.6 613.2L634.3 612.7L633.6 604.3L631.7 602.6L626.6 606.6ZM624.9 597.5L631.7 602.3L633.3 599.5L631.1 592.8L628.2 592.9L626.8 593.9ZM633.5 620.0L640.5 619.7L642.0 618.5L639.4 611.3L634.3 612.7L633.6 613.2L632.9 619.0ZM631.7 602.6L633.6 604.3L639.3 605.7L638.7 598.6L633.3 599.5L631.7 602.3ZM639.4 611.3L640.3 610.3L641.0 607.3L639.3 605.7L633.6 604.3L634.3 612.7ZM631.1 592.8L633.3 599.5L638.7 598.6L640.9 596.8L640.7 594.6L633.0 591.0ZM633.2 622.7L635.9 622.0L640.8 621.6L640.5 619.7L633.5 620.0ZM640.7 594.6L642.9 591.3L633.3 589.7L633.0 591.0ZM639.3 605.7L641.0 607.3L644.4 605.4L645.9 600.2L640.9 596.8L638.7 598.6ZM639.4 611.3L642.0 618.5L646.0 618.5L648.0 613.8L640.3 610.3ZM640.7 594.6L640.9 596.8L645.9 600.2L650.2 598.6L648.5 592.5L646.8 591.9L642.9 591.3ZM641.0 607.3L640.3 610.3L648.0 613.8L648.8 613.2L649.1 608.2L644.4 605.4ZM640.5 619.7L640.8 621.6L647.9 621.0L646.0 618.5L642.0 618.5ZM646.0 618.5L647.9 621.0L652.1 620.6L652.3 620.5L653.4 617.9L652.0 614.0L648.8 613.2L648.0 613.8ZM645.9 600.2L644.4 605.4L649.1 608.2L652.8 606.3L651.8 599.0L650.2 598.6ZM650.2 598.6L651.8 599.0L655.2 597.9L655.3 594.7L648.5 592.5ZM652.0 614.0L654.2 612.8L654.7 607.2L652.8 606.3L649.1 608.2L648.8 613.2ZM652.0 614.0L653.4 617.9L655.5 613.1L654.2 612.8ZM654.7 607.2L659.1 606.8L660.8 604.9L660.2 599.6L660.0 599.2L655.2 597.9L651.8 599.0L652.8 606.3ZM655.2 597.9L660.0 599.2L659.1 596.0L655.3 594.7ZM655.5 613.1L656.4 611.0L659.4 608.1L659.1 606.8L654.7 607.2L654.2 612.8ZM659.1 606.8L659.4 608.1L661.9 605.6L661.7 605.1L660.8 604.9ZM660.8 604.9L661.7 605.1L660.2 599.6Z" fill="none" stroke="#fff" stroke-width="0.7"/></g>
<path d="M537.5 589.2L548.5 585.1L567.6 586.4L597.7 587.0L622.2 587.8L646.8 591.9L659.1 596.0L661.9 605.6L656.4 611.0L652.3 620.6L635.9 622.0L616.8 627.4L597.7 623.3L581.3 624.7L564.9 622.0L551.2 623.3L540.3 627.4L538.9 616.5L534.8 600.1Z" fill="none" stroke="#000" stroke-width="1.6" stroke-linejoin="round"/>
<path d="M649.6 619.2L663.2 616.5L672.8 617.9L671.4 622.0L652.3 623.3ZM522.5 619.2L529.3 617.3L532.6 620.6L526.6 623.3ZM663.2 596.0L671.4 597.9L670.1 600.7L664.6 599.6Z" fill="#e8281e" stroke="#000" stroke-width="1.4"/>
<path d="M403.1 572.8L421.4 550.9L472.0 580.4L441.9 617.9L440.5 604.2L437.8 594.6L425.5 585.1L417.3 578.3Z" fill="#fdf84f" stroke="#000" stroke-width="2" stroke-linejoin="round"/>
</svg>
<div class="legend">
<div class="it" style="left:24px"><span class="dot" style="background:#e8281e"></span><span class="tx">High</span></div>
<div class="it" style="left:180px"><span class="dot" style="background:#ef7b49"></span><span class="tx">Substantial</span></div>
<div class="it" style="left:438px"><span class="dot" style="background:#fdf84f"></span><span class="tx">Moderate</span></div>
<div class="it" style="left:676px"><span class="dot" style="background:#4a8bf0"></span><span class="tx">Low</span></div>
<div class="it" style="left:824px"><span class="dot" style="background:#8c8c8c"></span><span class="tx">No Data</span></div>
</div>
</body></html>
